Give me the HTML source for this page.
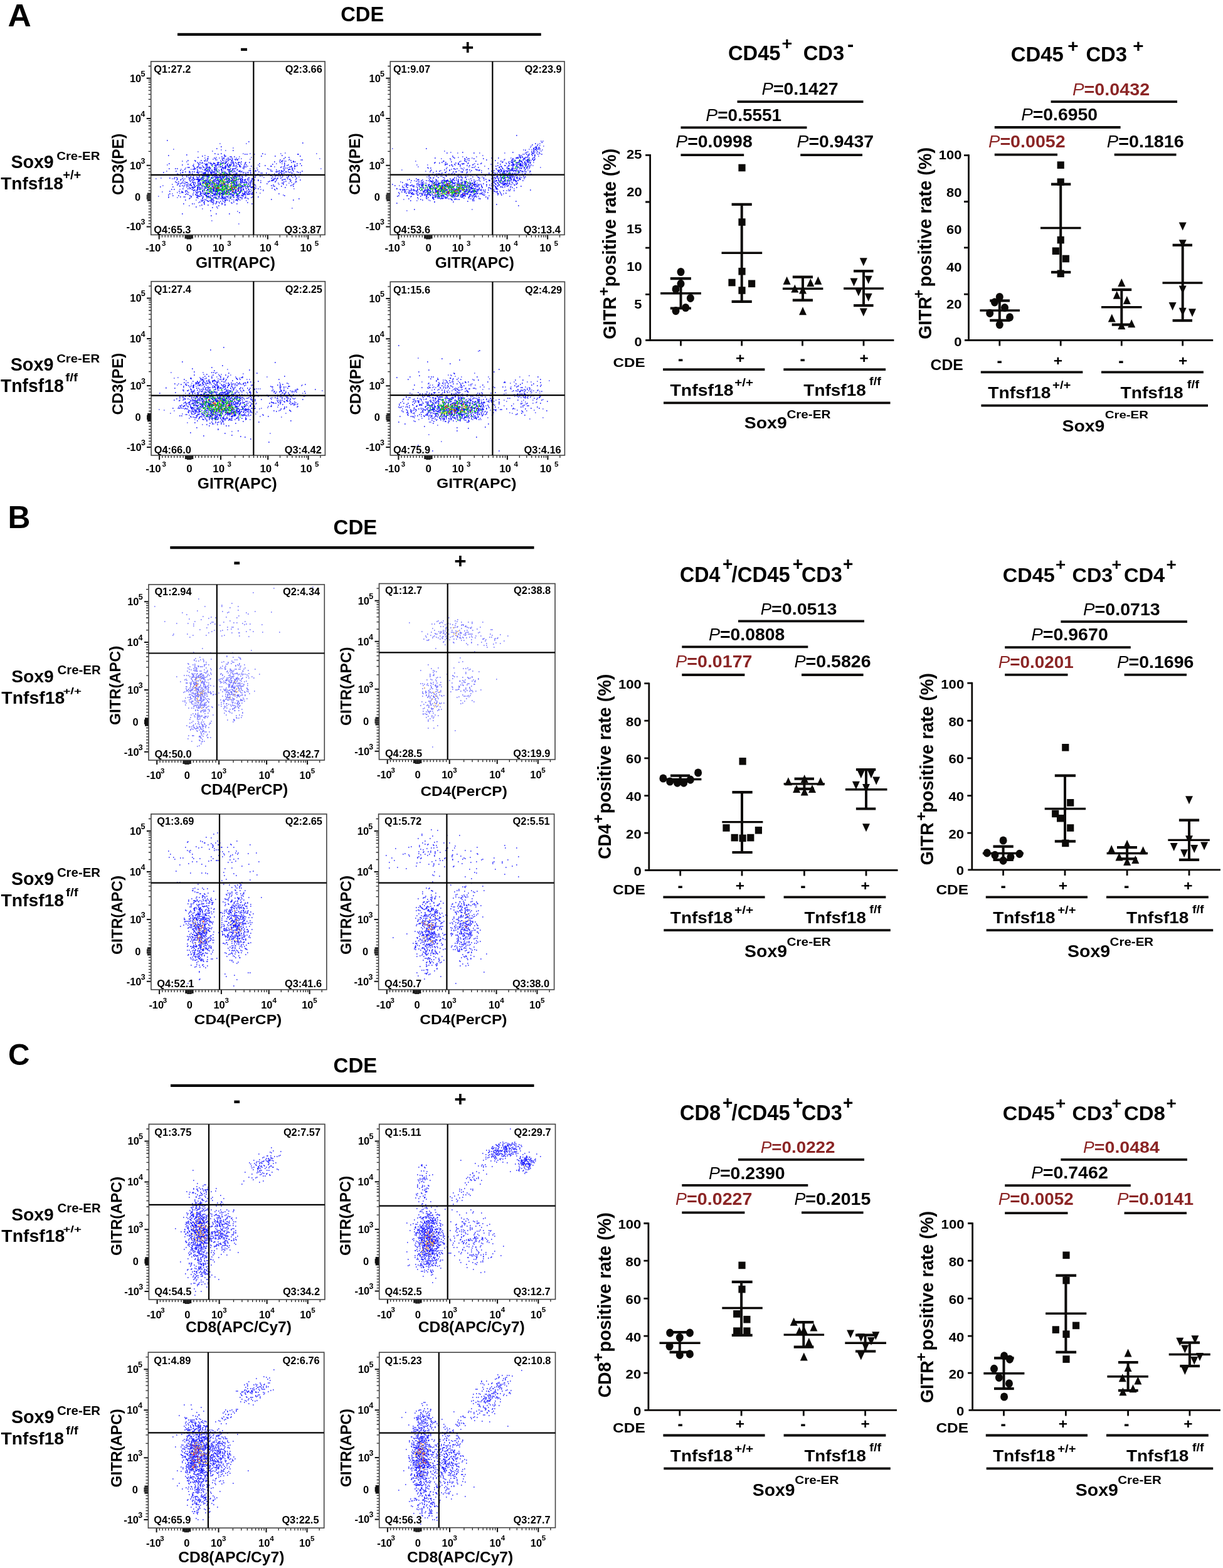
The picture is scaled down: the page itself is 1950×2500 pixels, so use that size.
<!DOCTYPE html>
<html><head><meta charset="utf-8"><title>Figure</title>
<style>html,body{margin:0;padding:0;background:#fff}svg{display:block}text{font-family:"Liberation Sans",Arial,Helvetica,sans-serif}</style>
</head><body>
<svg width="1950" height="2500" viewBox="0 0 1950 2500" shape-rendering="auto">
<rect width="1950" height="2500" fill="#fff"/>
<text x="12.4" y="42.2" font-size="50.43" textLength="37.3" lengthAdjust="spacingAndGlyphs" style="font-weight:bold">A</text>
<text x="543.2" y="33.5" font-size="33.57" textLength="69.0" lengthAdjust="spacingAndGlyphs" style="font-weight:bold">CDE</text>
<path d="M283.0 54.8L862.7 54.8" stroke="#000" stroke-width="4.2"/>
<text x="382.4" y="87.8" font-size="35.00" textLength="13.1" lengthAdjust="spacingAndGlyphs" style="font-weight:bold">-</text>
<text x="736.0" y="86.5" font-size="33.33" style="font-weight:bold">+</text>
<text x="12.6" y="842.2" font-size="49.71" style="font-weight:bold">B</text>
<text x="531.6" y="851.5" font-size="33.00" style="font-weight:bold">CDE</text>
<path d="M271.3 873.1L851.5 873.1" stroke="#000" stroke-width="4.2"/>
<text x="372.0" y="907.3" font-size="37.50" textLength="11.5" lengthAdjust="spacingAndGlyphs" style="font-weight:bold">-</text>
<text x="724.2" y="905.5" font-size="33.14" style="font-weight:bold">+</text>
<text x="12.9" y="1698.2" font-size="47.71" style="font-weight:bold">C</text>
<text x="531.6" y="1709.8" font-size="33.00" style="font-weight:bold">CDE</text>
<path d="M272.0 1730.8L851.5 1730.8" stroke="#000" stroke-width="4.2"/>
<text x="372.0" y="1765.6" font-size="37.50" textLength="11.5" lengthAdjust="spacingAndGlyphs" style="font-weight:bold">-</text>
<text x="724.2" y="1763.8" font-size="33.14" style="font-weight:bold">+</text>
<text x="17.4" y="267.8" font-size="29.71" textLength="68.4" lengthAdjust="spacingAndGlyphs" style="font-weight:bold">Sox9</text>
<text x="90.2" y="255.0" font-size="18.86" textLength="69.2" lengthAdjust="spacingAndGlyphs" style="font-weight:bold">Cre-ER</text>
<text x="1.2" y="301.7" font-size="28.00" style="font-weight:bold">Tnfsf18</text>
<text x="100.2" y="286.2" font-size="19.60" textLength="29.0" lengthAdjust="spacingAndGlyphs" style="font-weight:bold">+/+</text>
<text x="16.7" y="590.6" font-size="29.29" textLength="68.7" lengthAdjust="spacingAndGlyphs" style="font-weight:bold">Sox9</text>
<text x="90.2" y="577.9" font-size="18.43" textLength="68.9" lengthAdjust="spacingAndGlyphs" style="font-weight:bold">Cre-ER</text>
<text x="0.9" y="624.8" font-size="28.97" textLength="100.9" lengthAdjust="spacingAndGlyphs" style="font-weight:bold">Tnfsf18</text>
<text x="104.2" y="608.1" font-size="18.12" textLength="19.8" lengthAdjust="spacingAndGlyphs" style="font-weight:bold">f/f</text>
<text x="18.2" y="1087.7" font-size="28.29" style="font-weight:bold">Sox9</text>
<text x="91.6" y="1075.2" font-size="19.86" textLength="69.0" lengthAdjust="spacingAndGlyphs" style="font-weight:bold">Cre-ER</text>
<text x="2.3" y="1122.2" font-size="28.41" style="font-weight:bold">Tnfsf18</text>
<text x="100.4" y="1106.7" font-size="14.09" textLength="29.6" lengthAdjust="spacingAndGlyphs" style="font-weight:bold">+/+</text>
<text x="17.9" y="1410.8" font-size="29.00" textLength="68.2" lengthAdjust="spacingAndGlyphs" style="font-weight:bold">Sox9</text>
<text x="90.9" y="1397.9" font-size="20.00" textLength="69.1" lengthAdjust="spacingAndGlyphs" style="font-weight:bold">Cre-ER</text>
<text x="1.5" y="1445.1" font-size="28.28" style="font-weight:bold">Tnfsf18</text>
<text x="105.0" y="1429.3" font-size="18.66" textLength="19.7" lengthAdjust="spacingAndGlyphs" style="font-weight:bold">f/f</text>
<text x="18.2" y="1945.5" font-size="28.29" style="font-weight:bold">Sox9</text>
<text x="91.6" y="1933.0" font-size="19.86" textLength="69.0" lengthAdjust="spacingAndGlyphs" style="font-weight:bold">Cre-ER</text>
<text x="2.3" y="1980.0" font-size="28.41" style="font-weight:bold">Tnfsf18</text>
<text x="100.4" y="1964.7" font-size="13.96" textLength="29.6" lengthAdjust="spacingAndGlyphs" style="font-weight:bold">+/+</text>
<text x="17.9" y="2268.7" font-size="28.71" style="font-weight:bold">Sox9</text>
<text x="90.9" y="2255.7" font-size="19.57" textLength="69.1" lengthAdjust="spacingAndGlyphs" style="font-weight:bold">Cre-ER</text>
<text x="1.5" y="2302.9" font-size="28.28" style="font-weight:bold">Tnfsf18</text>
<text x="105.0" y="2287.1" font-size="18.66" textLength="19.7" lengthAdjust="spacingAndGlyphs" style="font-weight:bold">f/f</text>
<path d="M296.4 374.4v4M240.7 318.9h-4M306.2 374.4v4M240.7 309.1h-4M291.7 374.4v4M240.7 323.6h-4M311.3 374.4v4M240.7 304.1h-4M286.9 374.4v4M240.7 328.3h-4M316.3 374.4v4M240.7 299.1h-4M282.2 374.4v4M240.7 333.1h-4M321.4 374.4v4M240.7 294.0h-4M277.5 374.4v4M240.7 337.8h-4M326.4 374.4v4M240.7 289.0h-4M272.7 374.4v4M240.7 342.5h-4M331.5 374.4v4M240.7 284.0h-4M268.0 374.4v4M240.7 347.2h-4M336.5 374.4v4M240.7 278.9h-4M263.2 374.4v4M240.7 352.0h-4M341.6 374.4v4M240.7 273.9h-4M258.5 374.4v4M240.7 356.7h-4M346.6 374.4v4M240.7 268.9h-4M374.3 374.4v4M240.7 241.3h-4M387.5 374.4v4M240.7 228.1h-4M396.9 374.4v4M240.7 218.7h-4M404.2 374.4v4M240.7 211.5h-4M410.2 374.4v4M240.7 205.6h-4M415.2 374.4v4M240.7 200.5h-4M419.6 374.4v4M240.7 196.2h-4M423.4 374.4v4M240.7 192.4h-4M446.2 374.4v4M240.7 169.6h-4M457.5 374.4v4M240.7 158.3h-4M465.6 374.4v4M240.7 150.3h-4M471.8 374.4v4M240.7 144.1h-4M476.9 374.4v4M240.7 139.0h-4M481.2 374.4v4M240.7 134.7h-4M485.0 374.4v4M240.7 131.0h-4M488.2 374.4v4M240.7 127.7h-4M510.6 374.4v4M240.7 105.5h-4" stroke="#222" stroke-width="1.3" fill="none"/>
<path d="M253.7 374.4v7M240.7 361.4h-7M351.7 374.4v7M240.7 263.8h-7M426.8 374.4v7M240.7 188.9h-7M491.2 374.4v7M240.7 124.8h-7" stroke="#111" stroke-width="2" fill="none"/>
<path d="M295.2 374.4v6M240.7 320.1h-6M296.7 374.4v6M240.7 318.6h-6M298.2 374.4v7M240.7 317.1h-7M299.7 374.4v7M240.7 315.6h-7M301.2 374.4v7M240.7 314.1h-7M302.7 374.4v7M240.7 312.6h-7M304.2 374.4v7M240.7 311.1h-7M305.7 374.4v6M240.7 309.6h-6M307.2 374.4v6M240.7 308.1h-6" stroke="#111" stroke-width="1.4" fill="none"/>
<path d="M350 229h1.5m40.5 0h1.5m-22.5 7h1.5m-96.5 2h1.5m74.5 1h1.5m5.5 1h1.5m-22.5 1h1.5m-24.5 1h1.5m137.5 2h1.5m-68.5 1h1.5m9.5 0h1.5m47.5 0h1.5m55.5 0h1.5m-100.5 1h1.5m15.5 0h1.5m-97.5 2h1.5m30.5 1h1.5m6.5 1h1.5m-0.5 0h1.5m12.5 0h1.5m-38.5 1h1.5m54.5 0h1.5m-75.5 1h1.5m21.5 0h1.5m18.5 0h1.5m5.5 0h1.5m-24.5 1h1.5m15.5 0h1.5m8.5 0h1.5m2.5 0h1.5m123.5 0h1.5m-171.5 1h1.5m20.5 0h1.5m2.5 0h1.5m31.5 0h1.5m61.5 0h1.5m-132.5 1h1.5m11.5 0h1.5m0.5 0h1.5m11.5 0h1.5m18.5 0h1.5m80.5 0h1.5m17.5 0h1.5m-155.5 1h1.5m3.5 0h1.5m19.5 0h1.5m10.5 0h1.5m-0.5 0h1.5m2.5 0h1.5m-79.5 1h1.5m37.5 0h1.5m31.5 0h1.5m81.5 0h1.5m6.5 0h1.5m0.5 0h1.5m-159.5 1h1.5m59.5 0h1.5m107.5 0h1.5m-0.5 0h1.5m0.5 0h1.5m-157.5 1h1.5m6.5 0h1.5m8.5 0h1.5m1.5 0h1.5m11.5 0h1.5m5.5 0h1.5m-0.5 0h1.5m2.5 0h1.5m5.5 0h1.5m-53.5 1h1.5m3.5 0h1.5m11.5 0h1.5m5.5 0h1.5m4.5 0h1.5m0.5 0h1.5m4.5 0h1.5m3.5 0h1.5m2.5 0h1.5m18.5 0h1.5m5.5 0h1.5m-66.5 1h1.5m1.5 0h1.5m0.5 0h1.5m4.5 0h1.5m9.5 0h1.5m30.5 0h1.5m59.5 0h1.5m7.5 0h1.5m-142.5 1h1.5m8.5 0h1.5m7.5 0h1.5m18.5 0h1.5m2.5 0h1.5m9.5 0h1.5m15.5 0h1.5m3.5 0h1.5m-119.5 1h1.5m69.5 0h1.5m72.5 0h1.5m-90.5 1h1.5m5.5 0h1.5m11.5 0h1.5m23.5 0h1.5m3.5 0h1.5m79.5 0h1.5m-138.5 1h1.5m40.5 0h1.5m28.5 0h1.5m4.5 0h1.5m74.5 0h1.5m-0.5 0h1.5m-158.5 1h1.5m27.5 0h1.5m3.5 0h1.5m0.5 0h1.5m-0.5 0h1.5m-0.5 0h1.5m-0.5 0h1.5m3.5 0h1.5m31.5 0h1.5m-0.5 0h1.5m43.5 0h1.5m9.5 0h1.5m1.5 0h1.5m8.5 0h1.5m1.5 0h1.5m-167.5 1h1.5m13.5 0h1.5m5.5 0h1.5m9.5 0h1.5m0.5 0h1.5m23.5 0h1.5m3.5 0h1.5m0.5 0h1.5m36.5 0h1.5m55.5 0h1.5m-166.5 1h1.5m17.5 0h1.5m4.5 0h1.5m4.5 0h1.5m1.5 0h1.5m1.5 0h1.5m7.5 0h1.5m0.5 0h1.5m11.5 0h1.5m-0.5 0h1.5m16.5 0h1.5m-0.5 0h1.5m8.5 0h1.5m21.5 0h1.5m41.5 0h1.5m11.5 0h1.5m-0.5 0h1.5m-158.5 1h1.5m8.5 0h1.5m11.5 0h1.5m33.5 0h1.5m29.5 0h1.5m51.5 0h1.5m58.5 0h1.5m-224.5 1h1.5m14.5 0h1.5m16.5 0h1.5m19.5 0h1.5m11.5 0h1.5m4.5 0h1.5m7.5 0h1.5m5.5 0h1.5m48.5 0h1.5m32.5 0h1.5m-149.5 1h1.5m14.5 0h1.5m12.5 0h1.5m-0.5 0h1.5m1.5 0h1.5m2.5 0h1.5m8.5 0h1.5m13.5 0h1.5m-0.5 0h1.5m72.5 0h1.5m11.5 0h1.5m-175.5 1h1.5m44.5 0h1.5m4.5 0h1.5m4.5 0h1.5m2.5 0h1.5m11.5 0h1.5m5.5 0h1.5m21.5 0h1.5m1.5 0h1.5m44.5 0h1.5m-181.5 1h1.5m34.5 0h1.5m12.5 0h1.5m28.5 0h1.5m9.5 0h1.5m11.5 0h1.5m14.5 0h1.5m18.5 0h1.5m24.5 0h1.5m9.5 0h1.5m4.5 0h1.5m-122.5 1h1.5m3.5 0h1.5m2.5 0h1.5m8.5 0h1.5m0.5 0h1.5m15.5 0h1.5m72.5 0h1.5m8.5 0h1.5m3.5 0h1.5m-0.5 0h1.5m6.5 0h1.5m-128.5 1h1.5m3.5 0h1.5m21.5 0h1.5m3.5 0h1.5m0.5 0h1.5m17.5 0h1.5m1.5 0h1.5m53.5 0h1.5m-146.5 1h1.5m17.5 0h1.5m7.5 0h1.5m3.5 0h1.5m28.5 0h1.5m8.5 0h1.5m9.5 0h1.5m16.5 0h1.5m8.5 0h1.5m49.5 0h1.5m-185.5 1h1.5m43.5 0h1.5m7.5 0h1.5m6.5 0h1.5m6.5 0h1.5m4.5 0h1.5m6.5 0h1.5m6.5 0h1.5m23.5 0h1.5m36.5 0h1.5m-117.5 1h1.5m17.5 0h1.5m15.5 0h1.5m16.5 0h1.5m-0.5 0h1.5m3.5 0h1.5m10.5 0h1.5m16.5 0h1.5m-119.5 1h1.5m5.5 0h1.5m19.5 0h1.5m0.5 0h1.5m12.5 0h1.5m0.5 0h1.5m8.5 0h1.5m1.5 0h1.5m14.5 0h1.5m12.5 0h1.5m12.5 0h1.5m13.5 0h1.5m26.5 0h1.5m5.5 0h1.5m1.5 0h1.5m-123.5 1h1.5m-0.5 0h1.5m31.5 0h1.5m13.5 0h1.5m3.5 0h1.5m8.5 0h1.5m-0.5 0h1.5m46.5 0h1.5m-0.5 0h1.5m13.5 0h1.5m3.5 0h1.5m-154.5 1h1.5m18.5 0h1.5m0.5 0h1.5m6.5 0h1.5m10.5 0h1.5m-0.5 0h1.5m5.5 0h1.5m1.5 0h1.5m15.5 0h1.5m2.5 0h1.5m1.5 0h1.5m4.5 0h1.5m24.5 0h1.5m24.5 0h1.5m-147.5 1h1.5m5.5 0h1.5m18.5 0h1.5m15.5 0h1.5m7.5 0h1.5m-0.5 0h1.5m8.5 0h1.5m2.5 0h1.5m7.5 0h1.5m94.5 0h1.5m4.5 0h1.5m-177.5 1h1.5m5.5 0h1.5m7.5 0h1.5m14.5 0h1.5m3.5 0h1.5m1.5 0h1.5m1.5 0h1.5m9.5 0h1.5m13.5 0h1.5m5.5 0h1.5m4.5 0h1.5m2.5 0h1.5m8.5 0h1.5m8.5 0h1.5m12.5 0h1.5m27.5 0h1.5m15.5 0h1.5m-211.5 1h1.5m33.5 0h1.5m8.5 0h1.5m22.5 0h1.5m1.5 0h1.5m0.5 0h1.5m5.5 0h1.5m0.5 0h1.5m4.5 0h1.5m8.5 0h1.5m5.5 0h1.5m10.5 0h1.5m-0.5 0h1.5m3.5 0h1.5m50.5 0h1.5m-185.5 1h1.5m24.5 0h1.5m14.5 0h1.5m2.5 0h1.5m7.5 0h1.5m11.5 0h1.5m35.5 0h1.5m5.5 0h1.5m7.5 0h1.5m0.5 0h1.5m0.5 0h1.5m9.5 0h1.5m15.5 0h1.5m30.5 0h1.5m3.5 0h1.5m-157.5 1h1.5m4.5 0h1.5m22.5 0h1.5m4.5 0h1.5m1.5 0h1.5m-0.5 0h1.5m-0.5 0h1.5m18.5 0h1.5m3.5 0h1.5m19.5 0h1.5m5.5 0h1.5m2.5 0h1.5m0.5 0h1.5m2.5 0h1.5m2.5 0h1.5m-0.5 0h1.5m43.5 0h1.5m-156.5 1h1.5m35.5 0h1.5m9.5 0h1.5m0.5 0h1.5m-0.5 0h1.5m-0.5 0h1.5m5.5 0h1.5m0.5 0h1.5m0.5 0h1.5m0.5 0h1.5m4.5 0h1.5m0.5 0h1.5m9.5 0h1.5m4.5 0h1.5m6.5 0h1.5m9.5 0h1.5m42.5 0h1.5m0.5 0h1.5m-119.5 1h1.5m8.5 0h1.5m-0.5 0h1.5m7.5 0h1.5m0.5 0h1.5m8.5 0h1.5m0.5 0h1.5m9.5 0h1.5m-0.5 0h1.5m-0.5 0h1.5m5.5 0h1.5m0.5 0h1.5m-0.5 0h1.5m9.5 0h1.5m27.5 0h1.5m-125.5 1h1.5m22.5 0h1.5m5.5 0h1.5m6.5 0h1.5m11.5 0h1.5m16.5 0h1.5m8.5 0h1.5m4.5 0h1.5m10.5 0h1.5m0.5 0h1.5m46.5 0h1.5m-146.5 1h1.5m33.5 0h1.5m4.5 0h1.5m2.5 0h1.5m4.5 0h1.5m1.5 0h1.5m-0.5 0h1.5m5.5 0h1.5m1.5 0h1.5m2.5 0h1.5m0.5 0h1.5m5.5 0h1.5m5.5 0h1.5m2.5 0h1.5m87.5 0h1.5m-183.5 1h1.5m4.5 0h1.5m9.5 0h1.5m2.5 0h1.5m11.5 0h1.5m2.5 0h1.5m1.5 0h1.5m-0.5 0h1.5m3.5 0h1.5m16.5 0h1.5m-0.5 0h1.5m2.5 0h1.5m-0.5 0h1.5m14.5 0h1.5m9.5 0h1.5m2.5 0h1.5m70.5 0h1.5m4.5 0h1.5m-179.5 1h1.5m10.5 0h1.5m13.5 0h1.5m4.5 0h1.5m6.5 0h1.5m-0.5 0h1.5m8.5 0h1.5m1.5 0h1.5m3.5 0h1.5m2.5 0h1.5m0.5 0h1.5m2.5 0h1.5m6.5 0h1.5m12.5 0h1.5m3.5 0h1.5m52.5 0h1.5m15.5 0h1.5m-162.5 1h1.5m10.5 0h1.5m14.5 0h1.5m4.5 0h1.5m2.5 0h1.5m0.5 0h1.5m12.5 0h1.5m17.5 0h1.5m6.5 0h1.5m15.5 0h1.5m3.5 0h1.5m64.5 0h1.5m-195.5 1h1.5m25.5 0h1.5m0.5 0h1.5m10.5 0h1.5m13.5 0h1.5m2.5 0h1.5m2.5 0h1.5m5.5 0h1.5m4.5 0h1.5m0.5 0h1.5m1.5 0h1.5m3.5 0h1.5m14.5 0h1.5m9.5 0h1.5m15.5 0h1.5m37.5 0h1.5m-149.5 1h1.5m-0.5 0h1.5m20.5 0h1.5m-0.5 0h1.5m7.5 0h1.5m0.5 0h1.5m4.5 0h1.5m5.5 0h1.5m-0.5 0h1.5m1.5 0h1.5m0.5 0h1.5m0.5 0h1.5m3.5 0h1.5m0.5 0h1.5m1.5 0h1.5m0.5 0h1.5m6.5 0h1.5m0.5 0h1.5m0.5 0h1.5m2.5 0h1.5m6.5 0h1.5m1.5 0h1.5m63.5 0h1.5m7.5 0h1.5m-207.5 1h1.5m25.5 0h1.5m13.5 0h1.5m2.5 0h1.5m32.5 0h1.5m2.5 0h1.5m1.5 0h1.5m6.5 0h1.5m3.5 0h1.5m6.5 0h1.5m2.5 0h1.5m2.5 0h1.5m3.5 0h1.5m-0.5 0h1.5m3.5 0h1.5m6.5 0h1.5m-96.5 1h1.5m10.5 0h1.5m13.5 0h1.5m3.5 0h1.5m4.5 0h1.5m-0.5 0h1.5m2.5 0h1.5m1.5 0h1.5m3.5 0h1.5m6.5 0h1.5m-0.5 0h1.5m-0.5 0h1.5m0.5 0h1.5m4.5 0h1.5m2.5 0h1.5m1.5 0h1.5m0.5 0h1.5m6.5 0h1.5m0.5 0h1.5m0.5 0h1.5m2.5 0h1.5m-0.5 0h1.5m11.5 0h1.5m26.5 0h1.5m-144.5 1h1.5m16.5 0h1.5m3.5 0h1.5m4.5 0h1.5m14.5 0h1.5m6.5 0h1.5m0.5 0h1.5m2.5 0h1.5m6.5 0h1.5m15.5 0h1.5m9.5 0h1.5m-0.5 0h1.5m11.5 0h1.5m-97.5 1h1.5m10.5 0h1.5m2.5 0h1.5m8.5 0h1.5m2.5 0h1.5m4.5 0h1.5m-0.5 0h1.5m2.5 0h1.5m0.5 0h1.5m3.5 0h1.5m0.5 0h1.5m4.5 0h1.5m5.5 0h1.5m5.5 0h1.5m-68.5 1h1.5m9.5 0h1.5m2.5 0h1.5m7.5 0h1.5m6.5 0h1.5m1.5 0h1.5m13.5 0h1.5m-0.5 0h1.5m1.5 0h1.5m2.5 0h1.5m11.5 0h1.5m-0.5 0h1.5m1.5 0h1.5m6.5 0h1.5m47.5 0h1.5m-120.5 1h1.5m3.5 0h1.5m4.5 0h1.5m3.5 0h1.5m2.5 0h1.5m1.5 0h1.5m-0.5 0h1.5m-0.5 0h1.5m3.5 0h1.5m0.5 0h1.5m2.5 0h1.5m0.5 0h1.5m12.5 0h1.5m4.5 0h1.5m0.5 0h1.5m0.5 0h1.5m-0.5 0h1.5m9.5 0h1.5m8.5 0h1.5m61.5 0h1.5m-183.5 1h1.5m17.5 0h1.5m-0.5 0h1.5m11.5 0h1.5m9.5 0h1.5m6.5 0h1.5m6.5 0h1.5m-0.5 0h1.5m-0.5 0h1.5m14.5 0h1.5m1.5 0h1.5m3.5 0h1.5m0.5 0h1.5m1.5 0h1.5m5.5 0h1.5m2.5 0h1.5m9.5 0h1.5m14.5 0h1.5m-109.5 1h1.5m0.5 0h1.5m2.5 0h1.5m15.5 0h1.5m2.5 0h1.5m6.5 0h1.5m11.5 0h1.5m8.5 0h1.5m5.5 0h1.5m2.5 0h1.5m5.5 0h1.5m-0.5 0h1.5m33.5 0h1.5m17.5 0h1.5m-126.5 1h1.5m13.5 0h1.5m9.5 0h1.5m17.5 0h1.5m2.5 0h1.5m36.5 0h1.5m17.5 0h1.5m-131.5 1h1.5m20.5 0h1.5m18.5 0h1.5m0.5 0h1.5m4.5 0h1.5m2.5 0h1.5m11.5 0h1.5m3.5 0h1.5m14.5 0h1.5m0.5 0h1.5m1.5 0h1.5m13.5 0h1.5m-140.5 1h1.5m59.5 0h1.5m14.5 0h1.5m0.5 0h1.5m6.5 0h1.5m-0.5 0h1.5m6.5 0h1.5m1.5 0h1.5m23.5 0h1.5m15.5 0h1.5m-118.5 1h1.5m16.5 0h1.5m6.5 0h1.5m27.5 0h1.5m10.5 0h1.5m5.5 0h1.5m1.5 0h1.5m2.5 0h1.5m4.5 0h1.5m-0.5 0h1.5m0.5 0h1.5m1.5 0h1.5m5.5 0h1.5m5.5 0h1.5m17.5 0h1.5m-123.5 1h1.5m35.5 0h1.5m1.5 0h1.5m-0.5 0h1.5m2.5 0h1.5m-0.5 0h1.5m4.5 0h1.5m12.5 0h1.5m0.5 0h1.5m2.5 0h1.5m14.5 0h1.5m25.5 0h1.5m11.5 0h1.5m-141.5 1h1.5m31.5 0h1.5m10.5 0h1.5m8.5 0h1.5m11.5 0h1.5m2.5 0h1.5m0.5 0h1.5m0.5 0h1.5m1.5 0h1.5m4.5 0h1.5m-0.5 0h1.5m3.5 0h1.5m0.5 0h1.5m3.5 0h1.5m13.5 0h1.5m1.5 0h1.5m1.5 0h1.5m2.5 0h1.5m0.5 0h1.5m-0.5 0h1.5m0.5 0h1.5m-85.5 1h1.5m5.5 0h1.5m-0.5 0h1.5m3.5 0h1.5m8.5 0h1.5m6.5 0h1.5m3.5 0h1.5m-0.5 0h1.5m0.5 0h1.5m9.5 0h1.5m6.5 0h1.5m19.5 0h1.5m4.5 0h1.5m-97.5 1h1.5m32.5 0h1.5m-0.5 0h1.5m-0.5 0h1.5m1.5 0h1.5m6.5 0h1.5m12.5 0h1.5m0.5 0h1.5m5.5 0h1.5m0.5 0h1.5m7.5 0h1.5m61.5 0h1.5m-139.5 1h1.5m6.5 0h1.5m14.5 0h1.5m0.5 0h1.5m3.5 0h1.5m7.5 0h1.5m9.5 0h1.5m5.5 0h1.5m3.5 0h1.5m6.5 0h1.5m0.5 0h1.5m-135.5 1h1.5m74.5 0h1.5m3.5 0h1.5m3.5 0h1.5m7.5 0h1.5m0.5 0h1.5m8.5 0h1.5m0.5 0h1.5m-0.5 0h1.5m3.5 0h1.5m18.5 0h1.5m-96.5 1h1.5m10.5 0h1.5m8.5 0h1.5m13.5 0h1.5m17.5 0h1.5m4.5 0h1.5m1.5 0h1.5m4.5 0h1.5m1.5 0h1.5m1.5 0h1.5m-102.5 1h1.5m12.5 0h1.5m58.5 0h1.5m4.5 0h1.5m29.5 0h1.5m2.5 0h1.5m5.5 0h1.5m-76.5 1h1.5m12.5 0h1.5m6.5 0h1.5m1.5 0h1.5m2.5 0h1.5m5.5 0h1.5m3.5 0h1.5m5.5 0h1.5m1.5 0h1.5m25.5 0h1.5m-93.5 1h1.5m19.5 0h1.5m26.5 0h1.5m5.5 0h1.5m1.5 0h1.5m17.5 0h1.5m-42.5 1h1.5m29.5 0h1.5m9.5 0h1.5m-69.5 1h1.5m40.5 0h1.5m9.5 0h1.5m5.5 0h1.5m1.5 0h1.5m5.5 0h1.5m-47.5 1h1.5m0.5 0h1.5m52.5 0h1.5m-61.5 1h1.5m11.5 0h1.5m18.5 0h1.5m-22.5 1h1.5m2.5 0h1.5m-33.5 1h1.5m6.5 0h1.5m23.5 0h1.5m6.5 0h1.5m-0.5 0h1.5m8.5 0h1.5m-20.5 1h1.5m-41.5 1h1.5m32.5 0h1.5m9.5 0h1.5m-30.5 1h1.5m12.5 0h1.5m12.5 0h1.5m-53.5 2h1.5m15.5 0h1.5m26.5 4h1.5m117.5 0h1.5m-144.5 1h1.5m54.5 4h1.5m-42.5 15h1.5m41.5 5h1.5" stroke="#4848ff" stroke-width="1.5"/>
<path d="M266 224h1.5m128.5 2h1.5m84.5 2h1.5m-131.5 6h1.5m-8.5 3h1.5m24.5 3h1.5m-30.5 5h1.5m8.5 0h1.5m64.5 0h1.5m-72.5 1h1.5m41.5 0h1.5m1.5 0h1.5m79.5 0h1.5m-0.5 0h1.5m-179.5 1h1.5m58.5 0h1.5m-90.5 1h1.5m179.5 0h1.5m-128.5 1h1.5m33.5 0h1.5m0.5 0h1.5m55.5 0h1.5m20.5 0h1.5m38.5 0h1.5m-148.5 1h1.5m20.5 0h1.5m13.5 0h1.5m3.5 0h1.5m-59.5 1h1.5m137.5 0h1.5m4.5 0h1.5m-120.5 1h1.5m12.5 0h1.5m0.5 0h1.5m4.5 0h1.5m-34.5 1h1.5m-0.5 0h1.5m10.5 0h1.5m10.5 0h1.5m95.5 0h1.5m-92.5 1h1.5m1.5 0h1.5m1.5 0h1.5m5.5 0h1.5m1.5 0h1.5m-51.5 1h1.5m25.5 0h1.5m14.5 0h1.5m3.5 0h1.5m1.5 0h1.5m66.5 0h1.5m33.5 0h1.5m-183.5 1h1.5m9.5 0h1.5m8.5 0h1.5m33.5 0h1.5m12.5 0h1.5m79.5 0h1.5m11.5 0h1.5m-153.5 1h1.5m13.5 0h1.5m32.5 0h1.5m86.5 0h1.5m17.5 0h1.5m-116.5 1h1.5m15.5 0h1.5m0.5 0h1.5m11.5 0h1.5m51.5 0h1.5m10.5 0h1.5m16.5 0h1.5m-150.5 1h1.5m26.5 0h1.5m0.5 0h1.5m10.5 0h1.5m13.5 0h1.5m2.5 0h1.5m-0.5 0h1.5m-0.5 0h1.5m8.5 0h1.5m4.5 0h1.5m47.5 0h1.5m16.5 0h1.5m-143.5 1h1.5m16.5 0h1.5m9.5 0h1.5m1.5 0h1.5m3.5 0h1.5m8.5 0h1.5m0.5 0h1.5m-0.5 0h1.5m79.5 0h1.5m-185.5 1h1.5m45.5 0h1.5m17.5 0h1.5m-0.5 0h1.5m2.5 0h1.5m-0.5 0h1.5m-0.5 0h1.5m7.5 0h1.5m0.5 0h1.5m3.5 0h1.5m16.5 0h1.5m12.5 0h1.5m21.5 0h1.5m58.5 0h1.5m3.5 0h1.5m-180.5 1h1.5m27.5 0h1.5m8.5 0h1.5m6.5 0h1.5m14.5 0h1.5m2.5 0h1.5m0.5 0h1.5m2.5 0h1.5m5.5 0h1.5m53.5 0h1.5m17.5 0h1.5m-164.5 1h1.5m24.5 0h1.5m9.5 0h1.5m-0.5 0h1.5m-0.5 0h1.5m-0.5 0h1.5m11.5 0h1.5m0.5 0h1.5m-0.5 0h1.5m0.5 0h1.5m0.5 0h1.5m9.5 0h1.5m2.5 0h1.5m5.5 0h1.5m7.5 0h1.5m6.5 0h1.5m1.5 0h1.5m65.5 0h1.5m8.5 0h1.5m-163.5 1h1.5m28.5 0h1.5m3.5 0h1.5m10.5 0h1.5m3.5 0h1.5m1.5 0h1.5m1.5 0h1.5m-0.5 0h1.5m-0.5 0h1.5m7.5 0h1.5m4.5 0h1.5m38.5 0h1.5m33.5 0h1.5m14.5 0h1.5m5.5 0h1.5m-173.5 1h1.5m34.5 0h1.5m17.5 0h1.5m6.5 0h1.5m1.5 0h1.5m5.5 0h1.5m17.5 0h1.5m11.5 0h1.5m16.5 0h1.5m-0.5 0h1.5m19.5 0h1.5m9.5 0h1.5m3.5 0h1.5m-155.5 1h1.5m6.5 0h1.5m3.5 0h1.5m0.5 0h1.5m1.5 0h1.5m16.5 0h1.5m6.5 0h1.5m-0.5 0h1.5m2.5 0h1.5m11.5 0h1.5m3.5 0h1.5m-0.5 0h1.5m4.5 0h1.5m72.5 0h1.5m4.5 0h1.5m-170.5 1h1.5m-0.5 0h1.5m6.5 0h1.5m7.5 0h1.5m4.5 0h1.5m7.5 0h1.5m6.5 0h1.5m11.5 0h1.5m-0.5 0h1.5m1.5 0h1.5m-0.5 0h1.5m27.5 0h1.5m57.5 0h1.5m-131.5 1h1.5m10.5 0h1.5m3.5 0h1.5m-0.5 0h1.5m5.5 0h1.5m1.5 0h1.5m8.5 0h1.5m1.5 0h1.5m94.5 0h1.5m1.5 0h1.5m-189.5 1h1.5m8.5 0h1.5m1.5 0h1.5m25.5 0h1.5m0.5 0h1.5m15.5 0h1.5m23.5 0h1.5m4.5 0h1.5m9.5 0h1.5m0.5 0h1.5m0.5 0h1.5m12.5 0h1.5m14.5 0h1.5m20.5 0h1.5m37.5 0h1.5m2.5 0h1.5m-176.5 1h1.5m11.5 0h1.5m0.5 0h1.5m16.5 0h1.5m5.5 0h1.5m5.5 0h1.5m1.5 0h1.5m6.5 0h1.5m9.5 0h1.5m1.5 0h1.5m92.5 0h1.5m-0.5 0h1.5m-148.5 1h1.5m9.5 0h1.5m-0.5 0h1.5m-0.5 0h1.5m3.5 0h1.5m3.5 0h1.5m2.5 0h1.5m-0.5 0h1.5m9.5 0h1.5m9.5 0h1.5m-0.5 0h1.5m3.5 0h1.5m38.5 0h1.5m19.5 0h1.5m7.5 0h1.5m11.5 0h1.5m4.5 0h1.5m5.5 0h1.5m-180.5 1h1.5m39.5 0h1.5m0.5 0h1.5m1.5 0h1.5m34.5 0h1.5m11.5 0h1.5m14.5 0h1.5m7.5 0h1.5m39.5 0h1.5m-169.5 1h1.5m47.5 0h1.5m3.5 0h1.5m2.5 0h1.5m5.5 0h1.5m6.5 0h1.5m9.5 0h1.5m1.5 0h1.5m3.5 0h1.5m6.5 0h1.5m-0.5 0h1.5m24.5 0h1.5m24.5 0h1.5m9.5 0h1.5m3.5 0h1.5m0.5 0h1.5m14.5 0h1.5m12.5 0h1.5m-187.5 1h1.5m5.5 0h1.5m2.5 0h1.5m1.5 0h1.5m3.5 0h1.5m2.5 0h1.5m1.5 0h1.5m8.5 0h1.5m7.5 0h1.5m-0.5 0h1.5m-0.5 0h1.5m14.5 0h1.5m6.5 0h1.5m6.5 0h1.5m6.5 0h1.5m0.5 0h1.5m26.5 0h1.5m26.5 0h1.5m-0.5 0h1.5m13.5 0h1.5m1.5 0h1.5m12.5 0h1.5m-214.5 1h1.5m28.5 0h1.5m-0.5 0h1.5m8.5 0h1.5m10.5 0h1.5m0.5 0h1.5m8.5 0h1.5m0.5 0h1.5m6.5 0h1.5m0.5 0h1.5m0.5 0h1.5m12.5 0h1.5m-0.5 0h1.5m-0.5 0h1.5m1.5 0h1.5m27.5 0h1.5m6.5 0h1.5m2.5 0h1.5m45.5 0h1.5m13.5 0h1.5m12.5 0h1.5m1.5 0h1.5m-192.5 1h1.5m26.5 0h1.5m-0.5 0h1.5m6.5 0h1.5m-0.5 0h1.5m0.5 0h1.5m6.5 0h1.5m0.5 0h1.5m5.5 0h1.5m12.5 0h1.5m0.5 0h1.5m15.5 0h1.5m38.5 0h1.5m5.5 0h1.5m18.5 0h1.5m6.5 0h1.5m10.5 0h1.5m-159.5 1h1.5m16.5 0h1.5m0.5 0h1.5m13.5 0h1.5m0.5 0h1.5m6.5 0h1.5m8.5 0h1.5m2.5 0h1.5m24.5 0h1.5m51.5 0h1.5m2.5 0h1.5m-0.5 0h1.5m-167.5 1h1.5m16.5 0h1.5m21.5 0h1.5m4.5 0h1.5m0.5 0h1.5m3.5 0h1.5m23.5 0h1.5m-0.5 0h1.5m1.5 0h1.5m-0.5 0h1.5m3.5 0h1.5m1.5 0h1.5m-0.5 0h1.5m-0.5 0h1.5m4.5 0h1.5m10.5 0h1.5m13.5 0h1.5m16.5 0h1.5m39.5 0h1.5m7.5 0h1.5m-225.5 1h1.5m52.5 0h1.5m3.5 0h1.5m8.5 0h1.5m5.5 0h1.5m8.5 0h1.5m3.5 0h1.5m3.5 0h1.5m9.5 0h1.5m0.5 0h1.5m3.5 0h1.5m4.5 0h1.5m2.5 0h1.5m1.5 0h1.5m5.5 0h1.5m0.5 0h1.5m18.5 0h1.5m25.5 0h1.5m8.5 0h1.5m2.5 0h1.5m0.5 0h1.5m-154.5 1h1.5m15.5 0h1.5m3.5 0h1.5m0.5 0h1.5m5.5 0h1.5m0.5 0h1.5m4.5 0h1.5m4.5 0h1.5m2.5 0h1.5m9.5 0h1.5m-0.5 0h1.5m44.5 0h1.5m22.5 0h1.5m-0.5 0h1.5m-143.5 1h1.5m5.5 0h1.5m23.5 0h1.5m1.5 0h1.5m2.5 0h1.5m1.5 0h1.5m7.5 0h1.5m0.5 0h1.5m-0.5 0h1.5m4.5 0h1.5m2.5 0h1.5m2.5 0h1.5m4.5 0h1.5m4.5 0h1.5m1.5 0h1.5m-0.5 0h1.5m-0.5 0h1.5m2.5 0h1.5m0.5 0h1.5m20.5 0h1.5m9.5 0h1.5m22.5 0h1.5m6.5 0h1.5m2.5 0h1.5m7.5 0h1.5m3.5 0h1.5m4.5 0h1.5m-168.5 1h1.5m8.5 0h1.5m2.5 0h1.5m11.5 0h1.5m-0.5 0h1.5m13.5 0h1.5m-0.5 0h1.5m4.5 0h1.5m0.5 0h1.5m0.5 0h1.5m2.5 0h1.5m9.5 0h1.5m2.5 0h1.5m7.5 0h1.5m-0.5 0h1.5m18.5 0h1.5m26.5 0h1.5m23.5 0h1.5m-182.5 1h1.5m1.5 0h1.5m24.5 0h1.5m5.5 0h1.5m6.5 0h1.5m-0.5 0h1.5m12.5 0h1.5m5.5 0h1.5m0.5 0h1.5m0.5 0h1.5m-0.5 0h1.5m0.5 0h1.5m3.5 0h1.5m3.5 0h1.5m4.5 0h1.5m2.5 0h1.5m84.5 0h1.5m-188.5 1h1.5m30.5 0h1.5m4.5 0h1.5m10.5 0h1.5m0.5 0h1.5m12.5 0h1.5m-0.5 0h1.5m4.5 0h1.5m0.5 0h1.5m4.5 0h1.5m8.5 0h1.5m1.5 0h1.5m2.5 0h1.5m2.5 0h1.5m-0.5 0h1.5m21.5 0h1.5m40.5 0h1.5m2.5 0h1.5m3.5 0h1.5m23.5 0h1.5m-196.5 1h1.5m3.5 0h1.5m23.5 0h1.5m5.5 0h1.5m4.5 0h1.5m8.5 0h1.5m20.5 0h1.5m-0.5 0h1.5m10.5 0h1.5m2.5 0h1.5m11.5 0h1.5m1.5 0h1.5m7.5 0h1.5m5.5 0h1.5m-0.5 0h1.5m-0.5 0h1.5m31.5 0h1.5m3.5 0h1.5m15.5 0h1.5m-158.5 1h1.5m6.5 0h1.5m-0.5 0h1.5m1.5 0h1.5m-0.5 0h1.5m-0.5 0h1.5m-0.5 0h1.5m-0.5 0h1.5m-0.5 0h1.5m-0.5 0h1.5m2.5 0h1.5m10.5 0h1.5m5.5 0h1.5m2.5 0h1.5m2.5 0h1.5m1.5 0h1.5m3.5 0h1.5m0.5 0h1.5m2.5 0h1.5m-0.5 0h1.5m10.5 0h1.5m0.5 0h1.5m2.5 0h1.5m1.5 0h1.5m64.5 0h1.5m0.5 0h1.5m5.5 0h1.5m-0.5 0h1.5m7.5 0h1.5m-185.5 1h1.5m3.5 0h1.5m11.5 0h1.5m-0.5 0h1.5m7.5 0h1.5m10.5 0h1.5m0.5 0h1.5m9.5 0h1.5m9.5 0h1.5m7.5 0h1.5m8.5 0h1.5m2.5 0h1.5m7.5 0h1.5m1.5 0h1.5m1.5 0h1.5m-0.5 0h1.5m2.5 0h1.5m0.5 0h1.5m3.5 0h1.5m2.5 0h1.5m4.5 0h1.5m22.5 0h1.5m3.5 0h1.5m7.5 0h1.5m-0.5 0h1.5m26.5 0h1.5m-177.5 1h1.5m4.5 0h1.5m6.5 0h1.5m-0.5 0h1.5m-0.5 0h1.5m5.5 0h1.5m-0.5 0h1.5m17.5 0h1.5m0.5 0h1.5m-0.5 0h1.5m1.5 0h1.5m1.5 0h1.5m7.5 0h1.5m3.5 0h1.5m-0.5 0h1.5m1.5 0h1.5m2.5 0h1.5m5.5 0h1.5m-0.5 0h1.5m14.5 0h1.5m9.5 0h1.5m19.5 0h1.5m-0.5 0h1.5m-0.5 0h1.5m27.5 0h1.5m-161.5 1h1.5m11.5 0h1.5m-0.5 0h1.5m8.5 0h1.5m3.5 0h1.5m1.5 0h1.5m1.5 0h1.5m0.5 0h1.5m0.5 0h1.5m5.5 0h1.5m-0.5 0h1.5m1.5 0h1.5m-0.5 0h1.5m0.5 0h1.5m4.5 0h1.5m2.5 0h1.5m0.5 0h1.5m-0.5 0h1.5m1.5 0h1.5m11.5 0h1.5m12.5 0h1.5m28.5 0h1.5m24.5 0h1.5m5.5 0h1.5m7.5 0h1.5m-193.5 1h1.5m3.5 0h1.5m20.5 0h1.5m7.5 0h1.5m7.5 0h1.5m-0.5 0h1.5m4.5 0h1.5m-0.5 0h1.5m5.5 0h1.5m7.5 0h1.5m-0.5 0h1.5m8.5 0h1.5m0.5 0h1.5m2.5 0h1.5m6.5 0h1.5m0.5 0h1.5m5.5 0h1.5m2.5 0h1.5m4.5 0h1.5m2.5 0h1.5m3.5 0h1.5m24.5 0h1.5m9.5 0h1.5m12.5 0h1.5m-172.5 1h1.5m13.5 0h1.5m0.5 0h1.5m7.5 0h1.5m0.5 0h1.5m4.5 0h1.5m1.5 0h1.5m2.5 0h1.5m0.5 0h1.5m3.5 0h1.5m1.5 0h1.5m0.5 0h1.5m3.5 0h1.5m0.5 0h1.5m20.5 0h1.5m-0.5 0h1.5m5.5 0h1.5m0.5 0h1.5m1.5 0h1.5m5.5 0h1.5m-0.5 0h1.5m0.5 0h1.5m0.5 0h1.5m0.5 0h1.5m1.5 0h1.5m3.5 0h1.5m-0.5 0h1.5m14.5 0h1.5m-127.5 1h1.5m31.5 0h1.5m0.5 0h1.5m2.5 0h1.5m4.5 0h1.5m1.5 0h1.5m1.5 0h1.5m2.5 0h1.5m-0.5 0h1.5m-0.5 0h1.5m0.5 0h1.5m2.5 0h1.5m2.5 0h1.5m10.5 0h1.5m1.5 0h1.5m3.5 0h1.5m71.5 0h1.5m0.5 0h1.5m-169.5 1h1.5m-0.5 0h1.5m1.5 0h1.5m5.5 0h1.5m12.5 0h1.5m5.5 0h1.5m0.5 0h1.5m0.5 0h1.5m5.5 0h1.5m-0.5 0h1.5m0.5 0h1.5m3.5 0h1.5m4.5 0h1.5m-0.5 0h1.5m-0.5 0h1.5m5.5 0h1.5m6.5 0h1.5m-0.5 0h1.5m3.5 0h1.5m2.5 0h1.5m4.5 0h1.5m-0.5 0h1.5m1.5 0h1.5m13.5 0h1.5m1.5 0h1.5m2.5 0h1.5m24.5 0h1.5m-123.5 1h1.5m3.5 0h1.5m8.5 0h1.5m-0.5 0h1.5m6.5 0h1.5m1.5 0h1.5m-0.5 0h1.5m4.5 0h1.5m2.5 0h1.5m4.5 0h1.5m-0.5 0h1.5m1.5 0h1.5m1.5 0h1.5m1.5 0h1.5m13.5 0h1.5m6.5 0h1.5m0.5 0h1.5m-0.5 0h1.5m10.5 0h1.5m6.5 0h1.5m46.5 0h1.5m14.5 0h1.5m-186.5 1h1.5m14.5 0h1.5m3.5 0h1.5m4.5 0h1.5m4.5 0h1.5m11.5 0h1.5m-0.5 0h1.5m-0.5 0h1.5m3.5 0h1.5m4.5 0h1.5m8.5 0h1.5m0.5 0h1.5m4.5 0h1.5m1.5 0h1.5m5.5 0h1.5m3.5 0h1.5m-0.5 0h1.5m0.5 0h1.5m19.5 0h1.5m6.5 0h1.5m27.5 0h1.5m-146.5 1h1.5m1.5 0h1.5m9.5 0h1.5m3.5 0h1.5m2.5 0h1.5m2.5 0h1.5m2.5 0h1.5m6.5 0h1.5m-0.5 0h1.5m14.5 0h1.5m-0.5 0h1.5m4.5 0h1.5m-0.5 0h1.5m3.5 0h1.5m0.5 0h1.5m-0.5 0h1.5m5.5 0h1.5m1.5 0h1.5m3.5 0h1.5m-0.5 0h1.5m3.5 0h1.5m0.5 0h1.5m3.5 0h1.5m6.5 0h1.5m32.5 0h1.5m29.5 0h1.5m-178.5 1h1.5m35.5 0h1.5m4.5 0h1.5m2.5 0h1.5m3.5 0h1.5m0.5 0h1.5m1.5 0h1.5m3.5 0h1.5m1.5 0h1.5m-0.5 0h1.5m-0.5 0h1.5m3.5 0h1.5m2.5 0h1.5m3.5 0h1.5m6.5 0h1.5m9.5 0h1.5m9.5 0h1.5m4.5 0h1.5m32.5 0h1.5m9.5 0h1.5m17.5 0h1.5m-213.5 1h1.5m18.5 0h1.5m20.5 0h1.5m8.5 0h1.5m1.5 0h1.5m3.5 0h1.5m9.5 0h1.5m0.5 0h1.5m0.5 0h1.5m0.5 0h1.5m23.5 0h1.5m6.5 0h1.5m2.5 0h1.5m-0.5 0h1.5m1.5 0h1.5m0.5 0h1.5m3.5 0h1.5m9.5 0h1.5m2.5 0h1.5m2.5 0h1.5m1.5 0h1.5m10.5 0h1.5m-114.5 1h1.5m3.5 0h1.5m1.5 0h1.5m3.5 0h1.5m-0.5 0h1.5m1.5 0h1.5m6.5 0h1.5m2.5 0h1.5m0.5 0h1.5m5.5 0h1.5m-0.5 0h1.5m5.5 0h1.5m-0.5 0h1.5m-0.5 0h1.5m3.5 0h1.5m3.5 0h1.5m-0.5 0h1.5m14.5 0h1.5m2.5 0h1.5m-0.5 0h1.5m0.5 0h1.5m-0.5 0h1.5m-0.5 0h1.5m7.5 0h1.5m4.5 0h1.5m-0.5 0h1.5m2.5 0h1.5m47.5 0h1.5m-152.5 1h1.5m2.5 0h1.5m5.5 0h1.5m10.5 0h1.5m0.5 0h1.5m6.5 0h1.5m3.5 0h1.5m1.5 0h1.5m-0.5 0h1.5m1.5 0h1.5m9.5 0h1.5m0.5 0h1.5m4.5 0h1.5m0.5 0h1.5m-0.5 0h1.5m1.5 0h1.5m32.5 0h1.5m24.5 0h1.5m-143.5 1h1.5m6.5 0h1.5m1.5 0h1.5m11.5 0h1.5m1.5 0h1.5m15.5 0h1.5m2.5 0h1.5m5.5 0h1.5m5.5 0h1.5m4.5 0h1.5m-0.5 0h1.5m-0.5 0h1.5m3.5 0h1.5m-0.5 0h1.5m-0.5 0h1.5m0.5 0h1.5m7.5 0h1.5m6.5 0h1.5m3.5 0h1.5m9.5 0h1.5m6.5 0h1.5m28.5 0h1.5m-169.5 1h1.5m2.5 0h1.5m35.5 0h1.5m1.5 0h1.5m6.5 0h1.5m3.5 0h1.5m-0.5 0h1.5m-0.5 0h1.5m2.5 0h1.5m1.5 0h1.5m-0.5 0h1.5m0.5 0h1.5m0.5 0h1.5m-0.5 0h1.5m1.5 0h1.5m0.5 0h1.5m-0.5 0h1.5m3.5 0h1.5m3.5 0h1.5m0.5 0h1.5m1.5 0h1.5m2.5 0h1.5m-0.5 0h1.5m14.5 0h1.5m7.5 0h1.5m7.5 0h1.5m30.5 0h1.5m-128.5 1h1.5m2.5 0h1.5m7.5 0h1.5m6.5 0h1.5m3.5 0h1.5m2.5 0h1.5m2.5 0h1.5m5.5 0h1.5m3.5 0h1.5m5.5 0h1.5m0.5 0h1.5m2.5 0h1.5m0.5 0h1.5m2.5 0h1.5m2.5 0h1.5m-0.5 0h1.5m2.5 0h1.5m1.5 0h1.5m7.5 0h1.5m-102.5 1h1.5m0.5 0h1.5m9.5 0h1.5m12.5 0h1.5m1.5 0h1.5m8.5 0h1.5m2.5 0h1.5m0.5 0h1.5m2.5 0h1.5m-0.5 0h1.5m0.5 0h1.5m-0.5 0h1.5m-0.5 0h1.5m0.5 0h1.5m0.5 0h1.5m0.5 0h1.5m3.5 0h1.5m1.5 0h1.5m1.5 0h1.5m-0.5 0h1.5m1.5 0h1.5m2.5 0h1.5m2.5 0h1.5m2.5 0h1.5m-0.5 0h1.5m7.5 0h1.5m-124.5 1h1.5m13.5 0h1.5m31.5 0h1.5m2.5 0h1.5m16.5 0h1.5m1.5 0h1.5m-0.5 0h1.5m-0.5 0h1.5m6.5 0h1.5m-0.5 0h1.5m1.5 0h1.5m1.5 0h1.5m5.5 0h1.5m2.5 0h1.5m1.5 0h1.5m-0.5 0h1.5m2.5 0h1.5m8.5 0h1.5m6.5 0h1.5m-108.5 1h1.5m3.5 0h1.5m1.5 0h1.5m14.5 0h1.5m0.5 0h1.5m5.5 0h1.5m10.5 0h1.5m-0.5 0h1.5m4.5 0h1.5m0.5 0h1.5m0.5 0h1.5m13.5 0h1.5m-0.5 0h1.5m0.5 0h1.5m4.5 0h1.5m-0.5 0h1.5m10.5 0h1.5m6.5 0h1.5m-0.5 0h1.5m1.5 0h1.5m-107.5 1h1.5m0.5 0h1.5m19.5 0h1.5m5.5 0h1.5m5.5 0h1.5m1.5 0h1.5m15.5 0h1.5m1.5 0h1.5m4.5 0h1.5m1.5 0h1.5m12.5 0h1.5m0.5 0h1.5m0.5 0h1.5m4.5 0h1.5m6.5 0h1.5m4.5 0h1.5m4.5 0h1.5m-90.5 1h1.5m-0.5 0h1.5m4.5 0h1.5m5.5 0h1.5m2.5 0h1.5m0.5 0h1.5m-0.5 0h1.5m1.5 0h1.5m0.5 0h1.5m2.5 0h1.5m2.5 0h1.5m4.5 0h1.5m-0.5 0h1.5m1.5 0h1.5m0.5 0h1.5m0.5 0h1.5m2.5 0h1.5m9.5 0h1.5m3.5 0h1.5m3.5 0h1.5m5.5 0h1.5m-124.5 1h1.5m25.5 0h1.5m21.5 0h1.5m1.5 0h1.5m1.5 0h1.5m2.5 0h1.5m0.5 0h1.5m7.5 0h1.5m1.5 0h1.5m3.5 0h1.5m-0.5 0h1.5m0.5 0h1.5m-0.5 0h1.5m-0.5 0h1.5m0.5 0h1.5m3.5 0h1.5m-0.5 0h1.5m3.5 0h1.5m-0.5 0h1.5m8.5 0h1.5m0.5 0h1.5m5.5 0h1.5m0.5 0h1.5m-0.5 0h1.5m4.5 0h1.5m46.5 0h1.5m-150.5 1h1.5m2.5 0h1.5m10.5 0h1.5m6.5 0h1.5m4.5 0h1.5m13.5 0h1.5m1.5 0h1.5m0.5 0h1.5m3.5 0h1.5m2.5 0h1.5m0.5 0h1.5m1.5 0h1.5m5.5 0h1.5m2.5 0h1.5m6.5 0h1.5m7.5 0h1.5m0.5 0h1.5m3.5 0h1.5m-0.5 0h1.5m4.5 0h1.5m-134.5 1h1.5m42.5 0h1.5m0.5 0h1.5m11.5 0h1.5m-0.5 0h1.5m5.5 0h1.5m4.5 0h1.5m6.5 0h1.5m21.5 0h1.5m4.5 0h1.5m5.5 0h1.5m4.5 0h1.5m-117.5 1h1.5m7.5 0h1.5m16.5 0h1.5m11.5 0h1.5m3.5 0h1.5m6.5 0h1.5m-0.5 0h1.5m7.5 0h1.5m13.5 0h1.5m15.5 0h1.5m-0.5 0h1.5m3.5 0h1.5m1.5 0h1.5m0.5 0h1.5m3.5 0h1.5m65.5 0h1.5m-150.5 1h1.5m10.5 0h1.5m-0.5 0h1.5m-0.5 0h1.5m3.5 0h1.5m4.5 0h1.5m0.5 0h1.5m-0.5 0h1.5m19.5 0h1.5m23.5 0h1.5m-111.5 1h1.5m17.5 0h1.5m5.5 0h1.5m8.5 0h1.5m8.5 0h1.5m15.5 0h1.5m2.5 0h1.5m5.5 0h1.5m5.5 0h1.5m2.5 0h1.5m0.5 0h1.5m4.5 0h1.5m9.5 0h1.5m5.5 0h1.5m10.5 0h1.5m9.5 0h1.5m7.5 0h1.5m-99.5 1h1.5m8.5 0h1.5m7.5 0h1.5m0.5 0h1.5m4.5 0h1.5m2.5 0h1.5m8.5 0h1.5m2.5 0h1.5m12.5 0h1.5m3.5 0h1.5m3.5 0h1.5m1.5 0h1.5m13.5 0h1.5m-99.5 1h1.5m18.5 0h1.5m19.5 0h1.5m8.5 0h1.5m0.5 0h1.5m1.5 0h1.5m-0.5 0h1.5m5.5 0h1.5m-0.5 0h1.5m21.5 0h1.5m-54.5 1h1.5m6.5 0h1.5m0.5 0h1.5m4.5 0h1.5m1.5 0h1.5m21.5 0h1.5m4.5 0h1.5m8.5 0h1.5m79.5 0h1.5m-151.5 1h1.5m8.5 0h1.5m1.5 0h1.5m36.5 0h1.5m53.5 0h1.5m-138.5 1h1.5m23.5 0h1.5m1.5 0h1.5m3.5 0h1.5m6.5 0h1.5m20.5 0h1.5m-0.5 0h1.5m-0.5 0h1.5m0.5 0h1.5m12.5 0h1.5m-0.5 0h1.5m88.5 0h1.5m-146.5 1h1.5m6.5 0h1.5m2.5 0h1.5m4.5 0h1.5m16.5 0h1.5m18.5 0h1.5m-58.5 1h1.5m2.5 0h1.5m4.5 0h1.5m3.5 0h1.5m13.5 0h1.5m2.5 0h1.5m1.5 0h1.5m-41.5 1h1.5m16.5 0h1.5m1.5 0h1.5m4.5 0h1.5m25.5 0h1.5m-48.5 1h1.5m11.5 0h1.5m54.5 0h1.5m-55.5 1h1.5m2.5 0h1.5m7.5 0h1.5m14.5 0h1.5m-78.5 1h1.5m12.5 0h1.5m17.5 0h1.5m50.5 0h1.5m22.5 0h1.5m-44.5 1h1.5m-38.5 1h1.5m8.5 0h1.5m25.5 0h1.5m-11.5 1h1.5m-37.5 2h1.5m31.5 0h1.5m-8.5 1h1.5m-4.5 5h1.5m44.5 3h1.5m-92.5 2h1.5m52.5 0h1.5m19.5 0h1.5m-30.5 3h1.5" stroke="#0000ff" stroke-width="1.5"/>
<path d="M370 283h1.5m-36.5 5h1.5m0.5 0h1.5m11.5 0h1.5m4.5 0h1.5m-5.5 2h1.5m14.5 1h1.5m-29.5 1h1.5m12.5 0h1.5m-29.5 1h1.5m15.5 0h1.5m7.5 0h1.5m-4.5 1h1.5m12.5 0h1.5m3.5 0h1.5m11.5 0h1.5m-40.5 1h1.5m17.5 0h1.5m-22.5 1h1.5m26.5 0h1.5m-38.5 1h1.5m15.5 0h1.5m32.5 0h1.5m-28.5 1h1.5m6.5 0h1.5m-16.5 1h1.5m26.5 0h1.5m-39.5 1h1.5m8.5 0h1.5m9.5 0h1.5m8.5 0h1.5m-38.5 1h1.5m16.5 0h1.5m12.5 0h1.5m-23.5 1h1.5m18.5 0h1.5m5.5 0h1.5m-17.5 1h1.5m1.5 0h1.5m13.5 1h1.5m-39.5 3h1.5m25.5 0h1.5m-10.5 1h1.5m6.5 2h1.5" stroke="#f0e000" stroke-width="1.5"/>
<path d="M351 261h1.5m3.5 0h1.5m-6.5 2h1.5m-14.5 2h1.5m26.5 1h1.5m-37.5 4h1.5m13.5 1h1.5m21.5 2h1.5m-23.5 1h1.5m7.5 1h1.5m-7.5 1h1.5m6.5 0h1.5m6.5 0h1.5m-11.5 1h1.5m-28.5 1h1.5m7.5 1h1.5m7.5 0h1.5m-10.5 1h1.5m30.5 0h1.5m-0.5 0h1.5m-44.5 1h1.5m27.5 0h1.5m-24.5 1h1.5m-13.5 1h1.5m54.5 0h1.5m-46.5 1h1.5m4.5 0h1.5m19.5 0h1.5m7.5 0h1.5m3.5 0h1.5m-50.5 1h1.5m21.5 0h1.5m7.5 0h1.5m5.5 0h1.5m11.5 0h1.5m-31.5 1h1.5m14.5 0h1.5m12.5 0h1.5m1.5 0h1.5m-46.5 1h1.5m15.5 0h1.5m1.5 0h1.5m10.5 0h1.5m-46.5 1h1.5m1.5 0h1.5m-0.5 0h1.5m23.5 0h1.5m-0.5 0h1.5m1.5 0h1.5m16.5 0h1.5m0.5 0h1.5m-0.5 0h1.5m-43.5 1h1.5m15.5 0h1.5m-24.5 1h1.5m9.5 0h1.5m14.5 0h1.5m0.5 0h1.5m-0.5 0h1.5m0.5 0h1.5m1.5 0h1.5m5.5 0h1.5m-0.5 0h1.5m-32.5 1h1.5m9.5 0h1.5m13.5 0h1.5m5.5 0h1.5m-46.5 1h1.5m2.5 0h1.5m2.5 0h1.5m20.5 0h1.5m10.5 0h1.5m2.5 0h1.5m-52.5 1h1.5m3.5 0h1.5m1.5 0h1.5m1.5 0h1.5m6.5 0h1.5m12.5 0h1.5m25.5 0h1.5m-54.5 1h1.5m22.5 0h1.5m19.5 0h1.5m13.5 0h1.5m1.5 0h1.5m-70.5 1h1.5m4.5 0h1.5m12.5 0h1.5m0.5 0h1.5m2.5 0h1.5m11.5 0h1.5m5.5 0h1.5m8.5 0h1.5m8.5 0h1.5m-0.5 0h1.5m-76.5 1h1.5m11.5 0h1.5m11.5 0h1.5m14.5 0h1.5m0.5 0h1.5m-35.5 1h1.5m2.5 0h1.5m2.5 0h1.5m11.5 0h1.5m-0.5 0h1.5m-0.5 0h1.5m3.5 0h1.5m-0.5 0h1.5m-0.5 0h1.5m0.5 0h1.5m3.5 0h1.5m5.5 0h1.5m2.5 0h1.5m2.5 0h1.5m1.5 0h1.5m1.5 0h1.5m-0.5 0h1.5m9.5 0h1.5m-62.5 1h1.5m6.5 0h1.5m-0.5 0h1.5m2.5 0h1.5m-0.5 0h1.5m9.5 0h1.5m1.5 0h1.5m0.5 0h1.5m2.5 0h1.5m2.5 0h1.5m0.5 0h1.5m-45.5 1h1.5m15.5 0h1.5m5.5 0h1.5m-0.5 0h1.5m2.5 0h1.5m8.5 0h1.5m1.5 0h1.5m-38.5 1h1.5m-0.5 0h1.5m5.5 0h1.5m32.5 0h1.5m-45.5 1h1.5m-0.5 0h1.5m-0.5 0h1.5m10.5 0h1.5m5.5 0h1.5m-0.5 0h1.5m1.5 0h1.5m1.5 0h1.5m3.5 0h1.5m-0.5 0h1.5m-49.5 1h1.5m29.5 0h1.5m-0.5 0h1.5m0.5 0h1.5m0.5 0h1.5m0.5 0h1.5m-0.5 0h1.5m8.5 0h1.5m4.5 0h1.5m-50.5 1h1.5m9.5 0h1.5m8.5 0h1.5m1.5 0h1.5m-0.5 0h1.5m11.5 0h1.5m1.5 0h1.5m-0.5 0h1.5m-0.5 0h1.5m-40.5 1h1.5m12.5 0h1.5m2.5 0h1.5m-0.5 0h1.5m3.5 0h1.5m0.5 0h1.5m3.5 0h1.5m-28.5 1h1.5m-0.5 0h1.5m1.5 0h1.5m8.5 0h1.5m36.5 0h1.5m-32.5 1h1.5m4.5 0h1.5m3.5 0h1.5m14.5 0h1.5m-53.5 1h1.5m15.5 0h1.5m3.5 0h1.5m5.5 0h1.5m4.5 0h1.5m4.5 0h1.5m-43.5 1h1.5m7.5 0h1.5m20.5 0h1.5m-15.5 1h1.5m9.5 0h1.5m15.5 0h1.5m2.5 0h1.5m-33.5 1h1.5m13.5 0h1.5m1.5 0h1.5m0.5 0h1.5m11.5 0h1.5m-29.5 1h1.5m3.5 0h1.5m-26.5 3h1.5m35.5 1h1.5m-33.5 1h1.5m7.5 0h1.5" stroke="#00dd00" stroke-width="1.5"/>
<path d="M357 287h1.5m13.5 0h1.5m-46.5 5h1.5m27.5 0h1.5m-1.5 3h1.5m-24.5 1h1.5m32.5 1h1.5m-28.5 2h1.5m4.5 0h1.5m22.5 0h1.5m2.5 0h1.5m-30.5 1h1.5m1.5 0h1.5m24.5 0h1.5m-6.5 1h1.5m8.5 2h1.5m-10.5 2h1.5m-9.5 1h1.5" stroke="#ff1800" stroke-width="1.5"/>
<rect x="240.7" y="98.0" width="277.4" height="276.4" fill="none" stroke="#444" stroke-width="1.6"/>
<path d="M404.3 98.0V374.4M240.7 278.8H518.1" stroke="#000" stroke-width="2.2"/>
<text x="245.3" y="116.2" font-size="16.71" textLength="59.1" lengthAdjust="spacingAndGlyphs" style="font-weight:bold">Q1:27.2</text>
<text x="454.7" y="116.2" font-size="16.71" textLength="59.1" lengthAdjust="spacingAndGlyphs" style="font-weight:bold">Q2:3.66</text>
<text x="245.3" y="371.5" font-size="16.71" textLength="59.1" lengthAdjust="spacingAndGlyphs" style="font-weight:bold">Q4:65.3</text>
<text x="453.4" y="371.5" font-size="16.71" textLength="59.1" lengthAdjust="spacingAndGlyphs" style="font-weight:bold">Q3:3.87</text>
<text x="312.0" y="426.7" font-size="23.59" textLength="126.9" lengthAdjust="spacingAndGlyphs" style="font-weight:bold">GITR(APC)</text>
<text x="0" y="0" font-size="25.13" transform="translate(197.2,311.0) rotate(-90)" textLength="98.1" lengthAdjust="spacingAndGlyphs" style="font-weight:bold">CD3(PE)</text>
<text x="231.9" y="401.1" font-size="16.86" style="font-weight:bold">-10</text>
<text x="258.1" y="392.3" font-size="11.43" style="font-weight:bold">3</text>
<text x="338.9" y="401.1" font-size="16.86" style="font-weight:bold">10</text>
<text x="362.2" y="392.3" font-size="11.43" style="font-weight:bold">3</text>
<text x="414.1" y="401.1" font-size="16.86" style="font-weight:bold">10</text>
<text x="437.5" y="392.3" font-size="11.59" style="font-weight:bold">4</text>
<text x="478.5" y="401.1" font-size="16.86" style="font-weight:bold">10</text>
<text x="501.7" y="392.3" font-size="11.59" style="font-weight:bold">5</text>
<text x="296.8" y="401.1" font-size="16.86" style="font-weight:bold">0</text>
<text x="206.9" y="130.6" font-size="16.43" style="font-weight:bold">10</text>
<text x="224.4" y="121.6" font-size="12.61" style="font-weight:bold">5</text>
<text x="206.5" y="194.7" font-size="16.43" style="font-weight:bold">10</text>
<text x="224.2" y="185.7" font-size="12.61" style="font-weight:bold">4</text>
<text x="207.0" y="269.6" font-size="16.43" style="font-weight:bold">10</text>
<text x="224.5" y="260.6" font-size="12.43" style="font-weight:bold">3</text>
<text x="201.5" y="367.2" font-size="16.43" style="font-weight:bold">-10</text>
<text x="224.5" y="358.2" font-size="12.43" style="font-weight:bold">3</text>
<text x="215.1" y="319.9" font-size="16.43" style="font-weight:bold">0</text>
<path d="M678.1 374.4v4M622.3 318.9h-4M687.9 374.4v4M622.3 309.1h-4M673.3 374.4v4M622.3 323.6h-4M692.9 374.4v4M622.3 304.1h-4M668.6 374.4v4M622.3 328.3h-4M698.0 374.4v4M622.3 299.1h-4M663.8 374.4v4M622.3 333.1h-4M703.1 374.4v4M622.3 294.0h-4M659.1 374.4v4M622.3 337.8h-4M708.1 374.4v4M622.3 289.0h-4M654.3 374.4v4M622.3 342.5h-4M713.2 374.4v4M622.3 284.0h-4M649.6 374.4v4M622.3 347.2h-4M718.2 374.4v4M622.3 278.9h-4M644.8 374.4v4M622.3 352.0h-4M723.3 374.4v4M622.3 273.9h-4M640.1 374.4v4M622.3 356.7h-4M728.3 374.4v4M622.3 268.9h-4M756.0 374.4v4M622.3 241.3h-4M769.3 374.4v4M622.3 228.1h-4M778.7 374.4v4M622.3 218.7h-4M786.0 374.4v4M622.3 211.5h-4M791.9 374.4v4M622.3 205.6h-4M797.0 374.4v4M622.3 200.5h-4M801.3 374.4v4M622.3 196.2h-4M805.2 374.4v4M622.3 192.4h-4M828.0 374.4v4M622.3 169.6h-4M839.4 374.4v4M622.3 158.3h-4M847.4 374.4v4M622.3 150.3h-4M853.7 374.4v4M622.3 144.1h-4M858.8 374.4v4M622.3 139.0h-4M863.1 374.4v4M622.3 134.7h-4M866.8 374.4v4M622.3 131.0h-4M870.1 374.4v4M622.3 127.7h-4M892.5 374.4v4M622.3 105.5h-4" stroke="#222" stroke-width="1.3" fill="none"/>
<path d="M635.4 374.4v7M622.3 361.4h-7M733.4 374.4v7M622.3 263.8h-7M808.6 374.4v7M622.3 188.9h-7M873.1 374.4v7M622.3 124.8h-7" stroke="#111" stroke-width="2" fill="none"/>
<path d="M676.8 374.4v6M622.3 320.1h-6M678.3 374.4v6M622.3 318.6h-6M679.8 374.4v7M622.3 317.1h-7M681.3 374.4v7M622.3 315.6h-7M682.8 374.4v7M622.3 314.1h-7M684.3 374.4v7M622.3 312.6h-7M685.8 374.4v7M622.3 311.1h-7M687.3 374.4v6M622.3 309.6h-6M688.8 374.4v6M622.3 308.1h-6" stroke="#111" stroke-width="1.4" fill="none"/>
<path d="M862 225h1.5m1.5 0h1.5m-3.5 2h1.5m-0.5 0h1.5m-5.5 2h1.5m-4.5 1h1.5m1.5 2h1.5m-15.5 1h1.5m18.5 0h1.5m-22.5 2h1.5m11.5 0h1.5m-234.5 2h1.5m223.5 0h1.5m-8.5 1h1.5m8.5 0h1.5m-20.5 1h1.5m1.5 0h1.5m8.5 0h1.5m11.5 0h1.5m2.5 0h1.5m-28.5 1h1.5m-130.5 1h1.5m152.5 0h1.5m-22.5 1h1.5m9.5 0h1.5m-135.5 1h1.5m127.5 0h1.5m-119.5 1h1.5m33.5 0h1.5m38.5 0h1.5m45.5 0h1.5m2.5 0h1.5m-13.5 1h1.5m5.5 0h1.5m-18.5 1h1.5m0.5 0h1.5m-67.5 2h1.5m57.5 0h1.5m-0.5 0h1.5m0.5 0h1.5m25.5 1h1.5m-122.5 1h1.5m20.5 0h1.5m-30.5 1h1.5m97.5 0h1.5m6.5 0h1.5m1.5 0h1.5m-89.5 1h1.5m29.5 0h1.5m29.5 0h1.5m9.5 0h1.5m25.5 0h1.5m-150.5 1h1.5m40.5 0h1.5m70.5 0h1.5m-14.5 1h1.5m11.5 0h1.5m17.5 0h1.5m4.5 0h1.5m5.5 0h1.5m-132.5 1h1.5m24.5 0h1.5m57.5 0h1.5m10.5 0h1.5m3.5 0h1.5m11.5 0h1.5m5.5 0h1.5m0.5 0h1.5m-0.5 0h1.5m-0.5 0h1.5m-17.5 1h1.5m13.5 0h1.5m1.5 0h1.5m-185.5 1h1.5m70.5 0h1.5m81.5 0h1.5m0.5 0h1.5m9.5 0h1.5m8.5 0h1.5m0.5 0h1.5m0.5 1h1.5m-35.5 1h1.5m11.5 0h1.5m3.5 0h1.5m9.5 0h1.5m4.5 0h1.5m3.5 0h1.5m-84.5 1h1.5m37.5 0h1.5m14.5 0h1.5m-0.5 0h1.5m12.5 0h1.5m5.5 0h1.5m-136.5 1h1.5m1.5 0h1.5m16.5 0h1.5m13.5 0h1.5m9.5 0h1.5m49.5 0h1.5m3.5 0h1.5m-82.5 1h1.5m4.5 0h1.5m15.5 0h1.5m26.5 0h1.5m33.5 0h1.5m0.5 0h1.5m1.5 0h1.5m1.5 0h1.5m-0.5 0h1.5m11.5 0h1.5m-176.5 1h1.5m15.5 0h1.5m37.5 0h1.5m3.5 0h1.5m93.5 0h1.5m1.5 0h1.5m-0.5 0h1.5m2.5 0h1.5m2.5 0h1.5m2.5 0h1.5m4.5 0h1.5m-31.5 1h1.5m1.5 0h1.5m1.5 0h1.5m24.5 0h1.5m3.5 0h1.5m-93.5 1h1.5m13.5 0h1.5m49.5 0h1.5m15.5 0h1.5m0.5 0h1.5m-177.5 1h1.5m79.5 0h1.5m47.5 0h1.5m10.5 0h1.5m-128.5 1h1.5m29.5 0h1.5m40.5 0h1.5m0.5 0h1.5m38.5 0h1.5m30.5 0h1.5m5.5 0h1.5m2.5 0h1.5m20.5 0h1.5m-128.5 1h1.5m3.5 0h1.5m66.5 0h1.5m6.5 0h1.5m14.5 0h1.5m-109.5 1h1.5m65.5 0h1.5m-0.5 0h1.5m16.5 0h1.5m-0.5 0h1.5m-0.5 0h1.5m4.5 0h1.5m0.5 0h1.5m0.5 0h1.5m0.5 0h1.5m-0.5 0h1.5m5.5 0h1.5m-113.5 1h1.5m70.5 0h1.5m4.5 0h1.5m-158.5 1h1.5m45.5 0h1.5m53.5 0h1.5m50.5 0h1.5m7.5 0h1.5m4.5 0h1.5m5.5 0h1.5m23.5 0h1.5m-140.5 1h1.5m27.5 0h1.5m34.5 0h1.5m15.5 0h1.5m9.5 0h1.5m5.5 0h1.5m9.5 0h1.5m0.5 0h1.5m4.5 0h1.5m4.5 0h1.5m1.5 0h1.5m-153.5 1h1.5m31.5 0h1.5m70.5 0h1.5m10.5 0h1.5m2.5 0h1.5m2.5 0h1.5m2.5 0h1.5m23.5 0h1.5m-0.5 0h1.5m9.5 0h1.5m-111.5 1h1.5m13.5 0h1.5m47.5 0h1.5m31.5 0h1.5m3.5 0h1.5m-101.5 1h1.5m6.5 0h1.5m58.5 0h1.5m1.5 0h1.5m17.5 0h1.5m0.5 0h1.5m14.5 0h1.5m-124.5 1h1.5m20.5 0h1.5m43.5 0h1.5m-0.5 0h1.5m12.5 0h1.5m8.5 0h1.5m2.5 0h1.5m1.5 0h1.5m-125.5 1h1.5m17.5 0h1.5m2.5 0h1.5m68.5 0h1.5m11.5 0h1.5m2.5 0h1.5m8.5 0h1.5m-0.5 0h1.5m3.5 0h1.5m0.5 0h1.5m6.5 0h1.5m2.5 0h1.5m-143.5 1h1.5m6.5 0h1.5m27.5 0h1.5m46.5 0h1.5m16.5 0h1.5m2.5 0h1.5m5.5 0h1.5m-0.5 0h1.5m5.5 0h1.5m-77.5 1h1.5m61.5 0h1.5m6.5 0h1.5m9.5 0h1.5m9.5 0h1.5m-150.5 1h1.5m6.5 0h1.5m40.5 0h1.5m14.5 0h1.5m7.5 0h1.5m-0.5 0h1.5m21.5 0h1.5m12.5 0h1.5m-0.5 0h1.5m0.5 0h1.5m7.5 0h1.5m0.5 0h1.5m4.5 0h1.5m-123.5 1h1.5m-0.5 0h1.5m4.5 0h1.5m0.5 0h1.5m22.5 0h1.5m12.5 0h1.5m1.5 0h1.5m45.5 0h1.5m14.5 0h1.5m18.5 0h1.5m-149.5 1h1.5m51.5 0h1.5m26.5 0h1.5m5.5 0h1.5m39.5 0h1.5m7.5 0h1.5m-128.5 1h1.5m43.5 0h1.5m24.5 0h1.5m20.5 0h1.5m12.5 0h1.5m13.5 0h1.5m14.5 0h1.5m0.5 0h1.5m-149.5 1h1.5m110.5 0h1.5m13.5 0h1.5m2.5 0h1.5m3.5 0h1.5m2.5 0h1.5m-41.5 1h1.5m9.5 0h1.5m6.5 0h1.5m20.5 0h1.5m9.5 0h1.5m-170.5 1h1.5m16.5 0h1.5m8.5 0h1.5m26.5 0h1.5m6.5 0h1.5m15.5 0h1.5m14.5 0h1.5m45.5 0h1.5m7.5 0h1.5m-171.5 1h1.5m33.5 0h1.5m3.5 0h1.5m4.5 0h1.5m9.5 0h1.5m-0.5 0h1.5m9.5 0h1.5m43.5 0h1.5m14.5 0h1.5m17.5 0h1.5m8.5 0h1.5m0.5 0h1.5m14.5 0h1.5m-167.5 1h1.5m20.5 0h1.5m12.5 0h1.5m5.5 0h1.5m5.5 0h1.5m0.5 0h1.5m6.5 0h1.5m38.5 0h1.5m1.5 0h1.5m15.5 0h1.5m9.5 0h1.5m4.5 0h1.5m4.5 0h1.5m-0.5 0h1.5m7.5 0h1.5m4.5 0h1.5m1.5 0h1.5m-125.5 1h1.5m5.5 0h1.5m4.5 0h1.5m2.5 0h1.5m12.5 0h1.5m-0.5 0h1.5m7.5 0h1.5m-0.5 0h1.5m6.5 0h1.5m15.5 0h1.5m18.5 0h1.5m3.5 0h1.5m5.5 0h1.5m1.5 0h1.5m6.5 0h1.5m0.5 0h1.5m11.5 0h1.5m-186.5 1h1.5m28.5 0h1.5m1.5 0h1.5m11.5 0h1.5m21.5 0h1.5m2.5 0h1.5m17.5 0h1.5m9.5 0h1.5m42.5 0h1.5m8.5 0h1.5m15.5 0h1.5m1.5 0h1.5m-162.5 1h1.5m48.5 0h1.5m-0.5 0h1.5m0.5 0h1.5m8.5 0h1.5m2.5 0h1.5m2.5 0h1.5m7.5 0h1.5m5.5 0h1.5m6.5 0h1.5m5.5 0h1.5m28.5 0h1.5m0.5 0h1.5m-112.5 1h1.5m0.5 0h1.5m10.5 0h1.5m6.5 0h1.5m2.5 0h1.5m-0.5 0h1.5m23.5 0h1.5m10.5 0h1.5m3.5 0h1.5m2.5 0h1.5m8.5 0h1.5m26.5 0h1.5m3.5 0h1.5m-0.5 0h1.5m6.5 0h1.5m1.5 0h1.5m4.5 0h1.5m-0.5 0h1.5m10.5 0h1.5m-179.5 1h1.5m25.5 0h1.5m13.5 0h1.5m0.5 0h1.5m6.5 0h1.5m11.5 0h1.5m0.5 0h1.5m2.5 0h1.5m3.5 0h1.5m0.5 0h1.5m7.5 0h1.5m5.5 0h1.5m9.5 0h1.5m0.5 0h1.5m28.5 0h1.5m9.5 0h1.5m12.5 0h1.5m7.5 0h1.5m3.5 0h1.5m-156.5 1h1.5m-0.5 0h1.5m-0.5 0h1.5m0.5 0h1.5m9.5 0h1.5m4.5 0h1.5m1.5 0h1.5m1.5 0h1.5m13.5 0h1.5m-0.5 0h1.5m16.5 0h1.5m0.5 0h1.5m3.5 0h1.5m-0.5 0h1.5m-0.5 0h1.5m5.5 0h1.5m3.5 0h1.5m3.5 0h1.5m19.5 0h1.5m34.5 0h1.5m-168.5 1h1.5m3.5 0h1.5m5.5 0h1.5m6.5 0h1.5m2.5 0h1.5m2.5 0h1.5m0.5 0h1.5m3.5 0h1.5m11.5 0h1.5m2.5 0h1.5m6.5 0h1.5m1.5 0h1.5m2.5 0h1.5m3.5 0h1.5m0.5 0h1.5m10.5 0h1.5m1.5 0h1.5m3.5 0h1.5m-0.5 0h1.5m13.5 0h1.5m3.5 0h1.5m33.5 0h1.5m0.5 0h1.5m3.5 0h1.5m16.5 0h1.5m-184.5 1h1.5m15.5 0h1.5m11.5 0h1.5m14.5 0h1.5m7.5 0h1.5m-0.5 0h1.5m1.5 0h1.5m8.5 0h1.5m7.5 0h1.5m0.5 0h1.5m28.5 0h1.5m35.5 0h1.5m7.5 0h1.5m12.5 0h1.5m-148.5 1h1.5m24.5 0h1.5m10.5 0h1.5m7.5 0h1.5m2.5 0h1.5m0.5 0h1.5m2.5 0h1.5m3.5 0h1.5m-0.5 0h1.5m7.5 0h1.5m-0.5 0h1.5m-0.5 0h1.5m10.5 0h1.5m1.5 0h1.5m3.5 0h1.5m4.5 0h1.5m1.5 0h1.5m11.5 0h1.5m12.5 0h1.5m23.5 0h1.5m-152.5 1h1.5m9.5 0h1.5m9.5 0h1.5m10.5 0h1.5m13.5 0h1.5m5.5 0h1.5m-0.5 0h1.5m7.5 0h1.5m16.5 0h1.5m12.5 0h1.5m5.5 0h1.5m20.5 0h1.5m5.5 0h1.5m14.5 0h1.5m-173.5 1h1.5m31.5 0h1.5m2.5 0h1.5m4.5 0h1.5m-0.5 0h1.5m7.5 0h1.5m2.5 0h1.5m1.5 0h1.5m0.5 0h1.5m7.5 0h1.5m1.5 0h1.5m0.5 0h1.5m-0.5 0h1.5m1.5 0h1.5m7.5 0h1.5m3.5 0h1.5m2.5 0h1.5m5.5 0h1.5m10.5 0h1.5m8.5 0h1.5m31.5 0h1.5m10.5 0h1.5m-139.5 1h1.5m7.5 0h1.5m1.5 0h1.5m1.5 0h1.5m0.5 0h1.5m13.5 0h1.5m6.5 0h1.5m-0.5 0h1.5m1.5 0h1.5m0.5 0h1.5m13.5 0h1.5m5.5 0h1.5m2.5 0h1.5m14.5 0h1.5m13.5 0h1.5m-147.5 1h1.5m21.5 0h1.5m8.5 0h1.5m25.5 0h1.5m6.5 0h1.5m0.5 0h1.5m5.5 0h1.5m4.5 0h1.5m7.5 0h1.5m2.5 0h1.5m7.5 0h1.5m13.5 0h1.5m30.5 0h1.5m33.5 0h1.5m-184.5 1h1.5m7.5 0h1.5m18.5 0h1.5m5.5 0h1.5m4.5 0h1.5m1.5 0h1.5m0.5 0h1.5m5.5 0h1.5m12.5 0h1.5m-0.5 0h1.5m-0.5 0h1.5m3.5 0h1.5m7.5 0h1.5m3.5 0h1.5m-0.5 0h1.5m0.5 0h1.5m3.5 0h1.5m4.5 0h1.5m-0.5 0h1.5m5.5 0h1.5m1.5 0h1.5m7.5 0h1.5m6.5 0h1.5m18.5 0h1.5m2.5 0h1.5m0.5 0h1.5m15.5 0h1.5m-173.5 1h1.5m2.5 0h1.5m7.5 0h1.5m4.5 0h1.5m18.5 0h1.5m10.5 0h1.5m3.5 0h1.5m1.5 0h1.5m1.5 0h1.5m1.5 0h1.5m-0.5 0h1.5m1.5 0h1.5m1.5 0h1.5m5.5 0h1.5m2.5 0h1.5m1.5 0h1.5m4.5 0h1.5m9.5 0h1.5m0.5 0h1.5m0.5 0h1.5m1.5 0h1.5m-0.5 0h1.5m15.5 0h1.5m18.5 0h1.5m-143.5 1h1.5m27.5 0h1.5m2.5 0h1.5m1.5 0h1.5m2.5 0h1.5m8.5 0h1.5m6.5 0h1.5m0.5 0h1.5m3.5 0h1.5m-0.5 0h1.5m3.5 0h1.5m12.5 0h1.5m0.5 0h1.5m11.5 0h1.5m7.5 0h1.5m12.5 0h1.5m38.5 0h1.5m1.5 0h1.5m-159.5 1h1.5m26.5 0h1.5m3.5 0h1.5m9.5 0h1.5m3.5 0h1.5m-0.5 0h1.5m11.5 0h1.5m3.5 0h1.5m4.5 0h1.5m0.5 0h1.5m-0.5 0h1.5m0.5 0h1.5m-0.5 0h1.5m-0.5 0h1.5m7.5 0h1.5m2.5 0h1.5m2.5 0h1.5m2.5 0h1.5m2.5 0h1.5m24.5 0h1.5m6.5 0h1.5m2.5 0h1.5m-147.5 1h1.5m0.5 0h1.5m10.5 0h1.5m0.5 0h1.5m25.5 0h1.5m2.5 0h1.5m8.5 0h1.5m3.5 0h1.5m7.5 0h1.5m4.5 0h1.5m2.5 0h1.5m9.5 0h1.5m2.5 0h1.5m2.5 0h1.5m0.5 0h1.5m-108.5 1h1.5m36.5 0h1.5m0.5 0h1.5m8.5 0h1.5m12.5 0h1.5m3.5 0h1.5m13.5 0h1.5m-65.5 1h1.5m5.5 0h1.5m1.5 0h1.5m5.5 0h1.5m20.5 0h1.5m6.5 0h1.5m1.5 0h1.5m-0.5 0h1.5m2.5 0h1.5m0.5 0h1.5m1.5 0h1.5m0.5 0h1.5m1.5 0h1.5m7.5 0h1.5m13.5 0h1.5m10.5 0h1.5m3.5 0h1.5m19.5 0h1.5m-135.5 1h1.5m-0.5 0h1.5m7.5 0h1.5m7.5 0h1.5m2.5 0h1.5m1.5 0h1.5m11.5 0h1.5m14.5 0h1.5m9.5 0h1.5m2.5 0h1.5m1.5 0h1.5m4.5 0h1.5m4.5 0h1.5m22.5 0h1.5m-0.5 0h1.5m32.5 0h1.5m-139.5 1h1.5m11.5 0h1.5m1.5 0h1.5m29.5 0h1.5m9.5 0h1.5m6.5 0h1.5m4.5 0h1.5m10.5 0h1.5m-0.5 0h1.5m-69.5 1h1.5m12.5 0h1.5m0.5 0h1.5m5.5 0h1.5m-0.5 0h1.5m4.5 0h1.5m-0.5 0h1.5m3.5 0h1.5m0.5 0h1.5m0.5 0h1.5m6.5 0h1.5m0.5 0h1.5m2.5 0h1.5m-0.5 0h1.5m2.5 0h1.5m7.5 0h1.5m-0.5 0h1.5m3.5 0h1.5m36.5 0h1.5m-101.5 1h1.5m4.5 0h1.5m2.5 0h1.5m25.5 0h1.5m2.5 0h1.5m1.5 0h1.5m9.5 0h1.5m29.5 0h1.5m-100.5 1h1.5m14.5 0h1.5m25.5 0h1.5m2.5 0h1.5m5.5 0h1.5m13.5 0h1.5m11.5 0h1.5m48.5 0h1.5m-159.5 1h1.5m37.5 0h1.5m8.5 0h1.5m19.5 0h1.5m-0.5 0h1.5m6.5 0h1.5m2.5 0h1.5m13.5 0h1.5m-0.5 0h1.5m-60.5 1h1.5m26.5 0h1.5m12.5 0h1.5m8.5 0h1.5m-38.5 1h1.5m1.5 0h1.5m49.5 0h1.5m-98.5 1h1.5m12.5 0h1.5m8.5 0h1.5m13.5 0h1.5m17.5 0h1.5m21.5 0h1.5m6.5 0h1.5m6.5 0h1.5m-121.5 1h1.5m79.5 0h1.5m5.5 0h1.5m-49.5 1h1.5m-20.5 1h1.5m19.5 0h1.5m5.5 2h1.5m58.5 12h1.5m-105.5 2h1.5" stroke="#4848ff" stroke-width="1.5"/>
<path d="M823 216h1.5m28.5 13h1.5m-6.5 2h1.5m6.5 1h1.5m-3.5 2h1.5m-2.5 1h1.5m-0.5 0h1.5m-0.5 0h1.5m2.5 0h1.5m-9.5 1h1.5m-173.5 1h1.5m169.5 0h1.5m2.5 0h1.5m-0.5 0h1.5m1.5 0h1.5m0.5 0h1.5m-7.5 1h1.5m1.5 0h1.5m-8.5 1h1.5m0.5 0h1.5m1.5 1h1.5m-6.5 1h1.5m-4.5 1h1.5m1.5 0h1.5m4.5 0h1.5m-120.5 1h1.5m78.5 0h1.5m20.5 0h1.5m18.5 0h1.5m-148.5 1h1.5m41.5 0h1.5m80.5 0h1.5m10.5 0h1.5m-2.5 1h1.5m10.5 0h1.5m-22.5 1h1.5m6.5 0h1.5m8.5 0h1.5m4.5 0h1.5m-37.5 1h1.5m13.5 0h1.5m-0.5 0h1.5m7.5 0h1.5m-12.5 1h1.5m5.5 0h1.5m2.5 0h1.5m-132.5 1h1.5m129.5 0h1.5m-26.5 1h1.5m0.5 0h1.5m1.5 0h1.5m7.5 0h1.5m-120.5 1h1.5m19.5 0h1.5m79.5 0h1.5m3.5 0h1.5m1.5 0h1.5m4.5 0h1.5m11.5 0h1.5m-159.5 1h1.5m29.5 0h1.5m68.5 0h1.5m26.5 0h1.5m-0.5 0h1.5m-0.5 0h1.5m0.5 0h1.5m1.5 0h1.5m4.5 0h1.5m6.5 0h1.5m4.5 0h1.5m-133.5 1h1.5m21.5 0h1.5m5.5 0h1.5m6.5 0h1.5m13.5 0h1.5m45.5 0h1.5m15.5 0h1.5m0.5 0h1.5m-96.5 1h1.5m98.5 0h1.5m5.5 0h1.5m2.5 0h1.5m-78.5 1h1.5m40.5 0h1.5m9.5 0h1.5m4.5 0h1.5m4.5 0h1.5m9.5 0h1.5m-112.5 1h1.5m5.5 0h1.5m40.5 0h1.5m24.5 0h1.5m4.5 0h1.5m4.5 0h1.5m-0.5 0h1.5m8.5 0h1.5m0.5 0h1.5m1.5 0h1.5m5.5 0h1.5m-145.5 1h1.5m-0.5 0h1.5m32.5 0h1.5m15.5 0h1.5m38.5 0h1.5m20.5 0h1.5m7.5 0h1.5m0.5 0h1.5m7.5 0h1.5m-0.5 0h1.5m-123.5 1h1.5m11.5 0h1.5m9.5 0h1.5m56.5 0h1.5m8.5 0h1.5m1.5 0h1.5m1.5 0h1.5m8.5 0h1.5m2.5 0h1.5m3.5 0h1.5m-144.5 1h1.5m9.5 0h1.5m4.5 0h1.5m88.5 0h1.5m13.5 0h1.5m-0.5 0h1.5m7.5 0h1.5m-0.5 0h1.5m4.5 0h1.5m2.5 0h1.5m3.5 0h1.5m-0.5 0h1.5m-151.5 1h1.5m6.5 0h1.5m24.5 0h1.5m2.5 0h1.5m14.5 0h1.5m45.5 0h1.5m22.5 0h1.5m5.5 0h1.5m10.5 0h1.5m7.5 0h1.5m-110.5 1h1.5m0.5 0h1.5m-0.5 0h1.5m25.5 0h1.5m43.5 0h1.5m4.5 0h1.5m10.5 0h1.5m-0.5 0h1.5m1.5 0h1.5m3.5 0h1.5m-129.5 1h1.5m0.5 0h1.5m10.5 0h1.5m4.5 0h1.5m29.5 0h1.5m34.5 0h1.5m18.5 0h1.5m-0.5 0h1.5m8.5 0h1.5m0.5 0h1.5m4.5 0h1.5m4.5 0h1.5m-134.5 1h1.5m8.5 0h1.5m12.5 0h1.5m18.5 0h1.5m29.5 0h1.5m29.5 0h1.5m1.5 0h1.5m9.5 0h1.5m7.5 0h1.5m6.5 0h1.5m-131.5 1h1.5m26.5 0h1.5m2.5 0h1.5m43.5 0h1.5m9.5 0h1.5m-0.5 0h1.5m3.5 0h1.5m5.5 0h1.5m4.5 0h1.5m3.5 0h1.5m-0.5 0h1.5m-0.5 0h1.5m-0.5 0h1.5m0.5 0h1.5m3.5 0h1.5m-118.5 1h1.5m10.5 0h1.5m55.5 0h1.5m6.5 0h1.5m10.5 0h1.5m18.5 0h1.5m-47.5 1h1.5m13.5 0h1.5m16.5 0h1.5m4.5 0h1.5m0.5 0h1.5m6.5 0h1.5m5.5 0h1.5m2.5 0h1.5m-93.5 1h1.5m8.5 0h1.5m31.5 0h1.5m29.5 0h1.5m8.5 0h1.5m-155.5 1h1.5m2.5 0h1.5m112.5 0h1.5m7.5 0h1.5m6.5 0h1.5m11.5 0h1.5m7.5 0h1.5m-0.5 0h1.5m1.5 0h1.5m-133.5 1h1.5m10.5 0h1.5m3.5 0h1.5m6.5 0h1.5m40.5 0h1.5m21.5 0h1.5m7.5 0h1.5m-0.5 0h1.5m3.5 0h1.5m10.5 0h1.5m5.5 0h1.5m-111.5 1h1.5m17.5 0h1.5m12.5 0h1.5m37.5 0h1.5m16.5 0h1.5m20.5 0h1.5m-130.5 1h1.5m6.5 0h1.5m20.5 0h1.5m4.5 0h1.5m2.5 0h1.5m9.5 0h1.5m0.5 0h1.5m1.5 0h1.5m33.5 0h1.5m13.5 0h1.5m1.5 0h1.5m4.5 0h1.5m-138.5 1h1.5m28.5 0h1.5m33.5 0h1.5m10.5 0h1.5m22.5 0h1.5m4.5 0h1.5m1.5 0h1.5m1.5 0h1.5m5.5 0h1.5m2.5 0h1.5m0.5 0h1.5m2.5 0h1.5m1.5 0h1.5m-0.5 0h1.5m0.5 0h1.5m1.5 0h1.5m2.5 0h1.5m5.5 0h1.5m-142.5 1h1.5m3.5 0h1.5m92.5 0h1.5m2.5 0h1.5m4.5 0h1.5m2.5 0h1.5m8.5 0h1.5m25.5 0h1.5m-161.5 1h1.5m35.5 0h1.5m2.5 0h1.5m-0.5 0h1.5m7.5 0h1.5m-0.5 0h1.5m5.5 0h1.5m48.5 0h1.5m6.5 0h1.5m-0.5 0h1.5m4.5 0h1.5m1.5 0h1.5m8.5 0h1.5m2.5 0h1.5m-0.5 0h1.5m4.5 0h1.5m3.5 0h1.5m-149.5 1h1.5m17.5 0h1.5m-0.5 0h1.5m55.5 0h1.5m17.5 0h1.5m8.5 0h1.5m3.5 0h1.5m-98.5 1h1.5m73.5 0h1.5m11.5 0h1.5m17.5 0h1.5m13.5 0h1.5m-128.5 1h1.5m23.5 0h1.5m71.5 0h1.5m1.5 0h1.5m0.5 0h1.5m0.5 0h1.5m4.5 0h1.5m1.5 0h1.5m5.5 0h1.5m15.5 0h1.5m-149.5 1h1.5m9.5 0h1.5m1.5 0h1.5m14.5 0h1.5m64.5 0h1.5m18.5 0h1.5m1.5 0h1.5m5.5 0h1.5m0.5 0h1.5m27.5 0h1.5m-116.5 1h1.5m56.5 0h1.5m4.5 0h1.5m5.5 0h1.5m2.5 0h1.5m6.5 0h1.5m6.5 0h1.5m-0.5 0h1.5m6.5 0h1.5m-122.5 1h1.5m61.5 0h1.5m12.5 0h1.5m9.5 0h1.5m3.5 0h1.5m0.5 0h1.5m0.5 0h1.5m3.5 0h1.5m0.5 0h1.5m6.5 0h1.5m-140.5 1h1.5m26.5 0h1.5m17.5 0h1.5m60.5 0h1.5m15.5 0h1.5m4.5 0h1.5m0.5 0h1.5m15.5 0h1.5m-100.5 1h1.5m16.5 0h1.5m36.5 0h1.5m0.5 0h1.5m2.5 0h1.5m3.5 0h1.5m8.5 0h1.5m-0.5 0h1.5m5.5 0h1.5m2.5 0h1.5m11.5 0h1.5m-153.5 1h1.5m11.5 0h1.5m6.5 0h1.5m16.5 0h1.5m5.5 0h1.5m8.5 0h1.5m-0.5 0h1.5m18.5 0h1.5m21.5 0h1.5m1.5 0h1.5m10.5 0h1.5m2.5 0h1.5m-0.5 0h1.5m2.5 0h1.5m2.5 0h1.5m1.5 0h1.5m5.5 0h1.5m10.5 0h1.5m-150.5 1h1.5m2.5 0h1.5m16.5 0h1.5m17.5 0h1.5m7.5 0h1.5m26.5 0h1.5m4.5 0h1.5m-0.5 0h1.5m13.5 0h1.5m1.5 0h1.5m1.5 0h1.5m5.5 0h1.5m1.5 0h1.5m0.5 0h1.5m6.5 0h1.5m10.5 0h1.5m1.5 0h1.5m-165.5 1h1.5m52.5 0h1.5m4.5 0h1.5m25.5 0h1.5m37.5 0h1.5m7.5 0h1.5m3.5 0h1.5m7.5 0h1.5m0.5 0h1.5m3.5 0h1.5m7.5 0h1.5m-177.5 1h1.5m67.5 0h1.5m20.5 0h1.5m29.5 0h1.5m18.5 0h1.5m9.5 0h1.5m7.5 0h1.5m2.5 0h1.5m8.5 0h1.5m-0.5 0h1.5m-165.5 1h1.5m0.5 0h1.5m4.5 0h1.5m20.5 0h1.5m11.5 0h1.5m3.5 0h1.5m7.5 0h1.5m3.5 0h1.5m1.5 0h1.5m2.5 0h1.5m-0.5 0h1.5m-0.5 0h1.5m17.5 0h1.5m14.5 0h1.5m14.5 0h1.5m9.5 0h1.5m-0.5 0h1.5m4.5 0h1.5m8.5 0h1.5m3.5 0h1.5m-166.5 1h1.5m14.5 0h1.5m6.5 0h1.5m4.5 0h1.5m18.5 0h1.5m1.5 0h1.5m1.5 0h1.5m-0.5 0h1.5m-0.5 0h1.5m3.5 0h1.5m0.5 0h1.5m2.5 0h1.5m25.5 0h1.5m26.5 0h1.5m-0.5 0h1.5m8.5 0h1.5m-0.5 0h1.5m1.5 0h1.5m-0.5 0h1.5m7.5 0h1.5m2.5 0h1.5m2.5 0h1.5m4.5 0h1.5m1.5 0h1.5m2.5 0h1.5m6.5 0h1.5m-171.5 1h1.5m21.5 0h1.5m-0.5 0h1.5m-0.5 0h1.5m0.5 0h1.5m2.5 0h1.5m12.5 0h1.5m0.5 0h1.5m0.5 0h1.5m0.5 0h1.5m14.5 0h1.5m9.5 0h1.5m14.5 0h1.5m29.5 0h1.5m13.5 0h1.5m0.5 0h1.5m15.5 0h1.5m-157.5 1h1.5m6.5 0h1.5m11.5 0h1.5m-0.5 0h1.5m6.5 0h1.5m5.5 0h1.5m12.5 0h1.5m0.5 0h1.5m-0.5 0h1.5m-0.5 0h1.5m7.5 0h1.5m4.5 0h1.5m4.5 0h1.5m-0.5 0h1.5m10.5 0h1.5m18.5 0h1.5m9.5 0h1.5m13.5 0h1.5m-0.5 0h1.5m18.5 0h1.5m-182.5 1h1.5m30.5 0h1.5m14.5 0h1.5m1.5 0h1.5m-0.5 0h1.5m16.5 0h1.5m6.5 0h1.5m19.5 0h1.5m14.5 0h1.5m34.5 0h1.5m3.5 0h1.5m9.5 0h1.5m6.5 0h1.5m-146.5 1h1.5m19.5 0h1.5m1.5 0h1.5m1.5 0h1.5m-0.5 0h1.5m0.5 0h1.5m2.5 0h1.5m-0.5 0h1.5m6.5 0h1.5m5.5 0h1.5m-0.5 0h1.5m-0.5 0h1.5m-0.5 0h1.5m-0.5 0h1.5m1.5 0h1.5m1.5 0h1.5m2.5 0h1.5m-0.5 0h1.5m4.5 0h1.5m2.5 0h1.5m0.5 0h1.5m-0.5 0h1.5m1.5 0h1.5m-0.5 0h1.5m43.5 0h1.5m0.5 0h1.5m2.5 0h1.5m18.5 0h1.5m-177.5 1h1.5m14.5 0h1.5m0.5 0h1.5m6.5 0h1.5m24.5 0h1.5m10.5 0h1.5m0.5 0h1.5m0.5 0h1.5m13.5 0h1.5m8.5 0h1.5m6.5 0h1.5m5.5 0h1.5m12.5 0h1.5m17.5 0h1.5m9.5 0h1.5m0.5 0h1.5m1.5 0h1.5m-0.5 0h1.5m0.5 0h1.5m1.5 0h1.5m-187.5 1h1.5m46.5 0h1.5m-0.5 0h1.5m8.5 0h1.5m7.5 0h1.5m-0.5 0h1.5m0.5 0h1.5m0.5 0h1.5m6.5 0h1.5m6.5 0h1.5m4.5 0h1.5m11.5 0h1.5m0.5 0h1.5m18.5 0h1.5m0.5 0h1.5m-0.5 0h1.5m3.5 0h1.5m1.5 0h1.5m17.5 0h1.5m3.5 0h1.5m11.5 0h1.5m-0.5 0h1.5m1.5 0h1.5m5.5 0h1.5m7.5 0h1.5m-177.5 1h1.5m-0.5 0h1.5m0.5 0h1.5m4.5 0h1.5m13.5 0h1.5m10.5 0h1.5m8.5 0h1.5m0.5 0h1.5m0.5 0h1.5m0.5 0h1.5m3.5 0h1.5m2.5 0h1.5m-0.5 0h1.5m-0.5 0h1.5m-0.5 0h1.5m-0.5 0h1.5m11.5 0h1.5m1.5 0h1.5m1.5 0h1.5m1.5 0h1.5m3.5 0h1.5m0.5 0h1.5m2.5 0h1.5m1.5 0h1.5m0.5 0h1.5m2.5 0h1.5m0.5 0h1.5m3.5 0h1.5m0.5 0h1.5m10.5 0h1.5m3.5 0h1.5m13.5 0h1.5m5.5 0h1.5m0.5 0h1.5m14.5 0h1.5m-192.5 1h1.5m23.5 0h1.5m3.5 0h1.5m11.5 0h1.5m-0.5 0h1.5m3.5 0h1.5m-0.5 0h1.5m5.5 0h1.5m-0.5 0h1.5m-0.5 0h1.5m9.5 0h1.5m3.5 0h1.5m2.5 0h1.5m-0.5 0h1.5m0.5 0h1.5m-0.5 0h1.5m-0.5 0h1.5m5.5 0h1.5m2.5 0h1.5m6.5 0h1.5m1.5 0h1.5m-0.5 0h1.5m-0.5 0h1.5m-0.5 0h1.5m1.5 0h1.5m0.5 0h1.5m7.5 0h1.5m13.5 0h1.5m18.5 0h1.5m20.5 0h1.5m-0.5 0h1.5m-170.5 1h1.5m4.5 0h1.5m8.5 0h1.5m9.5 0h1.5m2.5 0h1.5m9.5 0h1.5m0.5 0h1.5m-0.5 0h1.5m1.5 0h1.5m7.5 0h1.5m2.5 0h1.5m-0.5 0h1.5m1.5 0h1.5m1.5 0h1.5m2.5 0h1.5m0.5 0h1.5m-0.5 0h1.5m-0.5 0h1.5m-0.5 0h1.5m2.5 0h1.5m4.5 0h1.5m17.5 0h1.5m-0.5 0h1.5m6.5 0h1.5m-0.5 0h1.5m1.5 0h1.5m5.5 0h1.5m24.5 0h1.5m13.5 0h1.5m20.5 0h1.5m-184.5 1h1.5m10.5 0h1.5m23.5 0h1.5m-0.5 0h1.5m9.5 0h1.5m3.5 0h1.5m1.5 0h1.5m4.5 0h1.5m3.5 0h1.5m-0.5 0h1.5m2.5 0h1.5m15.5 0h1.5m1.5 0h1.5m0.5 0h1.5m-0.5 0h1.5m-0.5 0h1.5m2.5 0h1.5m1.5 0h1.5m32.5 0h1.5m2.5 0h1.5m7.5 0h1.5m0.5 0h1.5m2.5 0h1.5m-162.5 1h1.5m4.5 0h1.5m14.5 0h1.5m2.5 0h1.5m-0.5 0h1.5m0.5 0h1.5m7.5 0h1.5m1.5 0h1.5m-0.5 0h1.5m-0.5 0h1.5m2.5 0h1.5m9.5 0h1.5m-0.5 0h1.5m-0.5 0h1.5m0.5 0h1.5m0.5 0h1.5m5.5 0h1.5m6.5 0h1.5m6.5 0h1.5m0.5 0h1.5m-0.5 0h1.5m2.5 0h1.5m10.5 0h1.5m0.5 0h1.5m15.5 0h1.5m9.5 0h1.5m9.5 0h1.5m24.5 0h1.5m5.5 0h1.5m-149.5 1h1.5m8.5 0h1.5m2.5 0h1.5m-0.5 0h1.5m2.5 0h1.5m-0.5 0h1.5m5.5 0h1.5m0.5 0h1.5m2.5 0h1.5m-0.5 0h1.5m7.5 0h1.5m18.5 0h1.5m10.5 0h1.5m-0.5 0h1.5m-0.5 0h1.5m0.5 0h1.5m8.5 0h1.5m15.5 0h1.5m8.5 0h1.5m-160.5 1h1.5m47.5 0h1.5m3.5 0h1.5m6.5 0h1.5m4.5 0h1.5m1.5 0h1.5m-0.5 0h1.5m4.5 0h1.5m3.5 0h1.5m2.5 0h1.5m2.5 0h1.5m2.5 0h1.5m1.5 0h1.5m-0.5 0h1.5m0.5 0h1.5m12.5 0h1.5m1.5 0h1.5m1.5 0h1.5m1.5 0h1.5m-0.5 0h1.5m23.5 0h1.5m0.5 0h1.5m4.5 0h1.5m0.5 0h1.5m-155.5 1h1.5m2.5 0h1.5m0.5 0h1.5m2.5 0h1.5m5.5 0h1.5m2.5 0h1.5m7.5 0h1.5m2.5 0h1.5m12.5 0h1.5m5.5 0h1.5m-0.5 0h1.5m3.5 0h1.5m1.5 0h1.5m-0.5 0h1.5m0.5 0h1.5m1.5 0h1.5m3.5 0h1.5m5.5 0h1.5m0.5 0h1.5m7.5 0h1.5m3.5 0h1.5m2.5 0h1.5m1.5 0h1.5m-0.5 0h1.5m15.5 0h1.5m0.5 0h1.5m48.5 0h1.5m-173.5 1h1.5m2.5 0h1.5m12.5 0h1.5m4.5 0h1.5m9.5 0h1.5m1.5 0h1.5m0.5 0h1.5m-0.5 0h1.5m-0.5 0h1.5m8.5 0h1.5m4.5 0h1.5m5.5 0h1.5m3.5 0h1.5m-0.5 0h1.5m2.5 0h1.5m-0.5 0h1.5m1.5 0h1.5m3.5 0h1.5m-0.5 0h1.5m-0.5 0h1.5m-0.5 0h1.5m6.5 0h1.5m0.5 0h1.5m3.5 0h1.5m3.5 0h1.5m6.5 0h1.5m2.5 0h1.5m0.5 0h1.5m1.5 0h1.5m3.5 0h1.5m1.5 0h1.5m3.5 0h1.5m65.5 0h1.5m-193.5 1h1.5m0.5 0h1.5m2.5 0h1.5m0.5 0h1.5m1.5 0h1.5m4.5 0h1.5m5.5 0h1.5m6.5 0h1.5m2.5 0h1.5m4.5 0h1.5m0.5 0h1.5m3.5 0h1.5m5.5 0h1.5m1.5 0h1.5m9.5 0h1.5m5.5 0h1.5m0.5 0h1.5m-0.5 0h1.5m-0.5 0h1.5m17.5 0h1.5m0.5 0h1.5m0.5 0h1.5m43.5 0h1.5m8.5 0h1.5m5.5 0h1.5m-174.5 1h1.5m15.5 0h1.5m10.5 0h1.5m3.5 0h1.5m-0.5 0h1.5m3.5 0h1.5m7.5 0h1.5m-0.5 0h1.5m-0.5 0h1.5m-0.5 0h1.5m-0.5 0h1.5m1.5 0h1.5m0.5 0h1.5m-0.5 0h1.5m-0.5 0h1.5m0.5 0h1.5m4.5 0h1.5m3.5 0h1.5m1.5 0h1.5m0.5 0h1.5m13.5 0h1.5m0.5 0h1.5m-0.5 0h1.5m3.5 0h1.5m-0.5 0h1.5m2.5 0h1.5m0.5 0h1.5m0.5 0h1.5m0.5 0h1.5m-0.5 0h1.5m0.5 0h1.5m8.5 0h1.5m14.5 0h1.5m-0.5 0h1.5m-149.5 1h1.5m2.5 0h1.5m28.5 0h1.5m-0.5 0h1.5m-0.5 0h1.5m2.5 0h1.5m-0.5 0h1.5m7.5 0h1.5m2.5 0h1.5m1.5 0h1.5m-0.5 0h1.5m1.5 0h1.5m4.5 0h1.5m4.5 0h1.5m-0.5 0h1.5m1.5 0h1.5m0.5 0h1.5m1.5 0h1.5m0.5 0h1.5m6.5 0h1.5m0.5 0h1.5m4.5 0h1.5m6.5 0h1.5m1.5 0h1.5m2.5 0h1.5m1.5 0h1.5m13.5 0h1.5m15.5 0h1.5m0.5 0h1.5m-158.5 1h1.5m17.5 0h1.5m1.5 0h1.5m19.5 0h1.5m3.5 0h1.5m0.5 0h1.5m-0.5 0h1.5m2.5 0h1.5m6.5 0h1.5m5.5 0h1.5m4.5 0h1.5m-0.5 0h1.5m-0.5 0h1.5m-0.5 0h1.5m3.5 0h1.5m0.5 0h1.5m-0.5 0h1.5m1.5 0h1.5m-0.5 0h1.5m0.5 0h1.5m0.5 0h1.5m14.5 0h1.5m2.5 0h1.5m0.5 0h1.5m5.5 0h1.5m7.5 0h1.5m7.5 0h1.5m18.5 0h1.5m-151.5 1h1.5m2.5 0h1.5m-0.5 0h1.5m2.5 0h1.5m5.5 0h1.5m4.5 0h1.5m10.5 0h1.5m-0.5 0h1.5m15.5 0h1.5m3.5 0h1.5m18.5 0h1.5m0.5 0h1.5m4.5 0h1.5m3.5 0h1.5m0.5 0h1.5m0.5 0h1.5m2.5 0h1.5m14.5 0h1.5m22.5 0h1.5m19.5 0h1.5m-171.5 1h1.5m17.5 0h1.5m-0.5 0h1.5m13.5 0h1.5m0.5 0h1.5m13.5 0h1.5m7.5 0h1.5m-0.5 0h1.5m2.5 0h1.5m8.5 0h1.5m1.5 0h1.5m8.5 0h1.5m-0.5 0h1.5m-0.5 0h1.5m12.5 0h1.5m0.5 0h1.5m-0.5 0h1.5m10.5 0h1.5m-0.5 0h1.5m-0.5 0h1.5m0.5 0h1.5m2.5 0h1.5m0.5 0h1.5m25.5 0h1.5m-0.5 0h1.5m2.5 0h1.5m-142.5 1h1.5m0.5 0h1.5m20.5 0h1.5m0.5 0h1.5m-0.5 0h1.5m-0.5 0h1.5m6.5 0h1.5m1.5 0h1.5m0.5 0h1.5m0.5 0h1.5m2.5 0h1.5m3.5 0h1.5m8.5 0h1.5m2.5 0h1.5m11.5 0h1.5m7.5 0h1.5m3.5 0h1.5m4.5 0h1.5m11.5 0h1.5m-105.5 1h1.5m-0.5 0h1.5m4.5 0h1.5m-0.5 0h1.5m1.5 0h1.5m-0.5 0h1.5m0.5 0h1.5m5.5 0h1.5m1.5 0h1.5m13.5 0h1.5m0.5 0h1.5m-0.5 0h1.5m6.5 0h1.5m3.5 0h1.5m1.5 0h1.5m1.5 0h1.5m6.5 0h1.5m1.5 0h1.5m-0.5 0h1.5m-0.5 0h1.5m0.5 0h1.5m11.5 0h1.5m-0.5 0h1.5m13.5 0h1.5m0.5 0h1.5m25.5 0h1.5m-165.5 1h1.5m11.5 0h1.5m-0.5 0h1.5m34.5 0h1.5m4.5 0h1.5m5.5 0h1.5m2.5 0h1.5m0.5 0h1.5m12.5 0h1.5m2.5 0h1.5m-0.5 0h1.5m0.5 0h1.5m2.5 0h1.5m8.5 0h1.5m11.5 0h1.5m4.5 0h1.5m-126.5 1h1.5m20.5 0h1.5m13.5 0h1.5m7.5 0h1.5m13.5 0h1.5m3.5 0h1.5m3.5 0h1.5m0.5 0h1.5m-0.5 0h1.5m4.5 0h1.5m4.5 0h1.5m0.5 0h1.5m4.5 0h1.5m0.5 0h1.5m6.5 0h1.5m-0.5 0h1.5m1.5 0h1.5m5.5 0h1.5m7.5 0h1.5m-79.5 1h1.5m8.5 0h1.5m3.5 0h1.5m1.5 0h1.5m-0.5 0h1.5m0.5 0h1.5m6.5 0h1.5m0.5 0h1.5m8.5 0h1.5m13.5 0h1.5m-0.5 0h1.5m9.5 0h1.5m6.5 0h1.5m-0.5 0h1.5m1.5 0h1.5m13.5 0h1.5m-110.5 1h1.5m15.5 0h1.5m5.5 0h1.5m0.5 0h1.5m17.5 0h1.5m0.5 0h1.5m33.5 0h1.5m28.5 0h1.5m-99.5 1h1.5m8.5 0h1.5m-0.5 0h1.5m5.5 0h1.5m0.5 0h1.5m-0.5 0h1.5m1.5 0h1.5m-0.5 0h1.5m-0.5 0h1.5m-0.5 0h1.5m2.5 0h1.5m27.5 0h1.5m-89.5 1h1.5m49.5 0h1.5m11.5 0h1.5m1.5 0h1.5m6.5 0h1.5m22.5 0h1.5m2.5 0h1.5m9.5 0h1.5m10.5 0h1.5m-108.5 1h1.5m19.5 0h1.5m26.5 0h1.5m4.5 0h1.5m1.5 0h1.5m1.5 0h1.5m20.5 0h1.5m-81.5 1h1.5m45.5 0h1.5m-67.5 1h1.5m97.5 0h1.5m0.5 0h1.5m-11.5 1h1.5m75.5 0h1.5m-131.5 1h1.5m28.5 0h1.5m-91.5 2h1.5m157.5 2h1.5m33.5 2h1.5m-167.5 6h1.5" stroke="#0000ff" stroke-width="1.5"/>
<path d="M809 278h1.5m-3.5 5h1.5m-64.5 9h1.5m-11.5 2h1.5m-25.5 1h1.5m41.5 0h1.5m-53.5 1h1.5m30.5 0h1.5m-14.5 1h1.5m13.5 0h1.5m-41.5 1h1.5m4.5 0h1.5m-0.5 0h1.5m10.5 0h1.5m-8.5 1h1.5m-16.5 1h1.5m6.5 0h1.5m20.5 0h1.5m-34.5 1h1.5m5.5 0h1.5m15.5 0h1.5m19.5 0h1.5m0.5 0h1.5m-39.5 1h1.5m29.5 0h1.5m-29.5 1h1.5m12.5 1h1.5m13.5 0h1.5m-28.5 1h1.5m7.5 0h1.5m17.5 0h1.5m-21.5 1h1.5m9.5 0h1.5m-4.5 1h1.5m1.5 0h1.5m-20.5 1h1.5m2.5 0h1.5m2.5 0h1.5m15.5 0h1.5m2.5 1h1.5m-29.5 1h1.5m13.5 1h1.5m5.5 1h1.5" stroke="#f0e000" stroke-width="1.5"/>
<path d="M828 255h1.5m13.5 0h1.5m-24.5 2h1.5m0.5 2h1.5m3.5 2h1.5m8.5 4h1.5m-17.5 1h1.5m1.5 1h1.5m-4.5 1h1.5m-10.5 2h1.5m11.5 4h1.5m-14.5 2h1.5m-12.5 1h1.5m8.5 0h1.5m-1.5 1h1.5m-9.5 1h1.5m-7.5 1h1.5m3.5 1h1.5m0.5 0h1.5m-4.5 1h1.5m4.5 1h1.5m1.5 0h1.5m-10.5 1h1.5m-0.5 1h1.5m1.5 3h1.5m3.5 0h1.5m-95.5 1h1.5m25.5 0h1.5m53.5 0h1.5m-90.5 1h1.5m6.5 0h1.5m77.5 0h1.5m-90.5 1h1.5m9.5 0h1.5m17.5 0h1.5m6.5 0h1.5m-55.5 1h1.5m8.5 0h1.5m5.5 0h1.5m39.5 0h1.5m-38.5 2h1.5m-0.5 0h1.5m13.5 0h1.5m-52.5 1h1.5m14.5 0h1.5m15.5 0h1.5m4.5 0h1.5m12.5 0h1.5m0.5 0h1.5m2.5 0h1.5m7.5 0h1.5m-72.5 1h1.5m15.5 0h1.5m7.5 0h1.5m-0.5 0h1.5m9.5 0h1.5m3.5 0h1.5m-0.5 0h1.5m17.5 0h1.5m0.5 0h1.5m-52.5 1h1.5m2.5 0h1.5m5.5 0h1.5m4.5 0h1.5m6.5 0h1.5m19.5 0h1.5m4.5 0h1.5m-61.5 1h1.5m19.5 0h1.5m5.5 0h1.5m-0.5 0h1.5m3.5 0h1.5m0.5 0h1.5m2.5 0h1.5m1.5 0h1.5m2.5 0h1.5m18.5 0h1.5m-64.5 1h1.5m6.5 0h1.5m20.5 0h1.5m-0.5 0h1.5m1.5 0h1.5m0.5 0h1.5m0.5 0h1.5m4.5 0h1.5m1.5 0h1.5m-0.5 0h1.5m1.5 0h1.5m4.5 0h1.5m-73.5 1h1.5m1.5 0h1.5m4.5 0h1.5m12.5 0h1.5m2.5 0h1.5m3.5 0h1.5m4.5 0h1.5m6.5 0h1.5m1.5 0h1.5m10.5 0h1.5m12.5 0h1.5m-60.5 1h1.5m-0.5 0h1.5m0.5 0h1.5m5.5 0h1.5m8.5 0h1.5m3.5 0h1.5m20.5 0h1.5m1.5 0h1.5m2.5 0h1.5m-68.5 1h1.5m25.5 0h1.5m3.5 0h1.5m2.5 0h1.5m18.5 0h1.5m-0.5 0h1.5m0.5 0h1.5m5.5 0h1.5m14.5 0h1.5m-84.5 1h1.5m16.5 0h1.5m7.5 0h1.5m3.5 0h1.5m2.5 0h1.5m7.5 0h1.5m0.5 0h1.5m-0.5 0h1.5m-0.5 0h1.5m5.5 0h1.5m1.5 0h1.5m5.5 0h1.5m-0.5 0h1.5m7.5 0h1.5m-44.5 1h1.5m1.5 0h1.5m13.5 0h1.5m31.5 0h1.5m-0.5 0h1.5m-75.5 1h1.5m19.5 0h1.5m4.5 0h1.5m5.5 0h1.5m4.5 0h1.5m7.5 0h1.5m6.5 0h1.5m16.5 0h1.5m-70.5 1h1.5m7.5 0h1.5m-0.5 0h1.5m5.5 0h1.5m4.5 0h1.5m7.5 0h1.5m2.5 0h1.5m6.5 0h1.5m10.5 0h1.5m-60.5 1h1.5m4.5 0h1.5m3.5 0h1.5m20.5 0h1.5m0.5 0h1.5m1.5 0h1.5m0.5 0h1.5m28.5 0h1.5m-75.5 1h1.5m14.5 0h1.5m7.5 0h1.5m0.5 0h1.5m10.5 0h1.5m-0.5 0h1.5m4.5 0h1.5m1.5 0h1.5m-0.5 0h1.5m-34.5 1h1.5m9.5 0h1.5m-12.5 1h1.5m9.5 0h1.5m10.5 0h1.5m-28.5 2h1.5m6.5 0h1.5m9.5 0h1.5m15.5 0h1.5m-33.5 1h1.5m0.5 0h1.5m18.5 1h1.5" stroke="#00dd00" stroke-width="1.5"/>
<path d="M716 292h1.5m-5.5 1h1.5m-22.5 2h1.5m19.5 0h1.5m15.5 0h1.5m-16.5 1h1.5m-10.5 3h1.5m-1.5 1h1.5m25.5 0h1.5m-25.5 2h1.5m9.5 0h1.5m9.5 0h1.5m6.5 1h1.5m-14.5 1h1.5m1.5 0h1.5m-32.5 1h1.5m26.5 0h1.5m-11.5 1h1.5m-23.5 2h1.5m19.5 0h1.5m-0.5 0h1.5m9.5 1h1.5m11.5 1h1.5" stroke="#ff1800" stroke-width="1.5"/>
<rect x="622.3" y="98.0" width="277.7" height="276.4" fill="none" stroke="#444" stroke-width="1.6"/>
<path d="M785.3 98.0V374.4M622.3 278.6H900.0" stroke="#000" stroke-width="2.2"/>
<text x="626.9" y="116.2" font-size="16.71" textLength="59.1" lengthAdjust="spacingAndGlyphs" style="font-weight:bold">Q1:9.07</text>
<text x="836.6" y="116.2" font-size="16.71" textLength="59.1" lengthAdjust="spacingAndGlyphs" style="font-weight:bold">Q2:23.9</text>
<text x="626.9" y="371.5" font-size="16.71" textLength="59.1" lengthAdjust="spacingAndGlyphs" style="font-weight:bold">Q4:53.6</text>
<text x="834.7" y="371.5" font-size="16.71" textLength="59.1" lengthAdjust="spacingAndGlyphs" style="font-weight:bold">Q3:13.4</text>
<text x="693.7" y="426.7" font-size="23.59" textLength="126.2" lengthAdjust="spacingAndGlyphs" style="font-weight:bold">GITR(APC)</text>
<text x="0" y="0" font-size="23.96" transform="translate(574.2,310.7) rotate(-90)" textLength="98.4" lengthAdjust="spacingAndGlyphs" style="font-weight:bold">CD3(PE)</text>
<text x="613.5" y="401.1" font-size="16.86" style="font-weight:bold">-10</text>
<text x="639.7" y="392.3" font-size="11.43" style="font-weight:bold">3</text>
<text x="720.7" y="401.1" font-size="16.86" style="font-weight:bold">10</text>
<text x="743.9" y="392.3" font-size="11.43" style="font-weight:bold">3</text>
<text x="795.9" y="401.1" font-size="16.86" style="font-weight:bold">10</text>
<text x="819.3" y="392.3" font-size="11.59" style="font-weight:bold">4</text>
<text x="860.3" y="401.1" font-size="16.86" style="font-weight:bold">10</text>
<text x="883.5" y="392.3" font-size="11.59" style="font-weight:bold">5</text>
<text x="678.5" y="401.1" font-size="16.86" style="font-weight:bold">0</text>
<text x="588.5" y="130.6" font-size="16.43" style="font-weight:bold">10</text>
<text x="606.0" y="121.6" font-size="12.61" style="font-weight:bold">5</text>
<text x="588.1" y="194.7" font-size="16.43" style="font-weight:bold">10</text>
<text x="605.8" y="185.7" font-size="12.61" style="font-weight:bold">4</text>
<text x="588.6" y="269.6" font-size="16.43" style="font-weight:bold">10</text>
<text x="606.1" y="260.6" font-size="12.43" style="font-weight:bold">3</text>
<text x="583.1" y="367.2" font-size="16.43" style="font-weight:bold">-10</text>
<text x="606.1" y="358.2" font-size="12.43" style="font-weight:bold">3</text>
<text x="596.7" y="319.9" font-size="16.43" style="font-weight:bold">0</text>
<path d="M296.8 726.0v4M241.1 670.3h-4M306.6 726.0v4M241.1 660.5h-4M292.1 726.0v4M241.1 675.0h-4M311.6 726.0v4M241.1 655.5h-4M287.3 726.0v4M241.1 679.8h-4M316.7 726.0v4M241.1 650.4h-4M282.6 726.0v4M241.1 684.5h-4M321.7 726.0v4M241.1 645.4h-4M277.8 726.0v4M241.1 689.3h-4M326.8 726.0v4M241.1 640.3h-4M273.1 726.0v4M241.1 694.0h-4M331.8 726.0v4M241.1 635.3h-4M268.4 726.0v4M241.1 698.7h-4M336.9 726.0v4M241.1 630.2h-4M263.6 726.0v4M241.1 703.5h-4M341.9 726.0v4M241.1 625.2h-4M258.9 726.0v4M241.1 708.2h-4M347.0 726.0v4M241.1 620.1h-4M374.6 726.0v4M241.1 592.5h-4M387.9 726.0v4M241.1 579.2h-4M397.3 726.0v4M241.1 569.8h-4M404.5 726.0v4M241.1 562.6h-4M410.5 726.0v4M241.1 556.6h-4M415.5 726.0v4M241.1 551.6h-4M419.9 726.0v4M241.1 547.2h-4M423.7 726.0v4M241.1 543.4h-4M446.5 726.0v4M241.1 520.6h-4M457.9 726.0v4M241.1 509.2h-4M465.9 726.0v4M241.1 501.2h-4M472.1 726.0v4M241.1 495.0h-4M477.2 726.0v4M241.1 489.9h-4M481.5 726.0v4M241.1 485.6h-4M485.3 726.0v4M241.1 481.8h-4M488.6 726.0v4M241.1 478.5h-4M510.9 726.0v4M241.1 456.2h-4" stroke="#222" stroke-width="1.3" fill="none"/>
<path d="M254.1 726.0v7M241.1 713.0h-7M352.0 726.0v7M241.1 615.1h-7M427.2 726.0v7M241.1 539.9h-7M491.5 726.0v7M241.1 475.6h-7" stroke="#111" stroke-width="2" fill="none"/>
<path d="M295.6 726.0v6M241.1 671.5h-6M297.1 726.0v6M241.1 670.0h-6M298.6 726.0v7M241.1 668.5h-7M300.1 726.0v7M241.1 667.0h-7M301.6 726.0v7M241.1 665.5h-7M303.1 726.0v7M241.1 664.0h-7M304.6 726.0v7M241.1 662.5h-7M306.1 726.0v6M241.1 661.0h-6M307.6 726.0v6M241.1 659.5h-6" stroke="#111" stroke-width="1.4" fill="none"/>
<path d="M362 589h1.5m-91.5 5h1.5m49.5 0h1.5m20.5 0h1.5m40.5 2h1.5m-64.5 1h1.5m22.5 0h1.5m2.5 0h1.5m13.5 1h1.5m-31.5 2h1.5m6.5 1h1.5m28.5 0h1.5m48.5 0h1.5m-143.5 1h1.5m33.5 0h1.5m-42.5 1h1.5m58.5 0h1.5m42.5 0h1.5m-56.5 1h1.5m19.5 0h1.5m3.5 1h1.5m39.5 0h1.5m2.5 0h1.5m-65.5 1h1.5m-38.5 1h1.5m31.5 0h1.5m9.5 0h1.5m-18.5 1h1.5m17.5 0h1.5m-0.5 0h1.5m1.5 1h1.5m0.5 0h1.5m8.5 0h1.5m-44.5 1h1.5m51.5 0h1.5m20.5 0h1.5m2.5 0h1.5m49.5 0h1.5m-150.5 1h1.5m7.5 0h1.5m16.5 0h1.5m10.5 0h1.5m3.5 0h1.5m-0.5 0h1.5m7.5 0h1.5m8.5 0h1.5m2.5 0h1.5m-81.5 1h1.5m29.5 0h1.5m16.5 0h1.5m33.5 0h1.5m10.5 0h1.5m64.5 0h1.5m11.5 0h1.5m-149.5 1h1.5m23.5 0h1.5m14.5 0h1.5m4.5 0h1.5m5.5 0h1.5m17.5 0h1.5m1.5 0h1.5m-106.5 1h1.5m12.5 0h1.5m6.5 0h1.5m2.5 0h1.5m13.5 0h1.5m38.5 0h1.5m26.5 0h1.5m7.5 0h1.5m79.5 0h1.5m-161.5 1h1.5m16.5 0h1.5m3.5 0h1.5m8.5 0h1.5m13.5 0h1.5m6.5 0h1.5m21.5 0h1.5m78.5 0h1.5m-177.5 1h1.5m6.5 0h1.5m11.5 0h1.5m4.5 0h1.5m5.5 0h1.5m6.5 0h1.5m113.5 0h1.5m-121.5 1h1.5m3.5 0h1.5m9.5 0h1.5m-0.5 0h1.5m2.5 0h1.5m6.5 0h1.5m2.5 0h1.5m69.5 0h1.5m8.5 0h1.5m-192.5 1h1.5m26.5 0h1.5m13.5 0h1.5m19.5 0h1.5m10.5 0h1.5m1.5 0h1.5m25.5 0h1.5m2.5 0h1.5m-111.5 1h1.5m47.5 0h1.5m17.5 0h1.5m20.5 0h1.5m11.5 0h1.5m4.5 0h1.5m77.5 0h1.5m-122.5 1h1.5m10.5 0h1.5m1.5 0h1.5m33.5 0h1.5m22.5 0h1.5m1.5 0h1.5m1.5 0h1.5m1.5 0h1.5m18.5 0h1.5m37.5 0h1.5m-131.5 1h1.5m14.5 0h1.5m44.5 0h1.5m-106.5 1h1.5m20.5 0h1.5m8.5 0h1.5m12.5 0h1.5m4.5 0h1.5m6.5 0h1.5m6.5 0h1.5m6.5 0h1.5m57.5 0h1.5m-118.5 1h1.5m14.5 0h1.5m18.5 0h1.5m4.5 0h1.5m3.5 0h1.5m11.5 0h1.5m82.5 0h1.5m49.5 0h1.5m-222.5 1h1.5m15.5 0h1.5m22.5 0h1.5m-0.5 0h1.5m0.5 0h1.5m4.5 0h1.5m19.5 0h1.5m33.5 0h1.5m8.5 0h1.5m45.5 0h1.5m7.5 0h1.5m-149.5 1h1.5m-0.5 0h1.5m2.5 0h1.5m2.5 0h1.5m1.5 0h1.5m7.5 0h1.5m3.5 0h1.5m9.5 0h1.5m3.5 0h1.5m-0.5 0h1.5m-0.5 0h1.5m7.5 0h1.5m7.5 0h1.5m18.5 0h1.5m40.5 0h1.5m26.5 0h1.5m-136.5 1h1.5m10.5 0h1.5m7.5 0h1.5m0.5 0h1.5m0.5 0h1.5m2.5 0h1.5m29.5 0h1.5m2.5 0h1.5m-0.5 0h1.5m59.5 0h1.5m4.5 0h1.5m-171.5 1h1.5m27.5 0h1.5m-0.5 0h1.5m12.5 0h1.5m33.5 0h1.5m63.5 0h1.5m8.5 0h1.5m3.5 0h1.5m3.5 0h1.5m21.5 0h1.5m-182.5 1h1.5m-0.5 0h1.5m12.5 0h1.5m32.5 0h1.5m8.5 0h1.5m0.5 0h1.5m0.5 0h1.5m5.5 0h1.5m1.5 0h1.5m18.5 0h1.5m7.5 0h1.5m47.5 0h1.5m-139.5 1h1.5m3.5 0h1.5m11.5 0h1.5m2.5 0h1.5m6.5 0h1.5m2.5 0h1.5m0.5 0h1.5m7.5 0h1.5m1.5 0h1.5m-0.5 0h1.5m3.5 0h1.5m2.5 0h1.5m86.5 0h1.5m-169.5 1h1.5m22.5 0h1.5m3.5 0h1.5m2.5 0h1.5m0.5 0h1.5m8.5 0h1.5m1.5 0h1.5m6.5 0h1.5m11.5 0h1.5m9.5 0h1.5m51.5 0h1.5m-117.5 1h1.5m27.5 0h1.5m0.5 0h1.5m21.5 0h1.5m12.5 0h1.5m24.5 0h1.5m11.5 0h1.5m44.5 0h1.5m2.5 0h1.5m-158.5 1h1.5m1.5 0h1.5m8.5 0h1.5m4.5 0h1.5m32.5 0h1.5m-0.5 0h1.5m-0.5 0h1.5m45.5 0h1.5m33.5 0h1.5m0.5 0h1.5m5.5 0h1.5m6.5 0h1.5m-159.5 1h1.5m23.5 0h1.5m6.5 0h1.5m-0.5 0h1.5m9.5 0h1.5m11.5 0h1.5m4.5 0h1.5m5.5 0h1.5m68.5 0h1.5m16.5 0h1.5m-154.5 1h1.5m1.5 0h1.5m10.5 0h1.5m3.5 0h1.5m5.5 0h1.5m12.5 0h1.5m79.5 0h1.5m-148.5 1h1.5m22.5 0h1.5m0.5 0h1.5m3.5 0h1.5m26.5 0h1.5m0.5 0h1.5m2.5 0h1.5m-0.5 0h1.5m6.5 0h1.5m11.5 0h1.5m17.5 0h1.5m65.5 0h1.5m5.5 0h1.5m2.5 0h1.5m-166.5 1h1.5m15.5 0h1.5m-0.5 0h1.5m4.5 0h1.5m11.5 0h1.5m3.5 0h1.5m4.5 0h1.5m0.5 0h1.5m5.5 0h1.5m2.5 0h1.5m3.5 0h1.5m9.5 0h1.5m19.5 0h1.5m53.5 0h1.5m-165.5 1h1.5m6.5 0h1.5m3.5 0h1.5m9.5 0h1.5m1.5 0h1.5m15.5 0h1.5m15.5 0h1.5m1.5 0h1.5m0.5 0h1.5m10.5 0h1.5m2.5 0h1.5m7.5 0h1.5m2.5 0h1.5m8.5 0h1.5m31.5 0h1.5m-147.5 1h1.5m3.5 0h1.5m15.5 0h1.5m12.5 0h1.5m16.5 0h1.5m2.5 0h1.5m1.5 0h1.5m-0.5 0h1.5m0.5 0h1.5m1.5 0h1.5m1.5 0h1.5m0.5 0h1.5m7.5 0h1.5m13.5 0h1.5m2.5 0h1.5m12.5 0h1.5m39.5 0h1.5m0.5 0h1.5m-140.5 1h1.5m4.5 0h1.5m-0.5 0h1.5m-0.5 0h1.5m5.5 0h1.5m-0.5 0h1.5m6.5 0h1.5m4.5 0h1.5m7.5 0h1.5m2.5 0h1.5m7.5 0h1.5m8.5 0h1.5m1.5 0h1.5m2.5 0h1.5m2.5 0h1.5m0.5 0h1.5m21.5 0h1.5m53.5 0h1.5m2.5 0h1.5m-156.5 1h1.5m1.5 0h1.5m12.5 0h1.5m1.5 0h1.5m8.5 0h1.5m-0.5 0h1.5m7.5 0h1.5m5.5 0h1.5m13.5 0h1.5m10.5 0h1.5m-0.5 0h1.5m8.5 0h1.5m1.5 0h1.5m49.5 0h1.5m0.5 0h1.5m-147.5 1h1.5m19.5 0h1.5m0.5 0h1.5m3.5 0h1.5m8.5 0h1.5m-0.5 0h1.5m4.5 0h1.5m5.5 0h1.5m-0.5 0h1.5m0.5 0h1.5m7.5 0h1.5m4.5 0h1.5m0.5 0h1.5m22.5 0h1.5m-84.5 1h1.5m2.5 0h1.5m6.5 0h1.5m10.5 0h1.5m15.5 0h1.5m-0.5 0h1.5m1.5 0h1.5m7.5 0h1.5m5.5 0h1.5m0.5 0h1.5m20.5 0h1.5m31.5 0h1.5m13.5 0h1.5m14.5 0h1.5m6.5 0h1.5m-180.5 1h1.5m4.5 0h1.5m6.5 0h1.5m3.5 0h1.5m-0.5 0h1.5m13.5 0h1.5m-0.5 0h1.5m2.5 0h1.5m-0.5 0h1.5m-0.5 0h1.5m13.5 0h1.5m-0.5 0h1.5m1.5 0h1.5m11.5 0h1.5m0.5 0h1.5m5.5 0h1.5m3.5 0h1.5m4.5 0h1.5m-0.5 0h1.5m4.5 0h1.5m0.5 0h1.5m11.5 0h1.5m-105.5 1h1.5m5.5 0h1.5m5.5 0h1.5m0.5 0h1.5m3.5 0h1.5m4.5 0h1.5m0.5 0h1.5m2.5 0h1.5m23.5 0h1.5m4.5 0h1.5m3.5 0h1.5m3.5 0h1.5m-0.5 0h1.5m19.5 0h1.5m5.5 0h1.5m56.5 0h1.5m0.5 0h1.5m5.5 0h1.5m-168.5 1h1.5m12.5 0h1.5m0.5 0h1.5m-0.5 0h1.5m9.5 0h1.5m0.5 0h1.5m0.5 0h1.5m2.5 0h1.5m20.5 0h1.5m7.5 0h1.5m1.5 0h1.5m91.5 0h1.5m1.5 0h1.5m-164.5 1h1.5m3.5 0h1.5m-0.5 0h1.5m3.5 0h1.5m1.5 0h1.5m0.5 0h1.5m12.5 0h1.5m17.5 0h1.5m29.5 0h1.5m2.5 0h1.5m36.5 0h1.5m-147.5 1h1.5m9.5 0h1.5m11.5 0h1.5m0.5 0h1.5m0.5 0h1.5m-0.5 0h1.5m10.5 0h1.5m3.5 0h1.5m3.5 0h1.5m-0.5 0h1.5m7.5 0h1.5m2.5 0h1.5m-0.5 0h1.5m0.5 0h1.5m0.5 0h1.5m6.5 0h1.5m8.5 0h1.5m14.5 0h1.5m0.5 0h1.5m-102.5 1h1.5m10.5 0h1.5m13.5 0h1.5m7.5 0h1.5m3.5 0h1.5m10.5 0h1.5m3.5 0h1.5m4.5 0h1.5m1.5 0h1.5m5.5 0h1.5m0.5 0h1.5m7.5 0h1.5m2.5 0h1.5m45.5 0h1.5m2.5 0h1.5m-148.5 1h1.5m1.5 0h1.5m-0.5 0h1.5m9.5 0h1.5m26.5 0h1.5m5.5 0h1.5m1.5 0h1.5m8.5 0h1.5m0.5 0h1.5m1.5 0h1.5m1.5 0h1.5m9.5 0h1.5m7.5 0h1.5m-0.5 0h1.5m7.5 0h1.5m2.5 0h1.5m5.5 0h1.5m44.5 0h1.5m29.5 0h1.5m-168.5 1h1.5m2.5 0h1.5m1.5 0h1.5m2.5 0h1.5m6.5 0h1.5m3.5 0h1.5m1.5 0h1.5m25.5 0h1.5m5.5 0h1.5m57.5 0h1.5m-144.5 1h1.5m0.5 0h1.5m36.5 0h1.5m-0.5 0h1.5m6.5 0h1.5m1.5 0h1.5m-0.5 0h1.5m6.5 0h1.5m-0.5 0h1.5m2.5 0h1.5m12.5 0h1.5m2.5 0h1.5m-0.5 0h1.5m2.5 0h1.5m13.5 0h1.5m11.5 0h1.5m14.5 0h1.5m-119.5 1h1.5m16.5 0h1.5m18.5 0h1.5m14.5 0h1.5m4.5 0h1.5m8.5 0h1.5m0.5 0h1.5m14.5 0h1.5m3.5 0h1.5m-0.5 0h1.5m19.5 0h1.5m32.5 0h1.5m-0.5 0h1.5m-196.5 1h1.5m53.5 0h1.5m6.5 0h1.5m8.5 0h1.5m10.5 0h1.5m0.5 0h1.5m2.5 0h1.5m2.5 0h1.5m2.5 0h1.5m-0.5 0h1.5m13.5 0h1.5m1.5 0h1.5m9.5 0h1.5m-0.5 0h1.5m0.5 0h1.5m2.5 0h1.5m7.5 0h1.5m-138.5 1h1.5m43.5 0h1.5m5.5 0h1.5m6.5 0h1.5m5.5 0h1.5m-0.5 0h1.5m2.5 0h1.5m-0.5 0h1.5m8.5 0h1.5m12.5 0h1.5m0.5 0h1.5m4.5 0h1.5m0.5 0h1.5m6.5 0h1.5m-100.5 1h1.5m26.5 0h1.5m2.5 0h1.5m-0.5 0h1.5m9.5 0h1.5m7.5 0h1.5m15.5 0h1.5m7.5 0h1.5m-0.5 0h1.5m5.5 0h1.5m5.5 0h1.5m1.5 0h1.5m1.5 0h1.5m19.5 0h1.5m44.5 0h1.5m-139.5 1h1.5m10.5 0h1.5m4.5 0h1.5m12.5 0h1.5m8.5 0h1.5m3.5 0h1.5m3.5 0h1.5m20.5 0h1.5m2.5 0h1.5m77.5 0h1.5m-165.5 1h1.5m11.5 0h1.5m3.5 0h1.5m9.5 0h1.5m2.5 0h1.5m5.5 0h1.5m7.5 0h1.5m-0.5 0h1.5m9.5 0h1.5m21.5 0h1.5m3.5 0h1.5m19.5 0h1.5m-100.5 1h1.5m9.5 0h1.5m2.5 0h1.5m19.5 0h1.5m-0.5 0h1.5m2.5 0h1.5m0.5 0h1.5m3.5 0h1.5m0.5 0h1.5m0.5 0h1.5m13.5 0h1.5m22.5 0h1.5m-131.5 1h1.5m48.5 0h1.5m16.5 0h1.5m13.5 0h1.5m10.5 0h1.5m1.5 0h1.5m2.5 0h1.5m0.5 0h1.5m1.5 0h1.5m16.5 0h1.5m57.5 0h1.5m-166.5 1h1.5m23.5 0h1.5m3.5 0h1.5m0.5 0h1.5m0.5 0h1.5m11.5 0h1.5m-0.5 0h1.5m24.5 0h1.5m-0.5 0h1.5m0.5 0h1.5m-0.5 0h1.5m3.5 0h1.5m6.5 0h1.5m24.5 0h1.5m-113.5 1h1.5m10.5 0h1.5m14.5 0h1.5m3.5 0h1.5m1.5 0h1.5m0.5 0h1.5m3.5 0h1.5m0.5 0h1.5m9.5 0h1.5m6.5 0h1.5m5.5 0h1.5m3.5 0h1.5m11.5 0h1.5m1.5 0h1.5m29.5 0h1.5m-118.5 1h1.5m27.5 0h1.5m3.5 0h1.5m2.5 0h1.5m9.5 0h1.5m-0.5 0h1.5m-0.5 0h1.5m3.5 0h1.5m3.5 0h1.5m16.5 0h1.5m7.5 0h1.5m-78.5 1h1.5m7.5 0h1.5m8.5 0h1.5m1.5 0h1.5m6.5 0h1.5m21.5 0h1.5m2.5 0h1.5m-0.5 0h1.5m1.5 0h1.5m10.5 0h1.5m0.5 0h1.5m-64.5 1h1.5m6.5 0h1.5m1.5 0h1.5m-0.5 0h1.5m6.5 0h1.5m10.5 0h1.5m10.5 0h1.5m44.5 0h1.5m-108.5 1h1.5m-0.5 0h1.5m3.5 0h1.5m16.5 0h1.5m4.5 0h1.5m4.5 0h1.5m0.5 0h1.5m9.5 0h1.5m11.5 0h1.5m20.5 0h1.5m55.5 0h1.5m-116.5 1h1.5m3.5 0h1.5m14.5 0h1.5m22.5 0h1.5m-78.5 1h1.5m14.5 0h1.5m16.5 0h1.5m5.5 0h1.5m-27.5 1h1.5m4.5 0h1.5m13.5 0h1.5m-0.5 0h1.5m6.5 0h1.5m6.5 0h1.5m-0.5 0h1.5m11.5 0h1.5m21.5 0h1.5m-82.5 1h1.5m17.5 0h1.5m12.5 0h1.5m1.5 0h1.5m4.5 0h1.5m44.5 0h1.5m-61.5 1h1.5m13.5 0h1.5m-25.5 1h1.5m23.5 0h1.5m-12.5 1h1.5m6.5 0h1.5m1.5 0h1.5m-57.5 2h1.5m38.5 1h1.5m0.5 1h1.5m-19.5 1h1.5m23.5 7h1.5m20.5 4h1.5m59.5 3h1.5" stroke="#4848ff" stroke-width="1.5"/>
<path d="M356 554h1.5m-22.5 4h1.5m-46.5 19h1.5m146.5 1h1.5m-85.5 5h1.5m-18.5 3h1.5m-32.5 2h1.5m89.5 2h1.5m-57.5 1h1.5m-33.5 2h1.5m26.5 1h1.5m1.5 0h1.5m1.5 1h1.5m19.5 0h1.5m43.5 0h1.5m-81.5 2h1.5m-21.5 1h1.5m28.5 0h1.5m18.5 0h1.5m-11.5 1h1.5m-24.5 1h1.5m4.5 0h1.5m17.5 0h1.5m10.5 0h1.5m88.5 0h1.5m-68.5 1h1.5m-64.5 1h1.5m12.5 0h1.5m12.5 0h1.5m9.5 0h1.5m20.5 0h1.5m0.5 0h1.5m-84.5 1h1.5m-0.5 0h1.5m22.5 0h1.5m26.5 0h1.5m18.5 0h1.5m-73.5 1h1.5m13.5 0h1.5m-0.5 0h1.5m55.5 0h1.5m-85.5 1h1.5m27.5 0h1.5m-0.5 0h1.5m25.5 0h1.5m3.5 0h1.5m-0.5 0h1.5m2.5 0h1.5m16.5 0h1.5m2.5 0h1.5m60.5 0h1.5m-125.5 1h1.5m0.5 0h1.5m8.5 0h1.5m7.5 0h1.5m-18.5 1h1.5m12.5 0h1.5m0.5 0h1.5m0.5 0h1.5m3.5 0h1.5m10.5 0h1.5m9.5 0h1.5m-64.5 1h1.5m5.5 0h1.5m2.5 0h1.5m9.5 0h1.5m1.5 0h1.5m5.5 0h1.5m12.5 0h1.5m56.5 0h1.5m-98.5 1h1.5m8.5 0h1.5m7.5 0h1.5m-0.5 0h1.5m2.5 0h1.5m5.5 0h1.5m9.5 0h1.5m36.5 0h1.5m3.5 0h1.5m-107.5 1h1.5m4.5 0h1.5m11.5 0h1.5m2.5 0h1.5m-0.5 0h1.5m3.5 0h1.5m2.5 0h1.5m6.5 0h1.5m10.5 0h1.5m29.5 0h1.5m2.5 0h1.5m11.5 0h1.5m8.5 0h1.5m-94.5 1h1.5m0.5 0h1.5m14.5 0h1.5m-0.5 0h1.5m-0.5 0h1.5m12.5 0h1.5m16.5 0h1.5m23.5 0h1.5m1.5 0h1.5m64.5 0h1.5m-180.5 1h1.5m33.5 0h1.5m1.5 0h1.5m4.5 0h1.5m3.5 0h1.5m42.5 0h1.5m1.5 0h1.5m3.5 0h1.5m1.5 0h1.5m3.5 0h1.5m-100.5 1h1.5m5.5 0h1.5m22.5 0h1.5m3.5 0h1.5m16.5 0h1.5m1.5 0h1.5m9.5 0h1.5m7.5 0h1.5m2.5 0h1.5m79.5 0h1.5m34.5 0h1.5m-190.5 1h1.5m9.5 0h1.5m7.5 0h1.5m-0.5 0h1.5m8.5 0h1.5m13.5 0h1.5m1.5 0h1.5m5.5 0h1.5m9.5 0h1.5m8.5 0h1.5m1.5 0h1.5m23.5 0h1.5m38.5 0h1.5m2.5 0h1.5m-147.5 1h1.5m5.5 0h1.5m-0.5 0h1.5m5.5 0h1.5m1.5 0h1.5m36.5 0h1.5m1.5 0h1.5m2.5 0h1.5m-0.5 0h1.5m23.5 0h1.5m55.5 0h1.5m-155.5 1h1.5m14.5 0h1.5m31.5 0h1.5m4.5 0h1.5m-0.5 0h1.5m5.5 0h1.5m1.5 0h1.5m8.5 0h1.5m61.5 0h1.5m26.5 0h1.5m-0.5 0h1.5m-159.5 1h1.5m3.5 0h1.5m16.5 0h1.5m14.5 0h1.5m-0.5 0h1.5m89.5 0h1.5m-0.5 0h1.5m11.5 0h1.5m3.5 0h1.5m-145.5 1h1.5m20.5 0h1.5m0.5 0h1.5m0.5 0h1.5m2.5 0h1.5m6.5 0h1.5m-0.5 0h1.5m-0.5 0h1.5m1.5 0h1.5m3.5 0h1.5m4.5 0h1.5m19.5 0h1.5m18.5 0h1.5m41.5 0h1.5m-169.5 1h1.5m33.5 0h1.5m1.5 0h1.5m5.5 0h1.5m2.5 0h1.5m17.5 0h1.5m-0.5 0h1.5m1.5 0h1.5m0.5 0h1.5m5.5 0h1.5m6.5 0h1.5m2.5 0h1.5m13.5 0h1.5m6.5 0h1.5m2.5 0h1.5m58.5 0h1.5m-156.5 1h1.5m77.5 0h1.5m62.5 0h1.5m-143.5 1h1.5m12.5 0h1.5m1.5 0h1.5m1.5 0h1.5m1.5 0h1.5m5.5 0h1.5m6.5 0h1.5m13.5 0h1.5m13.5 0h1.5m23.5 0h1.5m6.5 0h1.5m67.5 0h1.5m26.5 0h1.5m-212.5 1h1.5m-0.5 0h1.5m10.5 0h1.5m3.5 0h1.5m3.5 0h1.5m12.5 0h1.5m0.5 0h1.5m2.5 0h1.5m12.5 0h1.5m11.5 0h1.5m0.5 0h1.5m6.5 0h1.5m14.5 0h1.5m7.5 0h1.5m49.5 0h1.5m3.5 0h1.5m16.5 0h1.5m0.5 0h1.5m-175.5 1h1.5m-0.5 0h1.5m65.5 0h1.5m15.5 0h1.5m3.5 0h1.5m43.5 0h1.5m13.5 0h1.5m2.5 0h1.5m-148.5 1h1.5m0.5 0h1.5m-0.5 0h1.5m10.5 0h1.5m0.5 0h1.5m7.5 0h1.5m28.5 0h1.5m3.5 0h1.5m-0.5 0h1.5m68.5 0h1.5m7.5 0h1.5m0.5 0h1.5m16.5 0h1.5m2.5 0h1.5m13.5 0h1.5m-182.5 1h1.5m21.5 0h1.5m2.5 0h1.5m4.5 0h1.5m0.5 0h1.5m0.5 0h1.5m-0.5 0h1.5m1.5 0h1.5m11.5 0h1.5m3.5 0h1.5m1.5 0h1.5m1.5 0h1.5m5.5 0h1.5m7.5 0h1.5m10.5 0h1.5m37.5 0h1.5m7.5 0h1.5m25.5 0h1.5m-194.5 1h1.5m25.5 0h1.5m-0.5 0h1.5m5.5 0h1.5m12.5 0h1.5m3.5 0h1.5m2.5 0h1.5m4.5 0h1.5m6.5 0h1.5m0.5 0h1.5m0.5 0h1.5m0.5 0h1.5m4.5 0h1.5m0.5 0h1.5m7.5 0h1.5m4.5 0h1.5m17.5 0h1.5m8.5 0h1.5m39.5 0h1.5m3.5 0h1.5m-202.5 1h1.5m45.5 0h1.5m7.5 0h1.5m3.5 0h1.5m9.5 0h1.5m6.5 0h1.5m-0.5 0h1.5m-0.5 0h1.5m12.5 0h1.5m10.5 0h1.5m-0.5 0h1.5m9.5 0h1.5m62.5 0h1.5m46.5 0h1.5m-181.5 1h1.5m17.5 0h1.5m10.5 0h1.5m5.5 0h1.5m3.5 0h1.5m2.5 0h1.5m1.5 0h1.5m1.5 0h1.5m-0.5 0h1.5m-0.5 0h1.5m36.5 0h1.5m52.5 0h1.5m-140.5 1h1.5m4.5 0h1.5m-0.5 0h1.5m1.5 0h1.5m3.5 0h1.5m-0.5 0h1.5m0.5 0h1.5m12.5 0h1.5m0.5 0h1.5m0.5 0h1.5m0.5 0h1.5m0.5 0h1.5m2.5 0h1.5m9.5 0h1.5m0.5 0h1.5m8.5 0h1.5m2.5 0h1.5m60.5 0h1.5m12.5 0h1.5m4.5 0h1.5m-169.5 1h1.5m7.5 0h1.5m1.5 0h1.5m3.5 0h1.5m1.5 0h1.5m3.5 0h1.5m1.5 0h1.5m-0.5 0h1.5m2.5 0h1.5m11.5 0h1.5m3.5 0h1.5m1.5 0h1.5m14.5 0h1.5m6.5 0h1.5m10.5 0h1.5m7.5 0h1.5m42.5 0h1.5m9.5 0h1.5m22.5 0h1.5m-184.5 1h1.5m7.5 0h1.5m-0.5 0h1.5m6.5 0h1.5m-0.5 0h1.5m6.5 0h1.5m7.5 0h1.5m4.5 0h1.5m9.5 0h1.5m-0.5 0h1.5m11.5 0h1.5m3.5 0h1.5m2.5 0h1.5m-0.5 0h1.5m4.5 0h1.5m7.5 0h1.5m50.5 0h1.5m11.5 0h1.5m33.5 0h1.5m-196.5 1h1.5m2.5 0h1.5m4.5 0h1.5m-0.5 0h1.5m9.5 0h1.5m10.5 0h1.5m-0.5 0h1.5m9.5 0h1.5m7.5 0h1.5m2.5 0h1.5m3.5 0h1.5m1.5 0h1.5m2.5 0h1.5m0.5 0h1.5m-0.5 0h1.5m4.5 0h1.5m4.5 0h1.5m-0.5 0h1.5m18.5 0h1.5m-0.5 0h1.5m4.5 0h1.5m20.5 0h1.5m13.5 0h1.5m13.5 0h1.5m25.5 0h1.5m-199.5 1h1.5m25.5 0h1.5m-0.5 0h1.5m3.5 0h1.5m3.5 0h1.5m-0.5 0h1.5m0.5 0h1.5m2.5 0h1.5m-0.5 0h1.5m1.5 0h1.5m13.5 0h1.5m3.5 0h1.5m-0.5 0h1.5m3.5 0h1.5m2.5 0h1.5m8.5 0h1.5m1.5 0h1.5m2.5 0h1.5m-92.5 1h1.5m12.5 0h1.5m1.5 0h1.5m8.5 0h1.5m8.5 0h1.5m-0.5 0h1.5m-0.5 0h1.5m8.5 0h1.5m5.5 0h1.5m0.5 0h1.5m10.5 0h1.5m1.5 0h1.5m2.5 0h1.5m3.5 0h1.5m4.5 0h1.5m0.5 0h1.5m2.5 0h1.5m-0.5 0h1.5m8.5 0h1.5m2.5 0h1.5m36.5 0h1.5m9.5 0h1.5m5.5 0h1.5m0.5 0h1.5m-166.5 1h1.5m25.5 0h1.5m0.5 0h1.5m5.5 0h1.5m-0.5 0h1.5m4.5 0h1.5m3.5 0h1.5m0.5 0h1.5m3.5 0h1.5m-0.5 0h1.5m0.5 0h1.5m1.5 0h1.5m1.5 0h1.5m1.5 0h1.5m-0.5 0h1.5m1.5 0h1.5m1.5 0h1.5m-0.5 0h1.5m3.5 0h1.5m-0.5 0h1.5m0.5 0h1.5m-0.5 0h1.5m3.5 0h1.5m-0.5 0h1.5m3.5 0h1.5m4.5 0h1.5m35.5 0h1.5m8.5 0h1.5m-0.5 0h1.5m5.5 0h1.5m-169.5 1h1.5m12.5 0h1.5m2.5 0h1.5m14.5 0h1.5m3.5 0h1.5m-0.5 0h1.5m-0.5 0h1.5m2.5 0h1.5m9.5 0h1.5m0.5 0h1.5m9.5 0h1.5m22.5 0h1.5m23.5 0h1.5m52.5 0h1.5m7.5 0h1.5m4.5 0h1.5m-177.5 1h1.5m23.5 0h1.5m3.5 0h1.5m4.5 0h1.5m3.5 0h1.5m3.5 0h1.5m3.5 0h1.5m-0.5 0h1.5m4.5 0h1.5m2.5 0h1.5m0.5 0h1.5m-0.5 0h1.5m6.5 0h1.5m4.5 0h1.5m4.5 0h1.5m22.5 0h1.5m3.5 0h1.5m8.5 0h1.5m44.5 0h1.5m18.5 0h1.5m-206.5 1h1.5m27.5 0h1.5m2.5 0h1.5m2.5 0h1.5m-0.5 0h1.5m7.5 0h1.5m5.5 0h1.5m-0.5 0h1.5m8.5 0h1.5m2.5 0h1.5m8.5 0h1.5m0.5 0h1.5m3.5 0h1.5m2.5 0h1.5m1.5 0h1.5m10.5 0h1.5m62.5 0h1.5m1.5 0h1.5m6.5 0h1.5m-173.5 1h1.5m16.5 0h1.5m3.5 0h1.5m2.5 0h1.5m3.5 0h1.5m9.5 0h1.5m3.5 0h1.5m5.5 0h1.5m2.5 0h1.5m0.5 0h1.5m6.5 0h1.5m-0.5 0h1.5m0.5 0h1.5m1.5 0h1.5m17.5 0h1.5m1.5 0h1.5m22.5 0h1.5m48.5 0h1.5m-143.5 1h1.5m6.5 0h1.5m0.5 0h1.5m-0.5 0h1.5m2.5 0h1.5m3.5 0h1.5m3.5 0h1.5m-0.5 0h1.5m2.5 0h1.5m-0.5 0h1.5m0.5 0h1.5m10.5 0h1.5m3.5 0h1.5m3.5 0h1.5m3.5 0h1.5m4.5 0h1.5m10.5 0h1.5m8.5 0h1.5m38.5 0h1.5m8.5 0h1.5m4.5 0h1.5m2.5 0h1.5m-168.5 1h1.5m5.5 0h1.5m7.5 0h1.5m-0.5 0h1.5m-0.5 0h1.5m8.5 0h1.5m2.5 0h1.5m-0.5 0h1.5m14.5 0h1.5m7.5 0h1.5m8.5 0h1.5m21.5 0h1.5m44.5 0h1.5m19.5 0h1.5m14.5 0h1.5m-176.5 1h1.5m4.5 0h1.5m-0.5 0h1.5m6.5 0h1.5m4.5 0h1.5m7.5 0h1.5m0.5 0h1.5m1.5 0h1.5m-0.5 0h1.5m0.5 0h1.5m1.5 0h1.5m17.5 0h1.5m-0.5 0h1.5m2.5 0h1.5m7.5 0h1.5m1.5 0h1.5m2.5 0h1.5m1.5 0h1.5m-0.5 0h1.5m2.5 0h1.5m3.5 0h1.5m-0.5 0h1.5m43.5 0h1.5m-0.5 0h1.5m6.5 0h1.5m1.5 0h1.5m-151.5 1h1.5m8.5 0h1.5m-0.5 0h1.5m-0.5 0h1.5m4.5 0h1.5m7.5 0h1.5m7.5 0h1.5m1.5 0h1.5m3.5 0h1.5m7.5 0h1.5m4.5 0h1.5m-0.5 0h1.5m-0.5 0h1.5m2.5 0h1.5m-0.5 0h1.5m0.5 0h1.5m-0.5 0h1.5m4.5 0h1.5m4.5 0h1.5m4.5 0h1.5m44.5 0h1.5m5.5 0h1.5m1.5 0h1.5m20.5 0h1.5m3.5 0h1.5m-166.5 1h1.5m15.5 0h1.5m3.5 0h1.5m7.5 0h1.5m-0.5 0h1.5m0.5 0h1.5m4.5 0h1.5m0.5 0h1.5m11.5 0h1.5m2.5 0h1.5m3.5 0h1.5m2.5 0h1.5m4.5 0h1.5m5.5 0h1.5m17.5 0h1.5m43.5 0h1.5m21.5 0h1.5m-174.5 1h1.5m3.5 0h1.5m6.5 0h1.5m8.5 0h1.5m0.5 0h1.5m5.5 0h1.5m2.5 0h1.5m0.5 0h1.5m1.5 0h1.5m-0.5 0h1.5m0.5 0h1.5m1.5 0h1.5m-0.5 0h1.5m-0.5 0h1.5m-0.5 0h1.5m1.5 0h1.5m1.5 0h1.5m-0.5 0h1.5m0.5 0h1.5m-0.5 0h1.5m7.5 0h1.5m1.5 0h1.5m2.5 0h1.5m-0.5 0h1.5m7.5 0h1.5m5.5 0h1.5m1.5 0h1.5m56.5 0h1.5m11.5 0h1.5m-175.5 1h1.5m12.5 0h1.5m7.5 0h1.5m7.5 0h1.5m-0.5 0h1.5m6.5 0h1.5m1.5 0h1.5m4.5 0h1.5m-0.5 0h1.5m12.5 0h1.5m0.5 0h1.5m2.5 0h1.5m3.5 0h1.5m-0.5 0h1.5m-0.5 0h1.5m1.5 0h1.5m9.5 0h1.5m16.5 0h1.5m42.5 0h1.5m23.5 0h1.5m-182.5 1h1.5m4.5 0h1.5m-0.5 0h1.5m12.5 0h1.5m3.5 0h1.5m7.5 0h1.5m3.5 0h1.5m3.5 0h1.5m-0.5 0h1.5m-0.5 0h1.5m0.5 0h1.5m-0.5 0h1.5m0.5 0h1.5m2.5 0h1.5m3.5 0h1.5m2.5 0h1.5m9.5 0h1.5m-0.5 0h1.5m-0.5 0h1.5m1.5 0h1.5m5.5 0h1.5m21.5 0h1.5m4.5 0h1.5m-113.5 1h1.5m5.5 0h1.5m13.5 0h1.5m3.5 0h1.5m-0.5 0h1.5m1.5 0h1.5m3.5 0h1.5m0.5 0h1.5m0.5 0h1.5m0.5 0h1.5m13.5 0h1.5m2.5 0h1.5m4.5 0h1.5m0.5 0h1.5m3.5 0h1.5m9.5 0h1.5m-0.5 0h1.5m5.5 0h1.5m1.5 0h1.5m0.5 0h1.5m7.5 0h1.5m4.5 0h1.5m25.5 0h1.5m40.5 0h1.5m-172.5 1h1.5m-0.5 0h1.5m16.5 0h1.5m-0.5 0h1.5m7.5 0h1.5m3.5 0h1.5m3.5 0h1.5m-0.5 0h1.5m2.5 0h1.5m2.5 0h1.5m6.5 0h1.5m8.5 0h1.5m3.5 0h1.5m0.5 0h1.5m7.5 0h1.5m2.5 0h1.5m62.5 0h1.5m1.5 0h1.5m-152.5 1h1.5m-0.5 0h1.5m-0.5 0h1.5m6.5 0h1.5m3.5 0h1.5m25.5 0h1.5m0.5 0h1.5m2.5 0h1.5m10.5 0h1.5m3.5 0h1.5m5.5 0h1.5m7.5 0h1.5m-112.5 1h1.5m8.5 0h1.5m1.5 0h1.5m1.5 0h1.5m2.5 0h1.5m7.5 0h1.5m2.5 0h1.5m5.5 0h1.5m8.5 0h1.5m2.5 0h1.5m3.5 0h1.5m15.5 0h1.5m-0.5 0h1.5m4.5 0h1.5m2.5 0h1.5m7.5 0h1.5m5.5 0h1.5m-0.5 0h1.5m6.5 0h1.5m12.5 0h1.5m2.5 0h1.5m-0.5 0h1.5m45.5 0h1.5m-160.5 1h1.5m1.5 0h1.5m6.5 0h1.5m-0.5 0h1.5m5.5 0h1.5m-0.5 0h1.5m-0.5 0h1.5m1.5 0h1.5m10.5 0h1.5m-0.5 0h1.5m5.5 0h1.5m5.5 0h1.5m0.5 0h1.5m1.5 0h1.5m2.5 0h1.5m2.5 0h1.5m-0.5 0h1.5m15.5 0h1.5m2.5 0h1.5m5.5 0h1.5m1.5 0h1.5m3.5 0h1.5m55.5 0h1.5m-143.5 1h1.5m6.5 0h1.5m16.5 0h1.5m-0.5 0h1.5m0.5 0h1.5m-0.5 0h1.5m0.5 0h1.5m1.5 0h1.5m-0.5 0h1.5m0.5 0h1.5m8.5 0h1.5m1.5 0h1.5m0.5 0h1.5m4.5 0h1.5m2.5 0h1.5m3.5 0h1.5m5.5 0h1.5m4.5 0h1.5m0.5 0h1.5m-0.5 0h1.5m0.5 0h1.5m6.5 0h1.5m-105.5 1h1.5m9.5 0h1.5m3.5 0h1.5m8.5 0h1.5m4.5 0h1.5m1.5 0h1.5m0.5 0h1.5m2.5 0h1.5m1.5 0h1.5m-0.5 0h1.5m1.5 0h1.5m-0.5 0h1.5m-0.5 0h1.5m3.5 0h1.5m2.5 0h1.5m0.5 0h1.5m0.5 0h1.5m0.5 0h1.5m2.5 0h1.5m-0.5 0h1.5m5.5 0h1.5m2.5 0h1.5m5.5 0h1.5m1.5 0h1.5m-0.5 0h1.5m52.5 0h1.5m13.5 0h1.5m-160.5 1h1.5m8.5 0h1.5m3.5 0h1.5m7.5 0h1.5m1.5 0h1.5m4.5 0h1.5m1.5 0h1.5m-0.5 0h1.5m14.5 0h1.5m2.5 0h1.5m-0.5 0h1.5m6.5 0h1.5m6.5 0h1.5m3.5 0h1.5m7.5 0h1.5m3.5 0h1.5m2.5 0h1.5m35.5 0h1.5m24.5 0h1.5m-163.5 1h1.5m5.5 0h1.5m2.5 0h1.5m-0.5 0h1.5m4.5 0h1.5m15.5 0h1.5m0.5 0h1.5m1.5 0h1.5m1.5 0h1.5m0.5 0h1.5m4.5 0h1.5m2.5 0h1.5m11.5 0h1.5m1.5 0h1.5m0.5 0h1.5m3.5 0h1.5m-0.5 0h1.5m0.5 0h1.5m1.5 0h1.5m7.5 0h1.5m45.5 0h1.5m-137.5 1h1.5m2.5 0h1.5m4.5 0h1.5m0.5 0h1.5m14.5 0h1.5m2.5 0h1.5m6.5 0h1.5m6.5 0h1.5m1.5 0h1.5m5.5 0h1.5m5.5 0h1.5m0.5 0h1.5m0.5 0h1.5m1.5 0h1.5m1.5 0h1.5m-0.5 0h1.5m5.5 0h1.5m-0.5 0h1.5m5.5 0h1.5m1.5 0h1.5m0.5 0h1.5m-101.5 1h1.5m27.5 0h1.5m5.5 0h1.5m-0.5 0h1.5m2.5 0h1.5m0.5 0h1.5m14.5 0h1.5m1.5 0h1.5m-0.5 0h1.5m1.5 0h1.5m0.5 0h1.5m1.5 0h1.5m-0.5 0h1.5m8.5 0h1.5m7.5 0h1.5m-87.5 1h1.5m4.5 0h1.5m13.5 0h1.5m7.5 0h1.5m-0.5 0h1.5m5.5 0h1.5m15.5 0h1.5m-0.5 0h1.5m0.5 0h1.5m-0.5 0h1.5m-0.5 0h1.5m5.5 0h1.5m7.5 0h1.5m-0.5 0h1.5m-78.5 1h1.5m2.5 0h1.5m6.5 0h1.5m11.5 0h1.5m0.5 0h1.5m5.5 0h1.5m4.5 0h1.5m3.5 0h1.5m2.5 0h1.5m6.5 0h1.5m1.5 0h1.5m-0.5 0h1.5m12.5 0h1.5m-0.5 0h1.5m6.5 0h1.5m-93.5 1h1.5m15.5 0h1.5m0.5 0h1.5m4.5 0h1.5m13.5 0h1.5m2.5 0h1.5m3.5 0h1.5m0.5 0h1.5m9.5 0h1.5m1.5 0h1.5m0.5 0h1.5m7.5 0h1.5m-0.5 0h1.5m-0.5 0h1.5m18.5 0h1.5m-72.5 1h1.5m4.5 0h1.5m3.5 0h1.5m-0.5 0h1.5m0.5 0h1.5m3.5 0h1.5m4.5 0h1.5m1.5 0h1.5m19.5 0h1.5m0.5 0h1.5m8.5 0h1.5m0.5 0h1.5m0.5 0h1.5m0.5 0h1.5m6.5 0h1.5m18.5 0h1.5m-134.5 1h1.5m1.5 0h1.5m22.5 0h1.5m-0.5 0h1.5m9.5 0h1.5m11.5 0h1.5m4.5 0h1.5m0.5 0h1.5m1.5 0h1.5m-0.5 0h1.5m-0.5 0h1.5m18.5 0h1.5m0.5 0h1.5m-0.5 0h1.5m17.5 0h1.5m1.5 0h1.5m-94.5 1h1.5m14.5 0h1.5m7.5 0h1.5m-0.5 0h1.5m-0.5 0h1.5m2.5 0h1.5m0.5 0h1.5m30.5 0h1.5m0.5 0h1.5m7.5 0h1.5m46.5 0h1.5m-124.5 1h1.5m12.5 0h1.5m1.5 0h1.5m11.5 0h1.5m6.5 0h1.5m1.5 0h1.5m-0.5 0h1.5m13.5 0h1.5m40.5 0h1.5m-94.5 1h1.5m0.5 0h1.5m3.5 0h1.5m7.5 0h1.5m16.5 0h1.5m2.5 0h1.5m1.5 0h1.5m2.5 0h1.5m22.5 0h1.5m-47.5 1h1.5m4.5 0h1.5m0.5 0h1.5m-0.5 0h1.5m-0.5 0h1.5m6.5 0h1.5m3.5 0h1.5m2.5 0h1.5m0.5 0h1.5m5.5 0h1.5m5.5 0h1.5m-0.5 0h1.5m6.5 0h1.5m4.5 0h1.5m-65.5 1h1.5m8.5 0h1.5m5.5 0h1.5m1.5 0h1.5m7.5 0h1.5m-0.5 0h1.5m0.5 0h1.5m4.5 0h1.5m-0.5 0h1.5m12.5 0h1.5m10.5 0h1.5m-70.5 1h1.5m-0.5 0h1.5m7.5 0h1.5m7.5 0h1.5m0.5 0h1.5m19.5 0h1.5m7.5 0h1.5m15.5 0h1.5m-34.5 1h1.5m4.5 0h1.5m1.5 0h1.5m0.5 0h1.5m9.5 0h1.5m-67.5 1h1.5m13.5 0h1.5m24.5 0h1.5m106.5 0h1.5m-77.5 1h1.5m-51.5 1h1.5m9.5 0h1.5m5.5 0h1.5m55.5 0h1.5m-103.5 1h1.5m31.5 0h1.5m1.5 0h1.5m4.5 0h1.5m-19.5 1h1.5m39.5 0h1.5m-38.5 1h1.5m12.5 0h1.5m2.5 0h1.5m-28.5 1h1.5m15.5 0h1.5m-14.5 2h1.5m25.5 0h1.5m2.5 0h1.5m-52.5 3h1.5m32.5 3h1.5m30.5 2h1.5m-77.5 3h1.5m53.5 1h1.5m9.5 3h1.5m-46.5 1h1.5m57.5 1h1.5m5.5 1h1.5m7.5 3h1.5m27.5 5h1.5" stroke="#0000ff" stroke-width="1.5"/>
<path d="M357 631h1.5m-6.5 4h1.5m-22.5 3h1.5m14.5 0h1.5m24.5 0h1.5m-50.5 3h1.5m-0.5 0h1.5m15.5 0h1.5m5.5 0h1.5m-10.5 2h1.5m0.5 0h1.5m3.5 0h1.5m13.5 0h1.5m-19.5 1h1.5m6.5 0h1.5m-13.5 1h1.5m5.5 0h1.5m-6.5 1h1.5m17.5 0h1.5m-31.5 1h1.5m10.5 0h1.5m16.5 0h1.5m-30.5 2h1.5m14.5 0h1.5m18.5 0h1.5m-35.5 1h1.5m4.5 1h1.5m14.5 0h1.5m-14.5 1h1.5m25.5 0h1.5m-34.5 1h1.5m2.5 1h1.5m3.5 0h1.5m17.5 0h1.5m-26.5 5h1.5m10.5 0h1.5m-23.5 1h1.5m5.5 3h1.5" stroke="#f0e000" stroke-width="1.5"/>
<path d="M332 637h1.5m17.5 2h1.5m-3.5 1h1.5m4.5 1h1.5m9.5 0h1.5m-28.5 1h1.5m-0.5 1h1.5m0.5 0h1.5m-7.5 2h1.5m26.5 0h1.5m0.5 0h1.5m-25.5 1h1.5m-0.5 1h1.5m4.5 0h1.5m0.5 0h1.5m10.5 0h1.5m-16.5 3h1.5m10.5 0h1.5m7.5 0h1.5m-13.5 1h1.5m-11.5 1h1.5m21.5 0h1.5m-19.5 1h1.5m0.5 0h1.5m-6.5 2h1.5m-9.5 1h1.5m31.5 1h1.5m-13.5 1h1.5m5.5 2h1.5" stroke="#ff1800" stroke-width="1.5"/>
<path d="M353 621h1.5m-14.5 1h1.5m10.5 0h1.5m-17.5 2h1.5m-4.5 1h1.5m4.5 0h1.5m25.5 0h1.5m2.5 0h1.5m-36.5 1h1.5m-10.5 1h1.5m21.5 1h1.5m18.5 0h1.5m-33.5 1h1.5m-32.5 1h1.5m53.5 0h1.5m-30.5 1h1.5m-0.5 0h1.5m0.5 0h1.5m16.5 0h1.5m10.5 0h1.5m11.5 0h1.5m-53.5 1h1.5m11.5 0h1.5m21.5 0h1.5m-29.5 1h1.5m3.5 0h1.5m-7.5 1h1.5m4.5 0h1.5m1.5 0h1.5m2.5 0h1.5m7.5 0h1.5m1.5 0h1.5m-30.5 1h1.5m6.5 0h1.5m2.5 0h1.5m9.5 0h1.5m16.5 0h1.5m6.5 0h1.5m-68.5 1h1.5m8.5 0h1.5m3.5 0h1.5m0.5 0h1.5m4.5 0h1.5m5.5 0h1.5m16.5 0h1.5m12.5 0h1.5m-22.5 1h1.5m5.5 0h1.5m16.5 0h1.5m2.5 0h1.5m-23.5 1h1.5m19.5 0h1.5m-41.5 1h1.5m10.5 0h1.5m0.5 0h1.5m11.5 0h1.5m-40.5 1h1.5m2.5 0h1.5m20.5 0h1.5m5.5 0h1.5m0.5 0h1.5m1.5 0h1.5m0.5 0h1.5m0.5 0h1.5m-58.5 1h1.5m12.5 0h1.5m1.5 0h1.5m5.5 0h1.5m8.5 0h1.5m1.5 0h1.5m4.5 0h1.5m0.5 0h1.5m-43.5 1h1.5m9.5 0h1.5m3.5 0h1.5m12.5 0h1.5m-0.5 0h1.5m11.5 0h1.5m0.5 0h1.5m-42.5 1h1.5m4.5 0h1.5m17.5 0h1.5m-0.5 0h1.5m12.5 0h1.5m-0.5 0h1.5m1.5 0h1.5m-41.5 1h1.5m7.5 0h1.5m10.5 0h1.5m2.5 0h1.5m0.5 0h1.5m6.5 0h1.5m-39.5 1h1.5m2.5 0h1.5m10.5 0h1.5m-0.5 0h1.5m6.5 0h1.5m2.5 0h1.5m3.5 0h1.5m0.5 0h1.5m29.5 0h1.5m-82.5 1h1.5m25.5 0h1.5m4.5 0h1.5m1.5 0h1.5m0.5 0h1.5m4.5 0h1.5m2.5 0h1.5m10.5 0h1.5m-42.5 1h1.5m2.5 0h1.5m3.5 0h1.5m7.5 0h1.5m5.5 0h1.5m0.5 0h1.5m-25.5 1h1.5m4.5 0h1.5m0.5 0h1.5m7.5 0h1.5m0.5 0h1.5m5.5 0h1.5m11.5 0h1.5m-52.5 1h1.5m14.5 0h1.5m1.5 0h1.5m4.5 0h1.5m4.5 0h1.5m0.5 0h1.5m6.5 0h1.5m3.5 0h1.5m-0.5 0h1.5m-0.5 0h1.5m1.5 0h1.5m0.5 0h1.5m-48.5 1h1.5m0.5 0h1.5m3.5 0h1.5m4.5 0h1.5m1.5 0h1.5m1.5 0h1.5m2.5 0h1.5m3.5 0h1.5m5.5 0h1.5m2.5 0h1.5m-0.5 0h1.5m8.5 0h1.5m-60.5 1h1.5m6.5 0h1.5m-0.5 0h1.5m7.5 0h1.5m17.5 0h1.5m3.5 0h1.5m2.5 0h1.5m3.5 0h1.5m2.5 0h1.5m5.5 0h1.5m-51.5 1h1.5m11.5 0h1.5m-0.5 0h1.5m-0.5 0h1.5m-0.5 0h1.5m1.5 0h1.5m0.5 0h1.5m3.5 0h1.5m1.5 0h1.5m7.5 0h1.5m19.5 0h1.5m-61.5 1h1.5m5.5 0h1.5m1.5 0h1.5m7.5 0h1.5m2.5 0h1.5m2.5 0h1.5m2.5 0h1.5m-0.5 0h1.5m4.5 0h1.5m2.5 0h1.5m2.5 0h1.5m-40.5 1h1.5m1.5 0h1.5m3.5 0h1.5m10.5 0h1.5m2.5 0h1.5m0.5 0h1.5m6.5 0h1.5m-27.5 1h1.5m1.5 0h1.5m-0.5 0h1.5m6.5 0h1.5m6.5 0h1.5m1.5 0h1.5m0.5 0h1.5m-0.5 0h1.5m-49.5 1h1.5m6.5 0h1.5m16.5 0h1.5m2.5 0h1.5m23.5 0h1.5m-49.5 1h1.5m9.5 0h1.5m1.5 0h1.5m7.5 0h1.5m1.5 0h1.5m6.5 0h1.5m-38.5 1h1.5m5.5 0h1.5m27.5 0h1.5m3.5 0h1.5m0.5 0h1.5m2.5 0h1.5m-0.5 0h1.5m2.5 0h1.5m-24.5 1h1.5m-27.5 1h1.5m11.5 0h1.5m2.5 0h1.5m6.5 0h1.5m22.5 0h1.5m-42.5 2h1.5m16.5 0h1.5m28.5 0h1.5m-55.5 1h1.5m-0.5 0h1.5m-0.5 0h1.5m20.5 1h1.5m28.5 1h1.5m-46.5 1h1.5m4.5 2h1.5m-1.5 1h1.5" stroke="#00dd00" stroke-width="1.5"/>
<rect x="241.1" y="448.7" width="277.3" height="277.3" fill="none" stroke="#444" stroke-width="1.6"/>
<path d="M404.3 448.7V726.0M241.1 630.6H518.4" stroke="#000" stroke-width="2.2"/>
<text x="245.7" y="466.9" font-size="16.71" textLength="59.1" lengthAdjust="spacingAndGlyphs" style="font-weight:bold">Q1:27.4</text>
<text x="454.8" y="466.9" font-size="16.71" textLength="59.1" lengthAdjust="spacingAndGlyphs" style="font-weight:bold">Q2:2.25</text>
<text x="245.7" y="723.1" font-size="16.71" textLength="59.1" lengthAdjust="spacingAndGlyphs" style="font-weight:bold">Q4:66.0</text>
<text x="453.7" y="723.1" font-size="16.71" textLength="59.1" lengthAdjust="spacingAndGlyphs" style="font-weight:bold">Q3:4.42</text>
<text x="314.8" y="778.8" font-size="23.17" textLength="126.8" lengthAdjust="spacingAndGlyphs" style="font-weight:bold">GITR(APC)</text>
<text x="0" y="0" font-size="24.06" transform="translate(196.4,661.5) rotate(-90)" textLength="98.6" lengthAdjust="spacingAndGlyphs" style="font-weight:bold">CD3(PE)</text>
<text x="232.2" y="752.7" font-size="16.86" style="font-weight:bold">-10</text>
<text x="258.4" y="743.9" font-size="11.43" style="font-weight:bold">3</text>
<text x="339.3" y="752.7" font-size="16.86" style="font-weight:bold">10</text>
<text x="362.5" y="743.9" font-size="11.43" style="font-weight:bold">3</text>
<text x="414.4" y="752.7" font-size="16.86" style="font-weight:bold">10</text>
<text x="437.8" y="743.9" font-size="11.59" style="font-weight:bold">4</text>
<text x="478.8" y="752.7" font-size="16.86" style="font-weight:bold">10</text>
<text x="502.0" y="743.9" font-size="11.59" style="font-weight:bold">5</text>
<text x="297.2" y="752.7" font-size="16.86" style="font-weight:bold">0</text>
<text x="207.3" y="481.3" font-size="16.43" style="font-weight:bold">10</text>
<text x="224.8" y="472.3" font-size="12.61" style="font-weight:bold">5</text>
<text x="206.9" y="545.7" font-size="16.43" style="font-weight:bold">10</text>
<text x="224.6" y="536.7" font-size="12.61" style="font-weight:bold">4</text>
<text x="207.4" y="620.8" font-size="16.43" style="font-weight:bold">10</text>
<text x="224.9" y="611.8" font-size="12.43" style="font-weight:bold">3</text>
<text x="201.9" y="718.7" font-size="16.43" style="font-weight:bold">-10</text>
<text x="224.9" y="709.7" font-size="12.43" style="font-weight:bold">3</text>
<text x="215.5" y="671.3" font-size="16.43" style="font-weight:bold">0</text>
<path d="M678.2 725.9v4M622.3 670.3h-4M688.0 725.9v4M622.3 660.6h-4M673.4 725.9v4M622.3 675.1h-4M693.0 725.9v4M622.3 655.5h-4M668.7 725.9v4M622.3 679.8h-4M698.1 725.9v4M622.3 650.5h-4M663.9 725.9v4M622.3 684.5h-4M703.2 725.9v4M622.3 645.5h-4M659.1 725.9v4M622.3 689.3h-4M708.2 725.9v4M622.3 640.4h-4M654.4 725.9v4M622.3 694.0h-4M713.3 725.9v4M622.3 635.4h-4M649.6 725.9v4M622.3 698.7h-4M718.4 725.9v4M622.3 630.4h-4M644.9 725.9v4M622.3 703.4h-4M723.4 725.9v4M622.3 625.3h-4M640.1 725.9v4M622.3 708.2h-4M728.5 725.9v4M622.3 620.3h-4M756.2 725.9v4M622.3 592.7h-4M769.5 725.9v4M622.3 579.5h-4M778.9 725.9v4M622.3 570.1h-4M786.2 725.9v4M622.3 562.9h-4M792.2 725.9v4M622.3 556.9h-4M797.2 725.9v4M622.3 551.9h-4M801.6 725.9v4M622.3 547.6h-4M805.5 725.9v4M622.3 543.7h-4M828.3 725.9v4M622.3 521.0h-4M839.7 725.9v4M622.3 509.7h-4M847.7 725.9v4M622.3 501.7h-4M854.0 725.9v4M622.3 495.4h-4M859.1 725.9v4M622.3 490.4h-4M863.4 725.9v4M622.3 486.1h-4M867.2 725.9v4M622.3 482.3h-4M870.5 725.9v4M622.3 479.1h-4M892.8 725.9v4M622.3 456.8h-4" stroke="#222" stroke-width="1.3" fill="none"/>
<path d="M635.4 725.9v7M622.3 712.9h-7M733.5 725.9v7M622.3 615.3h-7M808.9 725.9v7M622.3 540.3h-7M873.4 725.9v7M622.3 476.1h-7" stroke="#111" stroke-width="2" fill="none"/>
<path d="M676.9 725.9v6M622.3 671.6h-6M678.4 725.9v6M622.3 670.1h-6M679.9 725.9v7M622.3 668.6h-7M681.4 725.9v7M622.3 667.1h-7M682.9 725.9v7M622.3 665.6h-7M684.4 725.9v7M622.3 664.1h-7M685.9 725.9v7M622.3 662.6h-7M687.4 725.9v6M622.3 661.1h-6M688.9 725.9v6M622.3 659.6h-6" stroke="#111" stroke-width="1.4" fill="none"/>
<path d="M762 560h1.5m-97.5 11h1.5m88.5 24h1.5m-43.5 3h1.5m2.5 0h1.5m-0.5 1h1.5m122.5 0h1.5m-119.5 1h1.5m8.5 1h1.5m41.5 0h1.5m48.5 0h1.5m-132.5 2h1.5m19.5 0h1.5m10.5 0h1.5m48.5 1h1.5m-60.5 1h1.5m30.5 0h1.5m-48.5 1h1.5m1.5 0h1.5m10.5 1h1.5m152.5 0h1.5m-181.5 1h1.5m33.5 0h1.5m124.5 0h1.5m-185.5 1h1.5m32.5 0h1.5m14.5 0h1.5m17.5 0h1.5m76.5 0h1.5m19.5 0h1.5m4.5 0h1.5m-42.5 1h1.5m6.5 1h1.5m-132.5 1h1.5m22.5 0h1.5m44.5 0h1.5m-54.5 1h1.5m-15.5 1h1.5m2.5 0h1.5m56.5 0h1.5m8.5 0h1.5m-8.5 1h1.5m74.5 0h1.5m-144.5 1h1.5m12.5 0h1.5m20.5 0h1.5m-29.5 1h1.5m17.5 0h1.5m53.5 0h1.5m4.5 0h1.5m13.5 0h1.5m17.5 0h1.5m7.5 0h1.5m21.5 0h1.5m-157.5 1h1.5m6.5 0h1.5m3.5 0h1.5m34.5 0h1.5m111.5 0h1.5m-142.5 1h1.5m2.5 0h1.5m105.5 0h1.5m25.5 0h1.5m-100.5 1h1.5m15.5 0h1.5m19.5 0h1.5m-58.5 1h1.5m45.5 0h1.5m-82.5 1h1.5m7.5 0h1.5m9.5 0h1.5m4.5 0h1.5m18.5 0h1.5m7.5 0h1.5m61.5 0h1.5m17.5 0h1.5m5.5 0h1.5m13.5 0h1.5m-128.5 1h1.5m108.5 0h1.5m10.5 0h1.5m6.5 0h1.5m4.5 0h1.5m-129.5 1h1.5m86.5 0h1.5m6.5 0h1.5m1.5 0h1.5m31.5 0h1.5m-145.5 1h1.5m10.5 0h1.5m117.5 0h1.5m-157.5 1h1.5m12.5 0h1.5m1.5 0h1.5m23.5 0h1.5m32.5 0h1.5m66.5 0h1.5m3.5 0h1.5m12.5 0h1.5m-91.5 1h1.5m40.5 0h1.5m38.5 0h1.5m12.5 0h1.5m-205.5 1h1.5m19.5 0h1.5m9.5 0h1.5m30.5 0h1.5m1.5 0h1.5m2.5 0h1.5m8.5 0h1.5m29.5 0h1.5m33.5 0h1.5m23.5 0h1.5m-0.5 0h1.5m0.5 0h1.5m-0.5 0h1.5m-165.5 1h1.5m20.5 0h1.5m33.5 0h1.5m2.5 0h1.5m13.5 0h1.5m73.5 0h1.5m-159.5 1h1.5m33.5 0h1.5m4.5 0h1.5m17.5 0h1.5m6.5 0h1.5m-64.5 1h1.5m29.5 0h1.5m31.5 0h1.5m4.5 0h1.5m14.5 0h1.5m8.5 0h1.5m68.5 0h1.5m3.5 0h1.5m8.5 0h1.5m1.5 0h1.5m8.5 0h1.5m-185.5 1h1.5m3.5 0h1.5m13.5 0h1.5m13.5 0h1.5m-0.5 0h1.5m11.5 0h1.5m26.5 0h1.5m13.5 0h1.5m50.5 0h1.5m2.5 0h1.5m2.5 0h1.5m7.5 0h1.5m22.5 0h1.5m-215.5 1h1.5m55.5 0h1.5m44.5 0h1.5m21.5 0h1.5m59.5 0h1.5m-184.5 1h1.5m32.5 0h1.5m2.5 0h1.5m19.5 0h1.5m9.5 0h1.5m15.5 0h1.5m-0.5 0h1.5m14.5 0h1.5m73.5 0h1.5m5.5 0h1.5m-144.5 1h1.5m15.5 0h1.5m8.5 0h1.5m8.5 0h1.5m2.5 0h1.5m3.5 0h1.5m44.5 0h1.5m49.5 0h1.5m2.5 0h1.5m-199.5 1h1.5m15.5 0h1.5m39.5 0h1.5m11.5 0h1.5m1.5 0h1.5m27.5 0h1.5m12.5 0h1.5m13.5 0h1.5m5.5 0h1.5m-108.5 1h1.5m1.5 0h1.5m13.5 0h1.5m3.5 0h1.5m20.5 0h1.5m3.5 0h1.5m16.5 0h1.5m16.5 0h1.5m-0.5 0h1.5m0.5 0h1.5m99.5 0h1.5m-206.5 1h1.5m28.5 0h1.5m57.5 0h1.5m-0.5 0h1.5m-0.5 0h1.5m14.5 0h1.5m21.5 0h1.5m11.5 0h1.5m29.5 0h1.5m13.5 0h1.5m-179.5 1h1.5m11.5 0h1.5m7.5 0h1.5m2.5 0h1.5m11.5 0h1.5m15.5 0h1.5m3.5 0h1.5m1.5 0h1.5m0.5 0h1.5m22.5 0h1.5m1.5 0h1.5m-124.5 1h1.5m43.5 0h1.5m3.5 0h1.5m2.5 0h1.5m1.5 0h1.5m-0.5 0h1.5m36.5 0h1.5m1.5 0h1.5m34.5 0h1.5m9.5 0h1.5m18.5 0h1.5m22.5 0h1.5m-175.5 1h1.5m14.5 0h1.5m11.5 0h1.5m-0.5 0h1.5m22.5 0h1.5m27.5 0h1.5m0.5 0h1.5m0.5 0h1.5m7.5 0h1.5m-0.5 0h1.5m0.5 0h1.5m4.5 0h1.5m-0.5 0h1.5m72.5 0h1.5m16.5 0h1.5m-148.5 1h1.5m-0.5 0h1.5m1.5 0h1.5m1.5 0h1.5m7.5 0h1.5m4.5 0h1.5m4.5 0h1.5m10.5 0h1.5m10.5 0h1.5m0.5 0h1.5m4.5 0h1.5m0.5 0h1.5m23.5 0h1.5m57.5 0h1.5m-162.5 1h1.5m0.5 0h1.5m9.5 0h1.5m-0.5 0h1.5m17.5 0h1.5m3.5 0h1.5m-0.5 0h1.5m0.5 0h1.5m3.5 0h1.5m7.5 0h1.5m12.5 0h1.5m66.5 0h1.5m0.5 0h1.5m15.5 0h1.5m-214.5 1h1.5m34.5 0h1.5m7.5 0h1.5m16.5 0h1.5m9.5 0h1.5m6.5 0h1.5m1.5 0h1.5m8.5 0h1.5m6.5 0h1.5m8.5 0h1.5m14.5 0h1.5m1.5 0h1.5m0.5 0h1.5m46.5 0h1.5m-139.5 1h1.5m1.5 0h1.5m7.5 0h1.5m8.5 0h1.5m4.5 0h1.5m14.5 0h1.5m11.5 0h1.5m18.5 0h1.5m-100.5 1h1.5m12.5 0h1.5m14.5 0h1.5m17.5 0h1.5m10.5 0h1.5m2.5 0h1.5m0.5 0h1.5m8.5 0h1.5m0.5 0h1.5m3.5 0h1.5m0.5 0h1.5m3.5 0h1.5m8.5 0h1.5m9.5 0h1.5m-91.5 1h1.5m15.5 0h1.5m3.5 0h1.5m7.5 0h1.5m24.5 0h1.5m4.5 0h1.5m14.5 0h1.5m-0.5 0h1.5m0.5 0h1.5m0.5 0h1.5m4.5 0h1.5m2.5 0h1.5m27.5 0h1.5m-162.5 1h1.5m4.5 0h1.5m14.5 0h1.5m21.5 0h1.5m10.5 0h1.5m3.5 0h1.5m18.5 0h1.5m3.5 0h1.5m1.5 0h1.5m4.5 0h1.5m3.5 0h1.5m2.5 0h1.5m2.5 0h1.5m5.5 0h1.5m5.5 0h1.5m-120.5 1h1.5m29.5 0h1.5m9.5 0h1.5m10.5 0h1.5m2.5 0h1.5m-0.5 0h1.5m2.5 0h1.5m6.5 0h1.5m17.5 0h1.5m10.5 0h1.5m1.5 0h1.5m18.5 0h1.5m60.5 0h1.5m-174.5 1h1.5m23.5 0h1.5m19.5 0h1.5m24.5 0h1.5m9.5 0h1.5m1.5 0h1.5m0.5 0h1.5m0.5 0h1.5m5.5 0h1.5m3.5 0h1.5m30.5 0h1.5m-136.5 1h1.5m9.5 0h1.5m0.5 0h1.5m7.5 0h1.5m20.5 0h1.5m4.5 0h1.5m4.5 0h1.5m0.5 0h1.5m-0.5 0h1.5m0.5 0h1.5m7.5 0h1.5m1.5 0h1.5m19.5 0h1.5m0.5 0h1.5m5.5 0h1.5m4.5 0h1.5m-128.5 1h1.5m17.5 0h1.5m33.5 0h1.5m18.5 0h1.5m19.5 0h1.5m4.5 0h1.5m6.5 0h1.5m18.5 0h1.5m48.5 0h1.5m43.5 0h1.5m-219.5 1h1.5m5.5 0h1.5m15.5 0h1.5m3.5 0h1.5m12.5 0h1.5m-0.5 0h1.5m12.5 0h1.5m1.5 0h1.5m1.5 0h1.5m1.5 0h1.5m10.5 0h1.5m0.5 0h1.5m3.5 0h1.5m3.5 0h1.5m0.5 0h1.5m3.5 0h1.5m-0.5 0h1.5m0.5 0h1.5m0.5 0h1.5m-0.5 0h1.5m15.5 0h1.5m-121.5 1h1.5m28.5 0h1.5m7.5 0h1.5m0.5 0h1.5m0.5 0h1.5m7.5 0h1.5m21.5 0h1.5m4.5 0h1.5m3.5 0h1.5m8.5 0h1.5m4.5 0h1.5m0.5 0h1.5m5.5 0h1.5m1.5 0h1.5m4.5 0h1.5m-0.5 0h1.5m10.5 0h1.5m41.5 0h1.5m25.5 0h1.5m-203.5 1h1.5m39.5 0h1.5m2.5 0h1.5m-0.5 0h1.5m5.5 0h1.5m1.5 0h1.5m1.5 0h1.5m1.5 0h1.5m7.5 0h1.5m2.5 0h1.5m3.5 0h1.5m-0.5 0h1.5m-0.5 0h1.5m1.5 0h1.5m1.5 0h1.5m22.5 0h1.5m27.5 0h1.5m39.5 0h1.5m6.5 0h1.5m-198.5 1h1.5m18.5 0h1.5m27.5 0h1.5m-0.5 0h1.5m5.5 0h1.5m0.5 0h1.5m3.5 0h1.5m-0.5 0h1.5m-0.5 0h1.5m3.5 0h1.5m-0.5 0h1.5m1.5 0h1.5m7.5 0h1.5m0.5 0h1.5m-0.5 0h1.5m9.5 0h1.5m3.5 0h1.5m2.5 0h1.5m-108.5 1h1.5m42.5 0h1.5m12.5 0h1.5m8.5 0h1.5m-0.5 0h1.5m4.5 0h1.5m-0.5 0h1.5m0.5 0h1.5m-0.5 0h1.5m1.5 0h1.5m1.5 0h1.5m29.5 0h1.5m8.5 0h1.5m1.5 0h1.5m60.5 0h1.5m-179.5 1h1.5m3.5 0h1.5m8.5 0h1.5m16.5 0h1.5m15.5 0h1.5m4.5 0h1.5m2.5 0h1.5m11.5 0h1.5m15.5 0h1.5m9.5 0h1.5m0.5 0h1.5m1.5 0h1.5m3.5 0h1.5m7.5 0h1.5m35.5 0h1.5m39.5 0h1.5m-174.5 1h1.5m10.5 0h1.5m2.5 0h1.5m-0.5 0h1.5m4.5 0h1.5m0.5 0h1.5m-0.5 0h1.5m3.5 0h1.5m0.5 0h1.5m5.5 0h1.5m3.5 0h1.5m0.5 0h1.5m1.5 0h1.5m1.5 0h1.5m9.5 0h1.5m5.5 0h1.5m14.5 0h1.5m47.5 0h1.5m-157.5 1h1.5m19.5 0h1.5m10.5 0h1.5m0.5 0h1.5m0.5 0h1.5m-0.5 0h1.5m8.5 0h1.5m1.5 0h1.5m21.5 0h1.5m-0.5 0h1.5m-0.5 0h1.5m1.5 0h1.5m0.5 0h1.5m7.5 0h1.5m8.5 0h1.5m-0.5 0h1.5m4.5 0h1.5m-75.5 1h1.5m8.5 0h1.5m19.5 0h1.5m10.5 0h1.5m0.5 0h1.5m-0.5 0h1.5m-0.5 0h1.5m3.5 0h1.5m3.5 0h1.5m8.5 0h1.5m5.5 0h1.5m16.5 0h1.5m-106.5 1h1.5m6.5 0h1.5m25.5 0h1.5m1.5 0h1.5m4.5 0h1.5m1.5 0h1.5m6.5 0h1.5m24.5 0h1.5m-101.5 1h1.5m20.5 0h1.5m43.5 0h1.5m1.5 0h1.5m7.5 0h1.5m13.5 0h1.5m0.5 0h1.5m-104.5 1h1.5m0.5 0h1.5m-0.5 0h1.5m0.5 0h1.5m10.5 0h1.5m24.5 0h1.5m3.5 0h1.5m-0.5 0h1.5m4.5 0h1.5m-0.5 0h1.5m-0.5 0h1.5m8.5 0h1.5m22.5 0h1.5m-0.5 0h1.5m2.5 0h1.5m1.5 0h1.5m1.5 0h1.5m4.5 0h1.5m-105.5 1h1.5m23.5 0h1.5m12.5 0h1.5m8.5 0h1.5m1.5 0h1.5m28.5 0h1.5m12.5 0h1.5m6.5 0h1.5m-103.5 1h1.5m56.5 0h1.5m8.5 0h1.5m21.5 0h1.5m3.5 0h1.5m19.5 0h1.5m86.5 0h1.5m-194.5 1h1.5m27.5 0h1.5m4.5 0h1.5m-0.5 0h1.5m1.5 0h1.5m16.5 0h1.5m6.5 0h1.5m8.5 0h1.5m6.5 0h1.5m8.5 0h1.5m-59.5 1h1.5m2.5 0h1.5m131.5 0h1.5m-178.5 1h1.5m27.5 0h1.5m19.5 0h1.5m20.5 0h1.5m12.5 0h1.5m11.5 0h1.5m-65.5 1h1.5m29.5 0h1.5m5.5 0h1.5m-82.5 1h1.5m45.5 0h1.5m19.5 1h1.5m-44.5 1h1.5m0.5 0h1.5m9.5 5h1.5m-15.5 15h1.5m18.5 11h1.5" stroke="#4848ff" stroke-width="1.5"/>
<path d="M635 551h1.5m127.5 8h1.5m-61.5 13h1.5m26.5 2h1.5m-52.5 3h1.5m34.5 3h1.5m76.5 9h1.5m-113.5 1h1.5m-17.5 3h1.5m118.5 0h1.5m-65.5 2h1.5m-0.5 1h1.5m-57.5 3h1.5m-16.5 2h1.5m28.5 0h1.5m2.5 0h1.5m1.5 0h1.5m68.5 0h1.5m95.5 0h1.5m-226.5 1h1.5m83.5 1h1.5m-32.5 1h1.5m34.5 0h1.5m-73.5 1h1.5m45.5 0h1.5m-0.5 0h1.5m28.5 0h1.5m4.5 0h1.5m125.5 0h1.5m-107.5 1h1.5m5.5 0h1.5m57.5 0h1.5m10.5 0h1.5m-139.5 1h1.5m14.5 0h1.5m3.5 0h1.5m-5.5 2h1.5m6.5 0h1.5m19.5 0h1.5m3.5 0h1.5m29.5 0h1.5m25.5 0h1.5m-106.5 1h1.5m11.5 0h1.5m3.5 0h1.5m13.5 0h1.5m8.5 0h1.5m59.5 0h1.5m56.5 0h1.5m-179.5 1h1.5m20.5 0h1.5m2.5 0h1.5m26.5 0h1.5m93.5 0h1.5m-133.5 1h1.5m12.5 0h1.5m6.5 0h1.5m4.5 0h1.5m4.5 0h1.5m86.5 0h1.5m26.5 0h1.5m-153.5 1h1.5m50.5 0h1.5m77.5 0h1.5m-170.5 1h1.5m47.5 0h1.5m23.5 0h1.5m33.5 0h1.5m76.5 0h1.5m13.5 0h1.5m-165.5 1h1.5m-0.5 0h1.5m3.5 0h1.5m7.5 0h1.5m3.5 0h1.5m15.5 0h1.5m2.5 0h1.5m79.5 0h1.5m34.5 0h1.5m-143.5 1h1.5m109.5 0h1.5m34.5 0h1.5m-155.5 1h1.5m12.5 0h1.5m10.5 0h1.5m1.5 0h1.5m63.5 0h1.5m20.5 0h1.5m-152.5 1h1.5m10.5 0h1.5m-0.5 0h1.5m14.5 0h1.5m10.5 0h1.5m20.5 0h1.5m51.5 0h1.5m40.5 0h1.5m0.5 0h1.5m-151.5 1h1.5m26.5 0h1.5m4.5 0h1.5m8.5 0h1.5m14.5 0h1.5m10.5 0h1.5m0.5 0h1.5m86.5 0h1.5m-121.5 1h1.5m2.5 0h1.5m17.5 0h1.5m-0.5 0h1.5m64.5 0h1.5m-157.5 1h1.5m32.5 0h1.5m5.5 0h1.5m28.5 0h1.5m5.5 0h1.5m87.5 0h1.5m8.5 0h1.5m3.5 0h1.5m2.5 0h1.5m-141.5 1h1.5m19.5 0h1.5m-0.5 0h1.5m3.5 0h1.5m97.5 0h1.5m5.5 0h1.5m18.5 0h1.5m-127.5 1h1.5m11.5 0h1.5m58.5 0h1.5m12.5 0h1.5m2.5 0h1.5m9.5 0h1.5m-126.5 1h1.5m2.5 0h1.5m27.5 0h1.5m1.5 0h1.5m83.5 0h1.5m5.5 0h1.5m7.5 0h1.5m16.5 0h1.5m-184.5 1h1.5m63.5 0h1.5m-0.5 0h1.5m80.5 0h1.5m-163.5 1h1.5m23.5 0h1.5m0.5 0h1.5m4.5 0h1.5m7.5 0h1.5m3.5 0h1.5m14.5 0h1.5m0.5 0h1.5m56.5 0h1.5m-137.5 1h1.5m29.5 0h1.5m6.5 0h1.5m32.5 0h1.5m3.5 0h1.5m28.5 0h1.5m5.5 0h1.5m12.5 0h1.5m-114.5 1h1.5m2.5 0h1.5m4.5 0h1.5m6.5 0h1.5m15.5 0h1.5m13.5 0h1.5m43.5 0h1.5m59.5 0h1.5m8.5 0h1.5m-0.5 0h1.5m-154.5 1h1.5m17.5 0h1.5m19.5 0h1.5m10.5 0h1.5m7.5 0h1.5m13.5 0h1.5m63.5 0h1.5m11.5 0h1.5m-173.5 1h1.5m17.5 0h1.5m2.5 0h1.5m9.5 0h1.5m34.5 0h1.5m-0.5 0h1.5m4.5 0h1.5m5.5 0h1.5m17.5 0h1.5m49.5 0h1.5m17.5 0h1.5m13.5 0h1.5m-144.5 1h1.5m0.5 0h1.5m7.5 0h1.5m14.5 0h1.5m11.5 0h1.5m7.5 0h1.5m5.5 0h1.5m13.5 0h1.5m51.5 0h1.5m-162.5 1h1.5m7.5 0h1.5m0.5 0h1.5m11.5 0h1.5m26.5 0h1.5m17.5 0h1.5m95.5 0h1.5m-195.5 1h1.5m51.5 0h1.5m-0.5 0h1.5m-0.5 0h1.5m0.5 0h1.5m19.5 0h1.5m3.5 0h1.5m1.5 0h1.5m91.5 0h1.5m9.5 0h1.5m6.5 0h1.5m13.5 0h1.5m-208.5 1h1.5m19.5 0h1.5m14.5 0h1.5m6.5 0h1.5m12.5 0h1.5m5.5 0h1.5m0.5 0h1.5m-0.5 0h1.5m11.5 0h1.5m-0.5 0h1.5m25.5 0h1.5m70.5 0h1.5m3.5 0h1.5m17.5 0h1.5m-195.5 1h1.5m23.5 0h1.5m1.5 0h1.5m-0.5 0h1.5m13.5 0h1.5m2.5 0h1.5m7.5 0h1.5m6.5 0h1.5m0.5 0h1.5m2.5 0h1.5m17.5 0h1.5m1.5 0h1.5m21.5 0h1.5m26.5 0h1.5m1.5 0h1.5m37.5 0h1.5m3.5 0h1.5m-188.5 1h1.5m8.5 0h1.5m13.5 0h1.5m3.5 0h1.5m14.5 0h1.5m0.5 0h1.5m0.5 0h1.5m13.5 0h1.5m3.5 0h1.5m8.5 0h1.5m2.5 0h1.5m-112.5 1h1.5m6.5 0h1.5m6.5 0h1.5m11.5 0h1.5m26.5 0h1.5m0.5 0h1.5m3.5 0h1.5m8.5 0h1.5m1.5 0h1.5m9.5 0h1.5m3.5 0h1.5m11.5 0h1.5m13.5 0h1.5m5.5 0h1.5m3.5 0h1.5m18.5 0h1.5m58.5 0h1.5m-170.5 1h1.5m2.5 0h1.5m11.5 0h1.5m0.5 0h1.5m-0.5 0h1.5m23.5 0h1.5m9.5 0h1.5m17.5 0h1.5m16.5 0h1.5m2.5 0h1.5m40.5 0h1.5m36.5 0h1.5m-202.5 1h1.5m1.5 0h1.5m0.5 0h1.5m29.5 0h1.5m14.5 0h1.5m-0.5 0h1.5m0.5 0h1.5m5.5 0h1.5m0.5 0h1.5m7.5 0h1.5m9.5 0h1.5m1.5 0h1.5m-0.5 0h1.5m10.5 0h1.5m18.5 0h1.5m-0.5 0h1.5m-125.5 1h1.5m6.5 0h1.5m17.5 0h1.5m18.5 0h1.5m9.5 0h1.5m0.5 0h1.5m6.5 0h1.5m0.5 0h1.5m2.5 0h1.5m9.5 0h1.5m7.5 0h1.5m2.5 0h1.5m4.5 0h1.5m13.5 0h1.5m92.5 0h1.5m-211.5 1h1.5m2.5 0h1.5m10.5 0h1.5m0.5 0h1.5m0.5 0h1.5m12.5 0h1.5m1.5 0h1.5m4.5 0h1.5m-0.5 0h1.5m0.5 0h1.5m1.5 0h1.5m4.5 0h1.5m17.5 0h1.5m-0.5 0h1.5m6.5 0h1.5m11.5 0h1.5m7.5 0h1.5m2.5 0h1.5m6.5 0h1.5m2.5 0h1.5m10.5 0h1.5m-158.5 1h1.5m27.5 0h1.5m20.5 0h1.5m2.5 0h1.5m-0.5 0h1.5m9.5 0h1.5m7.5 0h1.5m7.5 0h1.5m1.5 0h1.5m0.5 0h1.5m1.5 0h1.5m7.5 0h1.5m0.5 0h1.5m2.5 0h1.5m1.5 0h1.5m5.5 0h1.5m12.5 0h1.5m0.5 0h1.5m-130.5 1h1.5m5.5 0h1.5m8.5 0h1.5m12.5 0h1.5m4.5 0h1.5m0.5 0h1.5m6.5 0h1.5m6.5 0h1.5m6.5 0h1.5m6.5 0h1.5m4.5 0h1.5m-0.5 0h1.5m-0.5 0h1.5m-0.5 0h1.5m0.5 0h1.5m-0.5 0h1.5m1.5 0h1.5m3.5 0h1.5m-0.5 0h1.5m-0.5 0h1.5m6.5 0h1.5m2.5 0h1.5m2.5 0h1.5m10.5 0h1.5m1.5 0h1.5m71.5 0h1.5m19.5 0h1.5m-172.5 1h1.5m17.5 0h1.5m12.5 0h1.5m-0.5 0h1.5m-0.5 0h1.5m2.5 0h1.5m1.5 0h1.5m0.5 0h1.5m6.5 0h1.5m9.5 0h1.5m3.5 0h1.5m-0.5 0h1.5m34.5 0h1.5m33.5 0h1.5m6.5 0h1.5m-191.5 1h1.5m7.5 0h1.5m9.5 0h1.5m0.5 0h1.5m17.5 0h1.5m8.5 0h1.5m13.5 0h1.5m2.5 0h1.5m16.5 0h1.5m3.5 0h1.5m-0.5 0h1.5m-0.5 0h1.5m10.5 0h1.5m0.5 0h1.5m9.5 0h1.5m16.5 0h1.5m-151.5 1h1.5m30.5 0h1.5m-0.5 0h1.5m0.5 0h1.5m9.5 0h1.5m-0.5 0h1.5m2.5 0h1.5m17.5 0h1.5m-0.5 0h1.5m4.5 0h1.5m2.5 0h1.5m2.5 0h1.5m1.5 0h1.5m0.5 0h1.5m1.5 0h1.5m14.5 0h1.5m1.5 0h1.5m5.5 0h1.5m20.5 0h1.5m9.5 0h1.5m45.5 0h1.5m-184.5 1h1.5m10.5 0h1.5m18.5 0h1.5m-0.5 0h1.5m-0.5 0h1.5m1.5 0h1.5m1.5 0h1.5m3.5 0h1.5m4.5 0h1.5m6.5 0h1.5m1.5 0h1.5m4.5 0h1.5m5.5 0h1.5m19.5 0h1.5m9.5 0h1.5m3.5 0h1.5m1.5 0h1.5m1.5 0h1.5m43.5 0h1.5m16.5 0h1.5m5.5 0h1.5m0.5 0h1.5m-180.5 1h1.5m13.5 0h1.5m13.5 0h1.5m3.5 0h1.5m5.5 0h1.5m-0.5 0h1.5m-0.5 0h1.5m5.5 0h1.5m3.5 0h1.5m0.5 0h1.5m6.5 0h1.5m1.5 0h1.5m10.5 0h1.5m-0.5 0h1.5m13.5 0h1.5m-0.5 0h1.5m-0.5 0h1.5m2.5 0h1.5m10.5 0h1.5m-144.5 1h1.5m2.5 0h1.5m8.5 0h1.5m27.5 0h1.5m12.5 0h1.5m0.5 0h1.5m2.5 0h1.5m4.5 0h1.5m4.5 0h1.5m0.5 0h1.5m3.5 0h1.5m0.5 0h1.5m0.5 0h1.5m1.5 0h1.5m2.5 0h1.5m0.5 0h1.5m-0.5 0h1.5m0.5 0h1.5m7.5 0h1.5m0.5 0h1.5m5.5 0h1.5m-0.5 0h1.5m12.5 0h1.5m1.5 0h1.5m18.5 0h1.5m39.5 0h1.5m24.5 0h1.5m-220.5 1h1.5m13.5 0h1.5m28.5 0h1.5m5.5 0h1.5m-0.5 0h1.5m0.5 0h1.5m5.5 0h1.5m6.5 0h1.5m-0.5 0h1.5m1.5 0h1.5m7.5 0h1.5m1.5 0h1.5m1.5 0h1.5m1.5 0h1.5m4.5 0h1.5m0.5 0h1.5m2.5 0h1.5m0.5 0h1.5m1.5 0h1.5m2.5 0h1.5m4.5 0h1.5m21.5 0h1.5m-95.5 1h1.5m10.5 0h1.5m0.5 0h1.5m-0.5 0h1.5m8.5 0h1.5m2.5 0h1.5m4.5 0h1.5m1.5 0h1.5m1.5 0h1.5m-0.5 0h1.5m-0.5 0h1.5m-0.5 0h1.5m-0.5 0h1.5m-0.5 0h1.5m2.5 0h1.5m2.5 0h1.5m4.5 0h1.5m3.5 0h1.5m0.5 0h1.5m1.5 0h1.5m-0.5 0h1.5m2.5 0h1.5m-0.5 0h1.5m12.5 0h1.5m41.5 0h1.5m26.5 0h1.5m11.5 0h1.5m-193.5 1h1.5m5.5 0h1.5m3.5 0h1.5m8.5 0h1.5m-0.5 0h1.5m-0.5 0h1.5m-0.5 0h1.5m8.5 0h1.5m1.5 0h1.5m-0.5 0h1.5m5.5 0h1.5m2.5 0h1.5m4.5 0h1.5m-0.5 0h1.5m1.5 0h1.5m0.5 0h1.5m0.5 0h1.5m2.5 0h1.5m-0.5 0h1.5m-0.5 0h1.5m-0.5 0h1.5m0.5 0h1.5m3.5 0h1.5m9.5 0h1.5m1.5 0h1.5m1.5 0h1.5m0.5 0h1.5m-0.5 0h1.5m1.5 0h1.5m-0.5 0h1.5m4.5 0h1.5m30.5 0h1.5m8.5 0h1.5m18.5 0h1.5m-176.5 1h1.5m17.5 0h1.5m3.5 0h1.5m0.5 0h1.5m-0.5 0h1.5m1.5 0h1.5m3.5 0h1.5m2.5 0h1.5m-0.5 0h1.5m2.5 0h1.5m-0.5 0h1.5m2.5 0h1.5m14.5 0h1.5m-0.5 0h1.5m0.5 0h1.5m4.5 0h1.5m1.5 0h1.5m-0.5 0h1.5m-0.5 0h1.5m0.5 0h1.5m-0.5 0h1.5m6.5 0h1.5m8.5 0h1.5m2.5 0h1.5m2.5 0h1.5m15.5 0h1.5m1.5 0h1.5m5.5 0h1.5m0.5 0h1.5m-146.5 1h1.5m3.5 0h1.5m2.5 0h1.5m9.5 0h1.5m1.5 0h1.5m5.5 0h1.5m-0.5 0h1.5m12.5 0h1.5m-0.5 0h1.5m9.5 0h1.5m3.5 0h1.5m2.5 0h1.5m-0.5 0h1.5m0.5 0h1.5m-0.5 0h1.5m0.5 0h1.5m-0.5 0h1.5m0.5 0h1.5m0.5 0h1.5m2.5 0h1.5m2.5 0h1.5m-0.5 0h1.5m8.5 0h1.5m7.5 0h1.5m1.5 0h1.5m-0.5 0h1.5m1.5 0h1.5m21.5 0h1.5m-150.5 1h1.5m14.5 0h1.5m15.5 0h1.5m7.5 0h1.5m0.5 0h1.5m8.5 0h1.5m6.5 0h1.5m2.5 0h1.5m0.5 0h1.5m-0.5 0h1.5m2.5 0h1.5m-0.5 0h1.5m0.5 0h1.5m1.5 0h1.5m4.5 0h1.5m11.5 0h1.5m4.5 0h1.5m1.5 0h1.5m0.5 0h1.5m4.5 0h1.5m-0.5 0h1.5m6.5 0h1.5m105.5 0h1.5m-218.5 1h1.5m35.5 0h1.5m3.5 0h1.5m-0.5 0h1.5m-0.5 0h1.5m15.5 0h1.5m0.5 0h1.5m-0.5 0h1.5m4.5 0h1.5m0.5 0h1.5m1.5 0h1.5m3.5 0h1.5m10.5 0h1.5m2.5 0h1.5m9.5 0h1.5m5.5 0h1.5m3.5 0h1.5m57.5 0h1.5m-184.5 1h1.5m4.5 0h1.5m15.5 0h1.5m0.5 0h1.5m6.5 0h1.5m0.5 0h1.5m12.5 0h1.5m7.5 0h1.5m10.5 0h1.5m8.5 0h1.5m6.5 0h1.5m10.5 0h1.5m5.5 0h1.5m4.5 0h1.5m12.5 0h1.5m-129.5 1h1.5m32.5 0h1.5m17.5 0h1.5m11.5 0h1.5m0.5 0h1.5m1.5 0h1.5m3.5 0h1.5m2.5 0h1.5m5.5 0h1.5m3.5 0h1.5m5.5 0h1.5m4.5 0h1.5m5.5 0h1.5m24.5 0h1.5m-137.5 1h1.5m6.5 0h1.5m26.5 0h1.5m2.5 0h1.5m2.5 0h1.5m12.5 0h1.5m2.5 0h1.5m2.5 0h1.5m0.5 0h1.5m7.5 0h1.5m3.5 0h1.5m-0.5 0h1.5m7.5 0h1.5m-0.5 0h1.5m12.5 0h1.5m72.5 0h1.5m-151.5 1h1.5m12.5 0h1.5m7.5 0h1.5m2.5 0h1.5m5.5 0h1.5m1.5 0h1.5m0.5 0h1.5m-0.5 0h1.5m1.5 0h1.5m5.5 0h1.5m-0.5 0h1.5m29.5 0h1.5m5.5 0h1.5m3.5 0h1.5m47.5 0h1.5m-176.5 1h1.5m17.5 0h1.5m1.5 0h1.5m6.5 0h1.5m23.5 0h1.5m1.5 0h1.5m7.5 0h1.5m0.5 0h1.5m-0.5 0h1.5m-0.5 0h1.5m8.5 0h1.5m0.5 0h1.5m-0.5 0h1.5m-0.5 0h1.5m-0.5 0h1.5m0.5 0h1.5m15.5 0h1.5m8.5 0h1.5m7.5 0h1.5m47.5 0h1.5m-173.5 1h1.5m26.5 0h1.5m1.5 0h1.5m2.5 0h1.5m7.5 0h1.5m2.5 0h1.5m2.5 0h1.5m-0.5 0h1.5m3.5 0h1.5m2.5 0h1.5m-0.5 0h1.5m8.5 0h1.5m3.5 0h1.5m2.5 0h1.5m1.5 0h1.5m7.5 0h1.5m1.5 0h1.5m2.5 0h1.5m16.5 0h1.5m13.5 0h1.5m50.5 0h1.5m-172.5 1h1.5m8.5 0h1.5m10.5 0h1.5m6.5 0h1.5m9.5 0h1.5m0.5 0h1.5m1.5 0h1.5m6.5 0h1.5m2.5 0h1.5m11.5 0h1.5m-0.5 0h1.5m12.5 0h1.5m15.5 0h1.5m-132.5 1h1.5m37.5 0h1.5m10.5 0h1.5m4.5 0h1.5m21.5 0h1.5m9.5 0h1.5m3.5 0h1.5m8.5 0h1.5m1.5 0h1.5m-61.5 1h1.5m4.5 0h1.5m6.5 0h1.5m9.5 0h1.5m8.5 0h1.5m5.5 0h1.5m3.5 0h1.5m1.5 0h1.5m3.5 0h1.5m-0.5 0h1.5m14.5 0h1.5m1.5 0h1.5m-58.5 1h1.5m16.5 0h1.5m0.5 0h1.5m-0.5 0h1.5m13.5 0h1.5m-0.5 0h1.5m1.5 0h1.5m1.5 0h1.5m9.5 0h1.5m-71.5 1h1.5m0.5 0h1.5m8.5 0h1.5m5.5 0h1.5m6.5 0h1.5m1.5 0h1.5m-0.5 0h1.5m3.5 0h1.5m9.5 0h1.5m2.5 0h1.5m16.5 0h1.5m0.5 0h1.5m-77.5 1h1.5m8.5 0h1.5m7.5 0h1.5m1.5 0h1.5m8.5 0h1.5m9.5 0h1.5m5.5 0h1.5m16.5 0h1.5m6.5 0h1.5m-53.5 1h1.5m-0.5 0h1.5m9.5 0h1.5m8.5 0h1.5m2.5 0h1.5m28.5 0h1.5m-76.5 1h1.5m5.5 0h1.5m34.5 0h1.5m9.5 0h1.5m2.5 0h1.5m-32.5 1h1.5m5.5 0h1.5m9.5 0h1.5m12.5 0h1.5m-87.5 1h1.5m28.5 0h1.5m16.5 0h1.5m-0.5 0h1.5m3.5 0h1.5m30.5 0h1.5m-113.5 1h1.5m107.5 0h1.5m0.5 0h1.5m-33.5 1h1.5m-25.5 1h1.5m-46.5 1h1.5m131.5 0h1.5m-103.5 4h1.5m95.5 1h1.5m-46.5 1h1.5m16.5 1h1.5m-19.5 4h1.5m29.5 10h1.5m-94.5 13h1.5m21.5 9h1.5m104.5 0h1.5" stroke="#0000ff" stroke-width="1.5"/>
<path d="M737 636h1.5m0.5 0h1.5m-36.5 1h1.5m-0.5 0h1.5m3.5 0h1.5m6.5 0h1.5m12.5 1h1.5m-0.5 0h1.5m-29.5 1h1.5m9.5 0h1.5m10.5 1h1.5m-0.5 0h1.5m13.5 0h1.5m-40.5 1h1.5m21.5 0h1.5m2.5 0h1.5m5.5 0h1.5m20.5 0h1.5m-55.5 1h1.5m0.5 0h1.5m16.5 1h1.5m-0.5 0h1.5m9.5 0h1.5m8.5 0h1.5m-44.5 1h1.5m6.5 0h1.5m8.5 0h1.5m3.5 0h1.5m26.5 0h1.5m-70.5 1h1.5m16.5 0h1.5m27.5 0h1.5m19.5 0h1.5m5.5 0h1.5m-83.5 1h1.5m15.5 0h1.5m3.5 0h1.5m2.5 0h1.5m5.5 0h1.5m4.5 0h1.5m20.5 0h1.5m-0.5 0h1.5m-44.5 1h1.5m-0.5 0h1.5m0.5 0h1.5m-0.5 0h1.5m0.5 0h1.5m2.5 0h1.5m9.5 0h1.5m6.5 0h1.5m4.5 0h1.5m-0.5 0h1.5m3.5 0h1.5m2.5 0h1.5m6.5 0h1.5m9.5 0h1.5m-59.5 1h1.5m5.5 0h1.5m0.5 0h1.5m2.5 0h1.5m4.5 0h1.5m0.5 0h1.5m33.5 0h1.5m0.5 0h1.5m-80.5 1h1.5m16.5 0h1.5m1.5 0h1.5m1.5 0h1.5m6.5 0h1.5m1.5 0h1.5m0.5 0h1.5m4.5 0h1.5m1.5 0h1.5m9.5 0h1.5m-0.5 0h1.5m7.5 0h1.5m-56.5 1h1.5m7.5 0h1.5m4.5 0h1.5m16.5 0h1.5m22.5 0h1.5m2.5 0h1.5m-74.5 1h1.5m3.5 0h1.5m14.5 0h1.5m1.5 0h1.5m0.5 0h1.5m17.5 0h1.5m7.5 0h1.5m2.5 0h1.5m-41.5 1h1.5m-0.5 0h1.5m-0.5 0h1.5m0.5 0h1.5m10.5 0h1.5m0.5 0h1.5m8.5 0h1.5m13.5 0h1.5m12.5 0h1.5m-59.5 1h1.5m-0.5 0h1.5m3.5 0h1.5m8.5 0h1.5m0.5 0h1.5m2.5 0h1.5m16.5 0h1.5m0.5 0h1.5m-59.5 1h1.5m15.5 0h1.5m1.5 0h1.5m9.5 0h1.5m4.5 0h1.5m1.5 0h1.5m-0.5 0h1.5m14.5 0h1.5m7.5 0h1.5m5.5 0h1.5m5.5 0h1.5m-84.5 1h1.5m31.5 0h1.5m15.5 0h1.5m12.5 0h1.5m-40.5 1h1.5m0.5 0h1.5m4.5 0h1.5m6.5 0h1.5m9.5 0h1.5m-0.5 0h1.5m1.5 0h1.5m-0.5 0h1.5m10.5 0h1.5m2.5 0h1.5m-0.5 0h1.5m-0.5 0h1.5m-55.5 1h1.5m-0.5 0h1.5m4.5 0h1.5m0.5 0h1.5m18.5 0h1.5m4.5 0h1.5m-0.5 0h1.5m-34.5 1h1.5m8.5 0h1.5m10.5 0h1.5m3.5 0h1.5m14.5 0h1.5m-55.5 1h1.5m6.5 0h1.5m5.5 0h1.5m17.5 0h1.5m-0.5 0h1.5m9.5 0h1.5m2.5 0h1.5m-39.5 1h1.5m8.5 0h1.5m12.5 0h1.5m-21.5 1h1.5m10.5 0h1.5m7.5 0h1.5m-21.5 1h1.5m7.5 0h1.5m19.5 0h1.5m-0.5 1h1.5m-44.5 1h1.5m2.5 0h1.5m45.5 0h1.5m-21.5 1h1.5m0.5 0h1.5m-2.5 2h1.5m-5.5 3h1.5" stroke="#00dd00" stroke-width="1.5"/>
<path d="M706 640h1.5m27.5 0h1.5m-30.5 1h1.5m21.5 1h1.5m-30.5 2h1.5m21.5 0h1.5m7.5 0h1.5m-13.5 1h1.5m-9.5 1h1.5m4.5 1h1.5m17.5 0h1.5m23.5 1h1.5m-21.5 1h1.5m0.5 0h1.5m2.5 0h1.5m-39.5 1h1.5m2.5 0h1.5m21.5 0h1.5m2.5 0h1.5m-25.5 1h1.5m-0.5 0h1.5m15.5 0h1.5m3.5 0h1.5m8.5 1h1.5m-30.5 1h1.5m13.5 0h1.5m-2.5 2h1.5m0.5 0h1.5m-22.5 1h1.5m-7.5 1h1.5m3.5 0h1.5m24.5 0h1.5m-40.5 1h1.5m4.5 0h1.5m0.5 0h1.5m-5.5 1h1.5m1.5 1h1.5m-8.5 1h1.5" stroke="#f0e000" stroke-width="1.5"/>
<path d="M738 644h1.5m-1.5 1h1.5m-14.5 1h1.5m0.5 0h1.5m-17.5 1h1.5m-3.5 1h1.5m29.5 0h1.5m-31.5 1h1.5m1.5 0h1.5m16.5 1h1.5m-28.5 1h1.5m54.5 0h1.5m-45.5 1h1.5m-8.5 1h1.5m8.5 0h1.5m2.5 0h1.5m0.5 1h1.5m-0.5 0h1.5m8.5 0h1.5m-14.5 2h1.5m24.5 0h1.5m-17.5 1h1.5m-15.5 1h1.5m4.5 0h1.5m-11.5 1h1.5" stroke="#ff1800" stroke-width="1.5"/>
<rect x="622.3" y="449.3" width="278.1" height="276.6" fill="none" stroke="#444" stroke-width="1.6"/>
<path d="M785.4 449.3V725.9M622.3 630.1H900.4" stroke="#000" stroke-width="2.2"/>
<text x="626.9" y="467.5" font-size="16.71" textLength="59.1" lengthAdjust="spacingAndGlyphs" style="font-weight:bold">Q1:15.6</text>
<text x="837.0" y="467.5" font-size="16.71" textLength="59.1" lengthAdjust="spacingAndGlyphs" style="font-weight:bold">Q2:4.29</text>
<text x="626.9" y="723.0" font-size="16.71" textLength="59.1" lengthAdjust="spacingAndGlyphs" style="font-weight:bold">Q4:75.9</text>
<text x="835.6" y="723.0" font-size="16.71" textLength="59.1" lengthAdjust="spacingAndGlyphs" style="font-weight:bold">Q3:4.16</text>
<text x="696.1" y="778.0" font-size="22.76" textLength="127.3" lengthAdjust="spacingAndGlyphs" style="font-weight:bold">GITR(APC)</text>
<text x="0" y="0" font-size="24.39" transform="translate(574.7,661.6) rotate(-90)" style="font-weight:bold">CD3(PE)</text>
<text x="613.5" y="752.6" font-size="16.86" style="font-weight:bold">-10</text>
<text x="639.7" y="743.8" font-size="11.43" style="font-weight:bold">3</text>
<text x="720.8" y="752.6" font-size="16.86" style="font-weight:bold">10</text>
<text x="744.1" y="743.8" font-size="11.43" style="font-weight:bold">3</text>
<text x="796.2" y="752.6" font-size="16.86" style="font-weight:bold">10</text>
<text x="819.5" y="743.8" font-size="11.59" style="font-weight:bold">4</text>
<text x="860.7" y="752.6" font-size="16.86" style="font-weight:bold">10</text>
<text x="883.9" y="743.8" font-size="11.59" style="font-weight:bold">5</text>
<text x="678.5" y="752.6" font-size="16.86" style="font-weight:bold">0</text>
<text x="588.5" y="481.9" font-size="16.43" style="font-weight:bold">10</text>
<text x="606.0" y="472.9" font-size="12.61" style="font-weight:bold">5</text>
<text x="588.1" y="546.1" font-size="16.43" style="font-weight:bold">10</text>
<text x="605.8" y="537.1" font-size="12.61" style="font-weight:bold">4</text>
<text x="588.6" y="621.0" font-size="16.43" style="font-weight:bold">10</text>
<text x="606.1" y="612.0" font-size="12.43" style="font-weight:bold">3</text>
<text x="583.1" y="718.6" font-size="16.43" style="font-weight:bold">-10</text>
<text x="606.1" y="709.6" font-size="12.43" style="font-weight:bold">3</text>
<text x="596.7" y="671.4" font-size="16.43" style="font-weight:bold">0</text>
<path d="M293.3 1212.0v4M237.0 1155.7h-4M303.2 1212.0v4M237.0 1145.9h-4M288.5 1212.0v4M237.0 1160.5h-4M308.3 1212.0v4M237.0 1140.8h-4M283.7 1212.0v4M237.0 1165.3h-4M313.4 1212.0v4M237.0 1135.7h-4M278.9 1212.0v4M237.0 1170.1h-4M318.5 1212.0v4M237.0 1130.6h-4M274.1 1212.0v4M237.0 1174.9h-4M323.6 1212.0v4M237.0 1125.5h-4M269.3 1212.0v4M237.0 1179.7h-4M328.7 1212.0v4M237.0 1120.4h-4M264.6 1212.0v4M237.0 1184.5h-4M333.8 1212.0v4M237.0 1115.3h-4M259.8 1212.0v4M237.0 1189.3h-4M338.9 1212.0v4M237.0 1110.2h-4M255.0 1212.0v4M237.0 1194.1h-4M344.0 1212.0v4M237.0 1105.1h-4M372.0 1212.0v4M237.0 1077.2h-4M385.4 1212.0v4M237.0 1063.8h-4M394.9 1212.0v4M237.0 1054.3h-4M402.2 1212.0v4M237.0 1047.0h-4M408.2 1212.0v4M237.0 1041.0h-4M413.3 1212.0v4M237.0 1035.9h-4M417.7 1212.0v4M237.0 1031.5h-4M421.6 1212.0v4M237.0 1027.6h-4M444.7 1212.0v4M237.0 1004.6h-4M456.1 1212.0v4M237.0 993.1h-4M464.2 1212.0v4M237.0 985.0h-4M470.5 1212.0v4M237.0 978.7h-4M475.7 1212.0v4M237.0 973.6h-4M480.0 1212.0v4M237.0 969.2h-4M483.8 1212.0v4M237.0 965.5h-4M487.1 1212.0v4M237.0 962.1h-4M509.7 1212.0v4M237.0 939.6h-4" stroke="#222" stroke-width="1.3" fill="none"/>
<path d="M250.2 1212.0v7M237.0 1198.8h-7M349.1 1212.0v7M237.0 1100.0h-7M425.1 1212.0v7M237.0 1024.1h-7M490.1 1212.0v7M237.0 959.2h-7" stroke="#111" stroke-width="2" fill="none"/>
<path d="M292.1 1212.0v6M237.0 1157.0h-6M293.6 1212.0v6M237.0 1155.5h-6M295.1 1212.0v7M237.0 1154.0h-7M296.6 1212.0v7M237.0 1152.5h-7M298.1 1212.0v7M237.0 1151.0h-7M299.6 1212.0v7M237.0 1149.5h-7M301.1 1212.0v7M237.0 1148.0h-7M302.6 1212.0v6M237.0 1146.5h-6M304.1 1212.0v6M237.0 1145.0h-6" stroke="#111" stroke-width="1.4" fill="none"/>
<path d="M498 936h1.5m-63.5 2h1.5m-34.5 7h1.5m-88.5 10h1.5m51.5 7h1.5m-17.5 3h1.5m-108.5 2h1.5m78.5 0h1.5m25.5 0h1.5m24.5 0h1.5m-14.5 2h1.5m11.5 4h1.5m-66.5 1h1.5m38.5 1h1.5m50.5 0h1.5m-43.5 1h1.5m66.5 0h1.5m-143.5 1h1.5m70.5 0h1.5m28.5 0h1.5m1.5 2h1.5m-99.5 1h1.5m81.5 2h1.5m-58.5 1h1.5m11.5 1h1.5m22.5 0h1.5m-18.5 1h1.5m32.5 0h1.5m-46.5 1h1.5m-32.5 1h1.5m17.5 1h1.5m44.5 2h1.5m-105.5 1h1.5m46.5 0h1.5m78.5 0h1.5m-54.5 1h1.5m0.5 0h1.5m15.5 0h1.5m14.5 1h1.5m3.5 0h1.5m-97.5 1h1.5m16.5 0h1.5m34.5 0h1.5m49.5 0h1.5m-79.5 1h1.5m32.5 0h1.5m48.5 0h1.5m4.5 0h1.5m-68.5 1h1.5m56.5 0h1.5m26.5 0h1.5m-68.5 1h1.5m-43.5 1h1.5m52.5 2h1.5m5.5 0h1.5m0.5 0h1.5m-43.5 1h1.5m37.5 2h1.5m9.5 0h1.5m-62.5 1h1.5m42.5 0h1.5m34.5 0h1.5m-58.5 1h1.5m11.5 0h1.5m-4.5 1h1.5m-15.5 1h1.5m53.5 0h1.5m9.5 0h1.5m13.5 1h1.5m25.5 0h1.5m-114.5 1h1.5m35.5 0h1.5m9.5 0h1.5m-0.5 0h1.5m-106.5 2h1.5m20.5 0h1.5m-24.5 2h1.5m30.5 0h1.5m19.5 0h1.5m27.5 0h1.5m-5.5 1h1.5m26.5 0h1.5m13.5 1h1.5m-95.5 1h1.5m41.5 16h1.5m-24.5 2h1.5m76.5 3h1.5m-93.5 3h1.5m25.5 1h1.5m33.5 0h1.5m-10.5 5h1.5m-1.5 1h1.5m-44.5 1h1.5m51.5 0h1.5m7.5 0h1.5m0.5 1h1.5m-72.5 1h1.5m69.5 0h1.5m-60.5 1h1.5m11.5 0h1.5m45.5 0h1.5m-75.5 1h1.5m8.5 0h1.5m53.5 0h1.5m1.5 0h1.5m-69.5 1h1.5m13.5 0h1.5m-13.5 1h1.5m2.5 0h1.5m51.5 0h1.5m-46.5 1h1.5m30.5 0h1.5m-29.5 1h1.5m23.5 0h1.5m8.5 0h1.5m5.5 0h1.5m0.5 0h1.5m-10.5 1h1.5m-65.5 1h1.5m67.5 0h1.5m11.5 0h1.5m-82.5 1h1.5m8.5 0h1.5m16.5 0h1.5m30.5 0h1.5m0.5 0h1.5m17.5 0h1.5m-75.5 1h1.5m16.5 0h1.5m-0.5 0h1.5m4.5 0h1.5m44.5 0h1.5m9.5 0h1.5m-80.5 1h1.5m63.5 0h1.5m3.5 0h1.5m-66.5 1h1.5m-0.5 0h1.5m7.5 0h1.5m27.5 0h1.5m3.5 0h1.5m14.5 0h1.5m6.5 0h1.5m-82.5 1h1.5m6.5 0h1.5m4.5 0h1.5m1.5 0h1.5m-0.5 0h1.5m0.5 0h1.5m27.5 1h1.5m5.5 0h1.5m22.5 0h1.5m-84.5 1h1.5m9.5 0h1.5m0.5 0h1.5m-0.5 0h1.5m13.5 0h1.5m28.5 0h1.5m30.5 0h1.5m-83.5 1h1.5m25.5 0h1.5m13.5 0h1.5m1.5 0h1.5m-53.5 1h1.5m10.5 0h1.5m43.5 0h1.5m-0.5 0h1.5m5.5 0h1.5m-0.5 0h1.5m5.5 0h1.5m0.5 0h1.5m2.5 0h1.5m0.5 0h1.5m4.5 0h1.5m16.5 0h1.5m-103.5 1h1.5m4.5 0h1.5m0.5 0h1.5m11.5 0h1.5m9.5 0h1.5m-29.5 1h1.5m20.5 0h1.5m35.5 0h1.5m0.5 0h1.5m1.5 0h1.5m21.5 0h1.5m-98.5 1h1.5m10.5 0h1.5m0.5 0h1.5m-0.5 0h1.5m-0.5 0h1.5m2.5 0h1.5m0.5 0h1.5m40.5 0h1.5m2.5 0h1.5m1.5 0h1.5m15.5 0h1.5m-0.5 0h1.5m-59.5 1h1.5m-0.5 0h1.5m29.5 0h1.5m8.5 0h1.5m-71.5 1h1.5m22.5 0h1.5m42.5 0h1.5m-43.5 1h1.5m-0.5 0h1.5m5.5 0h1.5m26.5 0h1.5m2.5 0h1.5m8.5 0h1.5m6.5 0h1.5m-81.5 1h1.5m0.5 0h1.5m1.5 0h1.5m2.5 0h1.5m4.5 0h1.5m-0.5 0h1.5m29.5 0h1.5m16.5 0h1.5m2.5 0h1.5m0.5 0h1.5m0.5 0h1.5m16.5 0h1.5m-84.5 1h1.5m3.5 0h1.5m-0.5 0h1.5m10.5 0h1.5m3.5 0h1.5m13.5 0h1.5m18.5 0h1.5m-0.5 0h1.5m7.5 0h1.5m1.5 0h1.5m1.5 0h1.5m1.5 0h1.5m21.5 0h1.5m-108.5 1h1.5m-0.5 0h1.5m-0.5 0h1.5m10.5 0h1.5m1.5 0h1.5m29.5 0h1.5m10.5 0h1.5m11.5 0h1.5m5.5 0h1.5m5.5 0h1.5m-101.5 1h1.5m2.5 0h1.5m1.5 0h1.5m6.5 0h1.5m2.5 0h1.5m2.5 0h1.5m0.5 0h1.5m2.5 0h1.5m0.5 0h1.5m4.5 0h1.5m1.5 0h1.5m19.5 0h1.5m8.5 0h1.5m0.5 0h1.5m-59.5 1h1.5m5.5 0h1.5m-0.5 0h1.5m53.5 0h1.5m-0.5 0h1.5m9.5 0h1.5m10.5 0h1.5m-115.5 1h1.5m19.5 0h1.5m2.5 0h1.5m0.5 0h1.5m3.5 0h1.5m4.5 0h1.5m-0.5 0h1.5m-0.5 0h1.5m1.5 0h1.5m3.5 0h1.5m26.5 0h1.5m8.5 0h1.5m0.5 0h1.5m-0.5 0h1.5m29.5 0h1.5m-97.5 1h1.5m0.5 0h1.5m1.5 0h1.5m0.5 0h1.5m1.5 0h1.5m-0.5 0h1.5m-0.5 0h1.5m0.5 0h1.5m1.5 0h1.5m1.5 0h1.5m0.5 0h1.5m36.5 0h1.5m11.5 0h1.5m12.5 0h1.5m-80.5 1h1.5m8.5 0h1.5m30.5 0h1.5m4.5 0h1.5m0.5 0h1.5m3.5 0h1.5m1.5 0h1.5m3.5 0h1.5m8.5 0h1.5m8.5 0h1.5m6.5 0h1.5m-101.5 1h1.5m5.5 0h1.5m-0.5 0h1.5m6.5 0h1.5m-0.5 0h1.5m-0.5 0h1.5m0.5 0h1.5m-0.5 0h1.5m8.5 0h1.5m15.5 0h1.5m13.5 0h1.5m-0.5 0h1.5m6.5 0h1.5m-0.5 0h1.5m-0.5 0h1.5m0.5 0h1.5m3.5 0h1.5m-90.5 1h1.5m7.5 0h1.5m4.5 0h1.5m11.5 0h1.5m8.5 0h1.5m14.5 0h1.5m2.5 0h1.5m5.5 0h1.5m11.5 0h1.5m1.5 0h1.5m1.5 0h1.5m2.5 0h1.5m-91.5 1h1.5m14.5 0h1.5m6.5 0h1.5m6.5 0h1.5m3.5 0h1.5m12.5 0h1.5m1.5 0h1.5m10.5 0h1.5m1.5 0h1.5m1.5 0h1.5m5.5 0h1.5m0.5 0h1.5m-79.5 1h1.5m7.5 0h1.5m4.5 0h1.5m1.5 0h1.5m2.5 0h1.5m38.5 0h1.5m-0.5 0h1.5m-0.5 0h1.5m5.5 0h1.5m-0.5 0h1.5m4.5 0h1.5m1.5 0h1.5m2.5 0h1.5m-77.5 1h1.5m7.5 0h1.5m5.5 0h1.5m2.5 0h1.5m22.5 0h1.5m4.5 0h1.5m6.5 0h1.5m-0.5 0h1.5m6.5 0h1.5m9.5 0h1.5m6.5 0h1.5m-106.5 1h1.5m19.5 0h1.5m2.5 0h1.5m7.5 0h1.5m0.5 0h1.5m1.5 0h1.5m23.5 0h1.5m15.5 0h1.5m3.5 0h1.5m2.5 0h1.5m10.5 0h1.5m-86.5 1h1.5m4.5 0h1.5m9.5 0h1.5m1.5 0h1.5m3.5 0h1.5m22.5 0h1.5m3.5 0h1.5m-0.5 0h1.5m4.5 0h1.5m0.5 0h1.5m0.5 0h1.5m1.5 0h1.5m-77.5 1h1.5m-0.5 0h1.5m-0.5 0h1.5m2.5 0h1.5m4.5 0h1.5m1.5 0h1.5m-0.5 0h1.5m6.5 0h1.5m0.5 0h1.5m1.5 0h1.5m5.5 0h1.5m17.5 0h1.5m3.5 0h1.5m9.5 0h1.5m3.5 0h1.5m-0.5 0h1.5m0.5 0h1.5m3.5 0h1.5m0.5 0h1.5m-79.5 1h1.5m2.5 0h1.5m-0.5 0h1.5m1.5 0h1.5m-0.5 0h1.5m0.5 0h1.5m7.5 0h1.5m34.5 0h1.5m9.5 0h1.5m2.5 0h1.5m1.5 0h1.5m0.5 0h1.5m3.5 0h1.5m7.5 0h1.5m-92.5 1h1.5m-0.5 0h1.5m4.5 0h1.5m1.5 0h1.5m0.5 0h1.5m7.5 0h1.5m-0.5 0h1.5m36.5 0h1.5m0.5 0h1.5m15.5 0h1.5m4.5 0h1.5m-80.5 1h1.5m-0.5 0h1.5m-0.5 0h1.5m6.5 0h1.5m5.5 0h1.5m4.5 0h1.5m31.5 0h1.5m-0.5 0h1.5m3.5 0h1.5m15.5 0h1.5m-86.5 1h1.5m8.5 0h1.5m4.5 0h1.5m3.5 0h1.5m9.5 0h1.5m27.5 0h1.5m3.5 0h1.5m-0.5 0h1.5m5.5 0h1.5m1.5 0h1.5m0.5 0h1.5m10.5 0h1.5m-87.5 1h1.5m2.5 0h1.5m-0.5 0h1.5m12.5 0h1.5m1.5 0h1.5m-0.5 0h1.5m7.5 0h1.5m22.5 0h1.5m-0.5 0h1.5m3.5 0h1.5m2.5 0h1.5m1.5 0h1.5m0.5 0h1.5m1.5 0h1.5m0.5 0h1.5m0.5 0h1.5m-0.5 0h1.5m-92.5 1h1.5m-0.5 0h1.5m4.5 0h1.5m3.5 0h1.5m7.5 0h1.5m-0.5 0h1.5m4.5 0h1.5m0.5 0h1.5m0.5 0h1.5m20.5 0h1.5m1.5 0h1.5m10.5 0h1.5m1.5 0h1.5m-0.5 0h1.5m0.5 0h1.5m11.5 0h1.5m-79.5 1h1.5m3.5 0h1.5m-0.5 0h1.5m1.5 0h1.5m0.5 0h1.5m1.5 0h1.5m5.5 0h1.5m3.5 0h1.5m30.5 0h1.5m2.5 0h1.5m0.5 0h1.5m0.5 0h1.5m-0.5 0h1.5m-0.5 0h1.5m3.5 0h1.5m-78.5 1h1.5m5.5 0h1.5m0.5 0h1.5m9.5 0h1.5m2.5 0h1.5m0.5 0h1.5m1.5 0h1.5m27.5 0h1.5m11.5 0h1.5m5.5 0h1.5m1.5 0h1.5m8.5 0h1.5m-98.5 1h1.5m9.5 0h1.5m3.5 0h1.5m-0.5 0h1.5m0.5 0h1.5m4.5 0h1.5m49.5 0h1.5m-0.5 0h1.5m5.5 0h1.5m2.5 0h1.5m7.5 0h1.5m-94.5 1h1.5m2.5 0h1.5m0.5 0h1.5m4.5 0h1.5m0.5 0h1.5m-0.5 0h1.5m-0.5 0h1.5m1.5 0h1.5m3.5 0h1.5m2.5 0h1.5m1.5 0h1.5m23.5 0h1.5m1.5 0h1.5m8.5 0h1.5m5.5 0h1.5m3.5 0h1.5m11.5 0h1.5m-98.5 1h1.5m1.5 0h1.5m4.5 0h1.5m4.5 0h1.5m1.5 0h1.5m5.5 0h1.5m7.5 0h1.5m18.5 0h1.5m5.5 0h1.5m1.5 0h1.5m3.5 0h1.5m2.5 0h1.5m12.5 0h1.5m9.5 0h1.5m-98.5 1h1.5m2.5 0h1.5m-0.5 0h1.5m-0.5 0h1.5m-0.5 0h1.5m2.5 0h1.5m1.5 0h1.5m1.5 0h1.5m-0.5 0h1.5m5.5 0h1.5m1.5 0h1.5m29.5 0h1.5m0.5 0h1.5m2.5 0h1.5m0.5 0h1.5m4.5 0h1.5m1.5 0h1.5m4.5 0h1.5m4.5 0h1.5m-90.5 1h1.5m13.5 0h1.5m4.5 0h1.5m0.5 0h1.5m-0.5 0h1.5m8.5 0h1.5m39.5 0h1.5m-0.5 0h1.5m7.5 0h1.5m9.5 0h1.5m10.5 0h1.5m-112.5 1h1.5m4.5 0h1.5m1.5 0h1.5m9.5 0h1.5m-0.5 0h1.5m1.5 0h1.5m2.5 0h1.5m0.5 0h1.5m5.5 0h1.5m2.5 0h1.5m2.5 0h1.5m13.5 0h1.5m4.5 0h1.5m0.5 0h1.5m3.5 0h1.5m-0.5 0h1.5m-0.5 0h1.5m2.5 0h1.5m-0.5 0h1.5m0.5 0h1.5m11.5 0h1.5m4.5 0h1.5m-104.5 1h1.5m13.5 0h1.5m5.5 0h1.5m2.5 0h1.5m2.5 0h1.5m2.5 0h1.5m3.5 0h1.5m-0.5 0h1.5m0.5 0h1.5m24.5 0h1.5m1.5 0h1.5m3.5 0h1.5m6.5 0h1.5m5.5 0h1.5m5.5 0h1.5m-86.5 1h1.5m5.5 0h1.5m1.5 0h1.5m3.5 0h1.5m6.5 0h1.5m6.5 0h1.5m10.5 0h1.5m14.5 0h1.5m-0.5 0h1.5m2.5 0h1.5m14.5 0h1.5m-79.5 1h1.5m-0.5 0h1.5m0.5 0h1.5m-0.5 0h1.5m1.5 0h1.5m7.5 0h1.5m0.5 0h1.5m-0.5 0h1.5m7.5 0h1.5m-0.5 0h1.5m59.5 0h1.5m-96.5 1h1.5m10.5 0h1.5m-0.5 0h1.5m2.5 0h1.5m0.5 0h1.5m-0.5 0h1.5m2.5 0h1.5m1.5 0h1.5m9.5 0h1.5m1.5 0h1.5m14.5 0h1.5m1.5 0h1.5m1.5 0h1.5m1.5 0h1.5m-0.5 0h1.5m0.5 0h1.5m-0.5 0h1.5m0.5 0h1.5m-74.5 1h1.5m1.5 0h1.5m4.5 0h1.5m-0.5 0h1.5m1.5 0h1.5m0.5 0h1.5m-0.5 0h1.5m1.5 0h1.5m0.5 0h1.5m15.5 0h1.5m22.5 0h1.5m1.5 0h1.5m6.5 0h1.5m2.5 0h1.5m-0.5 0h1.5m-0.5 0h1.5m3.5 0h1.5m-0.5 0h1.5m2.5 0h1.5m-85.5 1h1.5m5.5 0h1.5m4.5 0h1.5m5.5 0h1.5m34.5 0h1.5m7.5 0h1.5m4.5 0h1.5m0.5 0h1.5m2.5 0h1.5m5.5 0h1.5m-84.5 1h1.5m2.5 0h1.5m0.5 0h1.5m-0.5 0h1.5m0.5 0h1.5m4.5 0h1.5m0.5 0h1.5m3.5 0h1.5m-0.5 0h1.5m22.5 0h1.5m3.5 0h1.5m13.5 0h1.5m2.5 0h1.5m0.5 0h1.5m-78.5 1h1.5m3.5 0h1.5m-0.5 0h1.5m0.5 0h1.5m2.5 0h1.5m-0.5 0h1.5m1.5 0h1.5m-0.5 0h1.5m40.5 0h1.5m2.5 0h1.5m13.5 0h1.5m-83.5 1h1.5m1.5 0h1.5m7.5 0h1.5m6.5 0h1.5m3.5 0h1.5m-0.5 0h1.5m33.5 0h1.5m1.5 0h1.5m0.5 0h1.5m-0.5 0h1.5m9.5 0h1.5m-83.5 1h1.5m6.5 0h1.5m6.5 0h1.5m6.5 0h1.5m0.5 0h1.5m4.5 0h1.5m32.5 0h1.5m1.5 0h1.5m4.5 0h1.5m15.5 0h1.5m-83.5 1h1.5m3.5 0h1.5m1.5 0h1.5m4.5 0h1.5m-0.5 0h1.5m9.5 0h1.5m39.5 0h1.5m19.5 0h1.5m-91.5 1h1.5m15.5 0h1.5m2.5 0h1.5m-0.5 0h1.5m1.5 0h1.5m3.5 0h1.5m24.5 0h1.5m-0.5 0h1.5m4.5 0h1.5m3.5 0h1.5m0.5 0h1.5m8.5 0h1.5m3.5 0h1.5m-88.5 1h1.5m7.5 0h1.5m-0.5 0h1.5m1.5 0h1.5m2.5 0h1.5m2.5 0h1.5m0.5 0h1.5m25.5 0h1.5m3.5 0h1.5m4.5 0h1.5m-0.5 0h1.5m-0.5 0h1.5m2.5 0h1.5m-0.5 0h1.5m12.5 0h1.5m0.5 0h1.5m-92.5 1h1.5m19.5 0h1.5m0.5 0h1.5m0.5 0h1.5m-0.5 0h1.5m2.5 0h1.5m4.5 0h1.5m23.5 0h1.5m0.5 0h1.5m12.5 0h1.5m4.5 0h1.5m4.5 0h1.5m-0.5 0h1.5m0.5 0h1.5m-96.5 1h1.5m12.5 0h1.5m-0.5 0h1.5m-0.5 0h1.5m3.5 0h1.5m8.5 0h1.5m6.5 0h1.5m25.5 0h1.5m20.5 0h1.5m-0.5 0h1.5m7.5 0h1.5m-96.5 1h1.5m6.5 0h1.5m10.5 0h1.5m4.5 0h1.5m-0.5 0h1.5m9.5 0h1.5m22.5 0h1.5m11.5 0h1.5m-66.5 1h1.5m-0.5 0h1.5m9.5 0h1.5m10.5 0h1.5m2.5 0h1.5m18.5 0h1.5m17.5 0h1.5m5.5 0h1.5m-0.5 0h1.5m-84.5 1h1.5m12.5 0h1.5m0.5 0h1.5m1.5 0h1.5m2.5 0h1.5m-0.5 0h1.5m3.5 0h1.5m0.5 0h1.5m41.5 0h1.5m2.5 0h1.5m5.5 0h1.5m2.5 0h1.5m-81.5 1h1.5m49.5 0h1.5m2.5 0h1.5m-0.5 0h1.5m14.5 0h1.5m-0.5 0h1.5m1.5 0h1.5m-75.5 1h1.5m9.5 0h1.5m-0.5 0h1.5m1.5 0h1.5m1.5 0h1.5m-0.5 0h1.5m24.5 0h1.5m10.5 0h1.5m13.5 0h1.5m-85.5 1h1.5m13.5 0h1.5m1.5 0h1.5m0.5 0h1.5m3.5 0h1.5m2.5 0h1.5m0.5 0h1.5m0.5 0h1.5m18.5 0h1.5m17.5 0h1.5m1.5 0h1.5m7.5 0h1.5m-69.5 1h1.5m5.5 0h1.5m1.5 0h1.5m0.5 0h1.5m1.5 0h1.5m33.5 0h1.5m8.5 0h1.5m0.5 0h1.5m7.5 0h1.5m-75.5 1h1.5m-0.5 0h1.5m2.5 0h1.5m1.5 0h1.5m1.5 0h1.5m4.5 0h1.5m5.5 0h1.5m18.5 0h1.5m3.5 0h1.5m9.5 0h1.5m5.5 0h1.5m1.5 0h1.5m1.5 0h1.5m-66.5 1h1.5m12.5 0h1.5m5.5 0h1.5m20.5 0h1.5m-47.5 1h1.5m2.5 0h1.5m0.5 0h1.5m2.5 0h1.5m-0.5 0h1.5m2.5 0h1.5m8.5 0h1.5m17.5 0h1.5m14.5 0h1.5m0.5 0h1.5m2.5 0h1.5m-80.5 1h1.5m3.5 0h1.5m1.5 0h1.5m5.5 0h1.5m-0.5 0h1.5m-0.5 0h1.5m2.5 0h1.5m5.5 0h1.5m31.5 0h1.5m10.5 0h1.5m5.5 0h1.5m-25.5 1h1.5m12.5 0h1.5m0.5 0h1.5m-42.5 1h1.5m33.5 0h1.5m2.5 0h1.5m13.5 0h1.5m-75.5 1h1.5m1.5 0h1.5m7.5 0h1.5m0.5 0h1.5m0.5 0h1.5m4.5 0h1.5m-23.5 1h1.5m2.5 0h1.5m3.5 0h1.5m0.5 0h1.5m34.5 0h1.5m13.5 0h1.5m-0.5 0h1.5m4.5 0h1.5m-56.5 1h1.5m0.5 0h1.5m4.5 0h1.5m25.5 0h1.5m2.5 0h1.5m-0.5 0h1.5m-47.5 1h1.5m-0.5 0h1.5m2.5 0h1.5m40.5 1h1.5m18.5 0h1.5m-72.5 1h1.5m14.5 0h1.5m24.5 0h1.5m10.5 0h1.5m15.5 0h1.5m-80.5 1h1.5m2.5 0h1.5m13.5 0h1.5m-16.5 1h1.5m1.5 0h1.5m-11.5 1h1.5m10.5 0h1.5m21.5 0h1.5m19.5 0h1.5m19.5 0h1.5m-73.5 1h1.5m3.5 0h1.5m0.5 0h1.5m0.5 0h1.5m1.5 0h1.5m53.5 0h1.5m7.5 0h1.5m-72.5 1h1.5m5.5 0h1.5m3.5 0h1.5m0.5 0h1.5m1.5 0h1.5m-22.5 1h1.5m4.5 0h1.5m-0.5 0h1.5m0.5 0h1.5m6.5 0h1.5m-25.5 1h1.5m9.5 0h1.5m8.5 0h1.5m-0.5 0h1.5m3.5 0h1.5m44.5 0h1.5m6.5 0h1.5m-71.5 1h1.5m10.5 0h1.5m49.5 0h1.5m1.5 0h1.5m-63.5 1h1.5m-17.5 1h1.5m10.5 0h1.5m0.5 0h1.5m54.5 0h1.5m-51.5 1h1.5m38.5 0h1.5m8.5 0h1.5m-0.5 0h1.5m-1.5 1h1.5m-67.5 1h1.5m6.5 0h1.5m19.5 0h1.5m-16.5 1h1.5m1.5 0h1.5m45.5 0h1.5m-67.5 1h1.5m9.5 0h1.5m-15.5 1h1.5m16.5 0h1.5m12.5 0h1.5m-0.5 0h1.5m-25.5 1h1.5m2.5 0h1.5m8.5 0h1.5m-9.5 1h1.5m2.5 0h1.5m3.5 0h1.5m5.5 0h1.5m-26.5 1h1.5m12.5 0h1.5m-0.5 0h1.5m-27.5 1h1.5m8.5 0h1.5m13.5 0h1.5m4.5 0h1.5m-16.5 1h1.5m2.5 0h1.5m5.5 0h1.5m1.5 0h1.5m-27.5 1h1.5m-0.5 0h1.5m1.5 0h1.5m1.5 0h1.5m7.5 0h1.5m0.5 0h1.5m1.5 0h1.5m-0.5 0h1.5m-15.5 1h1.5m3.5 0h1.5m3.5 0h1.5m6.5 0h1.5m3.5 0h1.5m-24.5 1h1.5m2.5 0h1.5m0.5 0h1.5m-11.5 1h1.5m4.5 0h1.5m-0.5 0h1.5m5.5 0h1.5m-0.5 0h1.5m1.5 0h1.5m-21.5 1h1.5m2.5 0h1.5m12.5 0h1.5m-19.5 1h1.5m12.5 0h1.5m-5.5 1h1.5m8.5 0h1.5m-0.5 0h1.5m-11.5 1h1.5m6.5 0h1.5m0.5 0h1.5m-6.5 1h1.5m1.5 0h1.5m2.5 0h1.5m0.5 0h1.5m3.5 0h1.5m-14.5 2h1.5m-1.5 1h1.5m2.5 0h1.5m4.5 1h1.5m-10.5 1h1.5m-22.5 1h1.5m4.5 0h1.5m-0.5 0h1.5m-0.5 0h1.5m19.5 0h1.5m-13.5 1h1.5m-0.5 0h1.5m-0.5 0h1.5m2.5 0h1.5m-7.5 1h1.5m0.5 1h1.5m9.5 0h1.5m-0.5 0h1.5m2.5 0h1.5m-16.5 1h1.5m-22.5 1h1.5m21.5 1h1.5m-6.5 1h1.5m-0.5 1h1.5m-14.5 1h1.5m15.5 0h1.5m1.5 0h1.5m-5.5 1h1.5m-2.5 3h1.5m-4.5 3h1.5m-4.5 1h1.5m-18.5 8h1.5" stroke="#6464ff" stroke-width="1.5"/>
<path d="M318 1081h1.5m-7.5 2h1.5m5.5 3h1.5m53.5 1h1.5m-62.5 1h1.5m-0.5 3h1.5m-3.5 2h1.5m-1.5 1h1.5m-4.5 2h1.5m66.5 2h1.5m-67.5 2h1.5m10.5 2h1.5m50.5 0h1.5m1.5 1h1.5m-59.5 1h1.5m-6.5 2h1.5m2.5 0h1.5m1.5 0h1.5m49.5 2h1.5m-56.5 1h1.5m-5.5 4h1.5m50.5 0h1.5m-53.5 2h1.5m-0.5 3h1.5m4.5 11h1.5" stroke="#ffb030" stroke-width="1.5"/>
<path d="M313 1093h1.5" stroke="#ff3030" stroke-width="1.5"/>
<rect x="237.0" y="932.0" width="280.3" height="280.0" fill="none" stroke="#444" stroke-width="1.6"/>
<path d="M345.8 932.0V1212.0M237.0 1041.5H517.3" stroke="#000" stroke-width="2.2"/>
<text x="246.4" y="948.9" font-size="16.71" textLength="59.1" lengthAdjust="spacingAndGlyphs" style="font-weight:bold">Q1:2.94</text>
<text x="451.0" y="948.9" font-size="16.71" textLength="59.1" lengthAdjust="spacingAndGlyphs" style="font-weight:bold">Q2:4.34</text>
<text x="246.4" y="1207.6" font-size="16.71" textLength="59.1" lengthAdjust="spacingAndGlyphs" style="font-weight:bold">Q4:50.0</text>
<text x="450.6" y="1207.6" font-size="16.71" textLength="59.1" lengthAdjust="spacingAndGlyphs" style="font-weight:bold">Q3:42.7</text>
<text x="319.9" y="1266.7" font-size="23.31" textLength="139.3" lengthAdjust="spacingAndGlyphs" style="font-weight:bold">CD4(PerCP)</text>
<text x="0" y="0" font-size="23.74" transform="translate(191.5,1156.0) rotate(-90)" textLength="126.3" lengthAdjust="spacingAndGlyphs" style="font-weight:bold">GITR(APC)</text>
<text x="233.5" y="1242.0" font-size="16.43" style="font-weight:bold">-10</text>
<text x="255.9" y="1232.7" font-size="11.43" style="font-weight:bold">3</text>
<text x="336.6" y="1242.0" font-size="16.43" style="font-weight:bold">10</text>
<text x="354.7" y="1232.7" font-size="11.43" style="font-weight:bold">3</text>
<text x="412.6" y="1242.0" font-size="16.43" style="font-weight:bold">10</text>
<text x="430.8" y="1232.7" font-size="11.59" style="font-weight:bold">4</text>
<text x="477.6" y="1242.0" font-size="16.43" style="font-weight:bold">10</text>
<text x="495.7" y="1232.7" font-size="11.59" style="font-weight:bold">5</text>
<text x="293.8" y="1242.0" font-size="16.43" style="font-weight:bold">0</text>
<text x="203.2" y="964.9" font-size="16.43" style="font-weight:bold">10</text>
<text x="220.7" y="955.9" font-size="12.61" style="font-weight:bold">5</text>
<text x="202.8" y="1029.9" font-size="16.43" style="font-weight:bold">10</text>
<text x="220.5" y="1020.9" font-size="12.61" style="font-weight:bold">4</text>
<text x="203.3" y="1105.8" font-size="16.43" style="font-weight:bold">10</text>
<text x="220.8" y="1096.8" font-size="12.43" style="font-weight:bold">3</text>
<text x="197.8" y="1204.6" font-size="16.43" style="font-weight:bold">-10</text>
<text x="220.8" y="1195.6" font-size="12.43" style="font-weight:bold">3</text>
<text x="211.4" y="1156.7" font-size="16.43" style="font-weight:bold">0</text>
<path d="M660.9 1211.0v4M604.5 1154.6h-4M670.8 1211.0v4M604.5 1144.7h-4M656.1 1211.0v4M604.5 1159.4h-4M675.9 1211.0v4M604.5 1139.6h-4M651.3 1211.0v4M604.5 1164.2h-4M681.0 1211.0v4M604.5 1134.5h-4M646.5 1211.0v4M604.5 1169.0h-4M686.1 1211.0v4M604.5 1129.4h-4M641.7 1211.0v4M604.5 1173.8h-4M691.2 1211.0v4M604.5 1124.3h-4M636.9 1211.0v4M604.5 1178.6h-4M696.3 1211.0v4M604.5 1119.2h-4M632.1 1211.0v4M604.5 1183.4h-4M701.4 1211.0v4M604.5 1114.1h-4M627.3 1211.0v4M604.5 1188.2h-4M706.5 1211.0v4M604.5 1109.0h-4M622.5 1211.0v4M604.5 1193.0h-4M711.6 1211.0v4M604.5 1103.9h-4M739.6 1211.0v4M604.5 1075.9h-4M753.0 1211.0v4M604.5 1062.5h-4M762.5 1211.0v4M604.5 1053.0h-4M769.8 1211.0v4M604.5 1045.7h-4M775.9 1211.0v4M604.5 1039.6h-4M780.9 1211.0v4M604.5 1034.6h-4M785.3 1211.0v4M604.5 1030.2h-4M789.2 1211.0v4M604.5 1026.3h-4M812.3 1211.0v4M604.5 1003.2h-4M823.8 1211.0v4M604.5 991.7h-4M831.9 1211.0v4M604.5 983.6h-4M838.2 1211.0v4M604.5 977.3h-4M843.4 1211.0v4M604.5 972.1h-4M847.7 1211.0v4M604.5 967.8h-4M851.5 1211.0v4M604.5 964.0h-4M854.8 1211.0v4M604.5 960.7h-4M877.4 1211.0v4M604.5 938.1h-4" stroke="#222" stroke-width="1.3" fill="none"/>
<path d="M617.7 1211.0v7M604.5 1197.8h-7M716.7 1211.0v7M604.5 1098.8h-7M792.7 1211.0v7M604.5 1022.8h-7M857.8 1211.0v7M604.5 957.7h-7" stroke="#111" stroke-width="2" fill="none"/>
<path d="M659.6 1211.0v6M604.5 1155.9h-6M661.1 1211.0v6M604.5 1154.4h-6M662.6 1211.0v7M604.5 1152.9h-7M664.1 1211.0v7M604.5 1151.4h-7M665.6 1211.0v7M604.5 1149.9h-7M667.1 1211.0v7M604.5 1148.4h-7M668.6 1211.0v7M604.5 1146.9h-7M670.1 1211.0v6M604.5 1145.4h-6M671.6 1211.0v6M604.5 1143.9h-6" stroke="#111" stroke-width="1.4" fill="none"/>
<path d="M715 985h1.5m12.5 3h1.5m-32.5 2h1.5m6.5 0h1.5m17.5 0h1.5m-30.5 1h1.5m30.5 0h1.5m-26.5 1h1.5m30.5 0h1.5m9.5 0h1.5m4.5 0h1.5m15.5 0h1.5m-118.5 1h1.5m47.5 0h1.5m2.5 0h1.5m-6.5 1h1.5m12.5 0h1.5m10.5 0h1.5m24.5 0h1.5m-65.5 1h1.5m2.5 0h1.5m18.5 0h1.5m3.5 0h1.5m-9.5 1h1.5m10.5 0h1.5m13.5 0h1.5m0.5 0h1.5m-14.5 1h1.5m8.5 0h1.5m1.5 0h1.5m2.5 1h1.5m-41.5 1h1.5m2.5 0h1.5m21.5 0h1.5m10.5 0h1.5m-0.5 0h1.5m-31.5 1h1.5m-0.5 0h1.5m10.5 0h1.5m1.5 0h1.5m14.5 0h1.5m5.5 0h1.5m12.5 0h1.5m-56.5 1h1.5m0.5 0h1.5m4.5 0h1.5m3.5 0h1.5m21.5 0h1.5m1.5 0h1.5m-61.5 1h1.5m44.5 0h1.5m13.5 0h1.5m-41.5 1h1.5m48.5 0h1.5m-47.5 1h1.5m66.5 0h1.5m0.5 0h1.5m-93.5 1h1.5m12.5 0h1.5m12.5 0h1.5m10.5 0h1.5m10.5 0h1.5m7.5 0h1.5m-45.5 1h1.5m15.5 0h1.5m12.5 0h1.5m-69.5 1h1.5m25.5 0h1.5m1.5 0h1.5m2.5 0h1.5m20.5 0h1.5m-42.5 1h1.5m14.5 0h1.5m14.5 0h1.5m0.5 0h1.5m10.5 0h1.5m9.5 0h1.5m0.5 0h1.5m16.5 0h1.5m-64.5 1h1.5m4.5 0h1.5m2.5 0h1.5m10.5 0h1.5m1.5 0h1.5m5.5 0h1.5m0.5 0h1.5m5.5 0h1.5m18.5 0h1.5m-70.5 1h1.5m6.5 0h1.5m3.5 0h1.5m18.5 0h1.5m6.5 0h1.5m5.5 0h1.5m-61.5 1h1.5m11.5 0h1.5m0.5 0h1.5m11.5 0h1.5m4.5 0h1.5m13.5 0h1.5m-0.5 0h1.5m13.5 0h1.5m0.5 0h1.5m0.5 0h1.5m0.5 0h1.5m27.5 0h1.5m-73.5 1h1.5m28.5 0h1.5m1.5 0h1.5m53.5 0h1.5m-112.5 1h1.5m38.5 0h1.5m5.5 0h1.5m6.5 0h1.5m41.5 0h1.5m-107.5 1h1.5m12.5 0h1.5m7.5 0h1.5m9.5 0h1.5m8.5 0h1.5m5.5 0h1.5m20.5 0h1.5m5.5 0h1.5m6.5 0h1.5m41.5 0h1.5m-120.5 1h1.5m13.5 0h1.5m-0.5 0h1.5m2.5 0h1.5m8.5 0h1.5m6.5 0h1.5m-50.5 1h1.5m14.5 0h1.5m20.5 0h1.5m10.5 0h1.5m2.5 0h1.5m2.5 0h1.5m9.5 0h1.5m2.5 0h1.5m26.5 0h1.5m1.5 0h1.5m-95.5 1h1.5m7.5 0h1.5m4.5 0h1.5m6.5 0h1.5m18.5 0h1.5m4.5 0h1.5m3.5 0h1.5m12.5 0h1.5m34.5 0h1.5m-89.5 1h1.5m4.5 0h1.5m0.5 0h1.5m19.5 0h1.5m35.5 0h1.5m16.5 0h1.5m1.5 0h1.5m-118.5 1h1.5m24.5 0h1.5m20.5 0h1.5m2.5 0h1.5m40.5 0h1.5m-0.5 0h1.5m16.5 0h1.5m-106.5 1h1.5m24.5 0h1.5m5.5 0h1.5m33.5 0h1.5m21.5 0h1.5m-95.5 1h1.5m0.5 0h1.5m51.5 0h1.5m2.5 0h1.5m47.5 0h1.5m-16.5 1h1.5m28.5 0h1.5m-97.5 1h1.5m-2.5 1h1.5m14.5 0h1.5m27.5 0h1.5m14.5 0h1.5m-45.5 1h1.5m26.5 0h1.5m37.5 0h1.5m-48.5 1h1.5m30.5 0h1.5m20.5 0h1.5m-12.5 1h1.5m-78.5 1h1.5m34.5 0h1.5m14.5 0h1.5m8.5 1h1.5m2.5 0h1.5m-0.5 3h1.5m9.5 0h1.5m-94.5 2h1.5m60.5 5h1.5m-24.5 10h1.5m2.5 6h1.5m-7.5 1h1.5m-50.5 4h1.5m14.5 5h1.5m23.5 0h1.5m20.5 0h1.5m-59.5 1h1.5m49.5 0h1.5m2.5 0h1.5m5.5 1h1.5m-3.5 1h1.5m-78.5 1h1.5m18.5 0h1.5m0.5 1h1.5m59.5 0h1.5m-59.5 1h1.5m66.5 0h1.5m-74.5 1h1.5m50.5 0h1.5m-19.5 1h1.5m16.5 1h1.5m-58.5 1h1.5m4.5 0h1.5m19.5 0h1.5m-28.5 2h1.5m3.5 0h1.5m-0.5 0h1.5m28.5 0h1.5m-0.5 1h1.5m-38.5 1h1.5m37.5 0h1.5m2.5 0h1.5m22.5 0h1.5m-56.5 1h1.5m2.5 0h1.5m34.5 0h1.5m6.5 0h1.5m5.5 0h1.5m-58.5 1h1.5m49.5 0h1.5m1.5 0h1.5m-29.5 1h1.5m24.5 0h1.5m13.5 0h1.5m-77.5 1h1.5m74.5 0h1.5m27.5 0h1.5m-112.5 1h1.5m6.5 0h1.5m4.5 0h1.5m45.5 0h1.5m11.5 0h1.5m-39.5 1h1.5m19.5 0h1.5m18.5 0h1.5m-63.5 1h1.5m35.5 0h1.5m-0.5 0h1.5m4.5 0h1.5m11.5 0h1.5m2.5 1h1.5m-0.5 0h1.5m-68.5 1h1.5m10.5 0h1.5m35.5 0h1.5m0.5 0h1.5m-56.5 1h1.5m8.5 0h1.5m22.5 0h1.5m14.5 0h1.5m-67.5 1h1.5m1.5 0h1.5m6.5 0h1.5m4.5 0h1.5m56.5 0h1.5m0.5 0h1.5m-72.5 1h1.5m12.5 0h1.5m63.5 0h1.5m-0.5 0h1.5m-77.5 1h1.5m12.5 0h1.5m4.5 0h1.5m0.5 0h1.5m30.5 0h1.5m1.5 0h1.5m5.5 0h1.5m-71.5 1h1.5m6.5 0h1.5m2.5 0h1.5m5.5 0h1.5m43.5 0h1.5m-45.5 1h1.5m-0.5 0h1.5m0.5 0h1.5m32.5 0h1.5m18.5 0h1.5m-65.5 1h1.5m8.5 0h1.5m4.5 0h1.5m15.5 0h1.5m10.5 0h1.5m-46.5 1h1.5m6.5 0h1.5m-0.5 0h1.5m23.5 0h1.5m8.5 0h1.5m15.5 0h1.5m-73.5 1h1.5m9.5 0h1.5m53.5 0h1.5m4.5 0h1.5m-76.5 1h1.5m14.5 0h1.5m-5.5 1h1.5m8.5 0h1.5m24.5 0h1.5m7.5 0h1.5m-0.5 0h1.5m9.5 0h1.5m5.5 0h1.5m-53.5 1h1.5m27.5 0h1.5m0.5 0h1.5m9.5 0h1.5m25.5 0h1.5m-84.5 1h1.5m17.5 0h1.5m35.5 0h1.5m3.5 0h1.5m4.5 0h1.5m0.5 0h1.5m-75.5 1h1.5m3.5 0h1.5m11.5 0h1.5m36.5 0h1.5m12.5 0h1.5m8.5 0h1.5m-86.5 1h1.5m3.5 0h1.5m5.5 0h1.5m7.5 0h1.5m6.5 0h1.5m14.5 0h1.5m21.5 0h1.5m10.5 0h1.5m-75.5 1h1.5m4.5 0h1.5m2.5 0h1.5m7.5 0h1.5m0.5 0h1.5m-28.5 1h1.5m3.5 0h1.5m3.5 0h1.5m2.5 0h1.5m-14.5 1h1.5m15.5 0h1.5m2.5 0h1.5m53.5 0h1.5m-59.5 1h1.5m-14.5 1h1.5m2.5 0h1.5m9.5 0h1.5m4.5 0h1.5m35.5 0h1.5m-59.5 1h1.5m6.5 0h1.5m14.5 0h1.5m2.5 0h1.5m37.5 0h1.5m1.5 0h1.5m-77.5 1h1.5m8.5 0h1.5m5.5 0h1.5m-0.5 0h1.5m2.5 0h1.5m-0.5 0h1.5m6.5 0h1.5m33.5 0h1.5m0.5 0h1.5m1.5 0h1.5m-63.5 1h1.5m1.5 0h1.5m4.5 0h1.5m38.5 0h1.5m14.5 0h1.5m-67.5 1h1.5m8.5 0h1.5m-0.5 0h1.5m3.5 0h1.5m29.5 0h1.5m-44.5 1h1.5m1.5 1h1.5m4.5 0h1.5m2.5 0h1.5m43.5 0h1.5m-51.5 1h1.5m-7.5 1h1.5m5.5 1h1.5m38.5 0h1.5m16.5 0h1.5m-70.5 1h1.5m-0.5 0h1.5m0.5 0h1.5m8.5 0h1.5m42.5 0h1.5m-69.5 1h1.5m81.5 0h1.5m-78.5 1h1.5m5.5 0h1.5m5.5 0h1.5m2.5 0h1.5m-12.5 1h1.5m8.5 0h1.5m3.5 0h1.5m1.5 0h1.5m2.5 0h1.5m28.5 0h1.5m-52.5 1h1.5m1.5 0h1.5m4.5 0h1.5m4.5 0h1.5m31.5 0h1.5m-60.5 1h1.5m4.5 1h1.5m3.5 0h1.5m-0.5 0h1.5m-18.5 1h1.5m8.5 0h1.5m1.5 0h1.5m6.5 0h1.5m1.5 0h1.5m1.5 1h1.5m-15.5 1h1.5m10.5 0h1.5m4.5 0h1.5m-19.5 1h1.5m-8.5 1h1.5m9.5 0h1.5m-14.5 1h1.5m11.5 0h1.5m0.5 0h1.5m-0.5 0h1.5m-3.5 1h1.5m9.5 0h1.5m2.5 0h1.5m-23.5 1h1.5m16.5 0h1.5m-3.5 1h1.5m-24.5 1h1.5m6.5 0h1.5m1.5 0h1.5m-0.5 0h1.5m1.5 0h1.5m-11.5 1h1.5m1.5 0h1.5m0.5 0h1.5m-1.5 2h1.5m4.5 0h1.5m-17.5 1h1.5m1.5 0h1.5m-4.5 1h1.5m3.5 0h1.5m-0.5 0h1.5m11.5 1h1.5m-6.5 1h1.5m8.5 0h1.5m-17.5 1h1.5m4.5 1h1.5m1.5 0h1.5m-13.5 1h1.5m9.5 1h1.5m-6.5 1h1.5m-4.5 2h1.5m6.5 1h1.5m-9.5 1h1.5m13.5 7h1.5m-16.5 4h1.5m7.5 0h1.5m32.5 4h1.5m-37.5 26h1.5" stroke="#6464ff" stroke-width="1.5"/>
<path d="M722 1001h1.5m-10.5 5h1.5m15.5 0h1.5m-4.5 3h1.5m-5.5 2h1.5m2.5 2h1.5m-52.5 84h1.5m22.5 6h1.5m-10.5 1h1.5m1.5 6h1.5m-6.5 5h1.5m2.5 7h1.5m3.5 2h1.5m-7.5 3h1.5" stroke="#ffb030" stroke-width="1.5"/>
<rect x="604.5" y="930.5" width="280.5" height="280.5" fill="none" stroke="#444" stroke-width="1.6"/>
<path d="M713.7 930.5V1211.0M604.5 1040.4H885.0" stroke="#000" stroke-width="2.2"/>
<text x="613.9" y="947.4" font-size="16.71" textLength="59.1" lengthAdjust="spacingAndGlyphs" style="font-weight:bold">Q1:12.7</text>
<text x="819.1" y="947.4" font-size="16.71" textLength="59.1" lengthAdjust="spacingAndGlyphs" style="font-weight:bold">Q2:38.8</text>
<text x="613.9" y="1206.6" font-size="16.71" textLength="59.1" lengthAdjust="spacingAndGlyphs" style="font-weight:bold">Q4:28.5</text>
<text x="818.2" y="1206.6" font-size="16.71" textLength="59.1" lengthAdjust="spacingAndGlyphs" style="font-weight:bold">Q3:19.9</text>
<text x="670.4" y="1268.5" font-size="22.76" textLength="138.4" lengthAdjust="spacingAndGlyphs" style="font-weight:bold">CD4(PerCP)</text>
<text x="0" y="0" font-size="23.85" transform="translate(559.6,1156.9) rotate(-90)" textLength="125.4" lengthAdjust="spacingAndGlyphs" style="font-weight:bold">GITR(APC)</text>
<text x="601.0" y="1241.0" font-size="16.43" style="font-weight:bold">-10</text>
<text x="623.4" y="1231.7" font-size="11.43" style="font-weight:bold">3</text>
<text x="704.2" y="1241.0" font-size="16.43" style="font-weight:bold">10</text>
<text x="722.3" y="1231.7" font-size="11.43" style="font-weight:bold">3</text>
<text x="780.2" y="1241.0" font-size="16.43" style="font-weight:bold">10</text>
<text x="798.4" y="1231.7" font-size="11.59" style="font-weight:bold">4</text>
<text x="845.3" y="1241.0" font-size="16.43" style="font-weight:bold">10</text>
<text x="863.3" y="1231.7" font-size="11.59" style="font-weight:bold">5</text>
<text x="661.4" y="1241.0" font-size="16.43" style="font-weight:bold">0</text>
<text x="570.7" y="963.5" font-size="16.43" style="font-weight:bold">10</text>
<text x="588.2" y="954.5" font-size="12.61" style="font-weight:bold">5</text>
<text x="570.3" y="1028.5" font-size="16.43" style="font-weight:bold">10</text>
<text x="588.0" y="1019.5" font-size="12.61" style="font-weight:bold">4</text>
<text x="570.8" y="1104.5" font-size="16.43" style="font-weight:bold">10</text>
<text x="588.3" y="1095.5" font-size="12.43" style="font-weight:bold">3</text>
<text x="565.3" y="1203.6" font-size="16.43" style="font-weight:bold">-10</text>
<text x="588.3" y="1194.6" font-size="12.43" style="font-weight:bold">3</text>
<text x="578.9" y="1155.6" font-size="16.43" style="font-weight:bold">0</text>
<path d="M297.1 1577.9v4M240.9 1521.6h-4M307.0 1577.9v4M240.9 1511.8h-4M292.3 1577.9v4M240.9 1526.4h-4M312.1 1577.9v4M240.9 1506.7h-4M287.6 1577.9v4M240.9 1531.2h-4M317.2 1577.9v4M240.9 1501.6h-4M282.8 1577.9v4M240.9 1536.0h-4M322.3 1577.9v4M240.9 1496.5h-4M278.0 1577.9v4M240.9 1540.8h-4M327.4 1577.9v4M240.9 1491.4h-4M273.2 1577.9v4M240.9 1545.6h-4M332.5 1577.9v4M240.9 1486.3h-4M268.4 1577.9v4M240.9 1550.4h-4M337.6 1577.9v4M240.9 1481.2h-4M263.6 1577.9v4M240.9 1555.2h-4M342.7 1577.9v4M240.9 1476.1h-4M258.8 1577.9v4M240.9 1560.0h-4M347.8 1577.9v4M240.9 1471.0h-4M375.7 1577.9v4M240.9 1443.1h-4M389.1 1577.9v4M240.9 1429.7h-4M398.5 1577.9v4M240.9 1420.2h-4M405.9 1577.9v4M240.9 1412.9h-4M411.9 1577.9v4M240.9 1406.9h-4M417.0 1577.9v4M240.9 1401.8h-4M421.4 1577.9v4M240.9 1397.4h-4M425.2 1577.9v4M240.9 1393.5h-4M448.3 1577.9v4M240.9 1370.5h-4M459.7 1577.9v4M240.9 1359.0h-4M467.8 1577.9v4M240.9 1350.9h-4M474.1 1577.9v4M240.9 1344.6h-4M479.2 1577.9v4M240.9 1339.5h-4M483.6 1577.9v4M240.9 1335.1h-4M487.4 1577.9v4M240.9 1331.4h-4M490.7 1577.9v4M240.9 1328.0h-4M513.2 1577.9v4M240.9 1305.5h-4" stroke="#222" stroke-width="1.3" fill="none"/>
<path d="M254.1 1577.9v7M240.9 1564.7h-7M352.9 1577.9v7M240.9 1465.9h-7M428.7 1577.9v7M240.9 1390.0h-7M493.6 1577.9v7M240.9 1325.1h-7" stroke="#111" stroke-width="2" fill="none"/>
<path d="M295.9 1577.9v6M240.9 1522.9h-6M297.4 1577.9v6M240.9 1521.4h-6M298.9 1577.9v7M240.9 1519.9h-7M300.4 1577.9v7M240.9 1518.4h-7M301.9 1577.9v7M240.9 1516.9h-7M303.4 1577.9v7M240.9 1515.4h-7M304.9 1577.9v7M240.9 1513.9h-7M306.4 1577.9v6M240.9 1512.4h-6M307.9 1577.9v6M240.9 1510.9h-6" stroke="#111" stroke-width="1.4" fill="none"/>
<path d="M346 1328h1.5m-7.5 2h1.5m-13.5 5h1.5m6.5 1h1.5m-18.5 5h1.5m25.5 0h1.5m29.5 0h1.5m-79.5 1h1.5m21.5 0h1.5m-25.5 1h1.5m25.5 1h1.5m-0.5 0h1.5m15.5 0h1.5m5.5 0h1.5m-15.5 1h1.5m29.5 1h1.5m-37.5 1h1.5m5.5 0h1.5m7.5 0h1.5m-0.5 0h1.5m18.5 0h1.5m28.5 0h1.5m-60.5 1h1.5m-28.5 2h1.5m25.5 0h1.5m-45.5 1h1.5m24.5 0h1.5m15.5 0h1.5m12.5 0h1.5m-0.5 0h1.5m7.5 0h1.5m8.5 0h1.5m-57.5 1h1.5m23.5 1h1.5m-9.5 1h1.5m9.5 1h1.5m1.5 0h1.5m-50.5 1h1.5m3.5 0h1.5m36.5 0h1.5m-74.5 1h1.5m31.5 0h1.5m73.5 0h1.5m-27.5 1h1.5m2.5 0h1.5m8.5 0h1.5m-63.5 1h1.5m71.5 1h1.5m2.5 0h1.5m27.5 0h1.5m-53.5 1h1.5m37.5 0h1.5m-125.5 1h1.5m33.5 0h1.5m41.5 0h1.5m27.5 0h1.5m-22.5 1h1.5m11.5 0h1.5m-23.5 1h1.5m17.5 0h1.5m-32.5 2h1.5m16.5 0h1.5m10.5 0h1.5m-98.5 1h1.5m5.5 0h1.5m28.5 0h1.5m-20.5 1h1.5m2.5 0h1.5m15.5 1h1.5m8.5 0h1.5m19.5 0h1.5m38.5 0h1.5m-102.5 1h1.5m92.5 0h1.5m-7.5 1h1.5m-31.5 1h1.5m6.5 0h1.5m-0.5 0h1.5m0.5 0h1.5m-16.5 1h1.5m41.5 0h1.5m-70.5 1h1.5m5.5 0h1.5m97.5 0h1.5m-50.5 1h1.5m4.5 0h1.5m-70.5 2h1.5m19.5 1h1.5m73.5 0h1.5m-111.5 1h1.5m39.5 2h1.5m56.5 0h1.5m-17.5 3h1.5m-12.5 1h1.5m-79.5 4h1.5m121.5 0h1.5m-6.5 1h1.5m-43.5 1h1.5m-54.5 1h1.5m16.5 0h1.5m4.5 0h1.5m1.5 1h1.5m40.5 0h1.5m35.5 2h1.5m-53.5 1h1.5m17.5 0h1.5m-17.5 6h1.5m36.5 1h1.5m-46.5 1h1.5m-72.5 3h1.5m2.5 0h1.5m97.5 0h1.5m-4.5 2h1.5m-68.5 1h1.5m39.5 0h1.5m7.5 1h1.5m11.5 0h1.5m3.5 0h1.5m-0.5 0h1.5m-11.5 1h1.5m6.5 1h1.5m-8.5 1h1.5m4.5 0h1.5m-13.5 1h1.5m-60.5 1h1.5m10.5 0h1.5m53.5 0h1.5m2.5 0h1.5m1.5 0h1.5m-78.5 1h1.5m21.5 0h1.5m-16.5 1h1.5m7.5 0h1.5m48.5 1h1.5m-69.5 1h1.5m-0.5 0h1.5m53.5 0h1.5m11.5 0h1.5m5.5 0h1.5m6.5 0h1.5m-51.5 1h1.5m-31.5 1h1.5m57.5 0h1.5m-57.5 1h1.5m0.5 0h1.5m60.5 0h1.5m9.5 0h1.5m-58.5 1h1.5m30.5 0h1.5m1.5 0h1.5m1.5 0h1.5m4.5 0h1.5m-58.5 1h1.5m-0.5 0h1.5m4.5 0h1.5m39.5 0h1.5m15.5 0h1.5m2.5 0h1.5m-0.5 0h1.5m-63.5 1h1.5m32.5 0h1.5m15.5 0h1.5m-17.5 1h1.5m2.5 0h1.5m2.5 0h1.5m15.5 0h1.5m-65.5 1h1.5m-0.5 0h1.5m59.5 0h1.5m-61.5 1h1.5m3.5 0h1.5m37.5 0h1.5m17.5 0h1.5m-75.5 1h1.5m7.5 0h1.5m2.5 0h1.5m37.5 0h1.5m-49.5 1h1.5m3.5 0h1.5m54.5 0h1.5m4.5 0h1.5m10.5 0h1.5m18.5 0h1.5m-105.5 1h1.5m12.5 0h1.5m8.5 0h1.5m26.5 0h1.5m8.5 0h1.5m3.5 0h1.5m-0.5 0h1.5m-0.5 0h1.5m-77.5 1h1.5m23.5 0h1.5m26.5 0h1.5m19.5 0h1.5m4.5 0h1.5m-63.5 1h1.5m10.5 0h1.5m6.5 0h1.5m14.5 0h1.5m0.5 0h1.5m0.5 0h1.5m15.5 0h1.5m-81.5 1h1.5m11.5 0h1.5m-0.5 0h1.5m12.5 0h1.5m1.5 0h1.5m3.5 0h1.5m31.5 0h1.5m12.5 0h1.5m3.5 0h1.5m-81.5 1h1.5m-0.5 0h1.5m-0.5 0h1.5m6.5 0h1.5m4.5 0h1.5m1.5 0h1.5m8.5 0h1.5m24.5 0h1.5m4.5 0h1.5m7.5 0h1.5m-79.5 1h1.5m8.5 0h1.5m-0.5 0h1.5m-0.5 0h1.5m1.5 0h1.5m4.5 0h1.5m5.5 0h1.5m3.5 0h1.5m33.5 0h1.5m-0.5 0h1.5m4.5 0h1.5m-60.5 1h1.5m16.5 0h1.5m19.5 0h1.5m10.5 0h1.5m-0.5 0h1.5m3.5 0h1.5m3.5 0h1.5m4.5 0h1.5m-77.5 1h1.5m-0.5 0h1.5m26.5 0h1.5m0.5 0h1.5m17.5 0h1.5m23.5 0h1.5m9.5 0h1.5m-74.5 1h1.5m6.5 0h1.5m1.5 0h1.5m-0.5 0h1.5m3.5 0h1.5m32.5 0h1.5m-0.5 0h1.5m15.5 0h1.5m-0.5 0h1.5m1.5 0h1.5m-96.5 1h1.5m3.5 0h1.5m1.5 0h1.5m14.5 0h1.5m-0.5 0h1.5m37.5 0h1.5m12.5 0h1.5m0.5 0h1.5m-76.5 1h1.5m7.5 0h1.5m1.5 0h1.5m0.5 0h1.5m1.5 0h1.5m14.5 0h1.5m-0.5 0h1.5m19.5 0h1.5m3.5 0h1.5m23.5 0h1.5m8.5 0h1.5m-84.5 1h1.5m52.5 0h1.5m0.5 0h1.5m1.5 0h1.5m4.5 0h1.5m0.5 0h1.5m1.5 0h1.5m1.5 0h1.5m-86.5 1h1.5m8.5 0h1.5m13.5 0h1.5m1.5 0h1.5m24.5 0h1.5m16.5 0h1.5m1.5 0h1.5m5.5 0h1.5m-71.5 1h1.5m4.5 0h1.5m-0.5 0h1.5m0.5 0h1.5m-0.5 0h1.5m-0.5 0h1.5m0.5 0h1.5m38.5 0h1.5m1.5 0h1.5m-0.5 0h1.5m4.5 0h1.5m10.5 0h1.5m-0.5 0h1.5m-0.5 0h1.5m4.5 0h1.5m-98.5 1h1.5m0.5 0h1.5m18.5 0h1.5m43.5 0h1.5m3.5 0h1.5m5.5 0h1.5m1.5 0h1.5m-75.5 1h1.5m0.5 0h1.5m2.5 0h1.5m1.5 0h1.5m9.5 0h1.5m35.5 0h1.5m0.5 0h1.5m-0.5 0h1.5m7.5 0h1.5m0.5 0h1.5m0.5 0h1.5m2.5 0h1.5m-79.5 1h1.5m6.5 0h1.5m-0.5 0h1.5m-0.5 0h1.5m11.5 0h1.5m2.5 0h1.5m30.5 0h1.5m2.5 0h1.5m2.5 0h1.5m-0.5 0h1.5m5.5 0h1.5m1.5 0h1.5m-0.5 0h1.5m3.5 0h1.5m-86.5 1h1.5m0.5 0h1.5m1.5 0h1.5m3.5 0h1.5m-0.5 0h1.5m11.5 0h1.5m7.5 0h1.5m30.5 0h1.5m6.5 0h1.5m6.5 0h1.5m-81.5 1h1.5m5.5 0h1.5m-0.5 0h1.5m-0.5 0h1.5m1.5 0h1.5m5.5 0h1.5m10.5 0h1.5m19.5 0h1.5m6.5 0h1.5m-75.5 1h1.5m12.5 0h1.5m6.5 0h1.5m-0.5 0h1.5m0.5 0h1.5m5.5 0h1.5m2.5 0h1.5m25.5 0h1.5m5.5 0h1.5m-0.5 0h1.5m-0.5 0h1.5m-0.5 0h1.5m7.5 0h1.5m8.5 0h1.5m-92.5 1h1.5m5.5 0h1.5m4.5 0h1.5m-0.5 0h1.5m10.5 0h1.5m7.5 0h1.5m0.5 0h1.5m25.5 0h1.5m12.5 0h1.5m8.5 0h1.5m1.5 0h1.5m-0.5 0h1.5m5.5 0h1.5m-78.5 1h1.5m-0.5 0h1.5m1.5 0h1.5m2.5 0h1.5m3.5 0h1.5m24.5 0h1.5m5.5 0h1.5m-0.5 0h1.5m0.5 0h1.5m1.5 0h1.5m8.5 0h1.5m9.5 0h1.5m1.5 0h1.5m-93.5 1h1.5m0.5 0h1.5m9.5 0h1.5m1.5 0h1.5m-0.5 0h1.5m1.5 0h1.5m12.5 0h1.5m2.5 0h1.5m18.5 0h1.5m4.5 0h1.5m6.5 0h1.5m4.5 0h1.5m1.5 0h1.5m3.5 0h1.5m9.5 0h1.5m-99.5 1h1.5m6.5 0h1.5m11.5 0h1.5m9.5 0h1.5m16.5 0h1.5m-0.5 0h1.5m12.5 0h1.5m-0.5 0h1.5m-0.5 0h1.5m6.5 0h1.5m-0.5 0h1.5m4.5 0h1.5m0.5 0h1.5m3.5 0h1.5m2.5 0h1.5m-88.5 1h1.5m6.5 0h1.5m0.5 0h1.5m9.5 0h1.5m0.5 0h1.5m0.5 0h1.5m-0.5 0h1.5m19.5 0h1.5m1.5 0h1.5m3.5 0h1.5m0.5 0h1.5m2.5 0h1.5m4.5 0h1.5m6.5 0h1.5m4.5 0h1.5m2.5 0h1.5m0.5 0h1.5m-95.5 1h1.5m12.5 0h1.5m0.5 0h1.5m1.5 0h1.5m2.5 0h1.5m1.5 0h1.5m9.5 0h1.5m26.5 0h1.5m6.5 0h1.5m28.5 0h1.5m-99.5 1h1.5m5.5 0h1.5m-0.5 0h1.5m0.5 0h1.5m-0.5 0h1.5m-0.5 0h1.5m-0.5 0h1.5m6.5 0h1.5m-0.5 0h1.5m35.5 0h1.5m18.5 0h1.5m11.5 0h1.5m-86.5 1h1.5m1.5 0h1.5m0.5 0h1.5m4.5 0h1.5m2.5 0h1.5m-0.5 0h1.5m37.5 0h1.5m0.5 0h1.5m2.5 0h1.5m-0.5 0h1.5m0.5 0h1.5m6.5 0h1.5m1.5 0h1.5m9.5 0h1.5m-97.5 1h1.5m2.5 0h1.5m-0.5 0h1.5m2.5 0h1.5m13.5 0h1.5m1.5 0h1.5m1.5 0h1.5m23.5 0h1.5m11.5 0h1.5m0.5 0h1.5m1.5 0h1.5m-0.5 0h1.5m0.5 0h1.5m0.5 0h1.5m-80.5 1h1.5m11.5 0h1.5m1.5 0h1.5m-0.5 0h1.5m0.5 0h1.5m32.5 0h1.5m9.5 0h1.5m5.5 0h1.5m-0.5 0h1.5m7.5 0h1.5m0.5 0h1.5m0.5 0h1.5m1.5 0h1.5m-83.5 1h1.5m7.5 0h1.5m4.5 0h1.5m-0.5 0h1.5m-0.5 0h1.5m-0.5 0h1.5m7.5 0h1.5m5.5 0h1.5m19.5 0h1.5m-0.5 0h1.5m3.5 0h1.5m5.5 0h1.5m0.5 0h1.5m4.5 0h1.5m3.5 0h1.5m1.5 0h1.5m-89.5 1h1.5m4.5 0h1.5m0.5 0h1.5m1.5 0h1.5m6.5 0h1.5m0.5 0h1.5m-0.5 0h1.5m-0.5 0h1.5m7.5 0h1.5m26.5 0h1.5m13.5 0h1.5m3.5 0h1.5m1.5 0h1.5m-0.5 0h1.5m7.5 0h1.5m3.5 0h1.5m-109.5 1h1.5m11.5 0h1.5m1.5 0h1.5m-0.5 0h1.5m0.5 0h1.5m-0.5 0h1.5m2.5 0h1.5m5.5 0h1.5m2.5 0h1.5m-0.5 0h1.5m0.5 0h1.5m20.5 0h1.5m12.5 0h1.5m-0.5 0h1.5m5.5 0h1.5m-0.5 0h1.5m1.5 0h1.5m7.5 0h1.5m-88.5 1h1.5m0.5 0h1.5m3.5 0h1.5m3.5 0h1.5m1.5 0h1.5m1.5 0h1.5m-0.5 0h1.5m-0.5 0h1.5m-0.5 0h1.5m-0.5 0h1.5m-0.5 0h1.5m0.5 0h1.5m3.5 0h1.5m0.5 0h1.5m26.5 0h1.5m3.5 0h1.5m1.5 0h1.5m9.5 0h1.5m0.5 0h1.5m2.5 0h1.5m2.5 0h1.5m-98.5 1h1.5m-0.5 0h1.5m5.5 0h1.5m4.5 0h1.5m3.5 0h1.5m-0.5 0h1.5m-0.5 0h1.5m7.5 0h1.5m-0.5 0h1.5m1.5 0h1.5m-0.5 0h1.5m35.5 0h1.5m7.5 0h1.5m0.5 0h1.5m6.5 0h1.5m1.5 0h1.5m-80.5 1h1.5m3.5 0h1.5m4.5 0h1.5m0.5 0h1.5m3.5 0h1.5m1.5 0h1.5m2.5 0h1.5m18.5 0h1.5m15.5 0h1.5m3.5 0h1.5m0.5 0h1.5m-0.5 0h1.5m1.5 0h1.5m6.5 0h1.5m-87.5 1h1.5m1.5 0h1.5m6.5 0h1.5m1.5 0h1.5m-0.5 0h1.5m-0.5 0h1.5m4.5 0h1.5m3.5 0h1.5m-0.5 0h1.5m35.5 0h1.5m-0.5 0h1.5m-0.5 0h1.5m-0.5 0h1.5m0.5 0h1.5m4.5 0h1.5m7.5 0h1.5m-0.5 0h1.5m7.5 0h1.5m-105.5 1h1.5m0.5 0h1.5m0.5 0h1.5m0.5 0h1.5m0.5 0h1.5m15.5 0h1.5m7.5 0h1.5m3.5 0h1.5m-0.5 0h1.5m-0.5 0h1.5m21.5 0h1.5m0.5 0h1.5m-0.5 0h1.5m5.5 0h1.5m2.5 0h1.5m2.5 0h1.5m9.5 0h1.5m4.5 0h1.5m-100.5 1h1.5m10.5 0h1.5m0.5 0h1.5m1.5 0h1.5m9.5 0h1.5m2.5 0h1.5m0.5 0h1.5m6.5 0h1.5m1.5 0h1.5m26.5 0h1.5m2.5 0h1.5m-0.5 0h1.5m-0.5 0h1.5m-0.5 0h1.5m0.5 0h1.5m8.5 0h1.5m-73.5 1h1.5m2.5 0h1.5m14.5 0h1.5m1.5 0h1.5m14.5 0h1.5m9.5 0h1.5m5.5 0h1.5m3.5 0h1.5m2.5 0h1.5m0.5 0h1.5m0.5 0h1.5m12.5 0h1.5m1.5 0h1.5m-102.5 1h1.5m6.5 0h1.5m0.5 0h1.5m7.5 0h1.5m1.5 0h1.5m6.5 0h1.5m32.5 0h1.5m4.5 0h1.5m4.5 0h1.5m0.5 0h1.5m6.5 0h1.5m-0.5 0h1.5m0.5 0h1.5m0.5 0h1.5m2.5 0h1.5m-100.5 1h1.5m9.5 0h1.5m2.5 0h1.5m2.5 0h1.5m7.5 0h1.5m0.5 0h1.5m0.5 0h1.5m8.5 0h1.5m29.5 0h1.5m3.5 0h1.5m-0.5 0h1.5m4.5 0h1.5m4.5 0h1.5m0.5 0h1.5m0.5 0h1.5m-90.5 1h1.5m0.5 0h1.5m5.5 0h1.5m-0.5 0h1.5m1.5 0h1.5m-0.5 0h1.5m0.5 0h1.5m-0.5 0h1.5m5.5 0h1.5m-0.5 0h1.5m3.5 0h1.5m19.5 0h1.5m1.5 0h1.5m4.5 0h1.5m3.5 0h1.5m5.5 0h1.5m0.5 0h1.5m1.5 0h1.5m4.5 0h1.5m12.5 0h1.5m-108.5 1h1.5m5.5 0h1.5m4.5 0h1.5m2.5 0h1.5m3.5 0h1.5m1.5 0h1.5m3.5 0h1.5m1.5 0h1.5m5.5 0h1.5m32.5 0h1.5m0.5 0h1.5m1.5 0h1.5m-0.5 0h1.5m-0.5 0h1.5m0.5 0h1.5m3.5 0h1.5m-0.5 0h1.5m4.5 0h1.5m-85.5 1h1.5m4.5 0h1.5m0.5 0h1.5m0.5 0h1.5m4.5 0h1.5m0.5 0h1.5m-0.5 0h1.5m1.5 0h1.5m-0.5 0h1.5m6.5 0h1.5m21.5 0h1.5m4.5 0h1.5m6.5 0h1.5m-0.5 0h1.5m-0.5 0h1.5m-0.5 0h1.5m-0.5 0h1.5m-0.5 0h1.5m0.5 0h1.5m0.5 0h1.5m-0.5 0h1.5m-95.5 1h1.5m16.5 0h1.5m1.5 0h1.5m-0.5 0h1.5m-0.5 0h1.5m3.5 0h1.5m0.5 0h1.5m0.5 0h1.5m-0.5 0h1.5m4.5 0h1.5m25.5 0h1.5m1.5 0h1.5m14.5 0h1.5m0.5 0h1.5m-0.5 0h1.5m0.5 0h1.5m-0.5 0h1.5m-0.5 0h1.5m3.5 0h1.5m11.5 0h1.5m-96.5 1h1.5m8.5 0h1.5m0.5 0h1.5m-0.5 0h1.5m-0.5 0h1.5m8.5 0h1.5m40.5 0h1.5m2.5 0h1.5m1.5 0h1.5m1.5 0h1.5m2.5 0h1.5m3.5 0h1.5m3.5 0h1.5m-93.5 1h1.5m1.5 0h1.5m0.5 0h1.5m4.5 0h1.5m3.5 0h1.5m3.5 0h1.5m1.5 0h1.5m0.5 0h1.5m3.5 0h1.5m4.5 0h1.5m13.5 0h1.5m7.5 0h1.5m6.5 0h1.5m-0.5 0h1.5m0.5 0h1.5m2.5 0h1.5m0.5 0h1.5m0.5 0h1.5m5.5 0h1.5m-89.5 1h1.5m8.5 0h1.5m0.5 0h1.5m-0.5 0h1.5m1.5 0h1.5m-0.5 0h1.5m-0.5 0h1.5m5.5 0h1.5m1.5 0h1.5m-0.5 0h1.5m3.5 0h1.5m-0.5 0h1.5m21.5 0h1.5m5.5 0h1.5m2.5 0h1.5m-0.5 0h1.5m7.5 0h1.5m-0.5 0h1.5m3.5 0h1.5m-78.5 1h1.5m4.5 0h1.5m2.5 0h1.5m-0.5 0h1.5m0.5 0h1.5m3.5 0h1.5m2.5 0h1.5m5.5 0h1.5m18.5 0h1.5m0.5 0h1.5m0.5 0h1.5m14.5 0h1.5m-0.5 0h1.5m2.5 0h1.5m2.5 0h1.5m2.5 0h1.5m-84.5 1h1.5m0.5 0h1.5m1.5 0h1.5m12.5 0h1.5m0.5 0h1.5m3.5 0h1.5m26.5 0h1.5m4.5 0h1.5m1.5 0h1.5m7.5 0h1.5m0.5 0h1.5m-0.5 0h1.5m10.5 0h1.5m-0.5 0h1.5m5.5 0h1.5m-89.5 1h1.5m1.5 0h1.5m-0.5 0h1.5m5.5 0h1.5m0.5 0h1.5m1.5 0h1.5m0.5 0h1.5m-0.5 0h1.5m22.5 0h1.5m0.5 0h1.5m1.5 0h1.5m0.5 0h1.5m0.5 0h1.5m2.5 0h1.5m1.5 0h1.5m0.5 0h1.5m-0.5 0h1.5m-0.5 0h1.5m-0.5 0h1.5m2.5 0h1.5m-0.5 0h1.5m0.5 0h1.5m2.5 0h1.5m-81.5 1h1.5m-0.5 0h1.5m6.5 0h1.5m-0.5 0h1.5m-0.5 0h1.5m1.5 0h1.5m-0.5 0h1.5m1.5 0h1.5m1.5 0h1.5m1.5 0h1.5m23.5 0h1.5m0.5 0h1.5m0.5 0h1.5m8.5 0h1.5m4.5 0h1.5m16.5 0h1.5m-96.5 1h1.5m7.5 0h1.5m-0.5 0h1.5m9.5 0h1.5m1.5 0h1.5m7.5 0h1.5m-0.5 0h1.5m17.5 0h1.5m28.5 0h1.5m4.5 0h1.5m4.5 0h1.5m-81.5 1h1.5m0.5 0h1.5m4.5 0h1.5m-0.5 0h1.5m0.5 0h1.5m0.5 0h1.5m-0.5 0h1.5m9.5 0h1.5m12.5 0h1.5m9.5 0h1.5m0.5 0h1.5m0.5 0h1.5m0.5 0h1.5m6.5 0h1.5m-0.5 0h1.5m-0.5 0h1.5m7.5 0h1.5m1.5 0h1.5m0.5 0h1.5m-88.5 1h1.5m1.5 0h1.5m2.5 0h1.5m-0.5 0h1.5m-0.5 0h1.5m-0.5 0h1.5m-0.5 0h1.5m1.5 0h1.5m-0.5 0h1.5m0.5 0h1.5m-0.5 0h1.5m1.5 0h1.5m17.5 0h1.5m18.5 0h1.5m1.5 0h1.5m3.5 0h1.5m1.5 0h1.5m-0.5 0h1.5m6.5 0h1.5m-85.5 1h1.5m6.5 0h1.5m-0.5 0h1.5m1.5 0h1.5m-0.5 0h1.5m1.5 0h1.5m2.5 0h1.5m-0.5 0h1.5m1.5 0h1.5m-0.5 0h1.5m33.5 0h1.5m4.5 0h1.5m-0.5 0h1.5m4.5 0h1.5m5.5 0h1.5m13.5 0h1.5m-86.5 1h1.5m2.5 0h1.5m0.5 0h1.5m-0.5 0h1.5m-0.5 0h1.5m2.5 0h1.5m26.5 0h1.5m14.5 0h1.5m4.5 0h1.5m1.5 0h1.5m0.5 0h1.5m1.5 0h1.5m2.5 0h1.5m-87.5 1h1.5m2.5 0h1.5m-0.5 0h1.5m4.5 0h1.5m0.5 0h1.5m-0.5 0h1.5m0.5 0h1.5m-0.5 0h1.5m-0.5 0h1.5m6.5 0h1.5m9.5 0h1.5m14.5 0h1.5m0.5 0h1.5m3.5 0h1.5m-0.5 0h1.5m11.5 0h1.5m10.5 0h1.5m-80.5 1h1.5m-0.5 0h1.5m1.5 0h1.5m-0.5 0h1.5m-0.5 0h1.5m4.5 0h1.5m0.5 0h1.5m2.5 0h1.5m25.5 0h1.5m6.5 0h1.5m4.5 0h1.5m-0.5 0h1.5m3.5 0h1.5m5.5 0h1.5m-0.5 0h1.5m9.5 0h1.5m-84.5 1h1.5m-0.5 0h1.5m-0.5 0h1.5m-0.5 0h1.5m-0.5 0h1.5m3.5 0h1.5m0.5 0h1.5m1.5 0h1.5m0.5 0h1.5m7.5 0h1.5m-0.5 0h1.5m20.5 0h1.5m3.5 0h1.5m-0.5 0h1.5m10.5 0h1.5m-0.5 0h1.5m0.5 0h1.5m0.5 0h1.5m-0.5 0h1.5m1.5 0h1.5m1.5 0h1.5m0.5 0h1.5m5.5 0h1.5m-100.5 1h1.5m2.5 0h1.5m1.5 0h1.5m12.5 0h1.5m-0.5 0h1.5m2.5 0h1.5m-0.5 0h1.5m1.5 0h1.5m29.5 0h1.5m0.5 0h1.5m4.5 0h1.5m1.5 0h1.5m-0.5 0h1.5m0.5 0h1.5m0.5 0h1.5m1.5 0h1.5m-0.5 0h1.5m-80.5 1h1.5m4.5 0h1.5m-0.5 0h1.5m5.5 0h1.5m2.5 0h1.5m1.5 0h1.5m-0.5 0h1.5m10.5 0h1.5m23.5 0h1.5m2.5 0h1.5m1.5 0h1.5m0.5 0h1.5m8.5 0h1.5m8.5 0h1.5m-0.5 0h1.5m5.5 0h1.5m-94.5 1h1.5m2.5 0h1.5m1.5 0h1.5m-0.5 0h1.5m0.5 0h1.5m4.5 0h1.5m-0.5 0h1.5m4.5 0h1.5m4.5 0h1.5m5.5 0h1.5m21.5 0h1.5m8.5 0h1.5m0.5 0h1.5m9.5 0h1.5m-0.5 0h1.5m10.5 0h1.5m-84.5 1h1.5m0.5 0h1.5m-0.5 0h1.5m0.5 0h1.5m-0.5 0h1.5m-0.5 0h1.5m-0.5 0h1.5m5.5 0h1.5m0.5 0h1.5m1.5 0h1.5m28.5 0h1.5m3.5 0h1.5m-0.5 0h1.5m-0.5 0h1.5m3.5 0h1.5m-0.5 0h1.5m0.5 0h1.5m0.5 0h1.5m-83.5 1h1.5m3.5 0h1.5m3.5 0h1.5m2.5 0h1.5m4.5 0h1.5m6.5 0h1.5m6.5 0h1.5m27.5 0h1.5m1.5 0h1.5m8.5 0h1.5m1.5 0h1.5m2.5 0h1.5m4.5 0h1.5m-93.5 1h1.5m7.5 0h1.5m-0.5 0h1.5m6.5 0h1.5m1.5 0h1.5m4.5 0h1.5m2.5 0h1.5m33.5 0h1.5m2.5 0h1.5m0.5 0h1.5m14.5 0h1.5m-0.5 0h1.5m1.5 0h1.5m-93.5 1h1.5m4.5 0h1.5m2.5 0h1.5m0.5 0h1.5m0.5 0h1.5m2.5 0h1.5m-0.5 0h1.5m1.5 0h1.5m3.5 0h1.5m-0.5 0h1.5m-0.5 0h1.5m5.5 0h1.5m1.5 0h1.5m0.5 0h1.5m7.5 0h1.5m9.5 0h1.5m1.5 0h1.5m13.5 0h1.5m-0.5 0h1.5m10.5 0h1.5m-85.5 1h1.5m8.5 0h1.5m6.5 0h1.5m7.5 0h1.5m37.5 0h1.5m8.5 0h1.5m-81.5 1h1.5m14.5 0h1.5m2.5 0h1.5m0.5 0h1.5m0.5 0h1.5m0.5 0h1.5m1.5 0h1.5m35.5 0h1.5m3.5 0h1.5m1.5 0h1.5m0.5 0h1.5m-74.5 1h1.5m8.5 0h1.5m0.5 0h1.5m0.5 0h1.5m-0.5 0h1.5m1.5 0h1.5m2.5 0h1.5m-0.5 0h1.5m1.5 0h1.5m39.5 0h1.5m0.5 0h1.5m1.5 0h1.5m-0.5 0h1.5m-0.5 0h1.5m0.5 0h1.5m0.5 0h1.5m2.5 0h1.5m-0.5 0h1.5m-80.5 1h1.5m-0.5 0h1.5m7.5 0h1.5m-0.5 0h1.5m3.5 0h1.5m11.5 0h1.5m19.5 0h1.5m-0.5 0h1.5m24.5 0h1.5m10.5 0h1.5m-93.5 1h1.5m11.5 0h1.5m5.5 0h1.5m-0.5 0h1.5m-0.5 0h1.5m24.5 0h1.5m-0.5 0h1.5m11.5 0h1.5m9.5 0h1.5m13.5 0h1.5m-0.5 0h1.5m-99.5 1h1.5m18.5 0h1.5m2.5 0h1.5m0.5 0h1.5m0.5 0h1.5m30.5 0h1.5m13.5 0h1.5m2.5 0h1.5m-67.5 1h1.5m4.5 0h1.5m1.5 0h1.5m8.5 0h1.5m30.5 0h1.5m16.5 0h1.5m2.5 0h1.5m1.5 0h1.5m-80.5 1h1.5m6.5 0h1.5m-0.5 0h1.5m0.5 0h1.5m6.5 0h1.5m63.5 0h1.5m-94.5 1h1.5m7.5 0h1.5m2.5 0h1.5m-0.5 0h1.5m2.5 0h1.5m1.5 0h1.5m3.5 0h1.5m1.5 0h1.5m2.5 0h1.5m0.5 0h1.5m33.5 0h1.5m0.5 0h1.5m1.5 0h1.5m-0.5 0h1.5m7.5 0h1.5m-87.5 1h1.5m3.5 0h1.5m-0.5 0h1.5m2.5 0h1.5m0.5 0h1.5m-0.5 0h1.5m0.5 0h1.5m3.5 0h1.5m-0.5 0h1.5m3.5 0h1.5m10.5 0h1.5m44.5 0h1.5m5.5 0h1.5m-84.5 1h1.5m-0.5 0h1.5m3.5 0h1.5m6.5 0h1.5m11.5 0h1.5m31.5 0h1.5m17.5 0h1.5m-78.5 1h1.5m8.5 0h1.5m-0.5 0h1.5m-0.5 0h1.5m4.5 0h1.5m0.5 0h1.5m5.5 0h1.5m-0.5 0h1.5m32.5 0h1.5m-0.5 0h1.5m1.5 0h1.5m-70.5 1h1.5m2.5 0h1.5m5.5 0h1.5m10.5 0h1.5m2.5 0h1.5m2.5 0h1.5m25.5 0h1.5m4.5 0h1.5m3.5 0h1.5m5.5 0h1.5m7.5 0h1.5m-76.5 1h1.5m2.5 0h1.5m2.5 0h1.5m-0.5 0h1.5m1.5 0h1.5m0.5 0h1.5m-0.5 0h1.5m59.5 0h1.5m-0.5 0h1.5m-82.5 1h1.5m7.5 0h1.5m0.5 0h1.5m-0.5 0h1.5m5.5 0h1.5m61.5 0h1.5m-96.5 1h1.5m1.5 0h1.5m5.5 0h1.5m1.5 0h1.5m9.5 0h1.5m-0.5 0h1.5m-0.5 0h1.5m5.5 0h1.5m6.5 0h1.5m24.5 0h1.5m3.5 0h1.5m1.5 0h1.5m1.5 0h1.5m5.5 0h1.5m-78.5 1h1.5m2.5 0h1.5m2.5 0h1.5m-0.5 0h1.5m0.5 0h1.5m-0.5 0h1.5m3.5 0h1.5m8.5 0h1.5m34.5 0h1.5m1.5 0h1.5m4.5 0h1.5m5.5 0h1.5m-83.5 2h1.5m4.5 0h1.5m6.5 0h1.5m1.5 0h1.5m16.5 0h1.5m35.5 0h1.5m2.5 0h1.5m-73.5 1h1.5m1.5 0h1.5m6.5 0h1.5m-0.5 0h1.5m6.5 0h1.5m29.5 0h1.5m9.5 0h1.5m9.5 0h1.5m2.5 0h1.5m8.5 0h1.5m-86.5 1h1.5m5.5 0h1.5m4.5 0h1.5m0.5 0h1.5m2.5 0h1.5m0.5 0h1.5m28.5 0h1.5m6.5 0h1.5m-65.5 1h1.5m3.5 0h1.5m3.5 0h1.5m0.5 0h1.5m4.5 0h1.5m12.5 0h1.5m28.5 0h1.5m2.5 0h1.5m2.5 0h1.5m-75.5 1h1.5m2.5 0h1.5m2.5 0h1.5m0.5 0h1.5m1.5 0h1.5m3.5 0h1.5m0.5 0h1.5m-0.5 0h1.5m41.5 0h1.5m25.5 0h1.5m-93.5 1h1.5m24.5 0h1.5m-18.5 1h1.5m5.5 0h1.5m0.5 0h1.5m2.5 0h1.5m2.5 0h1.5m44.5 0h1.5m7.5 0h1.5m-71.5 1h1.5m-0.5 0h1.5m-0.5 0h1.5m3.5 0h1.5m42.5 0h1.5m10.5 0h1.5m-68.5 1h1.5m6.5 0h1.5m0.5 0h1.5m12.5 0h1.5m-28.5 1h1.5m6.5 0h1.5m6.5 0h1.5m54.5 0h1.5m4.5 0h1.5m-0.5 0h1.5m-67.5 1h1.5m-0.5 0h1.5m26.5 0h1.5m-42.5 1h1.5m1.5 0h1.5m8.5 0h1.5m-0.5 0h1.5m1.5 0h1.5m13.5 0h1.5m0.5 0h1.5m-26.5 1h1.5m5.5 0h1.5m1.5 0h1.5m5.5 0h1.5m-24.5 1h1.5m1.5 0h1.5m-0.5 0h1.5m6.5 0h1.5m0.5 0h1.5m43.5 0h1.5m1.5 0h1.5m-50.5 1h1.5m1.5 0h1.5m44.5 0h1.5m-55.5 1h1.5m7.5 0h1.5m3.5 0h1.5m-0.5 0h1.5m39.5 1h1.5m6.5 0h1.5m-67.5 1h1.5m62.5 1h1.5m-65.5 2h1.5m8.5 0h1.5m-20.5 1h1.5m11.5 0h1.5m3.5 0h1.5m6.5 1h1.5m-19.5 1h1.5m10.5 0h1.5m-15.5 1h1.5m6.5 0h1.5m7.5 1h1.5m-11.5 6h1.5m-1.5 1h1.5m76.5 1h1.5m1.5 0h1.5m-41.5 2h1.5m13.5 2h1.5m-14.5 2h1.5m-43.5 4h1.5m-2.5 1h1.5m58.5 0h1.5m-79.5 6h1.5m71.5 4h1.5" stroke="#1a1aff" stroke-width="1.5"/>
<path d="M373 1452h1.5m-1.5 11h1.5m-64.5 4h1.5m66.5 0h1.5m-3.5 1h1.5m-55.5 1h1.5m43.5 1h1.5m-57.5 1h1.5m-5.5 1h1.5m65.5 1h1.5m-3.5 1h1.5m-61.5 1h1.5m-2.5 1h1.5m5.5 0h1.5m2.5 0h1.5m-0.5 1h1.5m42.5 1h1.5m11.5 1h1.5m-62.5 1h1.5m47.5 2h1.5m9.5 0h1.5m1.5 0h1.5m-65.5 1h1.5m6.5 0h1.5m-1.5 1h1.5m55.5 0h1.5m-67.5 1h1.5m6.5 1h1.5m50.5 1h1.5m-63.5 1h1.5m-1.5 3h1.5m2.5 2h1.5m-3.5 1h1.5m1.5 2h1.5m-6.5 2h1.5m11.5 0h1.5m-14.5 1h1.5m49.5 0h1.5m6.5 0h1.5m-56.5 1h1.5m8.5 0h1.5m46.5 0h1.5m-55.5 3h1.5m-13.5 1h1.5m5.5 0h1.5m3.5 8h1.5" stroke="#ffb020" stroke-width="1.5"/>
<path d="M324 1469h1.5m-1.5 1h1.5m56.5 3h1.5m-61.5 6h1.5m-7.5 2h1.5m56.5 5h1.5m-60.5 9h1.5m3.5 7h1.5" stroke="#ff2020" stroke-width="1.5"/>
<rect x="240.9" y="1297.9" width="279.9" height="280.0" fill="none" stroke="#444" stroke-width="1.6"/>
<path d="M350.0 1297.9V1577.9M240.9 1407.6H520.8" stroke="#000" stroke-width="2.2"/>
<text x="250.3" y="1314.8" font-size="16.71" textLength="59.1" lengthAdjust="spacingAndGlyphs" style="font-weight:bold">Q1:3.69</text>
<text x="454.8" y="1314.8" font-size="16.71" textLength="59.1" lengthAdjust="spacingAndGlyphs" style="font-weight:bold">Q2:2.65</text>
<text x="250.3" y="1573.5" font-size="16.71" textLength="59.1" lengthAdjust="spacingAndGlyphs" style="font-weight:bold">Q4:52.1</text>
<text x="454.0" y="1573.5" font-size="16.71" textLength="59.1" lengthAdjust="spacingAndGlyphs" style="font-weight:bold">Q3:41.6</text>
<text x="309.6" y="1632.8" font-size="22.76" textLength="139.7" lengthAdjust="spacingAndGlyphs" style="font-weight:bold">CD4(PerCP)</text>
<text x="0" y="0" font-size="23.53" transform="translate(195.1,1522.0) rotate(-90)" textLength="126.1" lengthAdjust="spacingAndGlyphs" style="font-weight:bold">GITR(APC)</text>
<text x="237.4" y="1607.9" font-size="16.43" style="font-weight:bold">-10</text>
<text x="259.8" y="1598.6" font-size="11.43" style="font-weight:bold">3</text>
<text x="340.4" y="1607.9" font-size="16.43" style="font-weight:bold">10</text>
<text x="358.5" y="1598.6" font-size="11.43" style="font-weight:bold">3</text>
<text x="416.2" y="1607.9" font-size="16.43" style="font-weight:bold">10</text>
<text x="434.4" y="1598.6" font-size="11.59" style="font-weight:bold">4</text>
<text x="481.2" y="1607.9" font-size="16.43" style="font-weight:bold">10</text>
<text x="499.2" y="1598.6" font-size="11.59" style="font-weight:bold">5</text>
<text x="297.7" y="1607.9" font-size="16.43" style="font-weight:bold">0</text>
<text x="207.1" y="1330.8" font-size="16.43" style="font-weight:bold">10</text>
<text x="224.6" y="1321.8" font-size="12.61" style="font-weight:bold">5</text>
<text x="206.7" y="1395.8" font-size="16.43" style="font-weight:bold">10</text>
<text x="224.4" y="1386.8" font-size="12.61" style="font-weight:bold">4</text>
<text x="207.2" y="1471.7" font-size="16.43" style="font-weight:bold">10</text>
<text x="224.7" y="1462.7" font-size="12.43" style="font-weight:bold">3</text>
<text x="201.7" y="1570.5" font-size="16.43" style="font-weight:bold">-10</text>
<text x="224.7" y="1561.5" font-size="12.43" style="font-weight:bold">3</text>
<text x="215.3" y="1522.6" font-size="16.43" style="font-weight:bold">0</text>
<path d="M659.9 1577.9v4M603.6 1521.6h-4M669.7 1577.9v4M603.6 1511.8h-4M655.1 1577.9v4M603.6 1526.4h-4M674.8 1577.9v4M603.6 1506.7h-4M650.3 1577.9v4M603.6 1531.2h-4M679.9 1577.9v4M603.6 1501.6h-4M645.5 1577.9v4M603.6 1536.0h-4M685.0 1577.9v4M603.6 1496.5h-4M640.7 1577.9v4M603.6 1540.8h-4M690.1 1577.9v4M603.6 1491.4h-4M635.9 1577.9v4M603.6 1545.6h-4M695.2 1577.9v4M603.6 1486.3h-4M631.1 1577.9v4M603.6 1550.4h-4M700.3 1577.9v4M603.6 1481.2h-4M626.3 1577.9v4M603.6 1555.2h-4M705.4 1577.9v4M603.6 1476.1h-4M621.5 1577.9v4M603.6 1560.0h-4M710.5 1577.9v4M603.6 1471.0h-4M738.4 1577.9v4M603.6 1443.1h-4M751.8 1577.9v4M603.6 1429.7h-4M761.3 1577.9v4M603.6 1420.2h-4M768.6 1577.9v4M603.6 1412.9h-4M774.6 1577.9v4M603.6 1406.9h-4M779.7 1577.9v4M603.6 1401.8h-4M784.1 1577.9v4M603.6 1397.4h-4M788.0 1577.9v4M603.6 1393.5h-4M811.0 1577.9v4M603.6 1370.5h-4M822.5 1577.9v4M603.6 1359.0h-4M830.6 1577.9v4M603.6 1350.9h-4M836.9 1577.9v4M603.6 1344.6h-4M842.0 1577.9v4M603.6 1339.5h-4M846.4 1577.9v4M603.6 1335.1h-4M850.1 1577.9v4M603.6 1331.4h-4M853.5 1577.9v4M603.6 1328.0h-4M876.0 1577.9v4M603.6 1305.5h-4" stroke="#222" stroke-width="1.3" fill="none"/>
<path d="M616.8 1577.9v7M603.6 1564.7h-7M715.6 1577.9v7M603.6 1465.9h-7M791.5 1577.9v7M603.6 1390.0h-7M856.4 1577.9v7M603.6 1325.1h-7" stroke="#111" stroke-width="2" fill="none"/>
<path d="M658.6 1577.9v6M603.6 1522.9h-6M660.1 1577.9v6M603.6 1521.4h-6M661.6 1577.9v7M603.6 1519.9h-7M663.1 1577.9v7M603.6 1518.4h-7M664.6 1577.9v7M603.6 1516.9h-7M666.1 1577.9v7M603.6 1515.4h-7M667.6 1577.9v7M603.6 1513.9h-7M669.1 1577.9v6M603.6 1512.4h-6M670.6 1577.9v6M603.6 1510.9h-6" stroke="#111" stroke-width="1.4" fill="none"/>
<path d="M687 1323h1.5m8.5 1h1.5m-26.5 6h1.5m-1.5 2h1.5m38.5 0h1.5m18.5 0h1.5m-44.5 1h1.5m-24.5 4h1.5m17.5 0h1.5m-9.5 4h1.5m17.5 1h1.5m-5.5 1h1.5m-20.5 1h1.5m32.5 0h1.5m7.5 0h1.5m-40.5 2h1.5m3.5 0h1.5m-2.5 1h1.5m7.5 0h1.5m-23.5 1h1.5m21.5 0h1.5m2.5 0h1.5m107.5 0h1.5m-80.5 1h1.5m-71.5 1h1.5m11.5 0h1.5m-18.5 1h1.5m43.5 0h1.5m62.5 0h1.5m-74.5 1h1.5m2.5 0h1.5m20.5 0h1.5m9.5 0h1.5m79.5 0h1.5m16.5 0h1.5m-194.5 1h1.5m48.5 0h1.5m29.5 0h1.5m-42.5 1h1.5m2.5 1h1.5m21.5 1h1.5m11.5 0h1.5m9.5 0h1.5m18.5 0h1.5m-56.5 1h1.5m62.5 0h1.5m-84.5 1h1.5m6.5 0h1.5m5.5 0h1.5m9.5 0h1.5m-20.5 1h1.5m10.5 0h1.5m5.5 0h1.5m6.5 0h1.5m-57.5 2h1.5m20.5 0h1.5m24.5 0h1.5m65.5 0h1.5m-119.5 1h1.5m33.5 0h1.5m5.5 0h1.5m42.5 0h1.5m31.5 0h1.5m-111.5 1h1.5m17.5 0h1.5m49.5 0h1.5m-107.5 1h1.5m64.5 0h1.5m9.5 0h1.5m26.5 0h1.5m-69.5 1h1.5m38.5 0h1.5m40.5 0h1.5m-68.5 1h1.5m51.5 0h1.5m104.5 0h1.5m-162.5 1h1.5m82.5 0h1.5m-126.5 1h1.5m39.5 0h1.5m4.5 0h1.5m36.5 0h1.5m0.5 0h1.5m26.5 0h1.5m46.5 0h1.5m-118.5 1h1.5m28.5 0h1.5m6.5 0h1.5m31.5 0h1.5m-21.5 1h1.5m14.5 0h1.5m30.5 0h1.5m-59.5 1h1.5m8.5 0h1.5m44.5 0h1.5m40.5 0h1.5m-182.5 1h1.5m64.5 0h1.5m5.5 0h1.5m2.5 0h1.5m-18.5 2h1.5m40.5 0h1.5m27.5 0h1.5m26.5 0h1.5m11.5 0h1.5m-181.5 1h1.5m47.5 0h1.5m79.5 0h1.5m33.5 0h1.5m-122.5 1h1.5m134.5 0h1.5m-110.5 1h1.5m43.5 0h1.5m47.5 0h1.5m-103.5 1h1.5m14.5 0h1.5m-9.5 1h1.5m130.5 0h1.5m-161.5 2h1.5m25.5 0h1.5m31.5 0h1.5m91.5 0h1.5m-109.5 1h1.5m12.5 0h1.5m-90.5 1h1.5m171.5 0h1.5m-187.5 1h1.5m25.5 1h1.5m110.5 0h1.5m-12.5 1h1.5m39.5 0h1.5m-98.5 4h1.5m62.5 1h1.5m1.5 1h1.5m43.5 2h1.5m-116.5 1h1.5m0.5 1h1.5m7.5 1h1.5m39.5 1h1.5m83.5 0h1.5m-76.5 3h1.5m-63.5 5h1.5m60.5 2h1.5m-34.5 3h1.5m22.5 2h1.5m25.5 0h1.5m-33.5 1h1.5m1.5 0h1.5m-0.5 1h1.5m-63.5 1h1.5m3.5 0h1.5m-2.5 1h1.5m46.5 1h1.5m-45.5 2h1.5m-0.5 0h1.5m38.5 0h1.5m1.5 0h1.5m18.5 0h1.5m18.5 0h1.5m-83.5 1h1.5m49.5 0h1.5m18.5 0h1.5m-88.5 1h1.5m49.5 0h1.5m28.5 0h1.5m0.5 1h1.5m-63.5 1h1.5m50.5 0h1.5m-74.5 1h1.5m53.5 1h1.5m-42.5 1h1.5m37.5 0h1.5m11.5 0h1.5m3.5 0h1.5m-9.5 1h1.5m16.5 0h1.5m-77.5 1h1.5m14.5 0h1.5m44.5 0h1.5m-53.5 1h1.5m10.5 0h1.5m24.5 0h1.5m9.5 0h1.5m3.5 0h1.5m1.5 0h1.5m-71.5 1h1.5m0.5 0h1.5m7.5 0h1.5m0.5 0h1.5m3.5 0h1.5m36.5 0h1.5m2.5 0h1.5m5.5 0h1.5m-69.5 1h1.5m46.5 0h1.5m10.5 0h1.5m-0.5 0h1.5m-70.5 1h1.5m20.5 0h1.5m2.5 0h1.5m-0.5 0h1.5m57.5 0h1.5m-72.5 1h1.5m3.5 0h1.5m48.5 0h1.5m-50.5 1h1.5m52.5 0h1.5m-55.5 1h1.5m-5.5 1h1.5m3.5 0h1.5m12.5 0h1.5m34.5 0h1.5m12.5 0h1.5m-78.5 1h1.5m-0.5 0h1.5m2.5 0h1.5m-0.5 0h1.5m49.5 0h1.5m-0.5 0h1.5m15.5 0h1.5m7.5 0h1.5m-86.5 1h1.5m4.5 0h1.5m9.5 0h1.5m33.5 0h1.5m11.5 0h1.5m-49.5 1h1.5m13.5 0h1.5m31.5 0h1.5m19.5 0h1.5m-83.5 1h1.5m5.5 0h1.5m13.5 0h1.5m19.5 0h1.5m8.5 0h1.5m2.5 0h1.5m2.5 0h1.5m14.5 0h1.5m-0.5 0h1.5m3.5 0h1.5m-89.5 1h1.5m24.5 0h1.5m19.5 0h1.5m24.5 0h1.5m5.5 0h1.5m-57.5 1h1.5m31.5 0h1.5m7.5 0h1.5m-0.5 0h1.5m1.5 0h1.5m2.5 0h1.5m7.5 0h1.5m0.5 0h1.5m-90.5 1h1.5m5.5 0h1.5m14.5 0h1.5m2.5 0h1.5m0.5 0h1.5m34.5 0h1.5m7.5 0h1.5m-0.5 0h1.5m4.5 0h1.5m14.5 0h1.5m-98.5 1h1.5m10.5 0h1.5m3.5 0h1.5m31.5 0h1.5m8.5 0h1.5m1.5 0h1.5m0.5 0h1.5m-65.5 1h1.5m8.5 0h1.5m-0.5 0h1.5m0.5 0h1.5m37.5 0h1.5m0.5 0h1.5m7.5 0h1.5m1.5 0h1.5m20.5 0h1.5m-96.5 1h1.5m2.5 0h1.5m2.5 0h1.5m6.5 0h1.5m55.5 0h1.5m4.5 0h1.5m0.5 0h1.5m-73.5 1h1.5m-0.5 0h1.5m5.5 0h1.5m5.5 0h1.5m-0.5 0h1.5m0.5 0h1.5m10.5 0h1.5m26.5 0h1.5m8.5 0h1.5m-68.5 1h1.5m3.5 0h1.5m-0.5 0h1.5m8.5 0h1.5m27.5 0h1.5m15.5 0h1.5m4.5 0h1.5m-67.5 1h1.5m-0.5 0h1.5m4.5 0h1.5m3.5 0h1.5m-0.5 0h1.5m0.5 0h1.5m3.5 0h1.5m48.5 0h1.5m-80.5 1h1.5m-0.5 0h1.5m13.5 0h1.5m-0.5 0h1.5m2.5 0h1.5m2.5 0h1.5m1.5 0h1.5m27.5 0h1.5m9.5 0h1.5m0.5 0h1.5m3.5 0h1.5m0.5 0h1.5m-0.5 0h1.5m0.5 0h1.5m0.5 0h1.5m-86.5 1h1.5m4.5 0h1.5m10.5 0h1.5m0.5 0h1.5m3.5 0h1.5m7.5 0h1.5m33.5 0h1.5m-0.5 0h1.5m16.5 0h1.5m9.5 0h1.5m-80.5 1h1.5m0.5 0h1.5m-0.5 0h1.5m6.5 0h1.5m-0.5 0h1.5m-0.5 0h1.5m30.5 0h1.5m11.5 0h1.5m2.5 0h1.5m12.5 0h1.5m-75.5 1h1.5m5.5 0h1.5m-0.5 0h1.5m30.5 0h1.5m3.5 0h1.5m2.5 0h1.5m5.5 0h1.5m6.5 0h1.5m-79.5 1h1.5m4.5 0h1.5m15.5 0h1.5m-0.5 0h1.5m0.5 0h1.5m27.5 0h1.5m7.5 0h1.5m-0.5 0h1.5m3.5 0h1.5m-65.5 1h1.5m14.5 0h1.5m1.5 0h1.5m2.5 0h1.5m2.5 0h1.5m21.5 0h1.5m11.5 0h1.5m-74.5 1h1.5m17.5 0h1.5m4.5 0h1.5m47.5 0h1.5m3.5 0h1.5m-0.5 0h1.5m12.5 0h1.5m-84.5 1h1.5m4.5 0h1.5m3.5 0h1.5m0.5 0h1.5m8.5 0h1.5m24.5 0h1.5m14.5 0h1.5m-0.5 0h1.5m9.5 0h1.5m-80.5 1h1.5m-0.5 0h1.5m-0.5 0h1.5m0.5 0h1.5m1.5 0h1.5m3.5 0h1.5m3.5 0h1.5m15.5 0h1.5m23.5 0h1.5m5.5 0h1.5m15.5 0h1.5m-96.5 1h1.5m5.5 0h1.5m3.5 0h1.5m9.5 0h1.5m4.5 0h1.5m2.5 0h1.5m13.5 0h1.5m20.5 0h1.5m2.5 0h1.5m8.5 0h1.5m2.5 0h1.5m-79.5 1h1.5m0.5 0h1.5m0.5 0h1.5m0.5 0h1.5m0.5 0h1.5m6.5 0h1.5m-0.5 0h1.5m13.5 0h1.5m26.5 0h1.5m-0.5 0h1.5m7.5 0h1.5m10.5 0h1.5m-72.5 1h1.5m13.5 0h1.5m21.5 0h1.5m6.5 0h1.5m1.5 0h1.5m1.5 0h1.5m6.5 0h1.5m-0.5 0h1.5m6.5 0h1.5m13.5 0h1.5m-101.5 1h1.5m-0.5 0h1.5m13.5 0h1.5m6.5 0h1.5m6.5 0h1.5m-0.5 0h1.5m27.5 0h1.5m1.5 0h1.5m6.5 0h1.5m-0.5 0h1.5m-0.5 0h1.5m-83.5 1h1.5m7.5 0h1.5m2.5 0h1.5m1.5 0h1.5m0.5 0h1.5m4.5 0h1.5m6.5 0h1.5m4.5 0h1.5m21.5 0h1.5m16.5 0h1.5m4.5 0h1.5m0.5 0h1.5m0.5 0h1.5m-0.5 0h1.5m-75.5 1h1.5m15.5 0h1.5m-0.5 0h1.5m1.5 0h1.5m29.5 0h1.5m-65.5 1h1.5m1.5 0h1.5m21.5 0h1.5m0.5 0h1.5m1.5 0h1.5m22.5 0h1.5m4.5 0h1.5m0.5 0h1.5m-57.5 1h1.5m3.5 0h1.5m4.5 0h1.5m2.5 0h1.5m0.5 0h1.5m55.5 0h1.5m0.5 0h1.5m-84.5 1h1.5m7.5 0h1.5m7.5 0h1.5m0.5 0h1.5m5.5 0h1.5m4.5 0h1.5m-0.5 0h1.5m28.5 0h1.5m-0.5 0h1.5m2.5 0h1.5m-0.5 0h1.5m7.5 0h1.5m-81.5 1h1.5m6.5 0h1.5m1.5 0h1.5m0.5 0h1.5m1.5 0h1.5m-0.5 0h1.5m17.5 0h1.5m4.5 0h1.5m14.5 0h1.5m8.5 0h1.5m7.5 0h1.5m-0.5 0h1.5m0.5 0h1.5m2.5 0h1.5m0.5 0h1.5m0.5 0h1.5m-82.5 1h1.5m-0.5 0h1.5m8.5 0h1.5m0.5 0h1.5m56.5 0h1.5m8.5 0h1.5m2.5 0h1.5m-83.5 1h1.5m6.5 0h1.5m-0.5 0h1.5m2.5 0h1.5m0.5 0h1.5m3.5 0h1.5m6.5 0h1.5m0.5 0h1.5m13.5 0h1.5m4.5 0h1.5m2.5 0h1.5m6.5 0h1.5m-0.5 0h1.5m0.5 0h1.5m6.5 0h1.5m2.5 0h1.5m-86.5 1h1.5m0.5 0h1.5m1.5 0h1.5m7.5 0h1.5m9.5 0h1.5m8.5 0h1.5m12.5 0h1.5m10.5 0h1.5m2.5 0h1.5m1.5 0h1.5m3.5 0h1.5m6.5 0h1.5m-83.5 1h1.5m0.5 0h1.5m3.5 0h1.5m0.5 0h1.5m-0.5 0h1.5m15.5 0h1.5m6.5 0h1.5m17.5 0h1.5m11.5 0h1.5m2.5 0h1.5m1.5 0h1.5m0.5 0h1.5m2.5 0h1.5m2.5 0h1.5m6.5 0h1.5m-96.5 1h1.5m8.5 0h1.5m3.5 0h1.5m0.5 0h1.5m4.5 0h1.5m0.5 0h1.5m41.5 0h1.5m0.5 0h1.5m7.5 0h1.5m-0.5 0h1.5m0.5 0h1.5m2.5 0h1.5m-78.5 1h1.5m2.5 0h1.5m1.5 0h1.5m1.5 0h1.5m-0.5 0h1.5m-0.5 0h1.5m6.5 0h1.5m-0.5 0h1.5m30.5 0h1.5m9.5 0h1.5m6.5 0h1.5m-0.5 0h1.5m0.5 0h1.5m10.5 0h1.5m-98.5 1h1.5m8.5 0h1.5m7.5 0h1.5m0.5 0h1.5m3.5 0h1.5m43.5 0h1.5m1.5 0h1.5m1.5 0h1.5m0.5 0h1.5m5.5 0h1.5m5.5 0h1.5m3.5 0h1.5m-87.5 1h1.5m5.5 0h1.5m0.5 0h1.5m-0.5 0h1.5m0.5 0h1.5m2.5 0h1.5m1.5 0h1.5m0.5 0h1.5m0.5 0h1.5m1.5 0h1.5m0.5 0h1.5m0.5 0h1.5m17.5 0h1.5m6.5 0h1.5m0.5 0h1.5m6.5 0h1.5m0.5 0h1.5m-58.5 1h1.5m-0.5 0h1.5m2.5 0h1.5m-0.5 0h1.5m-0.5 0h1.5m29.5 0h1.5m1.5 0h1.5m1.5 0h1.5m10.5 0h1.5m-73.5 1h1.5m3.5 0h1.5m5.5 0h1.5m-0.5 0h1.5m2.5 0h1.5m0.5 0h1.5m-0.5 0h1.5m-0.5 0h1.5m6.5 0h1.5m-0.5 0h1.5m15.5 0h1.5m12.5 0h1.5m-0.5 0h1.5m1.5 0h1.5m0.5 0h1.5m2.5 0h1.5m2.5 0h1.5m-68.5 1h1.5m-0.5 0h1.5m-0.5 0h1.5m5.5 0h1.5m2.5 0h1.5m26.5 0h1.5m3.5 0h1.5m16.5 0h1.5m9.5 0h1.5m4.5 0h1.5m0.5 0h1.5m-90.5 1h1.5m10.5 0h1.5m3.5 0h1.5m0.5 0h1.5m6.5 0h1.5m1.5 0h1.5m24.5 0h1.5m-0.5 0h1.5m4.5 0h1.5m2.5 0h1.5m3.5 0h1.5m-0.5 0h1.5m-68.5 1h1.5m-0.5 0h1.5m4.5 0h1.5m0.5 0h1.5m-0.5 0h1.5m-0.5 0h1.5m11.5 0h1.5m30.5 0h1.5m0.5 0h1.5m0.5 0h1.5m-0.5 0h1.5m5.5 0h1.5m-0.5 0h1.5m-62.5 1h1.5m8.5 0h1.5m20.5 0h1.5m2.5 0h1.5m1.5 0h1.5m6.5 0h1.5m4.5 0h1.5m0.5 0h1.5m11.5 0h1.5m0.5 0h1.5m6.5 0h1.5m-88.5 1h1.5m-0.5 0h1.5m0.5 0h1.5m0.5 0h1.5m38.5 0h1.5m14.5 0h1.5m1.5 0h1.5m0.5 0h1.5m-0.5 0h1.5m1.5 0h1.5m2.5 0h1.5m-92.5 1h1.5m5.5 0h1.5m1.5 0h1.5m3.5 0h1.5m2.5 0h1.5m1.5 0h1.5m-0.5 0h1.5m6.5 0h1.5m40.5 0h1.5m14.5 0h1.5m-86.5 1h1.5m6.5 0h1.5m3.5 0h1.5m2.5 0h1.5m-0.5 0h1.5m2.5 0h1.5m2.5 0h1.5m36.5 0h1.5m3.5 0h1.5m-0.5 0h1.5m23.5 0h1.5m-0.5 0h1.5m-95.5 1h1.5m3.5 0h1.5m4.5 0h1.5m4.5 0h1.5m-0.5 0h1.5m1.5 0h1.5m-0.5 0h1.5m0.5 0h1.5m-0.5 0h1.5m41.5 0h1.5m3.5 0h1.5m6.5 0h1.5m-0.5 0h1.5m0.5 0h1.5m-85.5 1h1.5m1.5 0h1.5m1.5 0h1.5m13.5 0h1.5m-0.5 0h1.5m2.5 0h1.5m10.5 0h1.5m12.5 0h1.5m11.5 0h1.5m1.5 0h1.5m5.5 0h1.5m0.5 0h1.5m2.5 0h1.5m0.5 0h1.5m10.5 0h1.5m-115.5 1h1.5m32.5 0h1.5m0.5 0h1.5m0.5 0h1.5m-0.5 0h1.5m0.5 0h1.5m-0.5 0h1.5m-0.5 0h1.5m-0.5 0h1.5m5.5 0h1.5m17.5 0h1.5m1.5 0h1.5m9.5 0h1.5m0.5 0h1.5m-0.5 0h1.5m-0.5 0h1.5m0.5 0h1.5m-0.5 0h1.5m3.5 0h1.5m0.5 0h1.5m2.5 0h1.5m-82.5 1h1.5m2.5 0h1.5m0.5 0h1.5m1.5 0h1.5m0.5 0h1.5m-0.5 0h1.5m3.5 0h1.5m-0.5 0h1.5m5.5 0h1.5m3.5 0h1.5m7.5 0h1.5m0.5 0h1.5m8.5 0h1.5m24.5 0h1.5m0.5 0h1.5m-0.5 0h1.5m-77.5 1h1.5m-0.5 0h1.5m-0.5 0h1.5m2.5 0h1.5m-0.5 0h1.5m0.5 0h1.5m-0.5 0h1.5m5.5 0h1.5m1.5 0h1.5m1.5 0h1.5m1.5 0h1.5m6.5 0h1.5m17.5 0h1.5m0.5 0h1.5m-0.5 0h1.5m8.5 0h1.5m-0.5 0h1.5m4.5 0h1.5m1.5 0h1.5m0.5 0h1.5m-0.5 0h1.5m-81.5 1h1.5m1.5 0h1.5m3.5 0h1.5m-0.5 0h1.5m1.5 0h1.5m2.5 0h1.5m29.5 0h1.5m16.5 0h1.5m1.5 0h1.5m-73.5 1h1.5m9.5 0h1.5m5.5 0h1.5m1.5 0h1.5m2.5 0h1.5m4.5 0h1.5m29.5 0h1.5m6.5 0h1.5m7.5 0h1.5m1.5 0h1.5m8.5 0h1.5m-84.5 1h1.5m1.5 0h1.5m4.5 0h1.5m-0.5 0h1.5m6.5 0h1.5m0.5 0h1.5m2.5 0h1.5m27.5 0h1.5m10.5 0h1.5m0.5 0h1.5m-119.5 1h1.5m36.5 0h1.5m-0.5 0h1.5m18.5 0h1.5m1.5 0h1.5m-0.5 0h1.5m0.5 0h1.5m-0.5 0h1.5m39.5 0h1.5m6.5 0h1.5m6.5 0h1.5m-85.5 1h1.5m7.5 0h1.5m0.5 0h1.5m2.5 0h1.5m0.5 0h1.5m0.5 0h1.5m-0.5 0h1.5m4.5 0h1.5m12.5 0h1.5m23.5 0h1.5m16.5 0h1.5m7.5 0h1.5m1.5 0h1.5m-92.5 1h1.5m13.5 0h1.5m-0.5 0h1.5m19.5 0h1.5m20.5 0h1.5m4.5 0h1.5m2.5 0h1.5m-0.5 0h1.5m0.5 0h1.5m1.5 0h1.5m1.5 0h1.5m6.5 0h1.5m-87.5 1h1.5m9.5 0h1.5m0.5 0h1.5m0.5 0h1.5m0.5 0h1.5m6.5 0h1.5m-0.5 0h1.5m4.5 0h1.5m-0.5 0h1.5m5.5 0h1.5m19.5 0h1.5m6.5 0h1.5m-68.5 1h1.5m0.5 0h1.5m1.5 0h1.5m0.5 0h1.5m2.5 0h1.5m2.5 0h1.5m8.5 0h1.5m32.5 0h1.5m-64.5 1h1.5m8.5 0h1.5m10.5 0h1.5m-0.5 0h1.5m0.5 0h1.5m0.5 0h1.5m4.5 0h1.5m-0.5 0h1.5m26.5 0h1.5m9.5 0h1.5m17.5 0h1.5m-98.5 1h1.5m14.5 0h1.5m1.5 0h1.5m5.5 0h1.5m3.5 0h1.5m33.5 0h1.5m1.5 0h1.5m14.5 0h1.5m16.5 0h1.5m-94.5 1h1.5m0.5 0h1.5m0.5 0h1.5m9.5 0h1.5m1.5 0h1.5m1.5 0h1.5m39.5 0h1.5m3.5 0h1.5m3.5 0h1.5m1.5 0h1.5m12.5 0h1.5m-72.5 1h1.5m2.5 0h1.5m33.5 0h1.5m4.5 0h1.5m10.5 0h1.5m2.5 0h1.5m-94.5 1h1.5m2.5 0h1.5m0.5 0h1.5m4.5 0h1.5m14.5 0h1.5m9.5 0h1.5m4.5 0h1.5m20.5 0h1.5m1.5 0h1.5m10.5 0h1.5m0.5 0h1.5m12.5 0h1.5m1.5 0h1.5m-97.5 1h1.5m11.5 0h1.5m2.5 0h1.5m1.5 0h1.5m-0.5 0h1.5m5.5 0h1.5m-0.5 0h1.5m2.5 0h1.5m34.5 0h1.5m4.5 0h1.5m0.5 0h1.5m-67.5 1h1.5m3.5 0h1.5m1.5 0h1.5m-0.5 0h1.5m-0.5 0h1.5m1.5 0h1.5m0.5 0h1.5m14.5 0h1.5m28.5 0h1.5m0.5 0h1.5m2.5 0h1.5m6.5 0h1.5m-85.5 1h1.5m12.5 0h1.5m0.5 0h1.5m2.5 0h1.5m17.5 0h1.5m32.5 0h1.5m4.5 0h1.5m1.5 0h1.5m-86.5 1h1.5m4.5 0h1.5m7.5 0h1.5m5.5 0h1.5m0.5 0h1.5m0.5 0h1.5m30.5 0h1.5m4.5 0h1.5m-65.5 1h1.5m14.5 0h1.5m12.5 0h1.5m2.5 0h1.5m26.5 0h1.5m6.5 0h1.5m2.5 0h1.5m4.5 0h1.5m-82.5 1h1.5m17.5 0h1.5m1.5 0h1.5m4.5 0h1.5m2.5 0h1.5m24.5 0h1.5m7.5 0h1.5m4.5 0h1.5m19.5 0h1.5m-95.5 1h1.5m-0.5 0h1.5m9.5 0h1.5m-0.5 0h1.5m10.5 0h1.5m5.5 0h1.5m2.5 0h1.5m41.5 0h1.5m-69.5 1h1.5m0.5 0h1.5m0.5 0h1.5m2.5 0h1.5m19.5 0h1.5m25.5 0h1.5m9.5 0h1.5m1.5 0h1.5m4.5 0h1.5m-89.5 1h1.5m5.5 0h1.5m40.5 0h1.5m21.5 0h1.5m1.5 0h1.5m13.5 0h1.5m-89.5 1h1.5m12.5 0h1.5m-0.5 0h1.5m2.5 0h1.5m6.5 0h1.5m15.5 0h1.5m14.5 0h1.5m1.5 0h1.5m2.5 0h1.5m4.5 0h1.5m-0.5 0h1.5m18.5 0h1.5m-87.5 1h1.5m12.5 0h1.5m2.5 0h1.5m3.5 0h1.5m37.5 0h1.5m9.5 0h1.5m7.5 0h1.5m5.5 0h1.5m-82.5 1h1.5m0.5 0h1.5m2.5 0h1.5m2.5 0h1.5m39.5 0h1.5m0.5 0h1.5m8.5 0h1.5m-64.5 1h1.5m8.5 0h1.5m3.5 0h1.5m35.5 0h1.5m0.5 0h1.5m-59.5 1h1.5m-0.5 0h1.5m2.5 0h1.5m13.5 0h1.5m-0.5 0h1.5m3.5 0h1.5m45.5 0h1.5m2.5 0h1.5m-75.5 1h1.5m9.5 0h1.5m55.5 0h1.5m-0.5 0h1.5m3.5 0h1.5m-75.5 1h1.5m3.5 0h1.5m2.5 0h1.5m2.5 0h1.5m-0.5 0h1.5m2.5 0h1.5m-0.5 0h1.5m-33.5 1h1.5m7.5 0h1.5m3.5 0h1.5m-0.5 0h1.5m9.5 0h1.5m1.5 0h1.5m2.5 0h1.5m76.5 0h1.5m-97.5 1h1.5m0.5 0h1.5m54.5 0h1.5m-66.5 1h1.5m5.5 0h1.5m5.5 0h1.5m62.5 0h1.5m-82.5 1h1.5m71.5 0h1.5m-79.5 1h1.5m9.5 0h1.5m14.5 0h1.5m11.5 0h1.5m33.5 0h1.5m1.5 0h1.5m-0.5 0h1.5m10.5 0h1.5m-16.5 1h1.5m-59.5 1h1.5m-0.5 0h1.5m9.5 0h1.5m39.5 0h1.5m-59.5 1h1.5m0.5 0h1.5m4.5 0h1.5m12.5 0h1.5m43.5 0h1.5m4.5 0h1.5m-70.5 1h1.5m-0.5 0h1.5m0.5 0h1.5m64.5 0h1.5m14.5 0h1.5m-80.5 1h1.5m2.5 0h1.5m6.5 0h1.5m44.5 0h1.5m-72.5 1h1.5m24.5 0h1.5m5.5 0h1.5m-24.5 1h1.5m46.5 0h1.5m-49.5 1h1.5m2.5 0h1.5m9.5 0h1.5m32.5 0h1.5m-54.5 1h1.5m3.5 0h1.5m16.5 0h1.5m-25.5 1h1.5m5.5 0h1.5m2.5 0h1.5m9.5 0h1.5m-17.5 1h1.5m9.5 0h1.5m47.5 0h1.5m-50.5 1h1.5m39.5 0h1.5m-59.5 1h1.5m13.5 0h1.5m-12.5 1h1.5m3.5 0h1.5m6.5 0h1.5m48.5 0h1.5m-67.5 1h1.5m13.5 0h1.5m36.5 0h1.5m7.5 0h1.5m-74.5 1h1.5m8.5 0h1.5m15.5 3h1.5m-1.5 1h1.5m-18.5 1h1.5m0.5 0h1.5m-10.5 1h1.5m1.5 0h1.5m4.5 0h1.5m9.5 1h1.5m-12.5 2h1.5m88.5 0h1.5m-108.5 1h1.5m11.5 1h1.5m0.5 0h1.5m-0.5 0h1.5m-2.5 1h1.5m4.5 0h1.5m-3.5 1h1.5m-18.5 2h1.5m34.5 1h1.5m-27.5 4h1.5m48.5 7h1.5" stroke="#1a1aff" stroke-width="1.5"/>
<path d="M741 1457h1.5m2.5 3h1.5m-52.5 1h1.5m-11.5 5h1.5m60.5 1h1.5m-8.5 2h1.5m-63.5 1h1.5m-6.5 1h1.5m13.5 2h1.5m-9.5 1h1.5m2.5 0h1.5m3.5 2h1.5m-8.5 1h1.5m4.5 1h1.5m52.5 0h1.5m-55.5 3h1.5m-5.5 1h1.5m1.5 0h1.5m2.5 0h1.5m-8.5 10h1.5m-10.5 2h1.5m2.5 0h1.5m-3.5 5h1.5m7.5 0h1.5m1.5 1h1.5m-3.5 1h1.5m1.5 2h1.5" stroke="#ffb020" stroke-width="1.5"/>
<path d="M676 1473h1.5m12.5 2h1.5m-7.5 1h1.5m57.5 1h1.5m-62.5 5h1.5" stroke="#ff2020" stroke-width="1.5"/>
<rect x="603.6" y="1297.9" width="280.0" height="280.0" fill="none" stroke="#444" stroke-width="1.6"/>
<path d="M712.4 1297.9V1577.9M603.6 1407.6H883.6" stroke="#000" stroke-width="2.2"/>
<text x="613.0" y="1314.8" font-size="16.71" textLength="59.1" lengthAdjust="spacingAndGlyphs" style="font-weight:bold">Q1:5.72</text>
<text x="817.6" y="1314.8" font-size="16.71" textLength="59.1" lengthAdjust="spacingAndGlyphs" style="font-weight:bold">Q2:5.51</text>
<text x="613.0" y="1573.5" font-size="16.71" textLength="59.1" lengthAdjust="spacingAndGlyphs" style="font-weight:bold">Q4:50.7</text>
<text x="816.9" y="1573.5" font-size="16.71" textLength="59.1" lengthAdjust="spacingAndGlyphs" style="font-weight:bold">Q3:38.0</text>
<text x="669.2" y="1632.8" font-size="22.76" textLength="139.3" lengthAdjust="spacingAndGlyphs" style="font-weight:bold">CD4(PerCP)</text>
<text x="0" y="0" font-size="23.53" transform="translate(559.6,1522.0) rotate(-90)" textLength="126.1" lengthAdjust="spacingAndGlyphs" style="font-weight:bold">GITR(APC)</text>
<text x="600.1" y="1607.9" font-size="16.43" style="font-weight:bold">-10</text>
<text x="622.5" y="1598.6" font-size="11.43" style="font-weight:bold">3</text>
<text x="703.1" y="1607.9" font-size="16.43" style="font-weight:bold">10</text>
<text x="721.2" y="1598.6" font-size="11.43" style="font-weight:bold">3</text>
<text x="779.0" y="1607.9" font-size="16.43" style="font-weight:bold">10</text>
<text x="797.2" y="1598.6" font-size="11.59" style="font-weight:bold">4</text>
<text x="844.0" y="1607.9" font-size="16.43" style="font-weight:bold">10</text>
<text x="862.0" y="1598.6" font-size="11.59" style="font-weight:bold">5</text>
<text x="660.4" y="1607.9" font-size="16.43" style="font-weight:bold">0</text>
<text x="569.8" y="1330.8" font-size="16.43" style="font-weight:bold">10</text>
<text x="587.3" y="1321.8" font-size="12.61" style="font-weight:bold">5</text>
<text x="569.4" y="1395.8" font-size="16.43" style="font-weight:bold">10</text>
<text x="587.1" y="1386.8" font-size="12.61" style="font-weight:bold">4</text>
<text x="569.9" y="1471.7" font-size="16.43" style="font-weight:bold">10</text>
<text x="587.4" y="1462.7" font-size="12.43" style="font-weight:bold">3</text>
<text x="564.4" y="1570.5" font-size="16.43" style="font-weight:bold">-10</text>
<text x="587.4" y="1561.5" font-size="12.43" style="font-weight:bold">3</text>
<text x="578.0" y="1522.6" font-size="16.43" style="font-weight:bold">0</text>
<path d="M293.8 2072.0v4M237.4 2015.8h-4M303.7 2072.0v4M237.4 2006.0h-4M289.0 2072.0v4M237.4 2020.6h-4M308.8 2072.0v4M237.4 2000.9h-4M284.2 2072.0v4M237.4 2025.4h-4M313.9 2072.0v4M237.4 1995.8h-4M279.4 2072.0v4M237.4 2030.2h-4M319.0 2072.0v4M237.4 1990.7h-4M274.6 2072.0v4M237.4 2035.0h-4M324.1 2072.0v4M237.4 1985.6h-4M269.8 2072.0v4M237.4 2039.7h-4M329.2 2072.0v4M237.4 1980.5h-4M265.0 2072.0v4M237.4 2044.5h-4M334.3 2072.0v4M237.4 1975.4h-4M260.2 2072.0v4M237.4 2049.3h-4M339.4 2072.0v4M237.4 1970.3h-4M255.4 2072.0v4M237.4 2054.1h-4M344.5 2072.0v4M237.4 1965.2h-4M372.5 2072.0v4M237.4 1937.4h-4M385.9 2072.0v4M237.4 1924.0h-4M395.4 2072.0v4M237.4 1914.5h-4M402.7 2072.0v4M237.4 1907.2h-4M408.8 2072.0v4M237.4 1901.2h-4M413.8 2072.0v4M237.4 1896.1h-4M418.2 2072.0v4M237.4 1891.7h-4M422.1 2072.0v4M237.4 1887.9h-4M445.2 2072.0v4M237.4 1864.9h-4M456.7 2072.0v4M237.4 1853.4h-4M464.8 2072.0v4M237.4 1845.3h-4M471.1 2072.0v4M237.4 1839.0h-4M476.3 2072.0v4M237.4 1833.9h-4M480.6 2072.0v4M237.4 1829.6h-4M484.4 2072.0v4M237.4 1825.8h-4M487.7 2072.0v4M237.4 1822.5h-4M510.3 2072.0v4M237.4 1800.0h-4" stroke="#222" stroke-width="1.3" fill="none"/>
<path d="M250.6 2072.0v7M237.4 2058.9h-7M349.6 2072.0v7M237.4 1960.2h-7M425.6 2072.0v7M237.4 1884.4h-7M490.7 2072.0v7M237.4 1819.5h-7" stroke="#111" stroke-width="2" fill="none"/>
<path d="M292.5 2072.0v6M237.4 2017.0h-6M294.0 2072.0v6M237.4 2015.5h-6M295.5 2072.0v7M237.4 2014.0h-7M297.0 2072.0v7M237.4 2012.5h-7M298.5 2072.0v7M237.4 2011.0h-7M300.0 2072.0v7M237.4 2009.5h-7M301.5 2072.0v7M237.4 2008.0h-7M303.0 2072.0v6M237.4 2006.5h-6M304.5 2072.0v6M237.4 2005.0h-6" stroke="#111" stroke-width="1.4" fill="none"/>
<path d="M467 1810h1.5m-36.5 20h1.5m1.5 5h1.5m10.5 1h1.5m-18.5 1h1.5m0.5 1h1.5m-21.5 2h1.5m32.5 2h1.5m-22.5 1h1.5m-0.5 0h1.5m3.5 0h1.5m11.5 0h1.5m-8.5 1h1.5m2.5 0h1.5m-22.5 1h1.5m-3.5 1h1.5m11.5 0h1.5m-0.5 0h1.5m-9.5 1h1.5m1.5 0h1.5m3.5 0h1.5m0.5 0h1.5m-7.5 1h1.5m-16.5 1h1.5m8.5 0h1.5m5.5 0h1.5m-27.5 1h1.5m21.5 0h1.5m0.5 0h1.5m-0.5 0h1.5m1.5 0h1.5m-14.5 1h1.5m2.5 0h1.5m1.5 0h1.5m0.5 0h1.5m4.5 0h1.5m-27.5 1h1.5m1.5 0h1.5m3.5 0h1.5m0.5 0h1.5m5.5 0h1.5m-0.5 1h1.5m-31.5 1h1.5m9.5 0h1.5m4.5 0h1.5m0.5 0h1.5m10.5 0h1.5m9.5 0h1.5m-35.5 1h1.5m6.5 0h1.5m2.5 0h1.5m16.5 0h1.5m-37.5 1h1.5m27.5 0h1.5m-22.5 1h1.5m18.5 0h1.5m-20.5 1h1.5m3.5 0h1.5m5.5 0h1.5m-21.5 1h1.5m14.5 0h1.5m3.5 0h1.5m8.5 0h1.5m-0.5 0h1.5m-22.5 1h1.5m-0.5 0h1.5m1.5 0h1.5m12.5 0h1.5m-26.5 1h1.5m11.5 0h1.5m5.5 0h1.5m8.5 0h1.5m-0.5 0h1.5m-35.5 1h1.5m8.5 0h1.5m-0.5 0h1.5m14.5 0h1.5m-19.5 1h1.5m2.5 0h1.5m6.5 0h1.5m-13.5 1h1.5m-0.5 0h1.5m28.5 0h1.5m-39.5 1h1.5m38.5 0h1.5m-137.5 1h1.5m105.5 0h1.5m0.5 0h1.5m7.5 0h1.5m1.5 0h1.5m-19.5 1h1.5m1.5 0h1.5m-24.5 2h1.5m19.5 0h1.5m1.5 0h1.5m17.5 0h1.5m-25.5 1h1.5m7.5 0h1.5m0.5 1h1.5m3.5 0h1.5m-25.5 1h1.5m13.5 0h1.5m6.5 0h1.5m-11.5 1h1.5m13.5 0h1.5m-0.5 1h1.5m-12.5 1h1.5m1.5 0h1.5m-27.5 2h1.5m11.5 0h1.5m-9.5 1h1.5m4.5 0h1.5m-5.5 3h1.5m-96.5 1h1.5m78.5 1h1.5m29.5 0h1.5m-7.5 2h1.5m-100.5 2h1.5m69.5 1h1.5m-61.5 1h1.5m0.5 0h1.5m-5.5 2h1.5m-11.5 1h1.5m16.5 1h1.5m-15.5 1h1.5m-10.5 1h1.5m12.5 0h1.5m20.5 0h1.5m-37.5 1h1.5m3.5 0h1.5m-0.5 0h1.5m3.5 0h1.5m9.5 0h1.5m-8.5 1h1.5m1.5 0h1.5m0.5 0h1.5m0.5 0h1.5m-17.5 1h1.5m11.5 0h1.5m-13.5 1h1.5m7.5 0h1.5m6.5 0h1.5m9.5 0h1.5m-47.5 1h1.5m29.5 0h1.5m6.5 0h1.5m-35.5 1h1.5m3.5 0h1.5m10.5 0h1.5m7.5 0h1.5m-23.5 1h1.5m0.5 0h1.5m1.5 1h1.5m7.5 0h1.5m-0.5 0h1.5m2.5 0h1.5m-25.5 1h1.5m25.5 0h1.5m-15.5 1h1.5m6.5 0h1.5m-5.5 1h1.5m0.5 0h1.5m29.5 0h1.5m-35.5 1h1.5m7.5 0h1.5m-15.5 1h1.5m18.5 0h1.5m-32.5 1h1.5m9.5 0h1.5m13.5 0h1.5m9.5 0h1.5m-21.5 1h1.5m-3.5 1h1.5m12.5 0h1.5m4.5 0h1.5m18.5 0h1.5m-36.5 1h1.5m-0.5 0h1.5m-13.5 1h1.5m10.5 0h1.5m-1.5 1h1.5m0.5 0h1.5m12.5 0h1.5m-29.5 1h1.5m3.5 0h1.5m12.5 0h1.5m-11.5 1h1.5m6.5 0h1.5m23.5 0h1.5m-42.5 1h1.5m40.5 0h1.5m-43.5 1h1.5m0.5 0h1.5m3.5 0h1.5m-0.5 0h1.5m-0.5 0h1.5m-0.5 0h1.5m23.5 0h1.5m-41.5 1h1.5m8.5 0h1.5m1.5 0h1.5m30.5 0h1.5m-41.5 1h1.5m5.5 0h1.5m-0.5 0h1.5m34.5 0h1.5m-51.5 1h1.5m3.5 0h1.5m0.5 0h1.5m4.5 0h1.5m-9.5 1h1.5m0.5 0h1.5m7.5 0h1.5m-0.5 0h1.5m3.5 0h1.5m-21.5 1h1.5m4.5 0h1.5m3.5 0h1.5m5.5 0h1.5m17.5 0h1.5m6.5 0h1.5m-41.5 1h1.5m3.5 0h1.5m4.5 0h1.5m-20.5 1h1.5m1.5 0h1.5m8.5 0h1.5m-13.5 1h1.5m4.5 0h1.5m0.5 0h1.5m4.5 0h1.5m5.5 0h1.5m-15.5 1h1.5m3.5 0h1.5m3.5 0h1.5m6.5 0h1.5m-25.5 1h1.5m7.5 0h1.5m-0.5 0h1.5m-0.5 0h1.5m5.5 0h1.5m-18.5 1h1.5m1.5 0h1.5m2.5 0h1.5m8.5 0h1.5m2.5 0h1.5m0.5 0h1.5m4.5 0h1.5m13.5 0h1.5m8.5 0h1.5m9.5 0h1.5m-71.5 1h1.5m9.5 0h1.5m7.5 0h1.5m3.5 0h1.5m15.5 0h1.5m26.5 0h1.5m-67.5 1h1.5m12.5 0h1.5m0.5 0h1.5m1.5 0h1.5m21.5 0h1.5m14.5 0h1.5m-61.5 1h1.5m12.5 0h1.5m22.5 0h1.5m8.5 0h1.5m4.5 0h1.5m11.5 0h1.5m-67.5 1h1.5m-0.5 0h1.5m5.5 0h1.5m-0.5 0h1.5m3.5 0h1.5m12.5 0h1.5m20.5 0h1.5m-59.5 1h1.5m5.5 0h1.5m7.5 0h1.5m1.5 0h1.5m-0.5 0h1.5m31.5 0h1.5m1.5 0h1.5m-55.5 1h1.5m2.5 0h1.5m2.5 0h1.5m5.5 0h1.5m1.5 0h1.5m0.5 0h1.5m11.5 0h1.5m1.5 0h1.5m26.5 0h1.5m-57.5 1h1.5m4.5 0h1.5m1.5 0h1.5m-0.5 0h1.5m5.5 0h1.5m0.5 0h1.5m9.5 0h1.5m5.5 0h1.5m-47.5 1h1.5m5.5 0h1.5m-0.5 0h1.5m-0.5 0h1.5m-0.5 0h1.5m3.5 0h1.5m-0.5 0h1.5m2.5 0h1.5m-0.5 0h1.5m1.5 0h1.5m-0.5 0h1.5m6.5 0h1.5m10.5 0h1.5m-0.5 0h1.5m7.5 0h1.5m5.5 0h1.5m-57.5 1h1.5m-0.5 0h1.5m0.5 0h1.5m4.5 0h1.5m4.5 0h1.5m7.5 0h1.5m11.5 0h1.5m3.5 0h1.5m0.5 0h1.5m8.5 0h1.5m-51.5 1h1.5m3.5 0h1.5m2.5 0h1.5m1.5 0h1.5m-0.5 0h1.5m5.5 0h1.5m0.5 0h1.5m5.5 0h1.5m10.5 0h1.5m12.5 0h1.5m-61.5 1h1.5m2.5 0h1.5m-0.5 0h1.5m1.5 0h1.5m0.5 0h1.5m0.5 0h1.5m0.5 0h1.5m3.5 0h1.5m1.5 0h1.5m26.5 0h1.5m-0.5 0h1.5m9.5 0h1.5m-0.5 0h1.5m-75.5 1h1.5m3.5 0h1.5m3.5 0h1.5m8.5 0h1.5m-0.5 0h1.5m4.5 0h1.5m2.5 0h1.5m-0.5 0h1.5m2.5 0h1.5m17.5 0h1.5m-0.5 0h1.5m0.5 0h1.5m10.5 0h1.5m-58.5 1h1.5m4.5 0h1.5m-0.5 0h1.5m2.5 0h1.5m2.5 0h1.5m1.5 0h1.5m1.5 0h1.5m1.5 0h1.5m14.5 0h1.5m14.5 0h1.5m6.5 0h1.5m5.5 0h1.5m-78.5 1h1.5m4.5 0h1.5m3.5 0h1.5m5.5 0h1.5m-0.5 0h1.5m1.5 0h1.5m1.5 0h1.5m9.5 0h1.5m10.5 0h1.5m1.5 0h1.5m-0.5 0h1.5m8.5 0h1.5m5.5 0h1.5m-67.5 1h1.5m-0.5 0h1.5m4.5 0h1.5m4.5 0h1.5m3.5 0h1.5m0.5 0h1.5m4.5 0h1.5m11.5 0h1.5m16.5 0h1.5m-57.5 1h1.5m8.5 0h1.5m1.5 0h1.5m0.5 0h1.5m2.5 0h1.5m-0.5 0h1.5m2.5 0h1.5m17.5 0h1.5m8.5 0h1.5m1.5 0h1.5m9.5 0h1.5m-67.5 1h1.5m5.5 0h1.5m2.5 0h1.5m5.5 0h1.5m0.5 0h1.5m16.5 0h1.5m6.5 0h1.5m0.5 0h1.5m-53.5 1h1.5m11.5 0h1.5m3.5 0h1.5m-0.5 0h1.5m2.5 0h1.5m-0.5 0h1.5m-0.5 0h1.5m3.5 0h1.5m11.5 0h1.5m1.5 0h1.5m2.5 0h1.5m0.5 0h1.5m1.5 0h1.5m8.5 0h1.5m-68.5 1h1.5m0.5 0h1.5m5.5 0h1.5m3.5 0h1.5m0.5 0h1.5m0.5 0h1.5m-0.5 0h1.5m-0.5 0h1.5m-0.5 0h1.5m2.5 0h1.5m-0.5 0h1.5m2.5 0h1.5m1.5 0h1.5m8.5 0h1.5m2.5 0h1.5m0.5 0h1.5m7.5 0h1.5m3.5 0h1.5m-0.5 0h1.5m8.5 0h1.5m1.5 0h1.5m-80.5 1h1.5m5.5 0h1.5m1.5 0h1.5m0.5 0h1.5m1.5 0h1.5m4.5 0h1.5m0.5 0h1.5m-0.5 0h1.5m3.5 0h1.5m1.5 0h1.5m-0.5 0h1.5m7.5 0h1.5m6.5 0h1.5m2.5 0h1.5m-0.5 0h1.5m11.5 0h1.5m-68.5 1h1.5m0.5 0h1.5m-0.5 0h1.5m2.5 0h1.5m3.5 0h1.5m2.5 0h1.5m1.5 0h1.5m-0.5 0h1.5m-0.5 0h1.5m0.5 0h1.5m-0.5 0h1.5m0.5 0h1.5m-0.5 0h1.5m0.5 0h1.5m15.5 0h1.5m3.5 0h1.5m2.5 0h1.5m4.5 0h1.5m5.5 0h1.5m-69.5 1h1.5m5.5 0h1.5m-0.5 0h1.5m2.5 0h1.5m2.5 0h1.5m0.5 0h1.5m-0.5 0h1.5m-0.5 0h1.5m-0.5 0h1.5m0.5 0h1.5m0.5 0h1.5m7.5 0h1.5m0.5 0h1.5m4.5 0h1.5m8.5 0h1.5m8.5 0h1.5m-0.5 0h1.5m-0.5 0h1.5m8.5 0h1.5m-77.5 1h1.5m4.5 0h1.5m7.5 0h1.5m9.5 0h1.5m2.5 0h1.5m5.5 0h1.5m-0.5 0h1.5m4.5 0h1.5m9.5 0h1.5m1.5 0h1.5m0.5 0h1.5m0.5 0h1.5m2.5 0h1.5m0.5 0h1.5m-58.5 1h1.5m-0.5 0h1.5m1.5 0h1.5m-0.5 0h1.5m-0.5 0h1.5m30.5 0h1.5m0.5 0h1.5m1.5 0h1.5m2.5 0h1.5m-0.5 0h1.5m-58.5 1h1.5m6.5 0h1.5m-0.5 0h1.5m-0.5 0h1.5m1.5 0h1.5m-0.5 0h1.5m-0.5 0h1.5m-0.5 0h1.5m5.5 0h1.5m-0.5 0h1.5m-0.5 0h1.5m0.5 0h1.5m1.5 0h1.5m-0.5 0h1.5m16.5 0h1.5m2.5 0h1.5m12.5 0h1.5m0.5 0h1.5m3.5 0h1.5m-73.5 1h1.5m2.5 0h1.5m2.5 0h1.5m-0.5 0h1.5m1.5 0h1.5m0.5 0h1.5m4.5 0h1.5m0.5 0h1.5m4.5 0h1.5m-0.5 0h1.5m7.5 0h1.5m-0.5 0h1.5m3.5 0h1.5m1.5 0h1.5m1.5 0h1.5m-0.5 0h1.5m2.5 0h1.5m6.5 0h1.5m11.5 0h1.5m-80.5 1h1.5m10.5 0h1.5m1.5 0h1.5m0.5 0h1.5m0.5 0h1.5m0.5 0h1.5m0.5 0h1.5m-0.5 0h1.5m12.5 0h1.5m0.5 0h1.5m4.5 0h1.5m1.5 0h1.5m4.5 0h1.5m3.5 0h1.5m-58.5 1h1.5m3.5 0h1.5m2.5 0h1.5m0.5 0h1.5m-0.5 0h1.5m0.5 0h1.5m4.5 0h1.5m3.5 0h1.5m1.5 0h1.5m2.5 0h1.5m-0.5 0h1.5m27.5 0h1.5m-64.5 1h1.5m0.5 0h1.5m15.5 0h1.5m-0.5 0h1.5m0.5 0h1.5m-0.5 0h1.5m0.5 0h1.5m7.5 0h1.5m21.5 0h1.5m1.5 0h1.5m0.5 0h1.5m1.5 0h1.5m-85.5 1h1.5m18.5 0h1.5m7.5 0h1.5m2.5 0h1.5m3.5 0h1.5m-0.5 0h1.5m1.5 0h1.5m0.5 0h1.5m0.5 0h1.5m-0.5 0h1.5m2.5 0h1.5m1.5 0h1.5m8.5 0h1.5m6.5 0h1.5m10.5 0h1.5m5.5 0h1.5m0.5 0h1.5m-79.5 1h1.5m8.5 0h1.5m-0.5 0h1.5m-0.5 0h1.5m0.5 0h1.5m2.5 0h1.5m3.5 0h1.5m5.5 0h1.5m-0.5 0h1.5m-0.5 0h1.5m-0.5 0h1.5m-0.5 0h1.5m15.5 0h1.5m6.5 0h1.5m-0.5 0h1.5m12.5 0h1.5m-75.5 1h1.5m4.5 0h1.5m3.5 0h1.5m4.5 0h1.5m0.5 0h1.5m-0.5 0h1.5m-0.5 0h1.5m0.5 0h1.5m-0.5 0h1.5m-0.5 0h1.5m2.5 0h1.5m-0.5 0h1.5m-0.5 0h1.5m2.5 0h1.5m-0.5 0h1.5m20.5 0h1.5m7.5 0h1.5m5.5 0h1.5m-64.5 1h1.5m0.5 0h1.5m-0.5 0h1.5m-0.5 0h1.5m-0.5 0h1.5m-0.5 0h1.5m1.5 0h1.5m2.5 0h1.5m1.5 0h1.5m-0.5 0h1.5m-0.5 0h1.5m-0.5 0h1.5m2.5 0h1.5m0.5 0h1.5m-0.5 0h1.5m-0.5 0h1.5m12.5 0h1.5m0.5 0h1.5m-0.5 0h1.5m3.5 0h1.5m2.5 0h1.5m15.5 0h1.5m-75.5 1h1.5m-0.5 0h1.5m3.5 0h1.5m0.5 0h1.5m2.5 0h1.5m-0.5 0h1.5m4.5 0h1.5m-0.5 0h1.5m1.5 0h1.5m0.5 0h1.5m0.5 0h1.5m12.5 0h1.5m1.5 0h1.5m4.5 0h1.5m3.5 0h1.5m-69.5 1h1.5m3.5 0h1.5m-0.5 0h1.5m2.5 0h1.5m1.5 0h1.5m6.5 0h1.5m0.5 0h1.5m0.5 0h1.5m-0.5 0h1.5m0.5 0h1.5m-0.5 0h1.5m-0.5 0h1.5m0.5 0h1.5m3.5 0h1.5m1.5 0h1.5m0.5 0h1.5m5.5 0h1.5m0.5 0h1.5m0.5 0h1.5m3.5 0h1.5m3.5 0h1.5m4.5 0h1.5m2.5 0h1.5m0.5 0h1.5m7.5 0h1.5m-75.5 1h1.5m10.5 0h1.5m-0.5 0h1.5m-0.5 0h1.5m-0.5 0h1.5m0.5 0h1.5m2.5 0h1.5m1.5 0h1.5m1.5 0h1.5m-0.5 0h1.5m-0.5 0h1.5m1.5 0h1.5m1.5 0h1.5m2.5 0h1.5m3.5 0h1.5m-0.5 0h1.5m-0.5 0h1.5m1.5 0h1.5m1.5 0h1.5m11.5 0h1.5m0.5 0h1.5m8.5 0h1.5m-77.5 1h1.5m3.5 0h1.5m3.5 0h1.5m0.5 0h1.5m3.5 0h1.5m-0.5 0h1.5m2.5 0h1.5m1.5 0h1.5m0.5 0h1.5m3.5 0h1.5m3.5 0h1.5m0.5 0h1.5m10.5 0h1.5m1.5 0h1.5m6.5 0h1.5m9.5 0h1.5m1.5 0h1.5m-80.5 1h1.5m7.5 0h1.5m-0.5 0h1.5m3.5 0h1.5m3.5 0h1.5m2.5 0h1.5m16.5 0h1.5m2.5 0h1.5m4.5 0h1.5m1.5 0h1.5m-0.5 0h1.5m0.5 0h1.5m-0.5 0h1.5m3.5 0h1.5m-66.5 1h1.5m7.5 0h1.5m-0.5 0h1.5m5.5 0h1.5m2.5 0h1.5m0.5 0h1.5m0.5 0h1.5m0.5 0h1.5m-0.5 0h1.5m2.5 0h1.5m0.5 0h1.5m2.5 0h1.5m-0.5 0h1.5m1.5 0h1.5m13.5 0h1.5m17.5 0h1.5m-71.5 1h1.5m6.5 0h1.5m2.5 0h1.5m-0.5 0h1.5m0.5 0h1.5m0.5 0h1.5m11.5 0h1.5m10.5 0h1.5m0.5 0h1.5m0.5 0h1.5m2.5 0h1.5m1.5 0h1.5m0.5 0h1.5m0.5 0h1.5m9.5 0h1.5m0.5 0h1.5m-74.5 1h1.5m1.5 0h1.5m0.5 0h1.5m-0.5 0h1.5m6.5 0h1.5m2.5 0h1.5m4.5 0h1.5m1.5 0h1.5m0.5 0h1.5m-0.5 0h1.5m-0.5 0h1.5m-0.5 0h1.5m10.5 0h1.5m0.5 0h1.5m0.5 0h1.5m1.5 0h1.5m7.5 0h1.5m-0.5 0h1.5m0.5 0h1.5m-61.5 1h1.5m3.5 0h1.5m7.5 0h1.5m0.5 0h1.5m-0.5 0h1.5m-0.5 0h1.5m-0.5 0h1.5m-0.5 0h1.5m-0.5 0h1.5m0.5 0h1.5m-0.5 0h1.5m2.5 0h1.5m4.5 0h1.5m0.5 0h1.5m0.5 0h1.5m10.5 0h1.5m-0.5 0h1.5m-0.5 0h1.5m6.5 0h1.5m-0.5 0h1.5m-0.5 0h1.5m13.5 0h1.5m-85.5 1h1.5m9.5 0h1.5m2.5 0h1.5m3.5 0h1.5m1.5 0h1.5m1.5 0h1.5m-0.5 0h1.5m-0.5 0h1.5m-0.5 0h1.5m-0.5 0h1.5m-0.5 0h1.5m4.5 0h1.5m15.5 0h1.5m-0.5 0h1.5m3.5 0h1.5m3.5 0h1.5m7.5 0h1.5m-66.5 1h1.5m-0.5 0h1.5m3.5 0h1.5m1.5 0h1.5m1.5 0h1.5m-0.5 0h1.5m-0.5 0h1.5m-0.5 0h1.5m0.5 0h1.5m2.5 0h1.5m0.5 0h1.5m12.5 0h1.5m1.5 0h1.5m7.5 0h1.5m-0.5 0h1.5m1.5 0h1.5m17.5 0h1.5m-64.5 1h1.5m0.5 0h1.5m3.5 0h1.5m-0.5 0h1.5m3.5 0h1.5m1.5 0h1.5m0.5 0h1.5m1.5 0h1.5m-0.5 0h1.5m-0.5 0h1.5m2.5 0h1.5m7.5 0h1.5m-0.5 0h1.5m6.5 0h1.5m2.5 0h1.5m-61.5 1h1.5m1.5 0h1.5m-0.5 0h1.5m1.5 0h1.5m-0.5 0h1.5m3.5 0h1.5m2.5 0h1.5m5.5 0h1.5m1.5 0h1.5m1.5 0h1.5m0.5 0h1.5m0.5 0h1.5m0.5 0h1.5m3.5 0h1.5m-0.5 0h1.5m-0.5 0h1.5m3.5 0h1.5m0.5 0h1.5m2.5 0h1.5m3.5 0h1.5m10.5 0h1.5m-64.5 1h1.5m-0.5 0h1.5m3.5 0h1.5m1.5 0h1.5m0.5 0h1.5m11.5 0h1.5m12.5 0h1.5m8.5 0h1.5m5.5 0h1.5m-0.5 0h1.5m8.5 0h1.5m-76.5 1h1.5m3.5 0h1.5m2.5 0h1.5m3.5 0h1.5m5.5 0h1.5m3.5 0h1.5m0.5 0h1.5m0.5 0h1.5m2.5 0h1.5m0.5 0h1.5m34.5 0h1.5m2.5 0h1.5m-70.5 1h1.5m1.5 0h1.5m1.5 0h1.5m-0.5 0h1.5m2.5 0h1.5m2.5 0h1.5m-0.5 0h1.5m3.5 0h1.5m29.5 0h1.5m-0.5 0h1.5m6.5 0h1.5m-0.5 0h1.5m1.5 0h1.5m-78.5 1h1.5m-0.5 0h1.5m12.5 0h1.5m2.5 0h1.5m0.5 0h1.5m0.5 0h1.5m0.5 0h1.5m2.5 0h1.5m0.5 0h1.5m5.5 0h1.5m1.5 0h1.5m-0.5 0h1.5m18.5 0h1.5m0.5 0h1.5m1.5 0h1.5m-55.5 1h1.5m8.5 0h1.5m0.5 0h1.5m3.5 0h1.5m14.5 0h1.5m-0.5 0h1.5m3.5 0h1.5m8.5 0h1.5m-62.5 1h1.5m-0.5 0h1.5m2.5 0h1.5m2.5 0h1.5m-0.5 0h1.5m0.5 0h1.5m1.5 0h1.5m7.5 0h1.5m-0.5 0h1.5m-0.5 0h1.5m1.5 0h1.5m-0.5 0h1.5m0.5 0h1.5m10.5 0h1.5m13.5 0h1.5m5.5 0h1.5m-59.5 1h1.5m5.5 0h1.5m1.5 0h1.5m6.5 0h1.5m1.5 0h1.5m0.5 0h1.5m1.5 0h1.5m-0.5 0h1.5m18.5 0h1.5m4.5 0h1.5m-0.5 0h1.5m-0.5 0h1.5m2.5 0h1.5m8.5 0h1.5m-74.5 1h1.5m6.5 0h1.5m0.5 0h1.5m6.5 0h1.5m0.5 0h1.5m1.5 0h1.5m-0.5 0h1.5m2.5 0h1.5m18.5 0h1.5m0.5 0h1.5m-49.5 1h1.5m3.5 0h1.5m5.5 0h1.5m2.5 0h1.5m-0.5 0h1.5m3.5 0h1.5m19.5 0h1.5m4.5 0h1.5m-0.5 0h1.5m4.5 0h1.5m15.5 0h1.5m-77.5 1h1.5m-0.5 0h1.5m5.5 0h1.5m0.5 0h1.5m0.5 0h1.5m0.5 0h1.5m0.5 0h1.5m-0.5 0h1.5m-0.5 0h1.5m-0.5 0h1.5m-0.5 0h1.5m3.5 0h1.5m9.5 0h1.5m8.5 0h1.5m0.5 0h1.5m10.5 0h1.5m-55.5 1h1.5m5.5 0h1.5m0.5 0h1.5m1.5 0h1.5m1.5 0h1.5m14.5 0h1.5m6.5 0h1.5m2.5 0h1.5m4.5 0h1.5m0.5 0h1.5m0.5 0h1.5m1.5 0h1.5m2.5 0h1.5m-65.5 1h1.5m3.5 0h1.5m7.5 0h1.5m0.5 0h1.5m0.5 0h1.5m3.5 0h1.5m2.5 0h1.5m-0.5 0h1.5m10.5 0h1.5m0.5 0h1.5m-0.5 0h1.5m16.5 0h1.5m-57.5 1h1.5m4.5 0h1.5m7.5 0h1.5m1.5 0h1.5m-0.5 0h1.5m-0.5 0h1.5m13.5 0h1.5m10.5 0h1.5m-58.5 1h1.5m6.5 0h1.5m5.5 0h1.5m0.5 0h1.5m0.5 0h1.5m3.5 0h1.5m-0.5 0h1.5m12.5 0h1.5m27.5 0h1.5m-60.5 1h1.5m3.5 0h1.5m0.5 0h1.5m3.5 0h1.5m0.5 0h1.5m0.5 0h1.5m0.5 0h1.5m2.5 0h1.5m-0.5 0h1.5m23.5 0h1.5m3.5 0h1.5m-54.5 1h1.5m-0.5 0h1.5m-0.5 0h1.5m1.5 0h1.5m0.5 0h1.5m-0.5 0h1.5m5.5 0h1.5m4.5 0h1.5m17.5 0h1.5m14.5 0h1.5m-69.5 1h1.5m16.5 0h1.5m0.5 0h1.5m1.5 0h1.5m5.5 0h1.5m30.5 0h1.5m-53.5 1h1.5m0.5 0h1.5m-0.5 0h1.5m8.5 0h1.5m1.5 0h1.5m-0.5 0h1.5m-0.5 0h1.5m30.5 0h1.5m2.5 0h1.5m-0.5 0h1.5m6.5 0h1.5m-59.5 1h1.5m5.5 0h1.5m9.5 0h1.5m4.5 0h1.5m3.5 0h1.5m2.5 0h1.5m-35.5 1h1.5m1.5 0h1.5m5.5 0h1.5m0.5 0h1.5m-18.5 1h1.5m6.5 0h1.5m2.5 0h1.5m0.5 0h1.5m3.5 0h1.5m0.5 0h1.5m0.5 0h1.5m29.5 0h1.5m-49.5 1h1.5m4.5 0h1.5m0.5 0h1.5m-0.5 0h1.5m5.5 0h1.5m3.5 0h1.5m5.5 0h1.5m2.5 0h1.5m37.5 0h1.5m-80.5 1h1.5m2.5 0h1.5m11.5 0h1.5m12.5 0h1.5m-28.5 1h1.5m10.5 0h1.5m0.5 0h1.5m-0.5 0h1.5m0.5 0h1.5m5.5 0h1.5m11.5 0h1.5m-40.5 1h1.5m6.5 0h1.5m8.5 0h1.5m0.5 0h1.5m0.5 0h1.5m26.5 0h1.5m-52.5 1h1.5m5.5 0h1.5m8.5 0h1.5m19.5 0h1.5m20.5 0h1.5m-54.5 1h1.5m1.5 0h1.5m-0.5 0h1.5m0.5 0h1.5m-0.5 0h1.5m6.5 0h1.5m0.5 0h1.5m0.5 0h1.5m-19.5 1h1.5m2.5 0h1.5m7.5 0h1.5m3.5 0h1.5m0.5 0h1.5m-25.5 1h1.5m16.5 0h1.5m12.5 0h1.5m-23.5 1h1.5m2.5 0h1.5m0.5 0h1.5m3.5 0h1.5m0.5 0h1.5m-0.5 0h1.5m17.5 0h1.5m-50.5 2h1.5m10.5 0h1.5m2.5 0h1.5m2.5 0h1.5m4.5 0h1.5m-16.5 1h1.5m3.5 0h1.5m3.5 0h1.5m13.5 0h1.5m-0.5 0h1.5m-23.5 1h1.5m1.5 0h1.5m1.5 0h1.5m17.5 0h1.5m-25.5 1h1.5m-0.5 0h1.5m7.5 0h1.5m2.5 0h1.5m-0.5 0h1.5m-11.5 1h1.5m4.5 0h1.5m-40.5 1h1.5m28.5 0h1.5m0.5 0h1.5m20.5 0h1.5m-27.5 1h1.5m-15.5 1h1.5m1.5 0h1.5m-0.5 0h1.5m16.5 0h1.5m2.5 0h1.5m1.5 0h1.5m0.5 0h1.5m-32.5 1h1.5m13.5 0h1.5m0.5 0h1.5m-0.5 0h1.5m-0.5 0h1.5m1.5 0h1.5m0.5 0h1.5m-22.5 1h1.5m14.5 0h1.5m-0.5 0h1.5m1.5 0h1.5m1.5 0h1.5m-24.5 1h1.5m3.5 0h1.5m9.5 0h1.5m2.5 0h1.5m10.5 0h1.5m-14.5 1h1.5m-0.5 0h1.5m-22.5 1h1.5m7.5 0h1.5m17.5 0h1.5m-16.5 1h1.5m0.5 0h1.5m-0.5 0h1.5m-0.5 0h1.5m6.5 0h1.5m-0.5 0h1.5m-11.5 1h1.5m3.5 0h1.5m-15.5 1h1.5m4.5 0h1.5m-0.5 0h1.5m0.5 0h1.5m-15.5 1h1.5m5.5 0h1.5m2.5 0h1.5m0.5 0h1.5m1.5 0h1.5m7.5 0h1.5m-32.5 1h1.5m3.5 0h1.5m12.5 0h1.5m1.5 0h1.5m2.5 0h1.5m-0.5 0h1.5m-29.5 1h1.5m15.5 0h1.5m11.5 0h1.5m-4.5 1h1.5m2.5 0h1.5m-21.5 1h1.5m-0.5 0h1.5m1.5 0h1.5m4.5 0h1.5m3.5 0h1.5m5.5 0h1.5m-26.5 1h1.5m4.5 0h1.5m-0.5 0h1.5m4.5 0h1.5m5.5 0h1.5m6.5 0h1.5m-18.5 1h1.5m2.5 0h1.5m0.5 0h1.5m0.5 0h1.5m0.5 0h1.5m-15.5 1h1.5m16.5 0h1.5m-37.5 1h1.5m12.5 0h1.5m10.5 0h1.5m2.5 0h1.5m0.5 0h1.5m0.5 0h1.5m-26.5 1h1.5m5.5 0h1.5m6.5 0h1.5m0.5 0h1.5m4.5 0h1.5m1.5 0h1.5m5.5 1h1.5m-30.5 1h1.5m3.5 0h1.5m0.5 0h1.5m5.5 0h1.5m-11.5 1h1.5m6.5 0h1.5m0.5 0h1.5m-16.5 1h1.5m25.5 0h1.5m6.5 0h1.5m-44.5 1h1.5m9.5 0h1.5m-0.5 0h1.5m2.5 0h1.5m9.5 0h1.5m-17.5 2h1.5m-3.5 1h1.5m3.5 0h1.5m14.5 0h1.5m-0.5 0h1.5m16.5 0h1.5m-29.5 1h1.5m-9.5 1h1.5m6.5 2h1.5m1.5 0h1.5m-7.5 1h1.5m12.5 0h1.5m-24.5 1h1.5m0.5 0h1.5m-7.5 1h1.5m10.5 0h1.5m8.5 0h1.5m3.5 0h1.5m-18.5 1h1.5m0.5 0h1.5m3.5 0h1.5m-8.5 2h1.5m13.5 2h1.5m-21.5 3h1.5m0.5 4h1.5m7.5 0h1.5m-11.5 6h1.5" stroke="#1a1aff" stroke-width="1.5"/>
<path d="M310 1935h1.5m4.5 6h1.5m-1.5 4h1.5m5.5 2h1.5m-9.5 1h1.5m-5.5 2h1.5m7.5 2h1.5m-3.5 1h1.5m8.5 1h1.5m-20.5 2h1.5m7.5 0h1.5m0.5 0h1.5m3.5 0h1.5m3.5 0h1.5m-10.5 2h1.5m-15.5 1h1.5m7.5 2h1.5m0.5 1h1.5m0.5 0h1.5m3.5 0h1.5m-14.5 1h1.5m-0.5 1h1.5m4.5 0h1.5m28.5 1h1.5m-36.5 1h1.5m3.5 0h1.5m28.5 0h1.5m-30.5 1h1.5m-15.5 1h1.5m7.5 0h1.5m1.5 1h1.5m3.5 0h1.5m-13.5 1h1.5m5.5 0h1.5m3.5 0h1.5m0.5 3h1.5m-10.5 1h1.5m-0.5 0h1.5m2.5 0h1.5m-16.5 1h1.5m3.5 1h1.5m-0.5 1h1.5m5.5 0h1.5m0.5 0h1.5m0.5 2h1.5m-11.5 1h1.5m8.5 4h1.5" stroke="#ffb020" stroke-width="1.5"/>
<path d="M316 1955h1.5m7.5 2h1.5m-2.5 11h1.5m1.5 6h1.5" stroke="#ff2020" stroke-width="1.5"/>
<rect x="237.4" y="1792.4" width="280.5" height="279.6" fill="none" stroke="#444" stroke-width="1.6"/>
<path d="M333.0 1792.4V2072.0M237.4 1920.9H517.9" stroke="#000" stroke-width="2.2"/>
<text x="246.2" y="1810.9" font-size="16.71" textLength="59.1" lengthAdjust="spacingAndGlyphs" style="font-weight:bold">Q1:3.75</text>
<text x="451.9" y="1810.9" font-size="16.71" textLength="59.1" lengthAdjust="spacingAndGlyphs" style="font-weight:bold">Q2:7.57</text>
<text x="246.2" y="2065.2" font-size="16.71" textLength="59.1" lengthAdjust="spacingAndGlyphs" style="font-weight:bold">Q4:54.5</text>
<text x="450.9" y="2065.2" font-size="16.71" textLength="59.1" lengthAdjust="spacingAndGlyphs" style="font-weight:bold">Q3:34.2</text>
<text x="296.0" y="2124.0" font-size="24.00" textLength="168.8" lengthAdjust="spacingAndGlyphs" style="font-weight:bold">CD8(APC/Cy7)</text>
<text x="0" y="0" font-size="23.53" transform="translate(194.1,2002.0) rotate(-90)" textLength="126.1" lengthAdjust="spacingAndGlyphs" style="font-weight:bold">GITR(APC)</text>
<text x="233.9" y="2102.0" font-size="16.43" style="font-weight:bold">-10</text>
<text x="256.3" y="2092.7" font-size="11.43" style="font-weight:bold">3</text>
<text x="337.1" y="2102.0" font-size="16.43" style="font-weight:bold">10</text>
<text x="355.2" y="2092.7" font-size="11.43" style="font-weight:bold">3</text>
<text x="413.1" y="2102.0" font-size="16.43" style="font-weight:bold">10</text>
<text x="431.3" y="2092.7" font-size="11.59" style="font-weight:bold">4</text>
<text x="478.2" y="2102.0" font-size="16.43" style="font-weight:bold">10</text>
<text x="496.2" y="2092.7" font-size="11.59" style="font-weight:bold">5</text>
<text x="294.3" y="2102.0" font-size="16.43" style="font-weight:bold">0</text>
<text x="203.6" y="1825.3" font-size="16.43" style="font-weight:bold">10</text>
<text x="221.1" y="1816.3" font-size="12.61" style="font-weight:bold">5</text>
<text x="203.2" y="1890.1" font-size="16.43" style="font-weight:bold">10</text>
<text x="220.9" y="1881.1" font-size="12.61" style="font-weight:bold">4</text>
<text x="203.7" y="1965.9" font-size="16.43" style="font-weight:bold">10</text>
<text x="221.2" y="1956.9" font-size="12.43" style="font-weight:bold">3</text>
<text x="198.2" y="2064.6" font-size="16.43" style="font-weight:bold">-10</text>
<text x="221.2" y="2055.6" font-size="12.43" style="font-weight:bold">3</text>
<text x="211.8" y="2016.8" font-size="16.43" style="font-weight:bold">0</text>
<path d="M661.1 2071.6v4M604.7 2015.5h-4M671.0 2071.6v4M604.7 2005.7h-4M656.3 2071.6v4M604.7 2020.3h-4M676.1 2071.6v4M604.7 2000.6h-4M651.5 2071.6v4M604.7 2025.1h-4M681.2 2071.6v4M604.7 1995.5h-4M646.7 2071.6v4M604.7 2029.8h-4M686.4 2071.6v4M604.7 1990.4h-4M641.9 2071.6v4M604.7 2034.6h-4M691.5 2071.6v4M604.7 1985.3h-4M637.1 2071.6v4M604.7 2039.4h-4M696.6 2071.6v4M604.7 1980.2h-4M632.3 2071.6v4M604.7 2044.2h-4M701.7 2071.6v4M604.7 1975.2h-4M627.5 2071.6v4M604.7 2048.9h-4M706.8 2071.6v4M604.7 1970.1h-4M622.7 2071.6v4M604.7 2053.7h-4M711.9 2071.6v4M604.7 1965.0h-4M739.9 2071.6v4M604.7 1937.1h-4M753.3 2071.6v4M604.7 1923.8h-4M762.8 2071.6v4M604.7 1914.4h-4M770.2 2071.6v4M604.7 1907.0h-4M776.2 2071.6v4M604.7 1901.0h-4M781.3 2071.6v4M604.7 1896.0h-4M785.7 2071.6v4M604.7 1891.6h-4M789.6 2071.6v4M604.7 1887.7h-4M812.7 2071.6v4M604.7 1864.8h-4M824.2 2071.6v4M604.7 1853.4h-4M832.3 2071.6v4M604.7 1845.3h-4M838.7 2071.6v4M604.7 1839.0h-4M843.8 2071.6v4M604.7 1833.9h-4M848.2 2071.6v4M604.7 1829.5h-4M851.9 2071.6v4M604.7 1825.8h-4M855.3 2071.6v4M604.7 1822.4h-4M877.9 2071.6v4M604.7 1800.0h-4" stroke="#222" stroke-width="1.3" fill="none"/>
<path d="M617.9 2071.6v7M604.7 2058.5h-7M717.0 2071.6v7M604.7 1959.9h-7M793.1 2071.6v7M604.7 1884.3h-7M858.3 2071.6v7M604.7 1819.5h-7" stroke="#111" stroke-width="2" fill="none"/>
<path d="M659.9 2071.6v6M604.7 2016.7h-6M661.4 2071.6v6M604.7 2015.2h-6M662.9 2071.6v7M604.7 2013.7h-7M664.4 2071.6v7M604.7 2012.2h-7M665.9 2071.6v7M604.7 2010.7h-7M667.4 2071.6v7M604.7 2009.2h-7M668.9 2071.6v7M604.7 2007.7h-7M670.4 2071.6v6M604.7 2006.2h-6M671.9 2071.6v6M604.7 2004.7h-6" stroke="#111" stroke-width="1.4" fill="none"/>
<path d="M813 1800h1.5m-13.5 21h1.5m17.5 0h1.5m-24.5 1h1.5m7.5 0h1.5m8.5 0h1.5m-14.5 1h1.5m4.5 0h1.5m9.5 0h1.5m-26.5 1h1.5m4.5 0h1.5m8.5 0h1.5m2.5 0h1.5m0.5 0h1.5m3.5 0h1.5m-33.5 1h1.5m2.5 0h1.5m12.5 0h1.5m1.5 0h1.5m0.5 0h1.5m4.5 0h1.5m6.5 0h1.5m-37.5 1h1.5m3.5 0h1.5m3.5 0h1.5m6.5 0h1.5m-0.5 0h1.5m3.5 0h1.5m3.5 0h1.5m8.5 0h1.5m-39.5 1h1.5m-0.5 0h1.5m6.5 0h1.5m2.5 0h1.5m1.5 0h1.5m3.5 0h1.5m7.5 0h1.5m-38.5 1h1.5m7.5 0h1.5m8.5 0h1.5m-0.5 0h1.5m0.5 0h1.5m1.5 0h1.5m13.5 0h1.5m-0.5 0h1.5m3.5 0h1.5m-48.5 1h1.5m9.5 0h1.5m5.5 0h1.5m1.5 0h1.5m-0.5 0h1.5m9.5 0h1.5m3.5 0h1.5m-36.5 1h1.5m1.5 0h1.5m7.5 0h1.5m2.5 0h1.5m0.5 0h1.5m-0.5 0h1.5m-0.5 0h1.5m2.5 0h1.5m2.5 0h1.5m11.5 0h1.5m-46.5 1h1.5m-0.5 0h1.5m0.5 0h1.5m6.5 0h1.5m7.5 0h1.5m2.5 0h1.5m2.5 0h1.5m0.5 0h1.5m2.5 0h1.5m1.5 0h1.5m-36.5 1h1.5m3.5 0h1.5m1.5 0h1.5m7.5 0h1.5m1.5 0h1.5m0.5 0h1.5m-0.5 0h1.5m2.5 0h1.5m4.5 0h1.5m-0.5 0h1.5m0.5 0h1.5m-0.5 0h1.5m4.5 0h1.5m-25.5 1h1.5m0.5 0h1.5m-0.5 0h1.5m6.5 0h1.5m2.5 0h1.5m2.5 0h1.5m-49.5 1h1.5m2.5 0h1.5m7.5 0h1.5m0.5 0h1.5m0.5 0h1.5m0.5 0h1.5m1.5 0h1.5m1.5 0h1.5m9.5 0h1.5m-26.5 1h1.5m1.5 0h1.5m1.5 0h1.5m-0.5 0h1.5m1.5 0h1.5m0.5 0h1.5m-0.5 0h1.5m-0.5 0h1.5m2.5 0h1.5m0.5 0h1.5m0.5 0h1.5m4.5 0h1.5m13.5 0h1.5m-50.5 1h1.5m1.5 0h1.5m6.5 0h1.5m1.5 0h1.5m-0.5 0h1.5m1.5 0h1.5m3.5 0h1.5m2.5 0h1.5m2.5 0h1.5m7.5 0h1.5m-0.5 0h1.5m0.5 0h1.5m-45.5 1h1.5m5.5 0h1.5m-0.5 0h1.5m2.5 0h1.5m11.5 0h1.5m-0.5 0h1.5m1.5 0h1.5m2.5 0h1.5m2.5 0h1.5m0.5 0h1.5m0.5 0h1.5m21.5 0h1.5m-66.5 1h1.5m8.5 0h1.5m-0.5 0h1.5m3.5 0h1.5m8.5 0h1.5m16.5 0h1.5m-54.5 1h1.5m19.5 0h1.5m1.5 0h1.5m1.5 0h1.5m0.5 0h1.5m15.5 0h1.5m8.5 0h1.5m9.5 0h1.5m-54.5 1h1.5m-0.5 0h1.5m0.5 0h1.5m3.5 0h1.5m-0.5 0h1.5m-0.5 0h1.5m1.5 0h1.5m1.5 0h1.5m-0.5 0h1.5m2.5 0h1.5m0.5 0h1.5m3.5 0h1.5m0.5 0h1.5m1.5 0h1.5m0.5 0h1.5m2.5 0h1.5m31.5 0h1.5m-82.5 1h1.5m4.5 0h1.5m8.5 0h1.5m3.5 0h1.5m4.5 0h1.5m6.5 0h1.5m1.5 0h1.5m19.5 0h1.5m-56.5 1h1.5m4.5 0h1.5m2.5 0h1.5m2.5 0h1.5m0.5 0h1.5m8.5 0h1.5m8.5 0h1.5m-29.5 1h1.5m11.5 0h1.5m1.5 0h1.5m-0.5 0h1.5m3.5 0h1.5m3.5 0h1.5m8.5 0h1.5m14.5 0h1.5m-57.5 1h1.5m0.5 0h1.5m2.5 0h1.5m10.5 0h1.5m2.5 0h1.5m22.5 0h1.5m8.5 0h1.5m20.5 0h1.5m-88.5 1h1.5m3.5 0h1.5m2.5 0h1.5m2.5 0h1.5m0.5 0h1.5m-0.5 0h1.5m37.5 0h1.5m2.5 0h1.5m3.5 0h1.5m0.5 0h1.5m1.5 0h1.5m-0.5 0h1.5m-68.5 1h1.5m57.5 0h1.5m1.5 0h1.5m-52.5 1h1.5m1.5 0h1.5m5.5 0h1.5m5.5 0h1.5m21.5 0h1.5m-0.5 0h1.5m6.5 0h1.5m7.5 0h1.5m-73.5 1h1.5m13.5 0h1.5m5.5 0h1.5m3.5 0h1.5m32.5 0h1.5m-0.5 0h1.5m-0.5 0h1.5m-0.5 0h1.5m-0.5 0h1.5m1.5 0h1.5m1.5 0h1.5m6.5 0h1.5m-57.5 1h1.5m25.5 0h1.5m5.5 0h1.5m4.5 0h1.5m-0.5 0h1.5m0.5 0h1.5m1.5 0h1.5m0.5 0h1.5m5.5 0h1.5m-119.5 1h1.5m34.5 0h1.5m21.5 0h1.5m31.5 0h1.5m2.5 0h1.5m-0.5 0h1.5m0.5 0h1.5m0.5 0h1.5m1.5 0h1.5m-0.5 0h1.5m6.5 0h1.5m-66.5 1h1.5m4.5 0h1.5m37.5 0h1.5m2.5 0h1.5m-0.5 0h1.5m2.5 0h1.5m-0.5 0h1.5m-0.5 0h1.5m4.5 0h1.5m0.5 0h1.5m0.5 0h1.5m0.5 0h1.5m1.5 0h1.5m-24.5 1h1.5m4.5 0h1.5m2.5 0h1.5m-0.5 0h1.5m-51.5 1h1.5m8.5 0h1.5m28.5 0h1.5m-0.5 0h1.5m-0.5 0h1.5m-0.5 0h1.5m-0.5 0h1.5m5.5 0h1.5m2.5 0h1.5m0.5 0h1.5m0.5 0h1.5m-43.5 1h1.5m19.5 0h1.5m2.5 0h1.5m-0.5 0h1.5m-0.5 0h1.5m14.5 0h1.5m-95.5 1h1.5m67.5 0h1.5m3.5 0h1.5m0.5 0h1.5m0.5 0h1.5m-0.5 0h1.5m1.5 0h1.5m-0.5 0h1.5m-0.5 0h1.5m-0.5 0h1.5m-0.5 0h1.5m-0.5 0h1.5m-24.5 1h1.5m7.5 0h1.5m0.5 0h1.5m-0.5 0h1.5m0.5 0h1.5m1.5 0h1.5m2.5 0h1.5m0.5 0h1.5m0.5 0h1.5m-175.5 1h1.5m94.5 0h1.5m3.5 0h1.5m52.5 0h1.5m4.5 0h1.5m-0.5 0h1.5m1.5 0h1.5m-0.5 0h1.5m1.5 0h1.5m0.5 0h1.5m-0.5 0h1.5m-174.5 1h1.5m-0.5 0h1.5m5.5 0h1.5m150.5 0h1.5m1.5 0h1.5m8.5 0h1.5m-0.5 0h1.5m2.5 0h1.5m-178.5 1h1.5m88.5 0h1.5m3.5 0h1.5m1.5 0h1.5m65.5 0h1.5m4.5 0h1.5m-70.5 1h1.5m8.5 0h1.5m41.5 0h1.5m10.5 0h1.5m3.5 0h1.5m-178.5 1h1.5m7.5 0h1.5m92.5 0h1.5m63.5 0h1.5m4.5 0h1.5m-0.5 0h1.5m0.5 0h1.5m-168.5 1h1.5m149.5 0h1.5m1.5 1h1.5m3.5 0h1.5m4.5 0h1.5m1.5 0h1.5m-19.5 1h1.5m14.5 0h1.5m-17.5 1h1.5m9.5 0h1.5m1.5 0h1.5m-72.5 1h1.5m51.5 0h1.5m1.5 0h1.5m6.5 0h1.5m-164.5 1h1.5m2.5 0h1.5m150.5 0h1.5m4.5 0h1.5m-154.5 1h1.5m77.5 0h1.5m52.5 0h1.5m22.5 1h1.5m0.5 0h1.5m-87.5 1h1.5m8.5 0h1.5m-85.5 1h1.5m72.5 0h1.5m81.5 0h1.5m-62.5 1h1.5m-111.5 1h1.5m22.5 0h1.5m58.5 0h1.5m-81.5 1h1.5m1.5 0h1.5m10.5 0h1.5m69.5 0h1.5m-83.5 1h1.5m4.5 0h1.5m74.5 0h1.5m-80.5 2h1.5m67.5 0h1.5m6.5 0h1.5m7.5 0h1.5m-89.5 1h1.5m3.5 0h1.5m67.5 0h1.5m-80.5 1h1.5m5.5 0h1.5m65.5 0h1.5m14.5 0h1.5m1.5 0h1.5m-91.5 1h1.5m0.5 0h1.5m1.5 0h1.5m1.5 0h1.5m73.5 0h1.5m-90.5 1h1.5m1.5 0h1.5m6.5 0h1.5m70.5 0h1.5m-0.5 0h1.5m-66.5 1h1.5m64.5 0h1.5m3.5 0h1.5m-0.5 0h1.5m8.5 0h1.5m-101.5 1h1.5m4.5 0h1.5m-3.5 1h1.5m2.5 1h1.5m69.5 0h1.5m-79.5 1h1.5m71.5 0h1.5m22.5 2h1.5m-101.5 1h1.5m76.5 0h1.5m-71.5 1h1.5m7.5 0h1.5m-18.5 1h1.5m9.5 0h1.5m5.5 0h1.5m-11.5 1h1.5m-9.5 1h1.5m5.5 0h1.5m6.5 1h1.5m-13.5 1h1.5m12.5 0h1.5m56.5 0h1.5m-64.5 1h1.5m0.5 0h1.5m51.5 0h1.5m16.5 0h1.5m1.5 0h1.5m-81.5 1h1.5m60.5 0h1.5m-60.5 1h1.5m75.5 0h1.5m-76.5 1h1.5m52.5 0h1.5m-54.5 1h1.5m-0.5 0h1.5m56.5 0h1.5m-61.5 1h1.5m55.5 0h1.5m-65.5 1h1.5m49.5 0h1.5m20.5 0h1.5m-80.5 1h1.5m5.5 0h1.5m-10.5 1h1.5m82.5 0h1.5m-71.5 1h1.5m51.5 0h1.5m6.5 0h1.5m2.5 0h1.5m-79.5 1h1.5m83.5 0h1.5m-76.5 1h1.5m48.5 0h1.5m-56.5 1h1.5m46.5 0h1.5m-42.5 1h1.5m-0.5 0h1.5m58.5 0h1.5m-76.5 1h1.5m12.5 0h1.5m42.5 0h1.5m10.5 0h1.5m-66.5 1h1.5m10.5 1h1.5m46.5 0h1.5m-8.5 2h1.5m7.5 0h1.5m5.5 0h1.5m-63.5 1h1.5m-8.5 1h1.5m17.5 0h1.5m40.5 0h1.5m-56.5 3h1.5m-2.5 1h1.5m48.5 0h1.5m-45.5 1h1.5m-7.5 2h1.5m-0.5 1h1.5m21.5 0h1.5m-18.5 1h1.5m6.5 0h1.5m-11.5 1h1.5m1.5 0h1.5m-17.5 1h1.5m14.5 0h1.5m-7.5 1h1.5m33.5 0h1.5m-38.5 1h1.5m19.5 0h1.5m25.5 0h1.5m28.5 0h1.5m-81.5 2h1.5m12.5 0h1.5m-16.5 1h1.5m1.5 0h1.5m5.5 0h1.5m-0.5 0h1.5m46.5 0h1.5m24.5 0h1.5m-69.5 1h1.5m6.5 0h1.5m-21.5 1h1.5m11.5 0h1.5m54.5 0h1.5m8.5 0h1.5m12.5 0h1.5m-89.5 1h1.5m0.5 0h1.5m2.5 0h1.5m-3.5 1h1.5m12.5 0h1.5m-31.5 1h1.5m12.5 0h1.5m-0.5 0h1.5m0.5 0h1.5m3.5 0h1.5m4.5 0h1.5m1.5 0h1.5m0.5 0h1.5m30.5 0h1.5m-48.5 1h1.5m0.5 0h1.5m0.5 0h1.5m9.5 0h1.5m-21.5 1h1.5m0.5 0h1.5m-13.5 1h1.5m5.5 0h1.5m-0.5 0h1.5m3.5 0h1.5m-16.5 1h1.5m0.5 0h1.5m2.5 0h1.5m-0.5 0h1.5m3.5 0h1.5m4.5 0h1.5m2.5 0h1.5m-0.5 0h1.5m4.5 0h1.5m-33.5 1h1.5m6.5 0h1.5m-0.5 0h1.5m2.5 0h1.5m-0.5 0h1.5m2.5 0h1.5m-0.5 0h1.5m1.5 0h1.5m7.5 0h1.5m37.5 0h1.5m36.5 0h1.5m-103.5 1h1.5m0.5 0h1.5m14.5 0h1.5m-0.5 0h1.5m1.5 0h1.5m49.5 0h1.5m24.5 0h1.5m-86.5 1h1.5m2.5 0h1.5m2.5 0h1.5m44.5 0h1.5m-80.5 1h1.5m12.5 0h1.5m10.5 0h1.5m5.5 0h1.5m2.5 0h1.5m47.5 0h1.5m-66.5 1h1.5m0.5 0h1.5m1.5 0h1.5m-0.5 0h1.5m-0.5 0h1.5m-0.5 0h1.5m-0.5 0h1.5m-0.5 0h1.5m0.5 0h1.5m-0.5 0h1.5m5.5 0h1.5m-26.5 1h1.5m1.5 0h1.5m1.5 0h1.5m0.5 0h1.5m3.5 0h1.5m-0.5 0h1.5m50.5 0h1.5m10.5 0h1.5m4.5 0h1.5m-91.5 1h1.5m4.5 0h1.5m1.5 0h1.5m-0.5 0h1.5m0.5 0h1.5m0.5 0h1.5m2.5 0h1.5m0.5 0h1.5m4.5 0h1.5m20.5 0h1.5m16.5 0h1.5m-0.5 0h1.5m17.5 0h1.5m-92.5 1h1.5m5.5 0h1.5m2.5 0h1.5m-0.5 0h1.5m1.5 0h1.5m5.5 0h1.5m2.5 0h1.5m1.5 0h1.5m51.5 0h1.5m-100.5 1h1.5m26.5 0h1.5m-0.5 0h1.5m3.5 0h1.5m-0.5 0h1.5m-0.5 0h1.5m0.5 0h1.5m1.5 0h1.5m1.5 0h1.5m6.5 0h1.5m37.5 0h1.5m19.5 0h1.5m0.5 0h1.5m-0.5 0h1.5m-106.5 1h1.5m14.5 0h1.5m2.5 0h1.5m0.5 0h1.5m6.5 0h1.5m0.5 0h1.5m-0.5 0h1.5m2.5 0h1.5m-0.5 0h1.5m4.5 0h1.5m35.5 0h1.5m0.5 0h1.5m17.5 0h1.5m7.5 0h1.5m-108.5 1h1.5m0.5 0h1.5m8.5 0h1.5m4.5 0h1.5m2.5 0h1.5m6.5 0h1.5m8.5 0h1.5m23.5 0h1.5m51.5 0h1.5m-127.5 1h1.5m13.5 0h1.5m9.5 0h1.5m1.5 0h1.5m20.5 0h1.5m19.5 0h1.5m12.5 0h1.5m-68.5 1h1.5m-0.5 0h1.5m1.5 0h1.5m0.5 0h1.5m6.5 0h1.5m-0.5 0h1.5m7.5 0h1.5m2.5 0h1.5m33.5 0h1.5m11.5 0h1.5m13.5 0h1.5m10.5 0h1.5m-108.5 1h1.5m1.5 0h1.5m9.5 0h1.5m-0.5 0h1.5m0.5 0h1.5m0.5 0h1.5m-0.5 0h1.5m11.5 0h1.5m40.5 0h1.5m12.5 0h1.5m-97.5 1h1.5m2.5 0h1.5m2.5 0h1.5m0.5 0h1.5m1.5 0h1.5m1.5 0h1.5m-0.5 0h1.5m0.5 0h1.5m1.5 0h1.5m1.5 0h1.5m5.5 0h1.5m38.5 0h1.5m0.5 0h1.5m-76.5 1h1.5m8.5 0h1.5m-0.5 0h1.5m6.5 0h1.5m2.5 0h1.5m4.5 0h1.5m-0.5 0h1.5m34.5 0h1.5m20.5 0h1.5m16.5 0h1.5m-106.5 1h1.5m5.5 0h1.5m1.5 0h1.5m0.5 0h1.5m0.5 0h1.5m4.5 0h1.5m-0.5 0h1.5m-0.5 0h1.5m0.5 0h1.5m0.5 0h1.5m9.5 0h1.5m51.5 0h1.5m-81.5 1h1.5m-0.5 0h1.5m0.5 0h1.5m-0.5 0h1.5m2.5 0h1.5m-0.5 0h1.5m0.5 0h1.5m11.5 0h1.5m3.5 0h1.5m-0.5 0h1.5m24.5 0h1.5m0.5 0h1.5m17.5 0h1.5m-90.5 1h1.5m3.5 0h1.5m0.5 0h1.5m5.5 0h1.5m-0.5 0h1.5m1.5 0h1.5m-0.5 0h1.5m4.5 0h1.5m-0.5 0h1.5m0.5 0h1.5m-0.5 0h1.5m2.5 0h1.5m-0.5 0h1.5m-0.5 0h1.5m-0.5 0h1.5m-0.5 0h1.5m53.5 0h1.5m-86.5 1h1.5m-0.5 0h1.5m3.5 0h1.5m1.5 0h1.5m0.5 0h1.5m1.5 0h1.5m2.5 0h1.5m2.5 0h1.5m2.5 0h1.5m5.5 0h1.5m0.5 0h1.5m23.5 0h1.5m6.5 0h1.5m1.5 0h1.5m9.5 0h1.5m14.5 0h1.5m-113.5 1h1.5m10.5 0h1.5m-0.5 0h1.5m2.5 0h1.5m0.5 0h1.5m2.5 0h1.5m-0.5 0h1.5m2.5 0h1.5m3.5 0h1.5m0.5 0h1.5m-0.5 0h1.5m14.5 0h1.5m10.5 0h1.5m21.5 0h1.5m3.5 0h1.5m23.5 0h1.5m7.5 0h1.5m1.5 0h1.5m-115.5 1h1.5m1.5 0h1.5m-0.5 0h1.5m-0.5 0h1.5m0.5 0h1.5m0.5 0h1.5m2.5 0h1.5m1.5 0h1.5m-0.5 0h1.5m1.5 0h1.5m5.5 0h1.5m29.5 0h1.5m4.5 0h1.5m26.5 0h1.5m1.5 0h1.5m16.5 0h1.5m-122.5 1h1.5m6.5 0h1.5m3.5 0h1.5m0.5 0h1.5m0.5 0h1.5m0.5 0h1.5m4.5 0h1.5m0.5 0h1.5m2.5 0h1.5m-0.5 0h1.5m1.5 0h1.5m-0.5 0h1.5m2.5 0h1.5m1.5 0h1.5m30.5 0h1.5m1.5 0h1.5m-75.5 1h1.5m-0.5 0h1.5m5.5 0h1.5m3.5 0h1.5m-0.5 0h1.5m4.5 0h1.5m-0.5 0h1.5m-0.5 0h1.5m0.5 0h1.5m5.5 0h1.5m1.5 0h1.5m-0.5 0h1.5m4.5 0h1.5m21.5 0h1.5m11.5 0h1.5m14.5 0h1.5m-96.5 1h1.5m-0.5 0h1.5m1.5 0h1.5m0.5 0h1.5m-0.5 0h1.5m2.5 0h1.5m0.5 0h1.5m-0.5 0h1.5m2.5 0h1.5m0.5 0h1.5m0.5 0h1.5m-0.5 0h1.5m7.5 0h1.5m2.5 0h1.5m1.5 0h1.5m68.5 0h1.5m6.5 0h1.5m-117.5 1h1.5m5.5 0h1.5m4.5 0h1.5m6.5 0h1.5m-0.5 0h1.5m2.5 0h1.5m0.5 0h1.5m5.5 0h1.5m6.5 0h1.5m34.5 0h1.5m12.5 0h1.5m29.5 0h1.5m-125.5 1h1.5m5.5 0h1.5m3.5 0h1.5m-0.5 0h1.5m3.5 0h1.5m-0.5 0h1.5m-0.5 0h1.5m6.5 0h1.5m6.5 0h1.5m34.5 0h1.5m8.5 0h1.5m14.5 0h1.5m-101.5 1h1.5m5.5 0h1.5m3.5 0h1.5m-0.5 0h1.5m1.5 0h1.5m-0.5 0h1.5m0.5 0h1.5m5.5 0h1.5m0.5 0h1.5m5.5 0h1.5m8.5 0h1.5m22.5 0h1.5m23.5 0h1.5m22.5 0h1.5m4.5 0h1.5m-123.5 1h1.5m6.5 0h1.5m-0.5 0h1.5m2.5 0h1.5m-0.5 0h1.5m0.5 0h1.5m-0.5 0h1.5m-0.5 0h1.5m-0.5 0h1.5m0.5 0h1.5m1.5 0h1.5m7.5 0h1.5m3.5 0h1.5m0.5 0h1.5m23.5 0h1.5m9.5 0h1.5m22.5 0h1.5m-82.5 1h1.5m1.5 0h1.5m-0.5 0h1.5m-0.5 0h1.5m-0.5 0h1.5m1.5 0h1.5m-0.5 0h1.5m-0.5 0h1.5m11.5 0h1.5m0.5 0h1.5m13.5 0h1.5m13.5 0h1.5m48.5 0h1.5m-121.5 1h1.5m3.5 0h1.5m0.5 0h1.5m0.5 0h1.5m1.5 0h1.5m1.5 0h1.5m0.5 0h1.5m1.5 0h1.5m0.5 0h1.5m-0.5 0h1.5m0.5 0h1.5m-0.5 0h1.5m2.5 0h1.5m14.5 0h1.5m19.5 0h1.5m19.5 0h1.5m1.5 0h1.5m-94.5 1h1.5m2.5 0h1.5m-0.5 0h1.5m-0.5 0h1.5m-0.5 0h1.5m0.5 0h1.5m-0.5 0h1.5m-0.5 0h1.5m1.5 0h1.5m0.5 0h1.5m-0.5 0h1.5m-0.5 0h1.5m-0.5 0h1.5m3.5 0h1.5m0.5 0h1.5m12.5 0h1.5m27.5 0h1.5m19.5 0h1.5m-0.5 0h1.5m9.5 0h1.5m-101.5 1h1.5m-0.5 0h1.5m8.5 0h1.5m-0.5 0h1.5m-0.5 0h1.5m0.5 0h1.5m-0.5 0h1.5m0.5 0h1.5m7.5 0h1.5m0.5 0h1.5m0.5 0h1.5m23.5 0h1.5m30.5 0h1.5m3.5 0h1.5m6.5 0h1.5m2.5 0h1.5m-115.5 1h1.5m6.5 0h1.5m1.5 0h1.5m-0.5 0h1.5m0.5 0h1.5m0.5 0h1.5m-0.5 0h1.5m1.5 0h1.5m-0.5 0h1.5m-0.5 0h1.5m1.5 0h1.5m0.5 0h1.5m-0.5 0h1.5m0.5 0h1.5m5.5 0h1.5m2.5 0h1.5m6.5 0h1.5m39.5 0h1.5m3.5 0h1.5m1.5 0h1.5m0.5 0h1.5m7.5 0h1.5m-0.5 0h1.5m-113.5 1h1.5m13.5 0h1.5m-0.5 0h1.5m1.5 0h1.5m6.5 0h1.5m1.5 0h1.5m-0.5 0h1.5m1.5 0h1.5m-0.5 0h1.5m0.5 0h1.5m7.5 0h1.5m12.5 0h1.5m15.5 0h1.5m10.5 0h1.5m19.5 0h1.5m6.5 0h1.5m6.5 0h1.5m-113.5 1h1.5m-0.5 0h1.5m7.5 0h1.5m-0.5 0h1.5m-0.5 0h1.5m-0.5 0h1.5m-0.5 0h1.5m0.5 0h1.5m0.5 0h1.5m3.5 0h1.5m0.5 0h1.5m0.5 0h1.5m33.5 0h1.5m8.5 0h1.5m2.5 0h1.5m1.5 0h1.5m6.5 0h1.5m9.5 0h1.5m-111.5 1h1.5m7.5 0h1.5m1.5 0h1.5m0.5 0h1.5m0.5 0h1.5m-0.5 0h1.5m1.5 0h1.5m2.5 0h1.5m-0.5 0h1.5m2.5 0h1.5m-0.5 0h1.5m2.5 0h1.5m-0.5 0h1.5m1.5 0h1.5m7.5 0h1.5m10.5 0h1.5m20.5 0h1.5m4.5 0h1.5m0.5 0h1.5m2.5 0h1.5m10.5 0h1.5m11.5 0h1.5m-115.5 1h1.5m6.5 0h1.5m0.5 0h1.5m1.5 0h1.5m-0.5 0h1.5m0.5 0h1.5m2.5 0h1.5m-0.5 0h1.5m1.5 0h1.5m-0.5 0h1.5m-0.5 0h1.5m2.5 0h1.5m-0.5 0h1.5m0.5 0h1.5m-0.5 0h1.5m25.5 0h1.5m11.5 0h1.5m18.5 0h1.5m0.5 0h1.5m-95.5 1h1.5m11.5 0h1.5m4.5 0h1.5m-0.5 0h1.5m-0.5 0h1.5m0.5 0h1.5m0.5 0h1.5m6.5 0h1.5m1.5 0h1.5m0.5 0h1.5m31.5 0h1.5m25.5 0h1.5m11.5 0h1.5m-128.5 1h1.5m16.5 0h1.5m1.5 0h1.5m0.5 0h1.5m0.5 0h1.5m-0.5 0h1.5m3.5 0h1.5m-0.5 0h1.5m-0.5 0h1.5m0.5 0h1.5m2.5 0h1.5m0.5 0h1.5m-0.5 0h1.5m-0.5 0h1.5m2.5 0h1.5m7.5 0h1.5m32.5 0h1.5m2.5 0h1.5m11.5 0h1.5m21.5 0h1.5m-118.5 1h1.5m5.5 0h1.5m1.5 0h1.5m0.5 0h1.5m-0.5 0h1.5m-0.5 0h1.5m2.5 0h1.5m0.5 0h1.5m1.5 0h1.5m4.5 0h1.5m0.5 0h1.5m-0.5 0h1.5m0.5 0h1.5m1.5 0h1.5m5.5 0h1.5m-0.5 0h1.5m13.5 0h1.5m7.5 0h1.5m5.5 0h1.5m14.5 0h1.5m11.5 0h1.5m-101.5 1h1.5m0.5 0h1.5m9.5 0h1.5m-0.5 0h1.5m-0.5 0h1.5m1.5 0h1.5m4.5 0h1.5m-0.5 0h1.5m-0.5 0h1.5m13.5 0h1.5m28.5 0h1.5m2.5 0h1.5m25.5 0h1.5m14.5 0h1.5m-110.5 1h1.5m-0.5 0h1.5m-0.5 0h1.5m-0.5 0h1.5m4.5 0h1.5m0.5 0h1.5m-0.5 0h1.5m7.5 0h1.5m-0.5 0h1.5m7.5 0h1.5m38.5 0h1.5m6.5 0h1.5m-95.5 1h1.5m5.5 0h1.5m-0.5 0h1.5m1.5 0h1.5m0.5 0h1.5m0.5 0h1.5m-0.5 0h1.5m0.5 0h1.5m0.5 0h1.5m-0.5 0h1.5m-0.5 0h1.5m0.5 0h1.5m-0.5 0h1.5m1.5 0h1.5m-0.5 0h1.5m7.5 0h1.5m0.5 0h1.5m-0.5 0h1.5m17.5 0h1.5m-47.5 1h1.5m0.5 0h1.5m1.5 0h1.5m1.5 0h1.5m-0.5 0h1.5m2.5 0h1.5m0.5 0h1.5m-0.5 0h1.5m2.5 0h1.5m2.5 0h1.5m-0.5 0h1.5m64.5 0h1.5m-105.5 1h1.5m3.5 0h1.5m4.5 0h1.5m0.5 0h1.5m-0.5 0h1.5m-0.5 0h1.5m1.5 0h1.5m0.5 0h1.5m2.5 0h1.5m1.5 0h1.5m-0.5 0h1.5m-0.5 0h1.5m2.5 0h1.5m0.5 0h1.5m45.5 0h1.5m7.5 0h1.5m47.5 0h1.5m-139.5 1h1.5m3.5 0h1.5m2.5 0h1.5m5.5 0h1.5m1.5 0h1.5m0.5 0h1.5m10.5 0h1.5m13.5 0h1.5m33.5 0h1.5m9.5 0h1.5m5.5 0h1.5m-101.5 1h1.5m7.5 0h1.5m8.5 0h1.5m-0.5 0h1.5m11.5 0h1.5m-0.5 0h1.5m22.5 0h1.5m3.5 0h1.5m9.5 0h1.5m17.5 0h1.5m-86.5 1h1.5m-0.5 0h1.5m-0.5 0h1.5m0.5 0h1.5m1.5 0h1.5m2.5 0h1.5m0.5 0h1.5m0.5 0h1.5m-0.5 0h1.5m5.5 0h1.5m-0.5 0h1.5m9.5 0h1.5m42.5 0h1.5m-84.5 1h1.5m3.5 0h1.5m1.5 0h1.5m0.5 0h1.5m1.5 0h1.5m8.5 0h1.5m0.5 0h1.5m-0.5 0h1.5m-32.5 1h1.5m8.5 0h1.5m2.5 0h1.5m5.5 0h1.5m-0.5 0h1.5m-0.5 0h1.5m-0.5 0h1.5m5.5 0h1.5m40.5 0h1.5m20.5 0h1.5m-86.5 1h1.5m-0.5 0h1.5m2.5 0h1.5m-0.5 0h1.5m-0.5 0h1.5m2.5 0h1.5m-0.5 0h1.5m-0.5 0h1.5m0.5 0h1.5m-0.5 0h1.5m-0.5 0h1.5m44.5 0h1.5m12.5 0h1.5m14.5 0h1.5m-107.5 1h1.5m-0.5 0h1.5m4.5 0h1.5m3.5 0h1.5m6.5 0h1.5m0.5 0h1.5m0.5 0h1.5m0.5 0h1.5m0.5 0h1.5m0.5 0h1.5m0.5 0h1.5m-0.5 0h1.5m2.5 0h1.5m1.5 0h1.5m1.5 0h1.5m35.5 0h1.5m17.5 0h1.5m-96.5 1h1.5m5.5 0h1.5m1.5 0h1.5m0.5 0h1.5m1.5 0h1.5m-0.5 0h1.5m1.5 0h1.5m-0.5 0h1.5m1.5 0h1.5m-0.5 0h1.5m4.5 0h1.5m0.5 0h1.5m89.5 0h1.5m-141.5 1h1.5m21.5 0h1.5m2.5 0h1.5m0.5 0h1.5m5.5 0h1.5m-0.5 0h1.5m4.5 0h1.5m38.5 0h1.5m18.5 0h1.5m9.5 0h1.5m-93.5 1h1.5m1.5 0h1.5m7.5 0h1.5m4.5 0h1.5m-0.5 0h1.5m9.5 0h1.5m1.5 0h1.5m30.5 0h1.5m26.5 0h1.5m9.5 0h1.5m-101.5 1h1.5m1.5 0h1.5m0.5 0h1.5m1.5 0h1.5m4.5 0h1.5m-0.5 0h1.5m-0.5 0h1.5m3.5 0h1.5m2.5 0h1.5m3.5 0h1.5m8.5 0h1.5m0.5 0h1.5m0.5 0h1.5m25.5 0h1.5m-79.5 1h1.5m-0.5 0h1.5m7.5 0h1.5m0.5 0h1.5m-0.5 0h1.5m-0.5 0h1.5m1.5 0h1.5m-0.5 0h1.5m1.5 0h1.5m-0.5 0h1.5m0.5 0h1.5m0.5 0h1.5m10.5 0h1.5m27.5 0h1.5m26.5 0h1.5m21.5 0h1.5m-120.5 1h1.5m5.5 0h1.5m1.5 0h1.5m5.5 0h1.5m-0.5 0h1.5m-0.5 0h1.5m-0.5 0h1.5m1.5 0h1.5m5.5 0h1.5m3.5 0h1.5m51.5 0h1.5m2.5 0h1.5m10.5 0h1.5m2.5 0h1.5m-107.5 1h1.5m0.5 0h1.5m2.5 0h1.5m-0.5 0h1.5m-0.5 0h1.5m-0.5 0h1.5m-0.5 0h1.5m3.5 0h1.5m1.5 0h1.5m4.5 0h1.5m2.5 0h1.5m-0.5 0h1.5m49.5 0h1.5m0.5 0h1.5m0.5 0h1.5m6.5 0h1.5m4.5 0h1.5m-106.5 1h1.5m2.5 0h1.5m2.5 0h1.5m8.5 0h1.5m0.5 0h1.5m13.5 0h1.5m26.5 0h1.5m29.5 0h1.5m41.5 0h1.5m-130.5 1h1.5m5.5 0h1.5m1.5 0h1.5m2.5 0h1.5m-0.5 0h1.5m1.5 0h1.5m8.5 0h1.5m53.5 0h1.5m4.5 0h1.5m10.5 0h1.5m-100.5 1h1.5m0.5 0h1.5m-0.5 0h1.5m7.5 0h1.5m1.5 0h1.5m3.5 0h1.5m7.5 0h1.5m58.5 0h1.5m8.5 0h1.5m11.5 0h1.5m-123.5 1h1.5m8.5 0h1.5m4.5 0h1.5m4.5 0h1.5m5.5 0h1.5m1.5 0h1.5m50.5 0h1.5m-0.5 0h1.5m11.5 0h1.5m21.5 0h1.5m-118.5 1h1.5m10.5 0h1.5m12.5 0h1.5m-0.5 0h1.5m65.5 0h1.5m17.5 0h1.5m-107.5 1h1.5m2.5 0h1.5m4.5 0h1.5m0.5 0h1.5m2.5 0h1.5m2.5 0h1.5m4.5 0h1.5m70.5 0h1.5m-121.5 1h1.5m12.5 0h1.5m0.5 0h1.5m3.5 0h1.5m0.5 0h1.5m-0.5 0h1.5m2.5 0h1.5m15.5 0h1.5m58.5 0h1.5m1.5 0h1.5m-86.5 1h1.5m-0.5 0h1.5m6.5 0h1.5m5.5 0h1.5m2.5 0h1.5m1.5 0h1.5m4.5 0h1.5m1.5 0h1.5m25.5 0h1.5m-53.5 1h1.5m0.5 0h1.5m0.5 0h1.5m-0.5 0h1.5m0.5 0h1.5m2.5 0h1.5m1.5 0h1.5m73.5 0h1.5m-102.5 1h1.5m8.5 0h1.5m6.5 0h1.5m1.5 0h1.5m10.5 0h1.5m44.5 0h1.5m-76.5 1h1.5m1.5 0h1.5m3.5 0h1.5m-0.5 0h1.5m12.5 0h1.5m69.5 0h1.5m1.5 0h1.5m-90.5 1h1.5m-0.5 0h1.5m0.5 0h1.5m1.5 0h1.5m46.5 0h1.5m17.5 0h1.5m5.5 0h1.5m-78.5 1h1.5m5.5 0h1.5m-0.5 0h1.5m1.5 0h1.5m-0.5 0h1.5m-26.5 1h1.5m-0.5 0h1.5m2.5 0h1.5m2.5 0h1.5m-0.5 0h1.5m-0.5 0h1.5m-0.5 0h1.5m1.5 0h1.5m70.5 0h1.5m-96.5 1h1.5m6.5 0h1.5m4.5 0h1.5m0.5 0h1.5m4.5 0h1.5m2.5 0h1.5m53.5 0h1.5m14.5 0h1.5m-108.5 1h1.5m12.5 0h1.5m4.5 0h1.5m9.5 0h1.5m3.5 0h1.5m3.5 0h1.5m-44.5 1h1.5m17.5 0h1.5m-0.5 0h1.5m0.5 0h1.5m14.5 0h1.5m0.5 0h1.5m2.5 0h1.5m4.5 0h1.5m-27.5 1h1.5m3.5 0h1.5m1.5 0h1.5m1.5 0h1.5m10.5 0h1.5m-35.5 1h1.5m9.5 0h1.5m-4.5 1h1.5m1.5 0h1.5m-0.5 0h1.5m6.5 0h1.5m59.5 0h1.5m-43.5 1h1.5m-38.5 2h1.5m15.5 0h1.5m70.5 0h1.5m-79.5 1h1.5m8.5 0h1.5m1.5 0h1.5m-11.5 1h1.5m-9.5 1h1.5m0.5 0h1.5m11.5 0h1.5m-0.5 0h1.5m1.5 0h1.5m-15.5 1h1.5m3.5 0h1.5m89.5 0h1.5m-86.5 1h1.5m-0.5 0h1.5m76.5 0h1.5m-78.5 3h1.5m-3.5 1h1.5m-14.5 2h1.5m18.5 3h1.5m-6.5 7h1.5" stroke="#1a1aff" stroke-width="1.5"/>
<path d="M835 1859h1.5m-154.5 94h1.5m6.5 13h1.5m-9.5 1h1.5m0.5 2h1.5m2.5 0h1.5m-11.5 2h1.5m7.5 0h1.5m-10.5 1h1.5m-3.5 1h1.5m8.5 2h1.5m-3.5 3h1.5m-12.5 1h1.5m4.5 0h1.5m-0.5 0h1.5m9.5 0h1.5m-7.5 1h1.5m-0.5 0h1.5m-7.5 1h1.5m7.5 0h1.5m-3.5 1h1.5m-0.5 0h1.5m-0.5 0h1.5m-20.5 1h1.5m6.5 0h1.5m10.5 0h1.5m-12.5 1h1.5m-0.5 0h1.5m4.5 1h1.5m1.5 0h1.5m-1.5 1h1.5m-10.5 4h1.5m0.5 0h1.5m-10.5 1h1.5m3.5 0h1.5m2.5 1h1.5m-11.5 2h1.5m4.5 1h1.5m3.5 3h1.5m-13.5 1h1.5m12.5 1h1.5" stroke="#ffb020" stroke-width="1.5"/>
<path d="M682 1964h1.5m-4.5 2h1.5m2.5 7h1.5m6.5 6h1.5m-10.5 4h1.5m-4.5 5h1.5" stroke="#ff2020" stroke-width="1.5"/>
<rect x="604.7" y="1792.4" width="280.8" height="279.2" fill="none" stroke="#444" stroke-width="1.6"/>
<path d="M713.7 1792.4V2071.6M604.7 1922.7H885.5" stroke="#000" stroke-width="2.2"/>
<text x="613.5" y="1810.9" font-size="16.71" textLength="58.2" lengthAdjust="spacingAndGlyphs" style="font-weight:bold">Q1:5.11</text>
<text x="819.5" y="1810.9" font-size="16.71" textLength="59.1" lengthAdjust="spacingAndGlyphs" style="font-weight:bold">Q2:29.7</text>
<text x="613.5" y="2064.8" font-size="16.71" textLength="59.1" lengthAdjust="spacingAndGlyphs" style="font-weight:bold">Q4:52.5</text>
<text x="818.5" y="2064.8" font-size="16.71" textLength="59.1" lengthAdjust="spacingAndGlyphs" style="font-weight:bold">Q3:12.7</text>
<text x="666.8" y="2124.0" font-size="24.00" textLength="169.9" lengthAdjust="spacingAndGlyphs" style="font-weight:bold">CD8(APC/Cy7)</text>
<text x="0" y="0" font-size="23.21" transform="translate(559.3,2002.0) rotate(-90)" textLength="127.1" lengthAdjust="spacingAndGlyphs" style="font-weight:bold">GITR(APC)</text>
<text x="601.2" y="2101.6" font-size="16.43" style="font-weight:bold">-10</text>
<text x="623.6" y="2092.3" font-size="11.43" style="font-weight:bold">3</text>
<text x="704.5" y="2101.6" font-size="16.43" style="font-weight:bold">10</text>
<text x="722.6" y="2092.3" font-size="11.43" style="font-weight:bold">3</text>
<text x="780.6" y="2101.6" font-size="16.43" style="font-weight:bold">10</text>
<text x="798.8" y="2092.3" font-size="11.59" style="font-weight:bold">4</text>
<text x="845.8" y="2101.6" font-size="16.43" style="font-weight:bold">10</text>
<text x="863.8" y="2092.3" font-size="11.59" style="font-weight:bold">5</text>
<text x="661.7" y="2101.6" font-size="16.43" style="font-weight:bold">0</text>
<text x="570.9" y="1825.2" font-size="16.43" style="font-weight:bold">10</text>
<text x="588.4" y="1816.2" font-size="12.61" style="font-weight:bold">5</text>
<text x="570.5" y="1890.0" font-size="16.43" style="font-weight:bold">10</text>
<text x="588.2" y="1881.0" font-size="12.61" style="font-weight:bold">4</text>
<text x="571.0" y="1965.7" font-size="16.43" style="font-weight:bold">10</text>
<text x="588.5" y="1956.7" font-size="12.43" style="font-weight:bold">3</text>
<text x="565.5" y="2064.2" font-size="16.43" style="font-weight:bold">-10</text>
<text x="588.5" y="2055.2" font-size="12.43" style="font-weight:bold">3</text>
<text x="579.1" y="2016.5" font-size="16.43" style="font-weight:bold">0</text>
<path d="M292.7 2436.2v4M236.4 2379.9h-4M302.6 2436.2v4M236.4 2370.0h-4M287.9 2436.2v4M236.4 2384.7h-4M307.7 2436.2v4M236.4 2364.9h-4M283.1 2436.2v4M236.4 2389.5h-4M312.8 2436.2v4M236.4 2359.8h-4M278.3 2436.2v4M236.4 2394.3h-4M317.9 2436.2v4M236.4 2354.7h-4M273.5 2436.2v4M236.4 2399.1h-4M323.0 2436.2v4M236.4 2349.6h-4M268.7 2436.2v4M236.4 2403.9h-4M328.1 2436.2v4M236.4 2344.6h-4M264.0 2436.2v4M236.4 2408.7h-4M333.2 2436.2v4M236.4 2339.5h-4M259.2 2436.2v4M236.4 2413.5h-4M338.3 2436.2v4M236.4 2334.4h-4M254.4 2436.2v4M236.4 2418.2h-4M343.4 2436.2v4M236.4 2329.3h-4M371.4 2436.2v4M236.4 2301.3h-4M384.8 2436.2v4M236.4 2287.9h-4M394.3 2436.2v4M236.4 2278.5h-4M401.6 2436.2v4M236.4 2271.1h-4M407.6 2436.2v4M236.4 2265.1h-4M412.7 2436.2v4M236.4 2260.0h-4M417.1 2436.2v4M236.4 2255.6h-4M421.0 2436.2v4M236.4 2251.7h-4M444.1 2436.2v4M236.4 2228.7h-4M455.5 2436.2v4M236.4 2217.2h-4M463.6 2436.2v4M236.4 2209.1h-4M469.9 2436.2v4M236.4 2202.8h-4M475.1 2436.2v4M236.4 2197.7h-4M479.4 2436.2v4M236.4 2193.3h-4M483.2 2436.2v4M236.4 2189.6h-4M486.5 2436.2v4M236.4 2186.2h-4M509.1 2436.2v4M236.4 2163.7h-4" stroke="#222" stroke-width="1.3" fill="none"/>
<path d="M249.6 2436.2v7M236.4 2423.0h-7M348.5 2436.2v7M236.4 2324.2h-7M424.5 2436.2v7M236.4 2248.3h-7M489.5 2436.2v7M236.4 2183.3h-7" stroke="#111" stroke-width="2" fill="none"/>
<path d="M291.5 2436.2v6M236.4 2381.1h-6M293.0 2436.2v6M236.4 2379.6h-6M294.5 2436.2v7M236.4 2378.1h-7M296.0 2436.2v7M236.4 2376.6h-7M297.5 2436.2v7M236.4 2375.1h-7M299.0 2436.2v7M236.4 2373.6h-7M300.5 2436.2v7M236.4 2372.1h-7M302.0 2436.2v6M236.4 2370.6h-6M303.5 2436.2v6M236.4 2369.1h-6" stroke="#111" stroke-width="1.4" fill="none"/>
<path d="M436 2184h1.5m-17.5 11h1.5m2.5 1h1.5m3.5 1h1.5m-22.5 1h1.5m16.5 1h1.5m2.5 2h1.5m-35.5 2h1.5m16.5 2h1.5m11.5 0h1.5m0.5 0h1.5m-37.5 1h1.5m12.5 1h1.5m6.5 0h1.5m4.5 0h1.5m-33.5 1h1.5m3.5 0h1.5m8.5 0h1.5m3.5 0h1.5m9.5 0h1.5m-5.5 1h1.5m-23.5 1h1.5m12.5 0h1.5m14.5 0h1.5m-12.5 1h1.5m0.5 0h1.5m2.5 0h1.5m6.5 0h1.5m-37.5 1h1.5m17.5 0h1.5m-0.5 0h1.5m6.5 0h1.5m3.5 0h1.5m-21.5 1h1.5m10.5 0h1.5m-23.5 1h1.5m3.5 0h1.5m1.5 0h1.5m4.5 0h1.5m2.5 1h1.5m3.5 0h1.5m0.5 0h1.5m0.5 0h1.5m-32.5 1h1.5m11.5 0h1.5m0.5 0h1.5m28.5 0h1.5m-47.5 1h1.5m1.5 0h1.5m7.5 0h1.5m10.5 0h1.5m16.5 0h1.5m-56.5 1h1.5m0.5 0h1.5m15.5 0h1.5m-0.5 0h1.5m2.5 0h1.5m-0.5 0h1.5m-17.5 1h1.5m0.5 0h1.5m4.5 0h1.5m0.5 0h1.5m4.5 0h1.5m-0.5 0h1.5m3.5 0h1.5m18.5 0h1.5m-43.5 1h1.5m3.5 0h1.5m2.5 0h1.5m2.5 0h1.5m1.5 0h1.5m4.5 0h1.5m-0.5 0h1.5m1.5 0h1.5m6.5 0h1.5m-21.5 1h1.5m20.5 0h1.5m-39.5 1h1.5m5.5 0h1.5m9.5 0h1.5m-11.5 1h1.5m27.5 0h1.5m-37.5 1h1.5m25.5 0h1.5m0.5 0h1.5m-29.5 1h1.5m20.5 0h1.5m-1.5 1h1.5m1.5 0h1.5m-19.5 1h1.5m14.5 0h1.5m4.5 0h1.5m-33.5 1h1.5m9.5 0h1.5m4.5 0h1.5m-0.5 0h1.5m0.5 0h1.5m10.5 1h1.5m-19.5 1h1.5m-12.5 1h1.5m13.5 0h1.5m-6.5 1h1.5m-6.5 1h1.5m10.5 0h1.5m5.5 0h1.5m-18.5 1h1.5m12.5 0h1.5m-24.5 1h1.5m4.5 1h1.5m5.5 2h1.5m-104.5 2h1.5m9.5 0h1.5m97.5 0h1.5m-84.5 4h1.5m-16.5 3h1.5m69.5 0h1.5m0.5 0h1.5m-20.5 1h1.5m8.5 0h1.5m-4.5 1h1.5m8.5 0h1.5m-53.5 1h1.5m36.5 0h1.5m12.5 0h1.5m-46.5 1h1.5m24.5 0h1.5m3.5 0h1.5m7.5 0h1.5m-59.5 1h1.5m40.5 1h1.5m16.5 0h1.5m-15.5 2h1.5m3.5 0h1.5m2.5 0h1.5m-53.5 1h1.5m-0.5 0h1.5m44.5 0h1.5m-79.5 1h1.5m20.5 0h1.5m2.5 1h1.5m1.5 1h1.5m40.5 0h1.5m10.5 0h1.5m-75.5 1h1.5m65.5 0h1.5m4.5 0h1.5m-72.5 1h1.5m-0.5 0h1.5m54.5 0h1.5m7.5 0h1.5m-0.5 0h1.5m-69.5 1h1.5m15.5 0h1.5m3.5 0h1.5m35.5 0h1.5m-42.5 1h1.5m4.5 0h1.5m38.5 0h1.5m-60.5 1h1.5m1.5 0h1.5m0.5 0h1.5m0.5 0h1.5m0.5 0h1.5m46.5 0h1.5m-36.5 1h1.5m24.5 0h1.5m-46.5 1h1.5m0.5 0h1.5m18.5 0h1.5m0.5 0h1.5m21.5 0h1.5m-55.5 1h1.5m6.5 0h1.5m1.5 0h1.5m1.5 0h1.5m4.5 0h1.5m2.5 0h1.5m-0.5 0h1.5m5.5 0h1.5m13.5 0h1.5m-43.5 1h1.5m2.5 0h1.5m0.5 0h1.5m13.5 0h1.5m-28.5 1h1.5m13.5 0h1.5m-0.5 0h1.5m-0.5 0h1.5m3.5 0h1.5m-0.5 0h1.5m4.5 0h1.5m-26.5 1h1.5m9.5 0h1.5m40.5 0h1.5m6.5 0h1.5m-55.5 1h1.5m3.5 0h1.5m-16.5 1h1.5m2.5 0h1.5m9.5 0h1.5m2.5 0h1.5m-0.5 0h1.5m0.5 0h1.5m-16.5 1h1.5m2.5 0h1.5m-0.5 0h1.5m1.5 0h1.5m3.5 0h1.5m1.5 0h1.5m3.5 0h1.5m-0.5 0h1.5m2.5 0h1.5m-37.5 1h1.5m13.5 0h1.5m2.5 0h1.5m0.5 0h1.5m0.5 0h1.5m1.5 0h1.5m5.5 0h1.5m0.5 0h1.5m0.5 0h1.5m-28.5 1h1.5m10.5 0h1.5m0.5 0h1.5m-0.5 0h1.5m-0.5 0h1.5m6.5 0h1.5m0.5 0h1.5m-35.5 1h1.5m3.5 0h1.5m2.5 0h1.5m11.5 0h1.5m4.5 0h1.5m-16.5 1h1.5m5.5 0h1.5m-0.5 0h1.5m1.5 0h1.5m1.5 0h1.5m3.5 0h1.5m-31.5 1h1.5m0.5 0h1.5m6.5 0h1.5m3.5 0h1.5m-0.5 0h1.5m4.5 0h1.5m27.5 0h1.5m-53.5 1h1.5m3.5 0h1.5m1.5 0h1.5m4.5 0h1.5m-0.5 0h1.5m5.5 0h1.5m2.5 0h1.5m3.5 0h1.5m-34.5 1h1.5m2.5 0h1.5m0.5 0h1.5m0.5 0h1.5m5.5 0h1.5m-0.5 0h1.5m3.5 0h1.5m0.5 0h1.5m0.5 0h1.5m2.5 0h1.5m1.5 0h1.5m2.5 0h1.5m2.5 0h1.5m1.5 0h1.5m7.5 0h1.5m-48.5 1h1.5m-0.5 0h1.5m0.5 0h1.5m13.5 0h1.5m13.5 0h1.5m5.5 0h1.5m13.5 0h1.5m-49.5 1h1.5m0.5 0h1.5m-0.5 0h1.5m5.5 0h1.5m-0.5 0h1.5m2.5 0h1.5m5.5 0h1.5m-22.5 1h1.5m17.5 0h1.5m7.5 0h1.5m5.5 0h1.5m6.5 0h1.5m-54.5 1h1.5m-0.5 0h1.5m1.5 0h1.5m4.5 0h1.5m-0.5 0h1.5m1.5 0h1.5m1.5 0h1.5m2.5 0h1.5m-0.5 0h1.5m29.5 0h1.5m-58.5 1h1.5m3.5 0h1.5m-0.5 0h1.5m-0.5 0h1.5m4.5 0h1.5m3.5 0h1.5m4.5 0h1.5m6.5 0h1.5m11.5 0h1.5m22.5 0h1.5m-40.5 1h1.5m3.5 0h1.5m0.5 0h1.5m1.5 0h1.5m17.5 0h1.5m-64.5 1h1.5m11.5 0h1.5m3.5 0h1.5m3.5 0h1.5m0.5 0h1.5m1.5 0h1.5m-0.5 0h1.5m0.5 0h1.5m-0.5 0h1.5m2.5 0h1.5m13.5 0h1.5m8.5 0h1.5m26.5 0h1.5m-98.5 1h1.5m17.5 0h1.5m8.5 0h1.5m1.5 0h1.5m-0.5 0h1.5m1.5 0h1.5m0.5 0h1.5m0.5 0h1.5m5.5 0h1.5m1.5 0h1.5m1.5 0h1.5m11.5 0h1.5m-49.5 1h1.5m0.5 0h1.5m-0.5 0h1.5m13.5 0h1.5m13.5 0h1.5m5.5 0h1.5m4.5 0h1.5m1.5 0h1.5m-0.5 0h1.5m-53.5 1h1.5m0.5 0h1.5m3.5 0h1.5m2.5 0h1.5m6.5 0h1.5m-0.5 0h1.5m8.5 0h1.5m3.5 0h1.5m-0.5 0h1.5m9.5 0h1.5m-0.5 0h1.5m0.5 0h1.5m-73.5 1h1.5m26.5 0h1.5m0.5 0h1.5m5.5 0h1.5m1.5 0h1.5m-0.5 0h1.5m-0.5 0h1.5m1.5 0h1.5m0.5 0h1.5m-0.5 0h1.5m-0.5 0h1.5m-0.5 0h1.5m-0.5 0h1.5m0.5 0h1.5m6.5 0h1.5m15.5 0h1.5m3.5 0h1.5m-61.5 1h1.5m12.5 0h1.5m3.5 0h1.5m4.5 0h1.5m0.5 0h1.5m3.5 0h1.5m3.5 0h1.5m18.5 0h1.5m-54.5 1h1.5m1.5 0h1.5m12.5 0h1.5m-0.5 0h1.5m-0.5 0h1.5m1.5 0h1.5m0.5 0h1.5m0.5 0h1.5m-0.5 0h1.5m0.5 0h1.5m1.5 0h1.5m3.5 0h1.5m2.5 0h1.5m3.5 0h1.5m9.5 0h1.5m-63.5 1h1.5m3.5 0h1.5m1.5 0h1.5m-0.5 0h1.5m0.5 0h1.5m5.5 0h1.5m-0.5 0h1.5m-0.5 0h1.5m2.5 0h1.5m4.5 0h1.5m1.5 0h1.5m0.5 0h1.5m15.5 0h1.5m0.5 0h1.5m3.5 0h1.5m1.5 0h1.5m0.5 0h1.5m-69.5 1h1.5m12.5 0h1.5m-0.5 0h1.5m-0.5 0h1.5m1.5 0h1.5m0.5 0h1.5m9.5 0h1.5m-0.5 0h1.5m0.5 0h1.5m0.5 0h1.5m-0.5 0h1.5m-36.5 1h1.5m0.5 0h1.5m0.5 0h1.5m4.5 0h1.5m-0.5 0h1.5m3.5 0h1.5m3.5 0h1.5m-0.5 0h1.5m1.5 0h1.5m-0.5 0h1.5m-0.5 0h1.5m9.5 0h1.5m7.5 0h1.5m0.5 0h1.5m-55.5 1h1.5m4.5 0h1.5m6.5 0h1.5m0.5 0h1.5m-0.5 0h1.5m-0.5 0h1.5m-0.5 0h1.5m-0.5 0h1.5m0.5 0h1.5m2.5 0h1.5m-0.5 0h1.5m0.5 0h1.5m-0.5 0h1.5m-0.5 0h1.5m1.5 0h1.5m3.5 0h1.5m30.5 0h1.5m-62.5 1h1.5m5.5 0h1.5m0.5 0h1.5m-0.5 0h1.5m0.5 0h1.5m2.5 0h1.5m0.5 0h1.5m-0.5 0h1.5m0.5 0h1.5m9.5 0h1.5m-0.5 0h1.5m5.5 0h1.5m7.5 0h1.5m2.5 0h1.5m15.5 0h1.5m-78.5 1h1.5m5.5 0h1.5m1.5 0h1.5m-0.5 0h1.5m-0.5 0h1.5m0.5 0h1.5m1.5 0h1.5m2.5 0h1.5m4.5 0h1.5m0.5 0h1.5m7.5 0h1.5m5.5 0h1.5m3.5 0h1.5m2.5 0h1.5m-0.5 0h1.5m11.5 0h1.5m-58.5 1h1.5m3.5 0h1.5m7.5 0h1.5m-0.5 0h1.5m1.5 0h1.5m3.5 0h1.5m9.5 0h1.5m0.5 0h1.5m5.5 0h1.5m5.5 0h1.5m-0.5 0h1.5m0.5 0h1.5m4.5 0h1.5m-66.5 1h1.5m4.5 0h1.5m2.5 0h1.5m1.5 0h1.5m0.5 0h1.5m0.5 0h1.5m0.5 0h1.5m10.5 0h1.5m5.5 0h1.5m7.5 0h1.5m-0.5 0h1.5m1.5 0h1.5m0.5 0h1.5m-53.5 1h1.5m1.5 0h1.5m5.5 0h1.5m12.5 0h1.5m-0.5 0h1.5m1.5 0h1.5m6.5 0h1.5m9.5 0h1.5m0.5 0h1.5m1.5 0h1.5m0.5 0h1.5m2.5 0h1.5m-62.5 1h1.5m3.5 0h1.5m-0.5 0h1.5m-0.5 0h1.5m-0.5 0h1.5m5.5 0h1.5m2.5 0h1.5m1.5 0h1.5m-0.5 0h1.5m-0.5 0h1.5m6.5 0h1.5m7.5 0h1.5m4.5 0h1.5m8.5 0h1.5m-66.5 1h1.5m0.5 0h1.5m13.5 0h1.5m-0.5 0h1.5m0.5 0h1.5m1.5 0h1.5m0.5 0h1.5m1.5 0h1.5m6.5 0h1.5m0.5 0h1.5m-0.5 0h1.5m-0.5 0h1.5m-0.5 0h1.5m0.5 0h1.5m2.5 0h1.5m0.5 0h1.5m4.5 0h1.5m0.5 0h1.5m18.5 0h1.5m-71.5 1h1.5m0.5 0h1.5m3.5 0h1.5m-0.5 0h1.5m-0.5 0h1.5m0.5 0h1.5m1.5 0h1.5m-0.5 0h1.5m0.5 0h1.5m-0.5 0h1.5m0.5 0h1.5m-0.5 0h1.5m1.5 0h1.5m2.5 0h1.5m-0.5 0h1.5m-0.5 0h1.5m5.5 0h1.5m1.5 0h1.5m0.5 0h1.5m0.5 0h1.5m6.5 0h1.5m1.5 0h1.5m2.5 0h1.5m0.5 0h1.5m4.5 0h1.5m-66.5 1h1.5m0.5 0h1.5m0.5 0h1.5m1.5 0h1.5m1.5 0h1.5m2.5 0h1.5m-0.5 0h1.5m0.5 0h1.5m5.5 0h1.5m-0.5 0h1.5m2.5 0h1.5m3.5 0h1.5m9.5 0h1.5m3.5 0h1.5m-70.5 1h1.5m7.5 0h1.5m3.5 0h1.5m10.5 0h1.5m3.5 0h1.5m-0.5 0h1.5m-0.5 0h1.5m-0.5 0h1.5m0.5 0h1.5m-0.5 0h1.5m1.5 0h1.5m-0.5 0h1.5m3.5 0h1.5m0.5 0h1.5m-0.5 0h1.5m0.5 0h1.5m1.5 0h1.5m-0.5 0h1.5m0.5 0h1.5m0.5 0h1.5m-0.5 0h1.5m-0.5 0h1.5m4.5 0h1.5m10.5 0h1.5m-64.5 1h1.5m0.5 0h1.5m4.5 0h1.5m-0.5 0h1.5m-0.5 0h1.5m0.5 0h1.5m2.5 0h1.5m1.5 0h1.5m0.5 0h1.5m-0.5 0h1.5m4.5 0h1.5m1.5 0h1.5m-0.5 0h1.5m1.5 0h1.5m3.5 0h1.5m6.5 0h1.5m3.5 0h1.5m12.5 0h1.5m0.5 0h1.5m-62.5 1h1.5m0.5 0h1.5m-0.5 0h1.5m1.5 0h1.5m3.5 0h1.5m2.5 0h1.5m0.5 0h1.5m1.5 0h1.5m2.5 0h1.5m0.5 0h1.5m10.5 0h1.5m1.5 0h1.5m2.5 0h1.5m7.5 0h1.5m6.5 0h1.5m-76.5 1h1.5m0.5 0h1.5m-0.5 0h1.5m4.5 0h1.5m-0.5 0h1.5m0.5 0h1.5m0.5 0h1.5m2.5 0h1.5m1.5 0h1.5m1.5 0h1.5m-0.5 0h1.5m0.5 0h1.5m-0.5 0h1.5m-0.5 0h1.5m1.5 0h1.5m0.5 0h1.5m0.5 0h1.5m-0.5 0h1.5m4.5 0h1.5m-0.5 0h1.5m-0.5 0h1.5m1.5 0h1.5m-0.5 0h1.5m0.5 0h1.5m5.5 0h1.5m2.5 0h1.5m-59.5 1h1.5m6.5 0h1.5m5.5 0h1.5m-0.5 0h1.5m-0.5 0h1.5m-0.5 0h1.5m2.5 0h1.5m-0.5 0h1.5m1.5 0h1.5m0.5 0h1.5m0.5 0h1.5m0.5 0h1.5m5.5 0h1.5m-0.5 0h1.5m14.5 0h1.5m0.5 0h1.5m0.5 0h1.5m0.5 0h1.5m-51.5 1h1.5m2.5 0h1.5m0.5 0h1.5m1.5 0h1.5m-0.5 0h1.5m-0.5 0h1.5m4.5 0h1.5m5.5 0h1.5m5.5 0h1.5m3.5 0h1.5m1.5 0h1.5m1.5 0h1.5m-60.5 1h1.5m11.5 0h1.5m1.5 0h1.5m3.5 0h1.5m0.5 0h1.5m1.5 0h1.5m-0.5 0h1.5m5.5 0h1.5m0.5 0h1.5m4.5 0h1.5m-0.5 0h1.5m1.5 0h1.5m1.5 0h1.5m0.5 0h1.5m1.5 0h1.5m1.5 0h1.5m-0.5 0h1.5m1.5 0h1.5m5.5 0h1.5m-63.5 1h1.5m1.5 0h1.5m5.5 0h1.5m-0.5 0h1.5m-0.5 0h1.5m6.5 0h1.5m0.5 0h1.5m-0.5 0h1.5m11.5 0h1.5m-0.5 0h1.5m14.5 0h1.5m1.5 0h1.5m5.5 0h1.5m-0.5 0h1.5m1.5 0h1.5m2.5 0h1.5m-77.5 1h1.5m9.5 0h1.5m-0.5 0h1.5m0.5 0h1.5m0.5 0h1.5m-0.5 0h1.5m0.5 0h1.5m0.5 0h1.5m-0.5 0h1.5m0.5 0h1.5m-0.5 0h1.5m3.5 0h1.5m8.5 0h1.5m1.5 0h1.5m-0.5 0h1.5m2.5 0h1.5m5.5 0h1.5m0.5 0h1.5m1.5 0h1.5m-0.5 0h1.5m1.5 0h1.5m-62.5 1h1.5m6.5 0h1.5m5.5 0h1.5m0.5 0h1.5m1.5 0h1.5m0.5 0h1.5m-0.5 0h1.5m-0.5 0h1.5m1.5 0h1.5m2.5 0h1.5m-0.5 0h1.5m14.5 0h1.5m6.5 0h1.5m-0.5 0h1.5m6.5 0h1.5m-65.5 1h1.5m7.5 0h1.5m-0.5 0h1.5m2.5 0h1.5m1.5 0h1.5m-0.5 0h1.5m-0.5 0h1.5m-0.5 0h1.5m2.5 0h1.5m6.5 0h1.5m-0.5 0h1.5m0.5 0h1.5m2.5 0h1.5m7.5 0h1.5m-0.5 0h1.5m1.5 0h1.5m3.5 0h1.5m1.5 0h1.5m-0.5 0h1.5m0.5 0h1.5m3.5 0h1.5m1.5 0h1.5m-70.5 1h1.5m-0.5 0h1.5m0.5 0h1.5m2.5 0h1.5m-0.5 0h1.5m2.5 0h1.5m0.5 0h1.5m0.5 0h1.5m-0.5 0h1.5m-0.5 0h1.5m0.5 0h1.5m1.5 0h1.5m0.5 0h1.5m0.5 0h1.5m0.5 0h1.5m2.5 0h1.5m1.5 0h1.5m6.5 0h1.5m1.5 0h1.5m-0.5 0h1.5m2.5 0h1.5m-0.5 0h1.5m15.5 0h1.5m-79.5 1h1.5m8.5 0h1.5m2.5 0h1.5m-0.5 0h1.5m-0.5 0h1.5m-0.5 0h1.5m0.5 0h1.5m3.5 0h1.5m2.5 0h1.5m6.5 0h1.5m-0.5 0h1.5m-0.5 0h1.5m-0.5 0h1.5m-0.5 0h1.5m1.5 0h1.5m-0.5 0h1.5m3.5 0h1.5m0.5 0h1.5m4.5 0h1.5m-0.5 0h1.5m9.5 0h1.5m3.5 0h1.5m1.5 0h1.5m-77.5 1h1.5m7.5 0h1.5m2.5 0h1.5m2.5 0h1.5m-0.5 0h1.5m0.5 0h1.5m-0.5 0h1.5m9.5 0h1.5m0.5 0h1.5m-0.5 0h1.5m0.5 0h1.5m2.5 0h1.5m0.5 0h1.5m2.5 0h1.5m-0.5 0h1.5m12.5 0h1.5m2.5 0h1.5m6.5 0h1.5m2.5 0h1.5m-78.5 1h1.5m-0.5 0h1.5m7.5 0h1.5m2.5 0h1.5m3.5 0h1.5m1.5 0h1.5m0.5 0h1.5m-0.5 0h1.5m3.5 0h1.5m-0.5 0h1.5m1.5 0h1.5m0.5 0h1.5m4.5 0h1.5m2.5 0h1.5m1.5 0h1.5m-0.5 0h1.5m3.5 0h1.5m-0.5 0h1.5m6.5 0h1.5m2.5 0h1.5m-65.5 1h1.5m-0.5 0h1.5m5.5 0h1.5m3.5 0h1.5m-0.5 0h1.5m0.5 0h1.5m0.5 0h1.5m-0.5 0h1.5m-0.5 0h1.5m5.5 0h1.5m-0.5 0h1.5m0.5 0h1.5m-0.5 0h1.5m-0.5 0h1.5m0.5 0h1.5m0.5 0h1.5m3.5 0h1.5m5.5 0h1.5m2.5 0h1.5m0.5 0h1.5m4.5 0h1.5m-0.5 0h1.5m7.5 0h1.5m-73.5 1h1.5m0.5 0h1.5m6.5 0h1.5m-0.5 0h1.5m0.5 0h1.5m-0.5 0h1.5m0.5 0h1.5m-0.5 0h1.5m-0.5 0h1.5m-0.5 0h1.5m0.5 0h1.5m0.5 0h1.5m-0.5 0h1.5m0.5 0h1.5m-0.5 0h1.5m-0.5 0h1.5m12.5 0h1.5m3.5 0h1.5m0.5 0h1.5m4.5 0h1.5m13.5 0h1.5m8.5 0h1.5m-83.5 1h1.5m3.5 0h1.5m7.5 0h1.5m-0.5 0h1.5m-0.5 0h1.5m0.5 0h1.5m1.5 0h1.5m1.5 0h1.5m3.5 0h1.5m-0.5 0h1.5m-0.5 0h1.5m2.5 0h1.5m0.5 0h1.5m0.5 0h1.5m0.5 0h1.5m2.5 0h1.5m0.5 0h1.5m-0.5 0h1.5m10.5 0h1.5m2.5 0h1.5m0.5 0h1.5m5.5 0h1.5m-0.5 0h1.5m-65.5 1h1.5m-0.5 0h1.5m0.5 0h1.5m2.5 0h1.5m5.5 0h1.5m2.5 0h1.5m3.5 0h1.5m2.5 0h1.5m0.5 0h1.5m-0.5 0h1.5m0.5 0h1.5m2.5 0h1.5m5.5 0h1.5m6.5 0h1.5m0.5 0h1.5m8.5 0h1.5m-67.5 1h1.5m2.5 0h1.5m2.5 0h1.5m0.5 0h1.5m0.5 0h1.5m3.5 0h1.5m-0.5 0h1.5m0.5 0h1.5m0.5 0h1.5m-0.5 0h1.5m3.5 0h1.5m-0.5 0h1.5m-0.5 0h1.5m-0.5 0h1.5m4.5 0h1.5m2.5 0h1.5m8.5 0h1.5m0.5 0h1.5m0.5 0h1.5m4.5 0h1.5m7.5 0h1.5m5.5 0h1.5m-79.5 1h1.5m-0.5 0h1.5m0.5 0h1.5m4.5 0h1.5m-0.5 0h1.5m2.5 0h1.5m0.5 0h1.5m3.5 0h1.5m2.5 0h1.5m1.5 0h1.5m-0.5 0h1.5m-0.5 0h1.5m1.5 0h1.5m4.5 0h1.5m1.5 0h1.5m1.5 0h1.5m2.5 0h1.5m5.5 0h1.5m11.5 0h1.5m3.5 0h1.5m-79.5 1h1.5m4.5 0h1.5m3.5 0h1.5m2.5 0h1.5m-0.5 0h1.5m0.5 0h1.5m-0.5 0h1.5m1.5 0h1.5m-0.5 0h1.5m1.5 0h1.5m0.5 0h1.5m-0.5 0h1.5m-0.5 0h1.5m8.5 0h1.5m1.5 0h1.5m1.5 0h1.5m11.5 0h1.5m-54.5 1h1.5m-0.5 0h1.5m1.5 0h1.5m0.5 0h1.5m-0.5 0h1.5m0.5 0h1.5m2.5 0h1.5m1.5 0h1.5m-0.5 0h1.5m2.5 0h1.5m-0.5 0h1.5m-0.5 0h1.5m-0.5 0h1.5m3.5 0h1.5m1.5 0h1.5m4.5 0h1.5m0.5 0h1.5m-0.5 0h1.5m-0.5 0h1.5m0.5 0h1.5m2.5 0h1.5m-0.5 0h1.5m9.5 0h1.5m-0.5 0h1.5m-0.5 0h1.5m8.5 0h1.5m-0.5 0h1.5m-82.5 1h1.5m13.5 0h1.5m3.5 0h1.5m2.5 0h1.5m-0.5 0h1.5m3.5 0h1.5m-0.5 0h1.5m-0.5 0h1.5m3.5 0h1.5m5.5 0h1.5m4.5 0h1.5m0.5 0h1.5m-0.5 0h1.5m-0.5 0h1.5m0.5 0h1.5m-0.5 0h1.5m-0.5 0h1.5m-44.5 1h1.5m-0.5 0h1.5m-0.5 0h1.5m0.5 0h1.5m2.5 0h1.5m-0.5 0h1.5m-0.5 0h1.5m0.5 0h1.5m-0.5 0h1.5m2.5 0h1.5m0.5 0h1.5m-0.5 0h1.5m-0.5 0h1.5m0.5 0h1.5m2.5 0h1.5m10.5 0h1.5m5.5 0h1.5m-0.5 0h1.5m-0.5 0h1.5m4.5 0h1.5m7.5 0h1.5m-79.5 1h1.5m7.5 0h1.5m-0.5 0h1.5m-0.5 0h1.5m0.5 0h1.5m-0.5 0h1.5m2.5 0h1.5m-0.5 0h1.5m-0.5 0h1.5m-0.5 0h1.5m-0.5 0h1.5m-0.5 0h1.5m0.5 0h1.5m2.5 0h1.5m3.5 0h1.5m2.5 0h1.5m9.5 0h1.5m6.5 0h1.5m0.5 0h1.5m-55.5 1h1.5m6.5 0h1.5m-0.5 0h1.5m-0.5 0h1.5m0.5 0h1.5m7.5 0h1.5m-0.5 0h1.5m4.5 0h1.5m7.5 0h1.5m1.5 0h1.5m2.5 0h1.5m0.5 0h1.5m0.5 0h1.5m7.5 0h1.5m10.5 0h1.5m-65.5 1h1.5m1.5 0h1.5m-0.5 0h1.5m-0.5 0h1.5m-0.5 0h1.5m0.5 0h1.5m-0.5 0h1.5m6.5 0h1.5m-0.5 0h1.5m-0.5 0h1.5m-0.5 0h1.5m1.5 0h1.5m5.5 0h1.5m4.5 0h1.5m1.5 0h1.5m-0.5 0h1.5m13.5 0h1.5m4.5 0h1.5m-0.5 0h1.5m-65.5 1h1.5m-0.5 0h1.5m5.5 0h1.5m2.5 0h1.5m-0.5 0h1.5m-0.5 0h1.5m5.5 0h1.5m1.5 0h1.5m-0.5 0h1.5m-0.5 0h1.5m-0.5 0h1.5m0.5 0h1.5m1.5 0h1.5m-0.5 0h1.5m-0.5 0h1.5m7.5 0h1.5m5.5 0h1.5m17.5 0h1.5m-71.5 1h1.5m2.5 0h1.5m1.5 0h1.5m0.5 0h1.5m0.5 0h1.5m-0.5 0h1.5m6.5 0h1.5m2.5 0h1.5m2.5 0h1.5m1.5 0h1.5m-0.5 0h1.5m0.5 0h1.5m-0.5 0h1.5m4.5 0h1.5m-0.5 0h1.5m3.5 0h1.5m-0.5 0h1.5m-0.5 0h1.5m1.5 0h1.5m0.5 0h1.5m2.5 0h1.5m-56.5 1h1.5m1.5 0h1.5m-0.5 0h1.5m0.5 0h1.5m1.5 0h1.5m-0.5 0h1.5m-0.5 0h1.5m-0.5 0h1.5m4.5 0h1.5m3.5 0h1.5m5.5 0h1.5m0.5 0h1.5m0.5 0h1.5m-0.5 0h1.5m8.5 0h1.5m14.5 0h1.5m-66.5 1h1.5m3.5 0h1.5m0.5 0h1.5m-0.5 0h1.5m-0.5 0h1.5m-0.5 0h1.5m1.5 0h1.5m0.5 0h1.5m1.5 0h1.5m1.5 0h1.5m-0.5 0h1.5m1.5 0h1.5m-0.5 0h1.5m-0.5 0h1.5m0.5 0h1.5m0.5 0h1.5m2.5 0h1.5m1.5 0h1.5m13.5 0h1.5m1.5 0h1.5m3.5 0h1.5m-70.5 1h1.5m7.5 0h1.5m-0.5 0h1.5m-0.5 0h1.5m9.5 0h1.5m0.5 0h1.5m0.5 0h1.5m5.5 0h1.5m-0.5 0h1.5m8.5 0h1.5m6.5 0h1.5m2.5 0h1.5m-0.5 0h1.5m0.5 0h1.5m16.5 0h1.5m-75.5 1h1.5m7.5 0h1.5m0.5 0h1.5m-0.5 0h1.5m-0.5 0h1.5m3.5 0h1.5m0.5 0h1.5m21.5 0h1.5m6.5 0h1.5m-0.5 0h1.5m3.5 0h1.5m3.5 0h1.5m4.5 0h1.5m-64.5 1h1.5m8.5 0h1.5m5.5 0h1.5m3.5 0h1.5m0.5 0h1.5m7.5 0h1.5m2.5 0h1.5m3.5 0h1.5m5.5 0h1.5m0.5 0h1.5m-0.5 0h1.5m12.5 0h1.5m-72.5 1h1.5m7.5 0h1.5m-0.5 0h1.5m2.5 0h1.5m0.5 0h1.5m2.5 0h1.5m7.5 0h1.5m-0.5 0h1.5m-0.5 0h1.5m0.5 0h1.5m10.5 0h1.5m9.5 0h1.5m8.5 0h1.5m7.5 0h1.5m-70.5 1h1.5m3.5 0h1.5m-0.5 0h1.5m-0.5 0h1.5m-0.5 0h1.5m-0.5 0h1.5m0.5 0h1.5m4.5 0h1.5m-0.5 0h1.5m-0.5 0h1.5m-0.5 0h1.5m1.5 0h1.5m-0.5 0h1.5m-0.5 0h1.5m20.5 0h1.5m10.5 0h1.5m-53.5 1h1.5m1.5 0h1.5m2.5 0h1.5m0.5 0h1.5m1.5 0h1.5m0.5 0h1.5m0.5 0h1.5m0.5 0h1.5m0.5 0h1.5m8.5 0h1.5m-0.5 0h1.5m7.5 0h1.5m6.5 0h1.5m-71.5 1h1.5m12.5 0h1.5m0.5 0h1.5m2.5 0h1.5m1.5 0h1.5m5.5 0h1.5m-0.5 0h1.5m4.5 0h1.5m0.5 0h1.5m-0.5 0h1.5m-0.5 0h1.5m0.5 0h1.5m4.5 0h1.5m0.5 0h1.5m4.5 0h1.5m12.5 0h1.5m0.5 0h1.5m38.5 0h1.5m-108.5 1h1.5m8.5 0h1.5m2.5 0h1.5m4.5 0h1.5m0.5 0h1.5m4.5 0h1.5m-0.5 0h1.5m2.5 0h1.5m-0.5 0h1.5m4.5 0h1.5m5.5 0h1.5m0.5 0h1.5m3.5 0h1.5m12.5 0h1.5m6.5 0h1.5m-70.5 1h1.5m13.5 0h1.5m7.5 0h1.5m-0.5 0h1.5m1.5 0h1.5m2.5 0h1.5m19.5 0h1.5m1.5 0h1.5m0.5 0h1.5m-58.5 1h1.5m0.5 0h1.5m1.5 0h1.5m-0.5 0h1.5m5.5 0h1.5m9.5 0h1.5m-0.5 0h1.5m2.5 0h1.5m-0.5 0h1.5m1.5 0h1.5m-0.5 0h1.5m3.5 0h1.5m8.5 0h1.5m15.5 0h1.5m-46.5 1h1.5m0.5 0h1.5m1.5 0h1.5m-0.5 0h1.5m5.5 0h1.5m14.5 0h1.5m-0.5 0h1.5m10.5 0h1.5m5.5 0h1.5m-59.5 1h1.5m-0.5 0h1.5m3.5 0h1.5m-0.5 0h1.5m-0.5 0h1.5m17.5 0h1.5m17.5 0h1.5m-56.5 1h1.5m9.5 0h1.5m0.5 0h1.5m0.5 0h1.5m8.5 0h1.5m3.5 0h1.5m8.5 0h1.5m11.5 0h1.5m-41.5 1h1.5m2.5 0h1.5m0.5 0h1.5m-0.5 0h1.5m5.5 0h1.5m0.5 0h1.5m0.5 0h1.5m6.5 0h1.5m8.5 0h1.5m12.5 0h1.5m-60.5 1h1.5m15.5 0h1.5m-0.5 0h1.5m3.5 0h1.5m2.5 0h1.5m3.5 0h1.5m0.5 0h1.5m17.5 0h1.5m-62.5 1h1.5m10.5 0h1.5m4.5 0h1.5m0.5 0h1.5m10.5 0h1.5m1.5 0h1.5m-0.5 0h1.5m18.5 0h1.5m-52.5 1h1.5m1.5 0h1.5m0.5 0h1.5m0.5 0h1.5m0.5 0h1.5m15.5 0h1.5m20.5 0h1.5m-52.5 1h1.5m4.5 0h1.5m-0.5 0h1.5m9.5 0h1.5m2.5 0h1.5m-0.5 0h1.5m-23.5 1h1.5m-0.5 0h1.5m1.5 0h1.5m1.5 0h1.5m4.5 0h1.5m2.5 0h1.5m-0.5 0h1.5m2.5 0h1.5m4.5 0h1.5m1.5 0h1.5m13.5 0h1.5m-70.5 1h1.5m30.5 0h1.5m5.5 0h1.5m1.5 0h1.5m-0.5 0h1.5m-0.5 0h1.5m1.5 0h1.5m0.5 0h1.5m17.5 0h1.5m-37.5 1h1.5m14.5 0h1.5m-25.5 1h1.5m0.5 0h1.5m10.5 0h1.5m1.5 0h1.5m6.5 0h1.5m1.5 0h1.5m0.5 0h1.5m8.5 0h1.5m-42.5 1h1.5m9.5 0h1.5m0.5 0h1.5m-0.5 0h1.5m2.5 0h1.5m6.5 0h1.5m3.5 0h1.5m11.5 0h1.5m7.5 0h1.5m2.5 0h1.5m-56.5 1h1.5m7.5 0h1.5m1.5 0h1.5m-0.5 0h1.5m2.5 0h1.5m3.5 0h1.5m-0.5 0h1.5m2.5 0h1.5m-0.5 0h1.5m1.5 0h1.5m-0.5 0h1.5m15.5 0h1.5m-47.5 1h1.5m1.5 0h1.5m1.5 0h1.5m3.5 0h1.5m-0.5 0h1.5m1.5 0h1.5m0.5 0h1.5m-0.5 0h1.5m-19.5 1h1.5m3.5 0h1.5m1.5 0h1.5m3.5 0h1.5m3.5 0h1.5m15.5 0h1.5m16.5 0h1.5m-72.5 1h1.5m13.5 0h1.5m40.5 0h1.5m27.5 0h1.5m-71.5 1h1.5m12.5 0h1.5m-0.5 0h1.5m1.5 0h1.5m-0.5 0h1.5m31.5 0h1.5m-44.5 1h1.5m11.5 0h1.5m4.5 0h1.5m12.5 0h1.5m-26.5 1h1.5m-0.5 0h1.5m4.5 0h1.5m3.5 0h1.5m1.5 0h1.5m-52.5 1h1.5m27.5 0h1.5m2.5 0h1.5m2.5 0h1.5m1.5 0h1.5m6.5 0h1.5m-27.5 1h1.5m13.5 0h1.5m2.5 0h1.5m-24.5 1h1.5m3.5 0h1.5m3.5 0h1.5m-0.5 0h1.5m3.5 0h1.5m11.5 0h1.5m-0.5 0h1.5m0.5 0h1.5m-37.5 1h1.5m16.5 0h1.5m23.5 0h1.5m-30.5 1h1.5m4.5 0h1.5m1.5 0h1.5m1.5 0h1.5m12.5 0h1.5m-47.5 1h1.5m7.5 0h1.5m2.5 0h1.5m1.5 0h1.5m6.5 0h1.5m-0.5 0h1.5m7.5 0h1.5m5.5 0h1.5m-20.5 1h1.5m-0.5 0h1.5m2.5 0h1.5m2.5 0h1.5m3.5 0h1.5m-17.5 1h1.5m2.5 0h1.5m0.5 0h1.5m-0.5 0h1.5m1.5 0h1.5m1.5 0h1.5m5.5 0h1.5m0.5 1h1.5m-33.5 1h1.5m11.5 0h1.5m0.5 0h1.5m6.5 0h1.5m25.5 0h1.5m-40.5 1h1.5m3.5 0h1.5m-0.5 0h1.5m5.5 0h1.5m5.5 0h1.5m2.5 0h1.5m-29.5 1h1.5m-0.5 0h1.5m3.5 0h1.5m-0.5 0h1.5m4.5 0h1.5m-6.5 1h1.5m11.5 0h1.5m6.5 0h1.5m-31.5 1h1.5m23.5 0h1.5m-31.5 1h1.5m4.5 0h1.5m12.5 0h1.5m3.5 0h1.5m-21.5 1h1.5m18.5 0h1.5m-20.5 1h1.5m11.5 0h1.5m-0.5 0h1.5m1.5 0h1.5m13.5 0h1.5m-35.5 1h1.5m3.5 0h1.5m0.5 0h1.5m-0.5 0h1.5m-0.5 0h1.5m7.5 0h1.5m7.5 0h1.5m-22.5 1h1.5m7.5 0h1.5m0.5 0h1.5m-0.5 0h1.5m1.5 0h1.5m0.5 0h1.5m11.5 0h1.5m-37.5 1h1.5m1.5 0h1.5m5.5 0h1.5m8.5 0h1.5m-0.5 0h1.5m-0.5 0h1.5m16.5 0h1.5m-35.5 1h1.5m11.5 0h1.5m1.5 0h1.5m6.5 0h1.5m-33.5 1h1.5m12.5 0h1.5m8.5 0h1.5m5.5 0h1.5m6.5 0h1.5m-44.5 1h1.5m10.5 0h1.5m0.5 0h1.5m1.5 0h1.5m1.5 0h1.5m7.5 0h1.5m-31.5 1h1.5m6.5 0h1.5m0.5 0h1.5m5.5 0h1.5m0.5 0h1.5m6.5 0h1.5m-0.5 0h1.5m3.5 0h1.5m6.5 0h1.5m-0.5 0h1.5m-26.5 1h1.5m1.5 0h1.5m-0.5 0h1.5m18.5 0h1.5m-34.5 1h1.5m2.5 0h1.5m6.5 0h1.5m3.5 0h1.5m4.5 0h1.5m-0.5 0h1.5m-14.5 1h1.5m2.5 0h1.5m9.5 0h1.5m-23.5 1h1.5m1.5 0h1.5m9.5 0h1.5m-15.5 1h1.5m0.5 0h1.5m12.5 0h1.5m9.5 0h1.5m-31.5 1h1.5m4.5 0h1.5m9.5 0h1.5m4.5 0h1.5m-25.5 1h1.5m4.5 0h1.5m0.5 0h1.5m0.5 0h1.5m22.5 0h1.5m-43.5 1h1.5m19.5 0h1.5m8.5 0h1.5m-13.5 2h1.5m-14.5 1h1.5m6.5 0h1.5m3.5 0h1.5m27.5 0h1.5m-29.5 2h1.5m13.5 0h1.5m-26.5 1h1.5m5.5 0h1.5m-0.5 0h1.5m7.5 0h1.5m0.5 1h1.5m-13.5 1h1.5m-3.5 1h1.5m-8.5 1h1.5m1.5 0h1.5m-0.5 0h1.5m22.5 0h1.5m-20.5 1h1.5m16.5 0h1.5m-21.5 1h1.5m-0.5 0h1.5m11.5 0h1.5m-20.5 1h1.5m4.5 1h1.5m16.5 5h1.5m-31.5 2h1.5m8.5 0h1.5m1.5 2h1.5m6.5 0h1.5" stroke="#1a1aff" stroke-width="1.5"/>
<path d="M319 2287h1.5m-9.5 13h1.5m0.5 0h1.5m6.5 0h1.5m-11.5 3h1.5m3.5 0h1.5m-15.5 1h1.5m19.5 1h1.5m-10.5 1h1.5m-3.5 1h1.5m4.5 0h1.5m2.5 0h1.5m-8.5 1h1.5m1.5 1h1.5m-9.5 1h1.5m-1.5 1h1.5m7.5 1h1.5m-3.5 1h1.5m-7.5 1h1.5m8.5 0h1.5m-14.5 1h1.5m23.5 0h1.5m-30.5 2h1.5m-0.5 0h1.5m4.5 0h1.5m0.5 0h1.5m5.5 1h1.5m1.5 0h1.5m0.5 0h1.5m0.5 1h1.5m1.5 0h1.5m-24.5 1h1.5m10.5 0h1.5m2.5 0h1.5m6.5 0h1.5m1.5 1h1.5m-31.5 3h1.5m8.5 1h1.5m1.5 0h1.5m-0.5 2h1.5m5.5 0h1.5m-20.5 1h1.5m10.5 1h1.5m2.5 0h1.5m2.5 0h1.5m-19.5 1h1.5m4.5 0h1.5m0.5 2h1.5m0.5 0h1.5m-2.5 1h1.5m4.5 0h1.5m2.5 0h1.5m-0.5 0h1.5m0.5 0h1.5m-0.5 1h1.5m-22.5 2h1.5m-1.5 1h1.5m-5.5 1h1.5m8.5 1h1.5m-9.5 3h1.5" stroke="#ffb020" stroke-width="1.5"/>
<path d="M307 2304h1.5m0.5 2h1.5m2.5 3h1.5m1.5 1h1.5m-5.5 2h1.5m0.5 3h1.5m-7.5 2h1.5m-1.5 2h1.5m-0.5 0h1.5m10.5 2h1.5m-8.5 1h1.5m-0.5 5h1.5m-7.5 2h1.5m-0.5 6h1.5m-3.5 4h1.5m-2.5 1h1.5" stroke="#ff2020" stroke-width="1.5"/>
<rect x="236.4" y="2156.1" width="280.3" height="280.1" fill="none" stroke="#444" stroke-width="1.6"/>
<path d="M331.9 2156.1V2436.2M236.4 2284.3H516.7" stroke="#000" stroke-width="2.2"/>
<text x="245.2" y="2174.6" font-size="16.71" textLength="59.1" lengthAdjust="spacingAndGlyphs" style="font-weight:bold">Q1:4.89</text>
<text x="450.6" y="2174.6" font-size="16.71" textLength="59.1" lengthAdjust="spacingAndGlyphs" style="font-weight:bold">Q2:6.76</text>
<text x="245.2" y="2429.4" font-size="16.71" textLength="59.1" lengthAdjust="spacingAndGlyphs" style="font-weight:bold">Q4:65.9</text>
<text x="449.4" y="2429.4" font-size="16.71" textLength="59.1" lengthAdjust="spacingAndGlyphs" style="font-weight:bold">Q3:22.5</text>
<text x="284.2" y="2491.0" font-size="24.55" style="font-weight:bold">CD8(APC/Cy7)</text>
<text x="0" y="0" font-size="23.85" transform="translate(194.3,2371.4) rotate(-90)" textLength="125.3" lengthAdjust="spacingAndGlyphs" style="font-weight:bold">GITR(APC)</text>
<text x="232.9" y="2466.2" font-size="16.43" style="font-weight:bold">-10</text>
<text x="255.3" y="2456.9" font-size="11.43" style="font-weight:bold">3</text>
<text x="336.0" y="2466.2" font-size="16.43" style="font-weight:bold">10</text>
<text x="354.1" y="2456.9" font-size="11.43" style="font-weight:bold">3</text>
<text x="412.0" y="2466.2" font-size="16.43" style="font-weight:bold">10</text>
<text x="430.2" y="2456.9" font-size="11.59" style="font-weight:bold">4</text>
<text x="477.0" y="2466.2" font-size="16.43" style="font-weight:bold">10</text>
<text x="495.1" y="2456.9" font-size="11.59" style="font-weight:bold">5</text>
<text x="293.2" y="2466.2" font-size="16.43" style="font-weight:bold">0</text>
<text x="202.6" y="2189.0" font-size="16.43" style="font-weight:bold">10</text>
<text x="220.1" y="2180.0" font-size="12.61" style="font-weight:bold">5</text>
<text x="202.2" y="2254.0" font-size="16.43" style="font-weight:bold">10</text>
<text x="219.9" y="2245.0" font-size="12.61" style="font-weight:bold">4</text>
<text x="202.7" y="2329.9" font-size="16.43" style="font-weight:bold">10</text>
<text x="220.2" y="2320.9" font-size="12.43" style="font-weight:bold">3</text>
<text x="197.2" y="2428.8" font-size="16.43" style="font-weight:bold">-10</text>
<text x="220.2" y="2419.8" font-size="12.43" style="font-weight:bold">3</text>
<text x="210.8" y="2380.9" font-size="16.43" style="font-weight:bold">0</text>
<path d="M661.1 2435.7v4M604.7 2379.5h-4M671.0 2435.7v4M604.7 2369.7h-4M656.3 2435.7v4M604.7 2384.3h-4M676.1 2435.7v4M604.7 2364.6h-4M651.5 2435.7v4M604.7 2389.1h-4M681.2 2435.7v4M604.7 2359.5h-4M646.7 2435.7v4M604.7 2393.9h-4M686.4 2435.7v4M604.7 2354.4h-4M641.9 2435.7v4M604.7 2398.7h-4M691.5 2435.7v4M604.7 2349.3h-4M637.1 2435.7v4M604.7 2403.4h-4M696.6 2435.7v4M604.7 2344.2h-4M632.3 2435.7v4M604.7 2408.2h-4M701.7 2435.7v4M604.7 2339.2h-4M627.5 2435.7v4M604.7 2413.0h-4M706.8 2435.7v4M604.7 2334.1h-4M622.7 2435.7v4M604.7 2417.8h-4M711.9 2435.7v4M604.7 2329.0h-4M739.9 2435.7v4M604.7 2301.1h-4M753.3 2435.7v4M604.7 2287.8h-4M762.8 2435.7v4M604.7 2278.3h-4M770.2 2435.7v4M604.7 2271.0h-4M776.2 2435.7v4M604.7 2265.0h-4M781.3 2435.7v4M604.7 2259.9h-4M785.7 2435.7v4M604.7 2255.5h-4M789.6 2435.7v4M604.7 2251.6h-4M812.7 2435.7v4M604.7 2228.6h-4M824.2 2435.7v4M604.7 2217.2h-4M832.3 2435.7v4M604.7 2209.1h-4M838.7 2435.7v4M604.7 2202.8h-4M843.8 2435.7v4M604.7 2197.7h-4M848.2 2435.7v4M604.7 2193.4h-4M851.9 2435.7v4M604.7 2189.6h-4M855.3 2435.7v4M604.7 2186.3h-4M877.9 2435.7v4M604.7 2163.8h-4" stroke="#222" stroke-width="1.3" fill="none"/>
<path d="M617.9 2435.7v7M604.7 2422.6h-7M717.0 2435.7v7M604.7 2323.9h-7M793.1 2435.7v7M604.7 2248.2h-7M858.3 2435.7v7M604.7 2183.3h-7" stroke="#111" stroke-width="2" fill="none"/>
<path d="M659.9 2435.7v6M604.7 2380.8h-6M661.4 2435.7v6M604.7 2379.3h-6M662.9 2435.7v7M604.7 2377.8h-7M664.4 2435.7v7M604.7 2376.3h-7M665.9 2435.7v7M604.7 2374.8h-7M667.4 2435.7v7M604.7 2373.3h-7M668.9 2435.7v7M604.7 2371.8h-7M670.4 2435.7v6M604.7 2370.3h-6M671.9 2435.7v6M604.7 2368.8h-6" stroke="#111" stroke-width="1.4" fill="none"/>
<path d="M831 2185h1.5m-39.5 7h1.5m5.5 1h1.5m6.5 0h1.5m1.5 0h1.5m3.5 1h1.5m-22.5 1h1.5m-1.5 1h1.5m10.5 0h1.5m-14.5 1h1.5m9.5 0h1.5m-15.5 1h1.5m9.5 0h1.5m-14.5 1h1.5m14.5 0h1.5m-1.5 1h1.5m-5.5 1h1.5m-35.5 1h1.5m6.5 0h1.5m36.5 0h1.5m-47.5 1h1.5m40.5 0h1.5m-15.5 1h1.5m-12.5 1h1.5m7.5 0h1.5m8.5 0h1.5m-0.5 0h1.5m-39.5 1h1.5m1.5 0h1.5m12.5 0h1.5m6.5 0h1.5m2.5 0h1.5m13.5 0h1.5m-33.5 1h1.5m12.5 0h1.5m4.5 0h1.5m1.5 0h1.5m-31.5 1h1.5m25.5 0h1.5m4.5 0h1.5m-13.5 1h1.5m2.5 0h1.5m0.5 0h1.5m-5.5 1h1.5m11.5 0h1.5m-25.5 1h1.5m6.5 0h1.5m3.5 0h1.5m-28.5 1h1.5m17.5 0h1.5m4.5 0h1.5m1.5 0h1.5m-17.5 1h1.5m16.5 0h1.5m-24.5 1h1.5m7.5 0h1.5m-0.5 0h1.5m8.5 0h1.5m-39.5 1h1.5m0.5 0h1.5m8.5 0h1.5m8.5 0h1.5m17.5 0h1.5m-11.5 1h1.5m2.5 0h1.5m13.5 0h1.5m-27.5 1h1.5m22.5 0h1.5m6.5 0h1.5m-47.5 1h1.5m5.5 0h1.5m1.5 0h1.5m9.5 0h1.5m9.5 0h1.5m-22.5 1h1.5m7.5 0h1.5m-3.5 1h1.5m2.5 0h1.5m20.5 0h1.5m-25.5 1h1.5m21.5 0h1.5m-53.5 1h1.5m2.5 0h1.5m18.5 0h1.5m0.5 0h1.5m-0.5 0h1.5m4.5 0h1.5m-0.5 0h1.5m2.5 0h1.5m14.5 0h1.5m-60.5 1h1.5m9.5 0h1.5m6.5 0h1.5m0.5 0h1.5m2.5 0h1.5m22.5 0h1.5m-23.5 1h1.5m6.5 0h1.5m-13.5 1h1.5m0.5 0h1.5m0.5 0h1.5m19.5 0h1.5m3.5 0h1.5m-37.5 1h1.5m8.5 0h1.5m1.5 0h1.5m0.5 0h1.5m-20.5 1h1.5m9.5 0h1.5m7.5 0h1.5m2.5 0h1.5m-39.5 1h1.5m4.5 0h1.5m1.5 0h1.5m8.5 0h1.5m0.5 0h1.5m5.5 0h1.5m1.5 0h1.5m6.5 0h1.5m-0.5 0h1.5m-19.5 1h1.5m2.5 0h1.5m3.5 0h1.5m4.5 0h1.5m3.5 0h1.5m-26.5 1h1.5m-0.5 0h1.5m0.5 0h1.5m4.5 0h1.5m12.5 0h1.5m-20.5 1h1.5m5.5 0h1.5m-0.5 0h1.5m13.5 0h1.5m-29.5 1h1.5m-16.5 1h1.5m11.5 0h1.5m3.5 0h1.5m2.5 0h1.5m-0.5 0h1.5m-0.5 0h1.5m0.5 0h1.5m-0.5 0h1.5m-31.5 1h1.5m8.5 0h1.5m16.5 0h1.5m-0.5 0h1.5m7.5 0h1.5m-27.5 1h1.5m1.5 0h1.5m3.5 0h1.5m-0.5 0h1.5m1.5 0h1.5m0.5 0h1.5m18.5 0h1.5m-123.5 1h1.5m0.5 0h1.5m79.5 0h1.5m13.5 0h1.5m-1.5 1h1.5m13.5 0h1.5m-117.5 1h1.5m80.5 0h1.5m23.5 0h1.5m-19.5 1h1.5m0.5 0h1.5m-84.5 1h1.5m99.5 0h1.5m2.5 0h1.5m1.5 0h1.5m-0.5 0h1.5m-117.5 1h1.5m89.5 0h1.5m10.5 0h1.5m17.5 0h1.5m-33.5 1h1.5m5.5 0h1.5m15.5 0h1.5m-23.5 1h1.5m3.5 1h1.5m6.5 0h1.5m-7.5 1h1.5m-0.5 0h1.5m-98.5 1h1.5m3.5 0h1.5m68.5 0h1.5m21.5 0h1.5m9.5 0h1.5m1.5 0h1.5m-103.5 1h1.5m86.5 0h1.5m8.5 0h1.5m-117.5 1h1.5m0.5 0h1.5m14.5 0h1.5m75.5 0h1.5m8.5 0h1.5m-107.5 1h1.5m6.5 0h1.5m101.5 0h1.5m-116.5 1h1.5m20.5 0h1.5m60.5 0h1.5m10.5 0h1.5m5.5 0h1.5m0.5 0h1.5m9.5 0h1.5m5.5 0h1.5m-113.5 1h1.5m2.5 0h1.5m2.5 0h1.5m39.5 0h1.5m25.5 0h1.5m-105.5 1h1.5m22.5 0h1.5m74.5 0h1.5m7.5 0h1.5m19.5 0h1.5m6.5 0h1.5m-124.5 1h1.5m8.5 0h1.5m8.5 0h1.5m81.5 0h1.5m10.5 0h1.5m-98.5 1h1.5m3.5 0h1.5m69.5 0h1.5m31.5 0h1.5m-119.5 1h1.5m1.5 0h1.5m86.5 0h1.5m-79.5 1h1.5m85.5 0h1.5m0.5 0h1.5m-107.5 1h1.5m1.5 0h1.5m3.5 0h1.5m4.5 0h1.5m1.5 0h1.5m-0.5 0h1.5m93.5 0h1.5m-107.5 1h1.5m1.5 0h1.5m-0.5 0h1.5m58.5 0h1.5m-0.5 0h1.5m-73.5 1h1.5m1.5 0h1.5m3.5 0h1.5m4.5 0h1.5m52.5 0h1.5m20.5 0h1.5m-117.5 1h1.5m21.5 0h1.5m-0.5 0h1.5m0.5 0h1.5m3.5 0h1.5m1.5 0h1.5m-0.5 0h1.5m4.5 0h1.5m0.5 0h1.5m4.5 0h1.5m48.5 0h1.5m0.5 0h1.5m7.5 0h1.5m2.5 0h1.5m4.5 0h1.5m-101.5 1h1.5m4.5 0h1.5m15.5 0h1.5m-20.5 1h1.5m2.5 0h1.5m0.5 0h1.5m6.5 0h1.5m2.5 0h1.5m1.5 0h1.5m0.5 0h1.5m62.5 0h1.5m-87.5 1h1.5m-0.5 0h1.5m2.5 0h1.5m4.5 0h1.5m0.5 0h1.5m5.5 0h1.5m17.5 0h1.5m-41.5 1h1.5m8.5 0h1.5m54.5 0h1.5m-60.5 1h1.5m4.5 0h1.5m1.5 0h1.5m5.5 0h1.5m45.5 0h1.5m20.5 0h1.5m-91.5 1h1.5m4.5 0h1.5m0.5 0h1.5m10.5 0h1.5m5.5 0h1.5m73.5 0h1.5m-97.5 1h1.5m1.5 0h1.5m11.5 0h1.5m4.5 0h1.5m33.5 0h1.5m49.5 0h1.5m-115.5 1h1.5m9.5 0h1.5m-0.5 0h1.5m7.5 0h1.5m1.5 0h1.5m0.5 0h1.5m-26.5 1h1.5m0.5 0h1.5m-0.5 0h1.5m0.5 0h1.5m-0.5 0h1.5m2.5 0h1.5m1.5 0h1.5m-0.5 0h1.5m48.5 0h1.5m-0.5 0h1.5m1.5 0h1.5m1.5 0h1.5m-64.5 1h1.5m12.5 0h1.5m5.5 0h1.5m41.5 0h1.5m-72.5 1h1.5m9.5 0h1.5m5.5 0h1.5m19.5 0h1.5m17.5 0h1.5m-76.5 1h1.5m13.5 0h1.5m2.5 0h1.5m0.5 0h1.5m8.5 0h1.5m2.5 0h1.5m40.5 0h1.5m2.5 0h1.5m-68.5 1h1.5m14.5 0h1.5m15.5 0h1.5m28.5 0h1.5m11.5 0h1.5m-84.5 1h1.5m14.5 0h1.5m0.5 0h1.5m0.5 0h1.5m0.5 0h1.5m3.5 0h1.5m22.5 0h1.5m19.5 0h1.5m77.5 0h1.5m-143.5 1h1.5m17.5 0h1.5m5.5 0h1.5m-34.5 1h1.5m0.5 0h1.5m6.5 0h1.5m0.5 0h1.5m1.5 0h1.5m-0.5 0h1.5m10.5 0h1.5m3.5 0h1.5m12.5 0h1.5m-50.5 1h1.5m7.5 0h1.5m-0.5 0h1.5m2.5 0h1.5m7.5 0h1.5m29.5 0h1.5m-55.5 1h1.5m9.5 0h1.5m1.5 0h1.5m13.5 0h1.5m27.5 0h1.5m-57.5 1h1.5m0.5 0h1.5m0.5 0h1.5m5.5 0h1.5m2.5 0h1.5m6.5 0h1.5m24.5 0h1.5m23.5 0h1.5m-70.5 1h1.5m-0.5 0h1.5m22.5 0h1.5m21.5 0h1.5m7.5 0h1.5m-64.5 1h1.5m3.5 0h1.5m4.5 0h1.5m-0.5 0h1.5m1.5 0h1.5m-0.5 0h1.5m1.5 0h1.5m1.5 0h1.5m0.5 0h1.5m36.5 0h1.5m-61.5 1h1.5m-0.5 0h1.5m4.5 0h1.5m6.5 0h1.5m-0.5 0h1.5m-22.5 1h1.5m1.5 0h1.5m6.5 0h1.5m43.5 0h1.5m2.5 0h1.5m0.5 0h1.5m2.5 0h1.5m-54.5 1h1.5m3.5 0h1.5m-0.5 0h1.5m4.5 0h1.5m-0.5 0h1.5m0.5 0h1.5m19.5 0h1.5m-39.5 1h1.5m3.5 0h1.5m-0.5 0h1.5m0.5 0h1.5m6.5 0h1.5m23.5 0h1.5m-38.5 1h1.5m2.5 0h1.5m9.5 0h1.5m12.5 0h1.5m8.5 0h1.5m16.5 0h1.5m-68.5 1h1.5m3.5 0h1.5m3.5 0h1.5m3.5 0h1.5m-0.5 0h1.5m7.5 0h1.5m20.5 0h1.5m-45.5 1h1.5m0.5 0h1.5m10.5 0h1.5m3.5 0h1.5m-4.5 1h1.5m0.5 0h1.5m-0.5 0h1.5m1.5 0h1.5m17.5 0h1.5m6.5 0h1.5m1.5 0h1.5m9.5 0h1.5m0.5 0h1.5m-67.5 1h1.5m0.5 0h1.5m-0.5 0h1.5m2.5 0h1.5m0.5 0h1.5m0.5 0h1.5m0.5 0h1.5m32.5 0h1.5m2.5 0h1.5m-60.5 1h1.5m-0.5 0h1.5m13.5 0h1.5m0.5 0h1.5m5.5 0h1.5m-0.5 0h1.5m-0.5 0h1.5m46.5 0h1.5m-66.5 1h1.5m2.5 0h1.5m-0.5 0h1.5m0.5 0h1.5m1.5 0h1.5m4.5 0h1.5m48.5 0h1.5m-73.5 1h1.5m1.5 0h1.5m0.5 0h1.5m-0.5 0h1.5m0.5 0h1.5m0.5 0h1.5m1.5 0h1.5m0.5 0h1.5m1.5 0h1.5m1.5 0h1.5m0.5 0h1.5m27.5 0h1.5m-0.5 0h1.5m-53.5 1h1.5m5.5 0h1.5m2.5 0h1.5m-0.5 0h1.5m-0.5 0h1.5m3.5 0h1.5m28.5 0h1.5m17.5 0h1.5m0.5 0h1.5m1.5 0h1.5m-66.5 1h1.5m0.5 0h1.5m17.5 0h1.5m11.5 0h1.5m-30.5 1h1.5m-0.5 0h1.5m0.5 0h1.5m0.5 0h1.5m0.5 0h1.5m2.5 0h1.5m7.5 0h1.5m12.5 0h1.5m3.5 0h1.5m2.5 0h1.5m20.5 0h1.5m-86.5 1h1.5m3.5 0h1.5m3.5 0h1.5m-0.5 0h1.5m3.5 0h1.5m1.5 0h1.5m-0.5 0h1.5m-0.5 0h1.5m1.5 0h1.5m1.5 0h1.5m1.5 0h1.5m-0.5 0h1.5m26.5 0h1.5m6.5 0h1.5m3.5 0h1.5m0.5 0h1.5m9.5 0h1.5m-70.5 1h1.5m0.5 0h1.5m19.5 0h1.5m8.5 0h1.5m18.5 0h1.5m7.5 0h1.5m-79.5 1h1.5m5.5 0h1.5m4.5 0h1.5m-0.5 0h1.5m0.5 0h1.5m-0.5 0h1.5m-0.5 0h1.5m0.5 0h1.5m0.5 0h1.5m-0.5 0h1.5m-0.5 0h1.5m-0.5 0h1.5m-0.5 0h1.5m56.5 0h1.5m-70.5 1h1.5m-0.5 0h1.5m-0.5 0h1.5m1.5 0h1.5m0.5 0h1.5m2.5 0h1.5m0.5 0h1.5m26.5 0h1.5m6.5 0h1.5m9.5 0h1.5m-72.5 1h1.5m1.5 0h1.5m5.5 0h1.5m0.5 0h1.5m46.5 0h1.5m11.5 0h1.5m-66.5 1h1.5m-0.5 0h1.5m1.5 0h1.5m0.5 0h1.5m4.5 0h1.5m-0.5 0h1.5m-0.5 0h1.5m17.5 0h1.5m34.5 0h1.5m-78.5 1h1.5m1.5 0h1.5m19.5 0h1.5m-0.5 0h1.5m1.5 0h1.5m17.5 0h1.5m2.5 0h1.5m13.5 0h1.5m1.5 0h1.5m-68.5 1h1.5m0.5 0h1.5m4.5 0h1.5m0.5 0h1.5m3.5 0h1.5m3.5 0h1.5m3.5 0h1.5m8.5 0h1.5m0.5 0h1.5m10.5 0h1.5m5.5 0h1.5m5.5 0h1.5m0.5 0h1.5m4.5 0h1.5m-0.5 0h1.5m0.5 0h1.5m-71.5 1h1.5m0.5 0h1.5m6.5 0h1.5m-0.5 0h1.5m-0.5 0h1.5m-0.5 0h1.5m6.5 0h1.5m0.5 0h1.5m13.5 0h1.5m1.5 0h1.5m5.5 0h1.5m0.5 0h1.5m3.5 0h1.5m8.5 0h1.5m-73.5 1h1.5m9.5 0h1.5m-0.5 0h1.5m-0.5 0h1.5m0.5 0h1.5m-0.5 0h1.5m5.5 0h1.5m0.5 0h1.5m13.5 0h1.5m20.5 0h1.5m-62.5 1h1.5m1.5 0h1.5m2.5 0h1.5m1.5 0h1.5m9.5 0h1.5m4.5 0h1.5m0.5 0h1.5m-0.5 0h1.5m-0.5 0h1.5m2.5 0h1.5m5.5 0h1.5m12.5 0h1.5m7.5 0h1.5m9.5 0h1.5m-74.5 1h1.5m-0.5 0h1.5m-0.5 0h1.5m-0.5 0h1.5m0.5 0h1.5m-0.5 0h1.5m0.5 0h1.5m3.5 0h1.5m0.5 0h1.5m-0.5 0h1.5m0.5 0h1.5m10.5 0h1.5m15.5 0h1.5m-0.5 0h1.5m-0.5 0h1.5m-47.5 1h1.5m0.5 0h1.5m1.5 0h1.5m0.5 0h1.5m-0.5 0h1.5m1.5 0h1.5m2.5 0h1.5m0.5 0h1.5m18.5 0h1.5m4.5 0h1.5m4.5 0h1.5m4.5 0h1.5m-55.5 1h1.5m0.5 0h1.5m2.5 0h1.5m-0.5 0h1.5m1.5 0h1.5m-0.5 0h1.5m3.5 0h1.5m21.5 0h1.5m1.5 0h1.5m8.5 0h1.5m-69.5 1h1.5m12.5 0h1.5m4.5 0h1.5m0.5 0h1.5m0.5 0h1.5m-0.5 0h1.5m-0.5 0h1.5m0.5 0h1.5m0.5 0h1.5m1.5 0h1.5m-0.5 0h1.5m2.5 0h1.5m6.5 0h1.5m0.5 0h1.5m3.5 0h1.5m-0.5 0h1.5m10.5 0h1.5m-57.5 1h1.5m2.5 0h1.5m3.5 0h1.5m0.5 0h1.5m1.5 0h1.5m9.5 0h1.5m14.5 0h1.5m5.5 0h1.5m6.5 0h1.5m3.5 0h1.5m-0.5 0h1.5m0.5 0h1.5m1.5 0h1.5m-59.5 1h1.5m0.5 0h1.5m4.5 0h1.5m-0.5 0h1.5m4.5 0h1.5m1.5 0h1.5m0.5 0h1.5m12.5 0h1.5m3.5 0h1.5m4.5 0h1.5m0.5 0h1.5m9.5 0h1.5m-66.5 1h1.5m3.5 0h1.5m4.5 0h1.5m2.5 0h1.5m0.5 0h1.5m-0.5 0h1.5m1.5 0h1.5m0.5 0h1.5m2.5 0h1.5m4.5 0h1.5m14.5 0h1.5m0.5 0h1.5m10.5 0h1.5m-0.5 0h1.5m6.5 0h1.5m-76.5 1h1.5m1.5 0h1.5m0.5 0h1.5m3.5 0h1.5m2.5 0h1.5m-0.5 0h1.5m-0.5 0h1.5m-0.5 0h1.5m-0.5 0h1.5m6.5 0h1.5m5.5 0h1.5m6.5 0h1.5m4.5 0h1.5m13.5 0h1.5m2.5 0h1.5m-61.5 1h1.5m0.5 0h1.5m-0.5 0h1.5m1.5 0h1.5m-0.5 0h1.5m0.5 0h1.5m0.5 0h1.5m1.5 0h1.5m2.5 0h1.5m7.5 0h1.5m-0.5 0h1.5m-0.5 0h1.5m6.5 0h1.5m1.5 0h1.5m11.5 0h1.5m-0.5 0h1.5m1.5 0h1.5m1.5 0h1.5m0.5 0h1.5m-68.5 1h1.5m-0.5 0h1.5m3.5 0h1.5m-0.5 0h1.5m0.5 0h1.5m-0.5 0h1.5m0.5 0h1.5m4.5 0h1.5m-0.5 0h1.5m0.5 0h1.5m-0.5 0h1.5m-0.5 0h1.5m28.5 0h1.5m-0.5 0h1.5m6.5 0h1.5m7.5 0h1.5m0.5 0h1.5m0.5 0h1.5m-74.5 1h1.5m2.5 0h1.5m-0.5 0h1.5m-0.5 0h1.5m-0.5 0h1.5m0.5 0h1.5m0.5 0h1.5m-0.5 0h1.5m-0.5 0h1.5m1.5 0h1.5m-0.5 0h1.5m4.5 0h1.5m11.5 0h1.5m10.5 0h1.5m2.5 0h1.5m-50.5 1h1.5m-0.5 0h1.5m-0.5 0h1.5m2.5 0h1.5m-0.5 0h1.5m-0.5 0h1.5m3.5 0h1.5m-0.5 0h1.5m-0.5 0h1.5m1.5 0h1.5m0.5 0h1.5m-0.5 0h1.5m1.5 0h1.5m0.5 0h1.5m0.5 0h1.5m9.5 0h1.5m5.5 0h1.5m2.5 0h1.5m2.5 0h1.5m6.5 0h1.5m0.5 0h1.5m-0.5 0h1.5m2.5 0h1.5m-76.5 1h1.5m8.5 0h1.5m-0.5 0h1.5m0.5 0h1.5m-0.5 0h1.5m2.5 0h1.5m-0.5 0h1.5m0.5 0h1.5m4.5 0h1.5m3.5 0h1.5m6.5 0h1.5m-0.5 0h1.5m5.5 0h1.5m7.5 0h1.5m11.5 0h1.5m-76.5 1h1.5m10.5 0h1.5m1.5 0h1.5m-0.5 0h1.5m3.5 0h1.5m4.5 0h1.5m0.5 0h1.5m31.5 0h1.5m19.5 0h1.5m1.5 0h1.5m-82.5 1h1.5m6.5 0h1.5m1.5 0h1.5m-0.5 0h1.5m-0.5 0h1.5m8.5 0h1.5m7.5 0h1.5m6.5 0h1.5m3.5 0h1.5m4.5 0h1.5m10.5 0h1.5m1.5 0h1.5m1.5 0h1.5m7.5 0h1.5m2.5 0h1.5m-77.5 1h1.5m0.5 0h1.5m2.5 0h1.5m1.5 0h1.5m1.5 0h1.5m5.5 0h1.5m11.5 0h1.5m12.5 0h1.5m1.5 0h1.5m-0.5 0h1.5m4.5 0h1.5m3.5 0h1.5m-73.5 1h1.5m-0.5 0h1.5m3.5 0h1.5m0.5 0h1.5m2.5 0h1.5m0.5 0h1.5m1.5 0h1.5m3.5 0h1.5m0.5 0h1.5m8.5 0h1.5m4.5 0h1.5m16.5 0h1.5m0.5 0h1.5m16.5 0h1.5m-74.5 1h1.5m7.5 0h1.5m4.5 0h1.5m1.5 0h1.5m0.5 0h1.5m18.5 0h1.5m18.5 0h1.5m2.5 0h1.5m3.5 0h1.5m0.5 0h1.5m-76.5 1h1.5m12.5 0h1.5m-0.5 0h1.5m1.5 0h1.5m-0.5 0h1.5m-0.5 0h1.5m1.5 0h1.5m0.5 0h1.5m3.5 0h1.5m17.5 0h1.5m4.5 0h1.5m7.5 0h1.5m3.5 0h1.5m5.5 0h1.5m3.5 0h1.5m-77.5 1h1.5m9.5 0h1.5m-0.5 0h1.5m0.5 0h1.5m-0.5 0h1.5m3.5 0h1.5m0.5 0h1.5m-0.5 0h1.5m1.5 0h1.5m-0.5 0h1.5m1.5 0h1.5m10.5 0h1.5m5.5 0h1.5m-0.5 0h1.5m0.5 0h1.5m3.5 0h1.5m-0.5 0h1.5m5.5 0h1.5m2.5 0h1.5m12.5 0h1.5m-87.5 1h1.5m3.5 0h1.5m2.5 0h1.5m-0.5 0h1.5m-0.5 0h1.5m1.5 0h1.5m2.5 0h1.5m1.5 0h1.5m-0.5 0h1.5m-0.5 0h1.5m-0.5 0h1.5m0.5 0h1.5m26.5 0h1.5m12.5 0h1.5m19.5 0h1.5m-87.5 1h1.5m-0.5 0h1.5m-0.5 0h1.5m0.5 0h1.5m0.5 0h1.5m-0.5 0h1.5m0.5 0h1.5m2.5 0h1.5m1.5 0h1.5m0.5 0h1.5m-0.5 0h1.5m-0.5 0h1.5m0.5 0h1.5m11.5 0h1.5m10.5 0h1.5m4.5 0h1.5m0.5 0h1.5m9.5 0h1.5m12.5 0h1.5m-86.5 1h1.5m13.5 0h1.5m-0.5 0h1.5m1.5 0h1.5m1.5 0h1.5m1.5 0h1.5m-0.5 0h1.5m0.5 0h1.5m-0.5 0h1.5m9.5 0h1.5m3.5 0h1.5m1.5 0h1.5m5.5 0h1.5m0.5 0h1.5m-0.5 0h1.5m15.5 0h1.5m-73.5 1h1.5m3.5 0h1.5m0.5 0h1.5m0.5 0h1.5m-0.5 0h1.5m4.5 0h1.5m2.5 0h1.5m2.5 0h1.5m1.5 0h1.5m26.5 0h1.5m4.5 0h1.5m1.5 0h1.5m15.5 0h1.5m-79.5 1h1.5m-0.5 0h1.5m-0.5 0h1.5m5.5 0h1.5m3.5 0h1.5m-0.5 0h1.5m-0.5 0h1.5m1.5 0h1.5m-0.5 0h1.5m0.5 0h1.5m-0.5 0h1.5m0.5 0h1.5m1.5 0h1.5m13.5 0h1.5m2.5 0h1.5m1.5 0h1.5m0.5 0h1.5m8.5 0h1.5m-63.5 1h1.5m3.5 0h1.5m0.5 0h1.5m1.5 0h1.5m0.5 0h1.5m-0.5 0h1.5m1.5 0h1.5m1.5 0h1.5m1.5 0h1.5m7.5 0h1.5m-0.5 0h1.5m11.5 0h1.5m4.5 0h1.5m3.5 0h1.5m0.5 0h1.5m1.5 0h1.5m1.5 0h1.5m7.5 0h1.5m10.5 0h1.5m-83.5 1h1.5m4.5 0h1.5m1.5 0h1.5m6.5 0h1.5m2.5 0h1.5m-0.5 0h1.5m23.5 0h1.5m0.5 0h1.5m1.5 0h1.5m1.5 0h1.5m3.5 0h1.5m2.5 0h1.5m1.5 0h1.5m-71.5 1h1.5m-0.5 0h1.5m2.5 0h1.5m2.5 0h1.5m5.5 0h1.5m-0.5 0h1.5m4.5 0h1.5m-0.5 0h1.5m-0.5 0h1.5m-0.5 0h1.5m10.5 0h1.5m-0.5 0h1.5m2.5 0h1.5m3.5 0h1.5m3.5 0h1.5m1.5 0h1.5m9.5 0h1.5m0.5 0h1.5m-74.5 1h1.5m5.5 0h1.5m0.5 0h1.5m0.5 0h1.5m1.5 0h1.5m-0.5 0h1.5m1.5 0h1.5m-0.5 0h1.5m-0.5 0h1.5m0.5 0h1.5m1.5 0h1.5m4.5 0h1.5m3.5 0h1.5m22.5 0h1.5m1.5 0h1.5m2.5 0h1.5m-64.5 1h1.5m1.5 0h1.5m1.5 0h1.5m1.5 0h1.5m2.5 0h1.5m3.5 0h1.5m-0.5 0h1.5m4.5 0h1.5m1.5 0h1.5m3.5 0h1.5m0.5 0h1.5m7.5 0h1.5m7.5 0h1.5m6.5 0h1.5m1.5 0h1.5m3.5 0h1.5m-61.5 1h1.5m-0.5 0h1.5m0.5 0h1.5m-0.5 0h1.5m-0.5 0h1.5m2.5 0h1.5m2.5 0h1.5m0.5 0h1.5m0.5 0h1.5m24.5 0h1.5m-0.5 0h1.5m-0.5 0h1.5m14.5 0h1.5m0.5 0h1.5m-80.5 1h1.5m8.5 0h1.5m1.5 0h1.5m-0.5 0h1.5m-0.5 0h1.5m0.5 0h1.5m-0.5 0h1.5m2.5 0h1.5m0.5 0h1.5m-0.5 0h1.5m3.5 0h1.5m-0.5 0h1.5m4.5 0h1.5m0.5 0h1.5m12.5 0h1.5m-0.5 0h1.5m8.5 0h1.5m14.5 0h1.5m-76.5 1h1.5m4.5 0h1.5m-0.5 0h1.5m-0.5 0h1.5m-0.5 0h1.5m0.5 0h1.5m-0.5 0h1.5m0.5 0h1.5m2.5 0h1.5m-0.5 0h1.5m0.5 0h1.5m1.5 0h1.5m-0.5 0h1.5m-0.5 0h1.5m2.5 0h1.5m-0.5 0h1.5m2.5 0h1.5m1.5 0h1.5m9.5 0h1.5m-0.5 0h1.5m-0.5 0h1.5m4.5 0h1.5m5.5 0h1.5m-0.5 0h1.5m-71.5 1h1.5m6.5 0h1.5m2.5 0h1.5m-0.5 0h1.5m1.5 0h1.5m1.5 0h1.5m1.5 0h1.5m-0.5 0h1.5m-0.5 0h1.5m7.5 0h1.5m5.5 0h1.5m7.5 0h1.5m2.5 0h1.5m0.5 0h1.5m-0.5 0h1.5m0.5 0h1.5m-0.5 0h1.5m-57.5 1h1.5m0.5 0h1.5m10.5 0h1.5m37.5 0h1.5m12.5 0h1.5m5.5 0h1.5m10.5 0h1.5m-79.5 1h1.5m-0.5 0h1.5m12.5 0h1.5m1.5 0h1.5m11.5 0h1.5m1.5 0h1.5m8.5 0h1.5m-0.5 0h1.5m0.5 0h1.5m6.5 0h1.5m8.5 0h1.5m8.5 0h1.5m-78.5 1h1.5m0.5 0h1.5m-0.5 0h1.5m3.5 0h1.5m-0.5 0h1.5m27.5 0h1.5m0.5 0h1.5m6.5 0h1.5m1.5 0h1.5m17.5 0h1.5m-88.5 1h1.5m11.5 0h1.5m5.5 0h1.5m2.5 0h1.5m3.5 0h1.5m1.5 0h1.5m13.5 0h1.5m16.5 0h1.5m1.5 0h1.5m5.5 0h1.5m-0.5 0h1.5m4.5 0h1.5m-60.5 1h1.5m1.5 0h1.5m-0.5 0h1.5m-0.5 0h1.5m-0.5 0h1.5m7.5 0h1.5m3.5 0h1.5m6.5 0h1.5m11.5 0h1.5m0.5 0h1.5m9.5 0h1.5m0.5 0h1.5m4.5 0h1.5m6.5 0h1.5m-72.5 1h1.5m2.5 0h1.5m0.5 0h1.5m-0.5 0h1.5m0.5 0h1.5m-0.5 0h1.5m0.5 0h1.5m7.5 0h1.5m14.5 0h1.5m26.5 0h1.5m-68.5 1h1.5m5.5 0h1.5m3.5 0h1.5m0.5 0h1.5m-0.5 0h1.5m0.5 0h1.5m0.5 0h1.5m8.5 0h1.5m-0.5 0h1.5m8.5 0h1.5m-0.5 0h1.5m3.5 0h1.5m4.5 0h1.5m-0.5 0h1.5m1.5 0h1.5m3.5 0h1.5m-61.5 1h1.5m0.5 0h1.5m0.5 0h1.5m26.5 0h1.5m30.5 0h1.5m-74.5 1h1.5m-0.5 0h1.5m8.5 0h1.5m0.5 0h1.5m-0.5 0h1.5m-0.5 0h1.5m0.5 0h1.5m0.5 0h1.5m4.5 0h1.5m-0.5 0h1.5m5.5 0h1.5m13.5 0h1.5m0.5 0h1.5m10.5 0h1.5m-0.5 0h1.5m7.5 0h1.5m-68.5 1h1.5m3.5 0h1.5m7.5 0h1.5m-0.5 0h1.5m13.5 0h1.5m32.5 0h1.5m1.5 0h1.5m6.5 0h1.5m-0.5 0h1.5m-0.5 0h1.5m2.5 0h1.5m-88.5 1h1.5m-0.5 0h1.5m3.5 0h1.5m2.5 0h1.5m-0.5 0h1.5m1.5 0h1.5m-0.5 0h1.5m2.5 0h1.5m5.5 0h1.5m17.5 0h1.5m3.5 0h1.5m8.5 0h1.5m0.5 0h1.5m3.5 0h1.5m-0.5 0h1.5m-63.5 1h1.5m2.5 0h1.5m-0.5 0h1.5m1.5 0h1.5m0.5 0h1.5m0.5 0h1.5m1.5 0h1.5m0.5 0h1.5m1.5 0h1.5m11.5 0h1.5m6.5 0h1.5m3.5 0h1.5m10.5 0h1.5m-58.5 1h1.5m3.5 0h1.5m1.5 0h1.5m0.5 0h1.5m0.5 0h1.5m23.5 0h1.5m23.5 0h1.5m0.5 0h1.5m12.5 0h1.5m-76.5 1h1.5m4.5 0h1.5m0.5 0h1.5m12.5 0h1.5m14.5 0h1.5m2.5 0h1.5m-49.5 1h1.5m7.5 0h1.5m5.5 0h1.5m1.5 0h1.5m11.5 0h1.5m3.5 0h1.5m30.5 0h1.5m-72.5 1h1.5m1.5 0h1.5m1.5 0h1.5m0.5 0h1.5m6.5 0h1.5m0.5 0h1.5m3.5 0h1.5m-0.5 0h1.5m1.5 0h1.5m10.5 0h1.5m9.5 0h1.5m10.5 0h1.5m3.5 0h1.5m-0.5 0h1.5m-69.5 1h1.5m11.5 0h1.5m-0.5 0h1.5m6.5 0h1.5m10.5 0h1.5m16.5 0h1.5m28.5 0h1.5m-84.5 1h1.5m9.5 0h1.5m7.5 0h1.5m-0.5 0h1.5m0.5 0h1.5m30.5 0h1.5m16.5 0h1.5m-62.5 1h1.5m47.5 0h1.5m-57.5 1h1.5m-0.5 0h1.5m7.5 0h1.5m7.5 0h1.5m3.5 0h1.5m42.5 0h1.5m-59.5 1h1.5m6.5 0h1.5m-0.5 0h1.5m5.5 0h1.5m13.5 0h1.5m4.5 0h1.5m28.5 0h1.5m-80.5 1h1.5m-0.5 0h1.5m8.5 0h1.5m0.5 0h1.5m2.5 0h1.5m5.5 0h1.5m8.5 0h1.5m19.5 0h1.5m1.5 0h1.5m-0.5 0h1.5m1.5 0h1.5m0.5 0h1.5m17.5 0h1.5m-74.5 1h1.5m10.5 0h1.5m2.5 0h1.5m-0.5 0h1.5m15.5 0h1.5m5.5 0h1.5m2.5 0h1.5m13.5 0h1.5m-65.5 1h1.5m5.5 0h1.5m3.5 0h1.5m30.5 0h1.5m10.5 0h1.5m-59.5 1h1.5m6.5 0h1.5m22.5 0h1.5m33.5 0h1.5m-84.5 1h1.5m12.5 0h1.5m2.5 0h1.5m0.5 0h1.5m-0.5 0h1.5m0.5 0h1.5m4.5 0h1.5m1.5 0h1.5m33.5 0h1.5m-52.5 1h1.5m0.5 0h1.5m-0.5 0h1.5m-0.5 0h1.5m-0.5 0h1.5m-0.5 0h1.5m-0.5 0h1.5m0.5 0h1.5m0.5 0h1.5m3.5 0h1.5m3.5 0h1.5m11.5 0h1.5m6.5 0h1.5m29.5 0h1.5m-73.5 1h1.5m7.5 0h1.5m49.5 0h1.5m-43.5 1h1.5m1.5 0h1.5m9.5 0h1.5m4.5 0h1.5m7.5 0h1.5m7.5 0h1.5m2.5 0h1.5m-46.5 1h1.5m16.5 0h1.5m-0.5 0h1.5m56.5 0h1.5m-93.5 1h1.5m6.5 0h1.5m-0.5 0h1.5m5.5 0h1.5m11.5 0h1.5m2.5 0h1.5m2.5 0h1.5m6.5 0h1.5m2.5 0h1.5m-42.5 1h1.5m8.5 0h1.5m-21.5 1h1.5m3.5 0h1.5m4.5 0h1.5m4.5 0h1.5m3.5 0h1.5m28.5 0h1.5m0.5 0h1.5m-47.5 1h1.5m-0.5 0h1.5m2.5 0h1.5m16.5 0h1.5m17.5 0h1.5m-77.5 1h1.5m33.5 0h1.5m5.5 0h1.5m-15.5 1h1.5m-0.5 0h1.5m2.5 0h1.5m0.5 0h1.5m3.5 0h1.5m-0.5 0h1.5m0.5 0h1.5m18.5 0h1.5m10.5 0h1.5m-33.5 1h1.5m-0.5 0h1.5m5.5 0h1.5m29.5 0h1.5m-42.5 1h1.5m7.5 0h1.5m3.5 0h1.5m-25.5 1h1.5m2.5 0h1.5m2.5 0h1.5m18.5 0h1.5m-0.5 0h1.5m6.5 0h1.5m4.5 0h1.5m4.5 0h1.5m-46.5 1h1.5m-0.5 0h1.5m22.5 0h1.5m15.5 0h1.5m1.5 0h1.5m-51.5 1h1.5m4.5 0h1.5m11.5 0h1.5m10.5 0h1.5m8.5 0h1.5m7.5 0h1.5m11.5 0h1.5m-51.5 1h1.5m10.5 0h1.5m-22.5 1h1.5m7.5 0h1.5m2.5 0h1.5m-0.5 0h1.5m-0.5 0h1.5m14.5 0h1.5m19.5 0h1.5m-50.5 1h1.5m-0.5 0h1.5m4.5 0h1.5m2.5 0h1.5m0.5 0h1.5m-19.5 1h1.5m72.5 0h1.5m-66.5 1h1.5m16.5 0h1.5m15.5 0h1.5m-36.5 1h1.5m2.5 0h1.5m-21.5 1h1.5m0.5 0h1.5m13.5 0h1.5m0.5 0h1.5m4.5 0h1.5m0.5 0h1.5m-34.5 1h1.5m6.5 0h1.5m12.5 0h1.5m4.5 0h1.5m2.5 0h1.5m11.5 0h1.5m18.5 0h1.5m-56.5 1h1.5m8.5 0h1.5m15.5 0h1.5m-32.5 1h1.5m1.5 0h1.5m2.5 0h1.5m4.5 0h1.5m0.5 0h1.5m10.5 0h1.5m12.5 0h1.5m-47.5 1h1.5m0.5 0h1.5m17.5 0h1.5m0.5 0h1.5m-27.5 1h1.5m26.5 0h1.5m2.5 0h1.5m14.5 0h1.5m-25.5 1h1.5m5.5 0h1.5m4.5 0h1.5m0.5 0h1.5m-20.5 1h1.5m13.5 0h1.5m0.5 0h1.5m0.5 0h1.5m7.5 0h1.5m-32.5 1h1.5m15.5 0h1.5m-14.5 1h1.5m1.5 0h1.5m8.5 0h1.5m0.5 0h1.5m2.5 0h1.5m-26.5 1h1.5m7.5 0h1.5m2.5 0h1.5m7.5 0h1.5m-25.5 1h1.5m-0.5 0h1.5m-12.5 1h1.5m22.5 0h1.5m3.5 0h1.5m6.5 0h1.5m1.5 0h1.5m-39.5 1h1.5m16.5 0h1.5m9.5 0h1.5m4.5 0h1.5m-0.5 0h1.5m2.5 0h1.5m-32.5 1h1.5m7.5 0h1.5m9.5 0h1.5m-12.5 1h1.5m4.5 0h1.5m-10.5 1h1.5m-9.5 1h1.5m3.5 0h1.5m1.5 0h1.5m10.5 0h1.5m-19.5 1h1.5m4.5 0h1.5m13.5 0h1.5m-4.5 1h1.5m-13.5 1h1.5m12.5 0h1.5m0.5 0h1.5m-11.5 1h1.5m5.5 0h1.5m-14.5 1h1.5m13.5 0h1.5m-11.5 1h1.5m6.5 0h1.5m9.5 0h1.5m-38.5 1h1.5m8.5 0h1.5m1.5 0h1.5m9.5 0h1.5m0.5 0h1.5m0.5 0h1.5m-0.5 0h1.5m-17.5 3h1.5m10.5 0h1.5m-12.5 1h1.5m8.5 0h1.5m3.5 0h1.5m6.5 2h1.5m-20.5 1h1.5m2.5 0h1.5m12.5 0h1.5m-29.5 2h1.5m20.5 1h1.5m1.5 0h1.5m2.5 1h1.5m-27.5 6h1.5" stroke="#1a1aff" stroke-width="1.5"/>
<path d="M671 2302h1.5m-5.5 9h1.5m1.5 0h1.5m-3.5 2h1.5m3.5 5h1.5m0.5 1h1.5m-2.5 8h1.5m-1.5 1h1.5m-0.5 4h1.5m1.5 1h1.5m-10.5 5h1.5" stroke="#ff2020" stroke-width="1.5"/>
<path d="M667 2298h1.5m9.5 2h1.5m-10.5 1h1.5m3.5 2h1.5m-2.5 1h1.5m-5.5 2h1.5m1.5 3h1.5m-0.5 0h1.5m8.5 1h1.5m-10.5 1h1.5m-5.5 3h1.5m-6.5 1h1.5m-4.5 1h1.5m2.5 0h1.5m1.5 0h1.5m-0.5 0h1.5m2.5 0h1.5m-14.5 1h1.5m12.5 0h1.5m0.5 0h1.5m-12.5 1h1.5m0.5 0h1.5m-7.5 3h1.5m5.5 0h1.5m-7.5 1h1.5m8.5 0h1.5m-0.5 2h1.5m-6.5 1h1.5m7.5 4h1.5m-6.5 1h1.5m1.5 2h1.5m7.5 0h1.5m-18.5 1h1.5m0.5 0h1.5m-6.5 2h1.5m3.5 5h1.5m3.5 2h1.5m-1.5 1h1.5m-7.5 3h1.5m3.5 5h1.5m-5.5 1h1.5m-8.5 2h1.5" stroke="#ffb020" stroke-width="1.5"/>
<rect x="604.7" y="2156.2" width="280.8" height="279.5" fill="none" stroke="#444" stroke-width="1.6"/>
<path d="M699.8 2156.2V2435.7M604.7 2284.7H885.5" stroke="#000" stroke-width="2.2"/>
<text x="613.5" y="2174.7" font-size="16.71" textLength="59.1" lengthAdjust="spacingAndGlyphs" style="font-weight:bold">Q1:5.23</text>
<text x="819.3" y="2174.7" font-size="16.71" textLength="59.1" lengthAdjust="spacingAndGlyphs" style="font-weight:bold">Q2:10.8</text>
<text x="613.5" y="2428.9" font-size="16.71" textLength="59.1" lengthAdjust="spacingAndGlyphs" style="font-weight:bold">Q4:56.3</text>
<text x="818.5" y="2428.9" font-size="16.71" textLength="59.1" lengthAdjust="spacingAndGlyphs" style="font-weight:bold">Q3:27.7</text>
<text x="649.0" y="2491.0" font-size="24.55" style="font-weight:bold">CD8(APC/Cy7)</text>
<text x="0" y="0" font-size="23.53" transform="translate(559.6,2371.0) rotate(-90)" textLength="125.1" lengthAdjust="spacingAndGlyphs" style="font-weight:bold">GITR(APC)</text>
<text x="601.2" y="2465.7" font-size="16.43" style="font-weight:bold">-10</text>
<text x="623.6" y="2456.4" font-size="11.43" style="font-weight:bold">3</text>
<text x="704.5" y="2465.7" font-size="16.43" style="font-weight:bold">10</text>
<text x="722.6" y="2456.4" font-size="11.43" style="font-weight:bold">3</text>
<text x="780.6" y="2465.7" font-size="16.43" style="font-weight:bold">10</text>
<text x="798.8" y="2456.4" font-size="11.59" style="font-weight:bold">4</text>
<text x="845.8" y="2465.7" font-size="16.43" style="font-weight:bold">10</text>
<text x="863.8" y="2456.4" font-size="11.59" style="font-weight:bold">5</text>
<text x="661.7" y="2465.7" font-size="16.43" style="font-weight:bold">0</text>
<text x="570.9" y="2189.1" font-size="16.43" style="font-weight:bold">10</text>
<text x="588.4" y="2180.1" font-size="12.61" style="font-weight:bold">5</text>
<text x="570.5" y="2253.9" font-size="16.43" style="font-weight:bold">10</text>
<text x="588.2" y="2244.9" font-size="12.61" style="font-weight:bold">4</text>
<text x="571.0" y="2329.6" font-size="16.43" style="font-weight:bold">10</text>
<text x="588.5" y="2320.6" font-size="12.43" style="font-weight:bold">3</text>
<text x="565.5" y="2428.3" font-size="16.43" style="font-weight:bold">-10</text>
<text x="588.5" y="2419.3" font-size="12.43" style="font-weight:bold">3</text>
<text x="579.1" y="2380.5" font-size="16.43" style="font-weight:bold">0</text>
<path d="M1036.6 246.0V542.5M1029.2 542.5H1425.4" stroke="#0c0a08" stroke-width="2.8" fill="none"/>
<path d="M1029.1 247.3H1036.6M1029.1 322.0H1036.6M1029.1 395.2H1036.6M1029.1 469.3H1036.6M1085.5 542.5V551.5M1182.7 542.5V551.5M1279.5 542.5V551.5M1377.0 542.5V551.5" stroke="#0c0a08" stroke-width="2.8" fill="none"/>
<text x="999.0" y="252.8" font-size="20.71" textLength="24.4" lengthAdjust="spacingAndGlyphs" style="font-weight:bold">25</text>
<text x="999.3" y="312.6" font-size="20.71" textLength="24.4" lengthAdjust="spacingAndGlyphs" style="font-weight:bold">20</text>
<text x="999.0" y="372.4" font-size="21.01" textLength="24.4" lengthAdjust="spacingAndGlyphs" style="font-weight:bold">15</text>
<text x="999.3" y="432.2" font-size="20.71" textLength="24.4" lengthAdjust="spacingAndGlyphs" style="font-weight:bold">10</text>
<text x="1011.2" y="492.1" font-size="21.01" textLength="12.2" lengthAdjust="spacingAndGlyphs" style="font-weight:bold">5</text>
<text x="1011.5" y="552.0" font-size="20.71" textLength="12.2" lengthAdjust="spacingAndGlyphs" style="font-weight:bold">0</text>
<ellipse cx="1085.5" cy="433.5" rx="6" ry="6.6" fill="#0c0a08"/>
<ellipse cx="1085.5" cy="452.4" rx="6" ry="6.6" fill="#0c0a08"/>
<ellipse cx="1077.5" cy="461.0" rx="6" ry="6.6" fill="#0c0a08"/>
<ellipse cx="1100.9" cy="475.4" rx="6" ry="6.6" fill="#0c0a08"/>
<ellipse cx="1093.2" cy="490.5" rx="6" ry="6.6" fill="#0c0a08"/>
<ellipse cx="1077.5" cy="495.6" rx="6" ry="6.6" fill="#0c0a08"/>
<path d="M1053.1 467.8L1117.9 467.8" stroke="#0c0a08" stroke-width="3.4"/>
<path d="M1085.5 444.2L1085.5 491.5" stroke="#0c0a08" stroke-width="4"/>
<path d="M1068.8 444.2L1101.9 444.2" stroke="#0c0a08" stroke-width="4.2"/>
<path d="M1068.8 491.5L1101.9 491.5" stroke="#0c0a08" stroke-width="4.2"/>
<rect x="1177.4" y="261.7" width="11.2" height="11.6" fill="#0c0a08"/>
<rect x="1177.4" y="348.3" width="11.2" height="11.6" fill="#0c0a08"/>
<rect x="1177.4" y="426.9" width="11.2" height="11.6" fill="#0c0a08"/>
<rect x="1161.4" y="444.7" width="11.2" height="11.6" fill="#0c0a08"/>
<rect x="1193.0" y="446.5" width="11.2" height="11.6" fill="#0c0a08"/>
<rect x="1177.4" y="457.2" width="11.2" height="11.6" fill="#0c0a08"/>
<path d="M1150.5 403.2L1215.2 403.2" stroke="#0c0a08" stroke-width="3.4"/>
<path d="M1182.7 325.9L1182.7 480.9" stroke="#0c0a08" stroke-width="4"/>
<path d="M1166.6 325.9L1198.8 325.9" stroke="#0c0a08" stroke-width="4.2"/>
<path d="M1166.6 480.9L1198.8 480.9" stroke="#0c0a08" stroke-width="4.2"/>
<path d="M1254.6 440.7L1260.6 453.7H1248.6Z" fill="#0c0a08"/>
<path d="M1304.4 440.7L1310.4 453.7H1298.4Z" fill="#0c0a08"/>
<path d="M1292.3 443.9L1298.3 456.9H1286.3Z" fill="#0c0a08"/>
<path d="M1267.3 453.4L1273.3 466.4H1261.3Z" fill="#0c0a08"/>
<path d="M1280.0 455.5L1286.0 468.5H1274.0Z" fill="#0c0a08"/>
<path d="M1280.0 489.3L1286.0 502.3H1274.0Z" fill="#0c0a08"/>
<path d="M1247.9 460.2L1312.4 460.2" stroke="#0c0a08" stroke-width="3.4"/>
<path d="M1280.0 441.7L1280.0 478.7" stroke="#0c0a08" stroke-width="4"/>
<path d="M1263.8 441.7L1296.0 441.7" stroke="#0c0a08" stroke-width="4.2"/>
<path d="M1263.8 478.7L1296.0 478.7" stroke="#0c0a08" stroke-width="4.2"/>
<path d="M1376.8 424.2L1382.8 411.2H1370.8Z" fill="#0c0a08"/>
<path d="M1384.7 452.8L1390.7 439.8H1378.7Z" fill="#0c0a08"/>
<path d="M1361.5 456.4L1367.5 443.4H1355.5Z" fill="#0c0a08"/>
<path d="M1368.9 472.3L1374.9 459.3H1362.9Z" fill="#0c0a08"/>
<path d="M1384.7 480.7L1390.7 467.7H1378.7Z" fill="#0c0a08"/>
<path d="M1376.8 504.5L1382.8 491.5H1370.8Z" fill="#0c0a08"/>
<path d="M1345.1 460.0L1409.0 460.0" stroke="#0c0a08" stroke-width="3.4"/>
<path d="M1377.0 432.2L1377.0 487.1" stroke="#0c0a08" stroke-width="4"/>
<path d="M1361.0 432.2L1392.6 432.2" stroke="#0c0a08" stroke-width="4.2"/>
<path d="M1361.0 487.1L1392.6 487.1" stroke="#0c0a08" stroke-width="4.2"/>
<text x="1161.0" y="95.5" font-size="33.86" textLength="83.5" lengthAdjust="spacingAndGlyphs" style="font-weight:bold">CD45</text>
<text x="1246.6" y="79.3" font-size="27.84" textLength="16.7" lengthAdjust="spacingAndGlyphs" style="font-weight:bold">+</text>
<text x="1280.7" y="95.5" font-size="33.86" textLength="65.5" lengthAdjust="spacingAndGlyphs" style="font-weight:bold">CD3</text>
<text x="1351.1" y="80.9" font-size="31.67" textLength="10.2" lengthAdjust="spacingAndGlyphs" style="font-weight:bold">-</text>
<text x="1214.4" y="151.4" font-size="27.71" fill="#000" style="font-style:italic;font-weight:normal">P</text><text x="1232.9" y="151.4" font-size="27.71" fill="#000" style="font-weight:bold" textLength="103.7" lengthAdjust="spacingAndGlyphs">=0.1427</text>
<text x="1125.3" y="192.6" font-size="28.43" fill="#000" style="font-style:italic;font-weight:normal">P</text><text x="1144.3" y="192.6" font-size="28.43" fill="#000" style="font-weight:bold" textLength="101.7" lengthAdjust="spacingAndGlyphs">=0.5551</text>
<text x="1077.2" y="235.2" font-size="28.43" fill="#000" style="font-style:italic;font-weight:normal">P</text><text x="1096.2" y="235.2" font-size="28.43" fill="#000" style="font-weight:bold">=0.0998</text>
<text x="1270.5" y="235.2" font-size="28.43" fill="#000" style="font-style:italic;font-weight:normal">P</text><text x="1289.5" y="235.2" font-size="28.43" fill="#000" style="font-weight:bold">=0.9437</text>
<path d="M1175.5 162.2L1376.5 162.2" stroke="#0c0a08" stroke-width="3.8"/>
<path d="M1085.5 203.3L1286.5 203.3" stroke="#0c0a08" stroke-width="3.8"/>
<path d="M1085.5 247.2L1186.2 247.2" stroke="#0c0a08" stroke-width="3.8"/>
<path d="M1276.2 247.2L1375.0 247.2" stroke="#0c0a08" stroke-width="3.8"/>
<text x="977.5" y="584.5" font-size="20.71" textLength="51.2" lengthAdjust="spacingAndGlyphs" style="font-weight:bold">CDE</text>
<text x="1081.0" y="581.6" font-size="30.00" textLength="8.4" lengthAdjust="spacingAndGlyphs" style="font-weight:bold">-</text>
<text x="1173.1" y="579.0" font-size="22.75" textLength="14.3" lengthAdjust="spacingAndGlyphs" style="font-weight:bold">+</text>
<text x="1275.5" y="581.6" font-size="30.00" textLength="8.4" lengthAdjust="spacingAndGlyphs" style="font-weight:bold">-</text>
<text x="1370.6" y="579.0" font-size="22.75" textLength="14.3" lengthAdjust="spacingAndGlyphs" style="font-weight:bold">+</text>
<text x="1068.5" y="630.5" font-size="26.21" textLength="101.0" lengthAdjust="spacingAndGlyphs" style="font-weight:bold">Tnfsf18</text>
<text x="1171.2" y="615.8" font-size="18.26" textLength="29.7" lengthAdjust="spacingAndGlyphs" style="font-weight:bold">+/+</text>
<text x="1281.3" y="630.5" font-size="26.21" textLength="99.5" lengthAdjust="spacingAndGlyphs" style="font-weight:bold">Tnfsf18</text>
<text x="1386.0" y="614.2" font-size="17.99" textLength="18.8" lengthAdjust="spacingAndGlyphs" style="font-weight:bold">f/f</text>
<text x="1186.8" y="683.3" font-size="25.14" textLength="67.9" lengthAdjust="spacingAndGlyphs" style="font-weight:bold">Sox9</text>
<text x="1254.4" y="667.2" font-size="18.86" textLength="70.1" lengthAdjust="spacingAndGlyphs" style="font-weight:bold">Cre-ER</text>
<path d="M1057.1 589.2L1219.4 589.2" stroke="#0c0a08" stroke-width="3.8"/>
<path d="M1249.3 589.2L1412.1 589.2" stroke="#0c0a08" stroke-width="3.8"/>
<path d="M1058.0 642.3L1419.5 642.3" stroke="#0c0a08" stroke-width="3.8"/>
<text x="0" y="0" font-size="30.14" transform="translate(982.3,541.0) rotate(-90)" textLength="67.7" lengthAdjust="spacingAndGlyphs" style="font-weight:bold">GITR</text>
<text x="0" y="0" font-size="24.31" transform="translate(970.5,471.7) rotate(-90)" style="font-weight:bold">+</text>
<text x="0" y="0" font-size="29.10" transform="translate(982.3,457.2) rotate(-90)" textLength="220.4" lengthAdjust="spacingAndGlyphs" style="font-weight:bold">positive rate (%)</text>
<path d="M1544.5 246.3V542.5M1538.0 542.5H1934.2" stroke="#0c0a08" stroke-width="2.8" fill="none"/>
<path d="M1537.0 247.6H1544.5M1537.0 321.5H1544.5M1537.0 394.9H1544.5M1537.0 469.1H1544.5M1593.8 542.5V551.5M1691.2 542.5V551.5M1788.3 542.5V551.5M1885.7 542.5V551.5" stroke="#0c0a08" stroke-width="2.8" fill="none"/>
<text x="1496.8" y="254.2" font-size="20.71" textLength="36.6" lengthAdjust="spacingAndGlyphs" style="font-weight:bold">100</text>
<text x="1509.0" y="314.2" font-size="20.71" textLength="24.4" lengthAdjust="spacingAndGlyphs" style="font-weight:bold">80</text>
<text x="1509.0" y="373.2" font-size="20.71" textLength="24.4" lengthAdjust="spacingAndGlyphs" style="font-weight:bold">60</text>
<text x="1509.0" y="432.6" font-size="20.71" textLength="24.4" lengthAdjust="spacingAndGlyphs" style="font-weight:bold">40</text>
<text x="1509.0" y="491.9" font-size="20.71" textLength="24.4" lengthAdjust="spacingAndGlyphs" style="font-weight:bold">20</text>
<text x="1521.2" y="551.5" font-size="20.71" textLength="12.2" lengthAdjust="spacingAndGlyphs" style="font-weight:bold">0</text>
<ellipse cx="1593.8" cy="473.5" rx="6" ry="6.6" fill="#0c0a08"/>
<ellipse cx="1585.9" cy="481.8" rx="6" ry="6.6" fill="#0c0a08"/>
<ellipse cx="1602.0" cy="490.6" rx="6" ry="6.6" fill="#0c0a08"/>
<ellipse cx="1578.2" cy="499.4" rx="6" ry="6.6" fill="#0c0a08"/>
<ellipse cx="1610.0" cy="505.8" rx="6" ry="6.6" fill="#0c0a08"/>
<ellipse cx="1593.8" cy="517.6" rx="6" ry="6.6" fill="#0c0a08"/>
<path d="M1562.4 495.0L1626.0 495.0" stroke="#0c0a08" stroke-width="3.4"/>
<path d="M1593.8 479.4L1593.8 510.8" stroke="#0c0a08" stroke-width="4"/>
<path d="M1578.2 479.4L1610.0 479.4" stroke="#0c0a08" stroke-width="4.2"/>
<path d="M1578.2 510.8L1610.0 510.8" stroke="#0c0a08" stroke-width="4.2"/>
<rect x="1685.6" y="257.4" width="11.2" height="11.6" fill="#0c0a08"/>
<rect x="1685.6" y="284.4" width="11.2" height="11.6" fill="#0c0a08"/>
<rect x="1685.6" y="376.8" width="11.2" height="11.6" fill="#0c0a08"/>
<rect x="1677.7" y="394.4" width="11.2" height="11.6" fill="#0c0a08"/>
<rect x="1693.8" y="406.7" width="11.2" height="11.6" fill="#0c0a08"/>
<rect x="1685.6" y="430.5" width="11.2" height="11.6" fill="#0c0a08"/>
<path d="M1659.0 363.5L1723.5 363.5" stroke="#0c0a08" stroke-width="3.4"/>
<path d="M1691.2 293.7L1691.2 434.0" stroke="#0c0a08" stroke-width="4"/>
<path d="M1676.0 293.7L1707.3 293.7" stroke="#0c0a08" stroke-width="4.2"/>
<path d="M1676.0 434.0L1707.3 434.0" stroke="#0c0a08" stroke-width="4.2"/>
<path d="M1788.3 443.9L1794.3 456.9H1782.3Z" fill="#0c0a08"/>
<path d="M1780.7 463.8L1786.7 476.8H1774.7Z" fill="#0c0a08"/>
<path d="M1796.8 472.0L1802.8 485.0H1790.8Z" fill="#0c0a08"/>
<path d="M1772.8 500.5L1778.8 513.5H1766.8Z" fill="#0c0a08"/>
<path d="M1788.3 512.2L1794.3 525.2H1782.3Z" fill="#0c0a08"/>
<path d="M1804.2 509.3L1810.2 522.3H1798.2Z" fill="#0c0a08"/>
<path d="M1756.0 489.7L1820.6 489.7" stroke="#0c0a08" stroke-width="3.4"/>
<path d="M1788.3 461.8L1788.3 517.6" stroke="#0c0a08" stroke-width="4"/>
<path d="M1772.8 461.8L1804.2 461.8" stroke="#0c0a08" stroke-width="4.2"/>
<path d="M1772.8 517.6L1804.2 517.6" stroke="#0c0a08" stroke-width="4.2"/>
<path d="M1885.7 367.4L1891.7 354.4H1879.7Z" fill="#0c0a08"/>
<path d="M1885.7 395.3L1891.7 382.3H1879.7Z" fill="#0c0a08"/>
<path d="M1885.7 468.6L1891.7 455.6H1879.7Z" fill="#0c0a08"/>
<path d="M1869.6 495.0L1875.6 482.0H1863.6Z" fill="#0c0a08"/>
<path d="M1885.7 503.8L1891.7 490.8H1879.7Z" fill="#0c0a08"/>
<path d="M1901.0 505.3L1907.0 492.3H1895.0Z" fill="#0c0a08"/>
<path d="M1853.5 451.0L1917.4 451.0" stroke="#0c0a08" stroke-width="3.4"/>
<path d="M1885.7 390.8L1885.7 511.1" stroke="#0c0a08" stroke-width="4"/>
<path d="M1869.6 390.8L1901.0 390.8" stroke="#0c0a08" stroke-width="4.2"/>
<path d="M1869.6 511.1L1901.0 511.1" stroke="#0c0a08" stroke-width="4.2"/>
<text x="1611.7" y="97.5" font-size="32.86" style="font-weight:bold">CD45</text>
<text x="1702.2" y="83.1" font-size="27.45" textLength="17.3" lengthAdjust="spacingAndGlyphs" style="font-weight:bold">+</text>
<text x="1731.4" y="97.5" font-size="32.86" style="font-weight:bold">CD3</text>
<text x="1806.3" y="83.1" font-size="27.45" textLength="17.3" lengthAdjust="spacingAndGlyphs" style="font-weight:bold">+</text>
<text x="1710.1" y="151.8" font-size="27.86" fill="#8b2525" style="font-style:italic;font-weight:normal">P</text><text x="1728.6" y="151.8" font-size="27.86" fill="#8b2525" style="font-weight:bold" textLength="104.6" lengthAdjust="spacingAndGlyphs">=0.0432</text>
<text x="1628.2" y="192.2" font-size="27.86" fill="#000" style="font-style:italic;font-weight:normal">P</text><text x="1646.7" y="192.2" font-size="27.86" fill="#000" style="font-weight:bold" textLength="103.4" lengthAdjust="spacingAndGlyphs">=0.6950</text>
<text x="1576.0" y="234.8" font-size="27.57" fill="#8b2525" style="font-style:italic;font-weight:normal">P</text><text x="1594.4" y="234.8" font-size="27.57" fill="#8b2525" style="font-weight:bold" textLength="104.3" lengthAdjust="spacingAndGlyphs">=0.0052</text>
<text x="1764.8" y="234.8" font-size="27.57" fill="#000" style="font-style:italic;font-weight:normal">P</text><text x="1783.2" y="234.8" font-size="27.57" fill="#000" style="font-weight:bold" textLength="104.6" lengthAdjust="spacingAndGlyphs">=0.1816</text>
<path d="M1675.6 162.2L1877.0 162.2" stroke="#0c0a08" stroke-width="3.8"/>
<path d="M1585.8 203.0L1786.6 203.0" stroke="#0c0a08" stroke-width="3.8"/>
<path d="M1585.8 246.6L1686.0 246.6" stroke="#0c0a08" stroke-width="3.8"/>
<path d="M1776.7 246.6L1875.5 246.6" stroke="#0c0a08" stroke-width="3.8"/>
<text x="1483.6" y="589.5" font-size="23.14" textLength="52.3" lengthAdjust="spacingAndGlyphs" style="font-weight:bold">CDE</text>
<text x="1589.6" y="585.0" font-size="30.00" textLength="8.4" lengthAdjust="spacingAndGlyphs" style="font-weight:bold">-</text>
<text x="1679.8" y="583.3" font-size="22.75" textLength="14.3" lengthAdjust="spacingAndGlyphs" style="font-weight:bold">+</text>
<text x="1783.2" y="585.0" font-size="30.00" textLength="8.4" lengthAdjust="spacingAndGlyphs" style="font-weight:bold">-</text>
<text x="1879.1" y="583.3" font-size="22.75" textLength="14.3" lengthAdjust="spacingAndGlyphs" style="font-weight:bold">+</text>
<text x="1575.3" y="635.0" font-size="26.34" textLength="100.1" lengthAdjust="spacingAndGlyphs" style="font-weight:bold">Tnfsf18</text>
<text x="1678.1" y="620.2" font-size="18.26" textLength="29.4" lengthAdjust="spacingAndGlyphs" style="font-weight:bold">+/+</text>
<text x="1786.6" y="635.0" font-size="26.34" textLength="100.0" lengthAdjust="spacingAndGlyphs" style="font-weight:bold">Tnfsf18</text>
<text x="1892.7" y="618.6" font-size="17.99" textLength="19.4" lengthAdjust="spacingAndGlyphs" style="font-weight:bold">f/f</text>
<text x="1693.5" y="687.7" font-size="25.29" textLength="67.9" lengthAdjust="spacingAndGlyphs" style="font-weight:bold">Sox9</text>
<text x="1761.7" y="667.2" font-size="16.71" textLength="69.3" lengthAdjust="spacingAndGlyphs" style="font-weight:bold">Cre-ER</text>
<path d="M1563.8 593.3L1726.4 593.3" stroke="#0c0a08" stroke-width="3.8"/>
<path d="M1756.0 593.3L1918.9 593.3" stroke="#0c0a08" stroke-width="3.8"/>
<path d="M1564.4 646.7L1926.0 646.7" stroke="#0c0a08" stroke-width="3.8"/>
<text x="0" y="0" font-size="29.86" transform="translate(1484.8,541.0) rotate(-90)" textLength="68.1" lengthAdjust="spacingAndGlyphs" style="font-weight:bold">GITR</text>
<text x="0" y="0" font-size="24.12" transform="translate(1472.7,475.7) rotate(-90)" style="font-weight:bold">+</text>
<text x="0" y="0" font-size="28.83" transform="translate(1484.8,457.6) rotate(-90)" style="font-weight:bold">positive rate (%)</text>
<path d="M1034.8 1088.4V1387.5M1028.0 1387.5H1431.5" stroke="#0c0a08" stroke-width="2.8" fill="none"/>
<path d="M1027.3 1089.7H1034.8M1027.3 1149.2H1034.8M1027.3 1208.8H1034.8M1027.3 1268.6H1034.8M1027.3 1328.2H1034.8M1084.7 1387.5V1396.5M1183.0 1387.5V1396.5M1282.4 1387.5V1396.5M1381.0 1387.5V1396.5" stroke="#0c0a08" stroke-width="2.8" fill="none"/>
<text x="985.9" y="1098.2" font-size="20.86" textLength="36.9" lengthAdjust="spacingAndGlyphs" style="font-weight:bold">100</text>
<text x="998.1" y="1157.7" font-size="20.86" textLength="24.6" lengthAdjust="spacingAndGlyphs" style="font-weight:bold">80</text>
<text x="998.1" y="1217.3" font-size="20.86" textLength="24.6" lengthAdjust="spacingAndGlyphs" style="font-weight:bold">60</text>
<text x="998.1" y="1277.1" font-size="20.86" textLength="24.6" lengthAdjust="spacingAndGlyphs" style="font-weight:bold">40</text>
<text x="998.1" y="1336.7" font-size="20.86" textLength="24.6" lengthAdjust="spacingAndGlyphs" style="font-weight:bold">20</text>
<text x="1010.4" y="1396.0" font-size="20.86" textLength="12.3" lengthAdjust="spacingAndGlyphs" style="font-weight:bold">0</text>
<ellipse cx="1057.4" cy="1241.0" rx="6" ry="6.6" fill="#0c0a08"/>
<ellipse cx="1113.1" cy="1232.0" rx="6" ry="6.6" fill="#0c0a08"/>
<ellipse cx="1068.2" cy="1246.0" rx="6" ry="6.6" fill="#0c0a08"/>
<ellipse cx="1080.0" cy="1248.1" rx="6" ry="6.6" fill="#0c0a08"/>
<ellipse cx="1090.2" cy="1248.1" rx="6" ry="6.6" fill="#0c0a08"/>
<ellipse cx="1100.8" cy="1243.1" rx="6" ry="6.6" fill="#0c0a08"/>
<path d="M1052.4 1242.5L1118.4 1242.5" stroke="#0c0a08" stroke-width="3.4"/>
<path d="M1084.7 1236.7L1084.7 1245.5" stroke="#0c0a08" stroke-width="4"/>
<path d="M1069.0 1236.7L1100.0 1236.7" stroke="#0c0a08" stroke-width="4.2"/>
<path d="M1069.0 1245.5L1100.0 1245.5" stroke="#0c0a08" stroke-width="4.2"/>
<rect x="1178.5" y="1208.0" width="11.2" height="11.6" fill="#0c0a08"/>
<rect x="1152.4" y="1314.2" width="11.2" height="11.6" fill="#0c0a08"/>
<rect x="1203.8" y="1318.0" width="11.2" height="11.6" fill="#0c0a08"/>
<rect x="1165.6" y="1329.8" width="11.2" height="11.6" fill="#0c0a08"/>
<rect x="1178.5" y="1330.6" width="11.2" height="11.6" fill="#0c0a08"/>
<rect x="1191.2" y="1329.8" width="11.2" height="11.6" fill="#0c0a08"/>
<path d="M1151.3 1310.6L1216.4 1310.6" stroke="#0c0a08" stroke-width="3.4"/>
<path d="M1183.0 1263.1L1183.0 1359.0" stroke="#0c0a08" stroke-width="4"/>
<path d="M1167.4 1263.1L1199.7 1263.1" stroke="#0c0a08" stroke-width="4.2"/>
<path d="M1167.4 1359.0L1199.7 1359.0" stroke="#0c0a08" stroke-width="4.2"/>
<path d="M1256.9 1239.2L1262.9 1252.2H1250.9Z" fill="#0c0a08"/>
<path d="M1282.7 1234.9L1288.7 1247.9H1276.7Z" fill="#0c0a08"/>
<path d="M1308.3 1239.2L1314.3 1252.2H1302.3Z" fill="#0c0a08"/>
<path d="M1270.1 1251.0L1276.1 1264.0H1264.1Z" fill="#0c0a08"/>
<path d="M1282.7 1255.4L1288.7 1268.4H1276.7Z" fill="#0c0a08"/>
<path d="M1295.0 1251.0L1301.0 1264.0H1289.0Z" fill="#0c0a08"/>
<path d="M1249.6 1249.9L1315.0 1249.9" stroke="#0c0a08" stroke-width="3.4"/>
<path d="M1282.4 1241.7L1282.4 1257.8" stroke="#0c0a08" stroke-width="4"/>
<path d="M1266.6 1241.7L1298.0 1241.7" stroke="#0c0a08" stroke-width="4.2"/>
<path d="M1266.6 1257.8L1298.0 1257.8" stroke="#0c0a08" stroke-width="4.2"/>
<path d="M1372.8 1241.1L1378.8 1228.1H1366.8Z" fill="#0c0a08"/>
<path d="M1389.0 1241.1L1395.0 1228.1H1383.0Z" fill="#0c0a08"/>
<path d="M1397.2 1251.4L1403.2 1238.4H1391.2Z" fill="#0c0a08"/>
<path d="M1364.9 1258.7L1370.9 1245.7H1358.9Z" fill="#0c0a08"/>
<path d="M1381.0 1263.1L1387.0 1250.1H1375.0Z" fill="#0c0a08"/>
<path d="M1381.0 1326.2L1387.0 1313.2H1375.0Z" fill="#0c0a08"/>
<path d="M1347.9 1258.7L1414.5 1258.7" stroke="#0c0a08" stroke-width="3.4"/>
<path d="M1381.0 1227.0L1381.0 1289.5" stroke="#0c0a08" stroke-width="4"/>
<path d="M1364.9 1227.0L1396.3 1227.0" stroke="#0c0a08" stroke-width="4.2"/>
<path d="M1364.9 1289.5L1396.3 1289.5" stroke="#0c0a08" stroke-width="4.2"/>
<text x="1083.9" y="927.9" font-size="34.43" textLength="64.4" lengthAdjust="spacingAndGlyphs" style="font-weight:bold">CD4</text>
<text x="1151.9" y="909.4" font-size="28.63" textLength="16.3" lengthAdjust="spacingAndGlyphs" style="font-weight:bold">+</text>
<text x="1166.6" y="927.9" font-size="34.34" textLength="93.2" lengthAdjust="spacingAndGlyphs" style="font-weight:bold">/CD45</text>
<text x="1263.7" y="909.4" font-size="28.63" style="font-weight:bold">+</text>
<text x="1277.9" y="927.9" font-size="34.43" textLength="65.0" lengthAdjust="spacingAndGlyphs" style="font-weight:bold">CD3</text>
<text x="1344.1" y="909.4" font-size="28.63" textLength="16.3" lengthAdjust="spacingAndGlyphs" style="font-weight:bold">+</text>
<text x="1212.7" y="980.0" font-size="26.00" fill="#000" style="font-style:italic;font-weight:normal">P</text><text x="1230.1" y="980.0" font-size="26.00" fill="#000" style="font-weight:bold" textLength="104.3" lengthAdjust="spacingAndGlyphs">=0.0513</text>
<text x="1129.9" y="1021.0" font-size="27.14" fill="#000" style="font-style:italic;font-weight:normal">P</text><text x="1148.0" y="1021.0" font-size="27.14" fill="#000" style="font-weight:bold" textLength="103.4" lengthAdjust="spacingAndGlyphs">=0.0808</text>
<text x="1077.1" y="1063.7" font-size="27.29" fill="#8b2525" style="font-style:italic;font-weight:normal">P</text><text x="1095.3" y="1063.7" font-size="27.29" fill="#8b2525" style="font-weight:bold" textLength="104.2" lengthAdjust="spacingAndGlyphs">=0.0177</text>
<text x="1266.4" y="1063.7" font-size="27.29" fill="#000" style="font-style:italic;font-weight:normal">P</text><text x="1284.6" y="1063.7" font-size="27.29" fill="#000" style="font-weight:bold" textLength="104.0" lengthAdjust="spacingAndGlyphs">=0.5826</text>
<path d="M1177.0 990.3L1378.0 990.3" stroke="#0c0a08" stroke-width="3.8"/>
<path d="M1087.3 1031.4L1288.3 1031.4" stroke="#0c0a08" stroke-width="3.8"/>
<path d="M1087.3 1076.0L1187.4 1076.0" stroke="#0c0a08" stroke-width="3.8"/>
<path d="M1278.0 1076.0L1376.6 1076.0" stroke="#0c0a08" stroke-width="3.8"/>
<text x="977.1" y="1425.6" font-size="21.71" textLength="51.8" lengthAdjust="spacingAndGlyphs" style="font-weight:bold">CDE</text>
<text x="1080.5" y="1421.7" font-size="30.00" textLength="8.4" lengthAdjust="spacingAndGlyphs" style="font-weight:bold">-</text>
<text x="1172.8" y="1419.9" font-size="22.75" textLength="14.3" lengthAdjust="spacingAndGlyphs" style="font-weight:bold">+</text>
<text x="1276.2" y="1421.7" font-size="30.00" textLength="8.4" lengthAdjust="spacingAndGlyphs" style="font-weight:bold">-</text>
<text x="1372.4" y="1419.9" font-size="22.75" textLength="14.3" lengthAdjust="spacingAndGlyphs" style="font-weight:bold">+</text>
<text x="1068.8" y="1472.0" font-size="26.34" textLength="99.5" lengthAdjust="spacingAndGlyphs" style="font-weight:bold">Tnfsf18</text>
<text x="1171.0" y="1457.4" font-size="18.39" textLength="30.2" lengthAdjust="spacingAndGlyphs" style="font-weight:bold">+/+</text>
<text x="1282.4" y="1472.0" font-size="26.34" textLength="98.5" lengthAdjust="spacingAndGlyphs" style="font-weight:bold">Tnfsf18</text>
<text x="1386.3" y="1455.8" font-size="18.12" textLength="18.8" lengthAdjust="spacingAndGlyphs" style="font-weight:bold">f/f</text>
<text x="1187.1" y="1526.3" font-size="27.29" textLength="67.9" lengthAdjust="spacingAndGlyphs" style="font-weight:bold">Sox9</text>
<text x="1254.6" y="1507.8" font-size="17.57" textLength="70.2" lengthAdjust="spacingAndGlyphs" style="font-weight:bold">Cre-ER</text>
<path d="M1057.4 1430.3L1219.6 1430.3" stroke="#0c0a08" stroke-width="3.8"/>
<path d="M1249.6 1430.3L1412.4 1430.3" stroke="#0c0a08" stroke-width="3.8"/>
<path d="M1058.3 1483.1L1419.8 1483.1" stroke="#0c0a08" stroke-width="3.8"/>
<text x="0" y="0" font-size="29.86" transform="translate(973.7,1370.0) rotate(-90)" textLength="56.2" lengthAdjust="spacingAndGlyphs" style="font-weight:bold">CD4</text>
<text x="0" y="0" font-size="24.51" transform="translate(962.3,1312.8) rotate(-90)" style="font-weight:bold">+</text>
<text x="0" y="0" font-size="28.83" transform="translate(973.7,1297.2) rotate(-90)" style="font-weight:bold">positive rate (%)</text>
<path d="M1033.9 1949.2V2248.4M1027.4 2248.4H1430.0" stroke="#0c0a08" stroke-width="2.8" fill="none"/>
<path d="M1026.4 1950.5H1033.9M1026.4 2010.1H1033.9M1026.4 2070.3H1033.9M1026.4 2130.1H1033.9M1026.4 2189.1H1033.9M1083.8 2248.4V2257.4M1182.1 2248.4V2257.4M1281.3 2248.4V2257.4M1379.6 2248.4V2257.4" stroke="#0c0a08" stroke-width="2.8" fill="none"/>
<text x="985.4" y="1959.0" font-size="20.86" textLength="36.9" lengthAdjust="spacingAndGlyphs" style="font-weight:bold">100</text>
<text x="997.6" y="2018.6" font-size="20.86" textLength="24.6" lengthAdjust="spacingAndGlyphs" style="font-weight:bold">80</text>
<text x="997.6" y="2078.8" font-size="20.86" textLength="24.6" lengthAdjust="spacingAndGlyphs" style="font-weight:bold">60</text>
<text x="997.6" y="2138.6" font-size="20.86" textLength="24.6" lengthAdjust="spacingAndGlyphs" style="font-weight:bold">40</text>
<text x="997.6" y="2197.6" font-size="20.86" textLength="24.6" lengthAdjust="spacingAndGlyphs" style="font-weight:bold">20</text>
<text x="1009.9" y="2256.9" font-size="20.86" textLength="12.3" lengthAdjust="spacingAndGlyphs" style="font-weight:bold">0</text>
<ellipse cx="1068.2" cy="2125.1" rx="6" ry="6.6" fill="#0c0a08"/>
<ellipse cx="1099.9" cy="2125.1" rx="6" ry="6.6" fill="#0c0a08"/>
<ellipse cx="1083.8" cy="2132.5" rx="6" ry="6.6" fill="#0c0a08"/>
<ellipse cx="1067.6" cy="2146.5" rx="6" ry="6.6" fill="#0c0a08"/>
<ellipse cx="1083.8" cy="2160.3" rx="6" ry="6.6" fill="#0c0a08"/>
<ellipse cx="1099.9" cy="2158.9" rx="6" ry="6.6" fill="#0c0a08"/>
<path d="M1051.5 2141.3L1116.6 2141.3" stroke="#0c0a08" stroke-width="3.4"/>
<path d="M1083.8 2124.2L1083.8 2155.9" stroke="#0c0a08" stroke-width="4"/>
<path d="M1067.6 2124.2L1099.9 2124.2" stroke="#0c0a08" stroke-width="4.2"/>
<path d="M1067.6 2155.9L1099.9 2155.9" stroke="#0c0a08" stroke-width="4.2"/>
<rect x="1177.4" y="2011.6" width="11.2" height="11.6" fill="#0c0a08"/>
<rect x="1177.4" y="2049.8" width="11.2" height="11.6" fill="#0c0a08"/>
<rect x="1169.1" y="2089.1" width="11.2" height="11.6" fill="#0c0a08"/>
<rect x="1185.3" y="2097.9" width="11.2" height="11.6" fill="#0c0a08"/>
<rect x="1169.1" y="2116.4" width="11.2" height="11.6" fill="#0c0a08"/>
<rect x="1185.3" y="2116.4" width="11.2" height="11.6" fill="#0c0a08"/>
<path d="M1151.3 2085.5L1215.8 2085.5" stroke="#0c0a08" stroke-width="3.4"/>
<path d="M1182.1 2043.8L1182.1 2128.9" stroke="#0c0a08" stroke-width="4"/>
<path d="M1166.8 2043.8L1199.7 2043.8" stroke="#0c0a08" stroke-width="4.2"/>
<path d="M1166.8 2128.9L1199.7 2128.9" stroke="#0c0a08" stroke-width="4.2"/>
<path d="M1265.7 2100.7L1271.7 2113.7H1259.7Z" fill="#0c0a08"/>
<path d="M1297.4 2109.5L1303.4 2122.5H1291.4Z" fill="#0c0a08"/>
<path d="M1274.5 2115.4L1280.5 2128.4H1268.5Z" fill="#0c0a08"/>
<path d="M1281.8 2113.9L1287.8 2126.9H1275.8Z" fill="#0c0a08"/>
<path d="M1289.8 2133.0L1295.8 2146.0H1283.8Z" fill="#0c0a08"/>
<path d="M1281.8 2156.5L1287.8 2169.5H1275.8Z" fill="#0c0a08"/>
<path d="M1249.6 2128.1L1314.1 2128.1" stroke="#0c0a08" stroke-width="3.4"/>
<path d="M1281.3 2108.1L1281.3 2147.7" stroke="#0c0a08" stroke-width="4"/>
<path d="M1265.7 2108.1L1297.4 2108.1" stroke="#0c0a08" stroke-width="4.2"/>
<path d="M1265.7 2147.7L1297.4 2147.7" stroke="#0c0a08" stroke-width="4.2"/>
<path d="M1356.1 2133.4L1362.1 2120.4H1350.1Z" fill="#0c0a08"/>
<path d="M1372.8 2139.3L1378.8 2126.3H1366.8Z" fill="#0c0a08"/>
<path d="M1396.3 2136.3L1402.3 2123.3H1390.3Z" fill="#0c0a08"/>
<path d="M1389.0 2145.1L1395.0 2132.1H1383.0Z" fill="#0c0a08"/>
<path d="M1380.1 2153.9L1386.1 2140.9H1374.1Z" fill="#0c0a08"/>
<path d="M1372.8 2168.6L1378.8 2155.6H1366.8Z" fill="#0c0a08"/>
<path d="M1347.3 2141.3L1413.0 2141.3" stroke="#0c0a08" stroke-width="3.4"/>
<path d="M1379.6 2128.6L1379.6 2154.5" stroke="#0c0a08" stroke-width="4"/>
<path d="M1364.0 2128.6L1396.3 2128.6" stroke="#0c0a08" stroke-width="4.2"/>
<path d="M1364.0 2154.5L1396.3 2154.5" stroke="#0c0a08" stroke-width="4.2"/>
<text x="1083.9" y="1786.1" font-size="34.43" textLength="65.2" lengthAdjust="spacingAndGlyphs" style="font-weight:bold">CD8</text>
<text x="1151.9" y="1767.6" font-size="28.63" textLength="16.3" lengthAdjust="spacingAndGlyphs" style="font-weight:bold">+</text>
<text x="1166.6" y="1786.1" font-size="34.34" textLength="93.2" lengthAdjust="spacingAndGlyphs" style="font-weight:bold">/CD45</text>
<text x="1263.7" y="1767.6" font-size="28.63" style="font-weight:bold">+</text>
<text x="1277.9" y="1786.1" font-size="34.43" textLength="65.0" lengthAdjust="spacingAndGlyphs" style="font-weight:bold">CD3</text>
<text x="1344.1" y="1767.6" font-size="28.63" textLength="16.3" lengthAdjust="spacingAndGlyphs" style="font-weight:bold">+</text>
<text x="1212.7" y="1838.0" font-size="26.43" fill="#8b2525" style="font-style:italic;font-weight:normal">P</text><text x="1230.3" y="1838.0" font-size="26.43" fill="#8b2525" style="font-weight:bold" textLength="101.2" lengthAdjust="spacingAndGlyphs">=0.0222</text>
<text x="1129.9" y="1879.5" font-size="27.00" fill="#000" style="font-style:italic;font-weight:normal">P</text><text x="1147.9" y="1879.5" font-size="27.00" fill="#000" style="font-weight:bold" textLength="103.8" lengthAdjust="spacingAndGlyphs">=0.2390</text>
<text x="1077.1" y="1921.3" font-size="26.86" fill="#8b2525" style="font-style:italic;font-weight:normal">P</text><text x="1095.0" y="1921.3" font-size="26.86" fill="#8b2525" style="font-weight:bold" textLength="104.5" lengthAdjust="spacingAndGlyphs">=0.0227</text>
<text x="1266.4" y="1921.3" font-size="26.86" fill="#000" style="font-style:italic;font-weight:normal">P</text><text x="1284.3" y="1921.3" font-size="26.86" fill="#000" style="font-weight:bold" textLength="104.0" lengthAdjust="spacingAndGlyphs">=0.2015</text>
<path d="M1177.0 1848.8L1378.0 1848.8" stroke="#0c0a08" stroke-width="3.8"/>
<path d="M1087.3 1889.9L1288.3 1889.9" stroke="#0c0a08" stroke-width="3.8"/>
<path d="M1087.3 1933.3L1187.4 1933.3" stroke="#0c0a08" stroke-width="3.8"/>
<path d="M1278.0 1933.3L1376.6 1933.3" stroke="#0c0a08" stroke-width="3.8"/>
<text x="977.1" y="2283.8" font-size="21.71" textLength="51.8" lengthAdjust="spacingAndGlyphs" style="font-weight:bold">CDE</text>
<text x="1080.5" y="2279.9" font-size="30.00" textLength="8.4" lengthAdjust="spacingAndGlyphs" style="font-weight:bold">-</text>
<text x="1172.8" y="2278.1" font-size="22.75" textLength="14.3" lengthAdjust="spacingAndGlyphs" style="font-weight:bold">+</text>
<text x="1276.2" y="2279.9" font-size="30.00" textLength="8.4" lengthAdjust="spacingAndGlyphs" style="font-weight:bold">-</text>
<text x="1372.4" y="2278.1" font-size="22.75" textLength="14.3" lengthAdjust="spacingAndGlyphs" style="font-weight:bold">+</text>
<text x="1068.8" y="2330.2" font-size="26.34" textLength="99.5" lengthAdjust="spacingAndGlyphs" style="font-weight:bold">Tnfsf18</text>
<text x="1171.0" y="2315.6" font-size="18.39" textLength="30.2" lengthAdjust="spacingAndGlyphs" style="font-weight:bold">+/+</text>
<text x="1282.4" y="2330.2" font-size="26.34" textLength="98.5" lengthAdjust="spacingAndGlyphs" style="font-weight:bold">Tnfsf18</text>
<text x="1386.3" y="2314.0" font-size="18.12" textLength="18.8" lengthAdjust="spacingAndGlyphs" style="font-weight:bold">f/f</text>
<text x="1199.7" y="2384.5" font-size="27.29" textLength="67.9" lengthAdjust="spacingAndGlyphs" style="font-weight:bold">Sox9</text>
<text x="1267.2" y="2366.0" font-size="17.57" textLength="70.2" lengthAdjust="spacingAndGlyphs" style="font-weight:bold">Cre-ER</text>
<path d="M1057.4 2288.5L1219.6 2288.5" stroke="#0c0a08" stroke-width="3.8"/>
<path d="M1249.6 2288.5L1412.4 2288.5" stroke="#0c0a08" stroke-width="3.8"/>
<path d="M1058.3 2341.3L1419.8 2341.3" stroke="#0c0a08" stroke-width="3.8"/>
<text x="0" y="0" font-size="29.86" transform="translate(973.7,2228.5) rotate(-90)" textLength="56.9" lengthAdjust="spacingAndGlyphs" style="font-weight:bold">CD8</text>
<text x="0" y="0" font-size="24.51" transform="translate(962.3,2171.3) rotate(-90)" style="font-weight:bold">+</text>
<text x="0" y="0" font-size="28.83" transform="translate(973.7,2155.7) rotate(-90)" style="font-weight:bold">positive rate (%)</text>
<path d="M1549.8 1087.8V1386.9M1543.3 1386.9H1945.9" stroke="#0c0a08" stroke-width="2.8" fill="none"/>
<path d="M1542.3 1089.1H1549.8M1542.3 1149.2H1549.8M1542.3 1208.8H1549.8M1542.3 1268.6H1549.8M1542.3 1328.2H1549.8M1599.6 1386.9V1395.9M1698.0 1386.9V1395.9M1797.1 1386.9V1395.9M1896.0 1386.9V1395.9" stroke="#0c0a08" stroke-width="2.8" fill="none"/>
<text x="1500.3" y="1097.6" font-size="20.86" textLength="36.9" lengthAdjust="spacingAndGlyphs" style="font-weight:bold">100</text>
<text x="1512.5" y="1157.7" font-size="20.86" textLength="24.6" lengthAdjust="spacingAndGlyphs" style="font-weight:bold">80</text>
<text x="1512.5" y="1217.3" font-size="20.86" textLength="24.6" lengthAdjust="spacingAndGlyphs" style="font-weight:bold">60</text>
<text x="1512.5" y="1277.1" font-size="20.86" textLength="24.6" lengthAdjust="spacingAndGlyphs" style="font-weight:bold">40</text>
<text x="1512.5" y="1336.7" font-size="20.86" textLength="24.6" lengthAdjust="spacingAndGlyphs" style="font-weight:bold">20</text>
<text x="1524.8" y="1395.4" font-size="20.86" textLength="12.3" lengthAdjust="spacingAndGlyphs" style="font-weight:bold">0</text>
<ellipse cx="1599.6" cy="1340.0" rx="6" ry="6.6" fill="#0c0a08"/>
<ellipse cx="1573.8" cy="1359.9" rx="6" ry="6.6" fill="#0c0a08"/>
<ellipse cx="1625.5" cy="1361.4" rx="6" ry="6.6" fill="#0c0a08"/>
<ellipse cx="1586.4" cy="1363.4" rx="6" ry="6.6" fill="#0c0a08"/>
<ellipse cx="1611.4" cy="1366.4" rx="6" ry="6.6" fill="#0c0a08"/>
<ellipse cx="1599.6" cy="1372.2" rx="6" ry="6.6" fill="#0c0a08"/>
<path d="M1566.8 1360.5L1631.9 1360.5" stroke="#0c0a08" stroke-width="3.4"/>
<path d="M1599.6 1349.6L1599.6 1370.8" stroke="#0c0a08" stroke-width="4"/>
<path d="M1583.5 1349.6L1615.8 1349.6" stroke="#0c0a08" stroke-width="4.2"/>
<path d="M1583.5 1370.8L1615.8 1370.8" stroke="#0c0a08" stroke-width="4.2"/>
<rect x="1693.2" y="1186.0" width="11.2" height="11.6" fill="#0c0a08"/>
<rect x="1701.1" y="1274.0" width="11.2" height="11.6" fill="#0c0a08"/>
<rect x="1677.1" y="1291.6" width="11.2" height="11.6" fill="#0c0a08"/>
<rect x="1685.0" y="1298.9" width="11.2" height="11.6" fill="#0c0a08"/>
<rect x="1701.1" y="1314.2" width="11.2" height="11.6" fill="#0c0a08"/>
<rect x="1693.2" y="1338.6" width="11.2" height="11.6" fill="#0c0a08"/>
<path d="M1665.7 1289.5L1731.1 1289.5" stroke="#0c0a08" stroke-width="3.4"/>
<path d="M1698.0 1236.7L1698.0 1341.4" stroke="#0c0a08" stroke-width="4"/>
<path d="M1681.8 1236.7L1715.0 1236.7" stroke="#0c0a08" stroke-width="4.2"/>
<path d="M1681.8 1341.4L1715.0 1341.4" stroke="#0c0a08" stroke-width="4.2"/>
<path d="M1797.1 1339.0L1803.1 1352.0H1791.1Z" fill="#0c0a08"/>
<path d="M1772.2 1347.2L1778.2 1360.2H1766.2Z" fill="#0c0a08"/>
<path d="M1822.6 1349.3L1828.6 1362.3H1816.6Z" fill="#0c0a08"/>
<path d="M1784.5 1359.6L1790.5 1372.6H1778.5Z" fill="#0c0a08"/>
<path d="M1797.1 1366.9L1803.1 1379.9H1791.1Z" fill="#0c0a08"/>
<path d="M1810.3 1364.0L1816.3 1377.0H1804.3Z" fill="#0c0a08"/>
<path d="M1764.6 1360.5L1830.0 1360.5" stroke="#0c0a08" stroke-width="3.4"/>
<path d="M1797.1 1351.1L1797.1 1369.3" stroke="#0c0a08" stroke-width="4"/>
<path d="M1781.0 1351.1L1813.0 1351.1" stroke="#0c0a08" stroke-width="4.2"/>
<path d="M1781.0 1369.3L1813.0 1369.3" stroke="#0c0a08" stroke-width="4.2"/>
<path d="M1896.0 1282.2L1902.0 1269.2H1890.0Z" fill="#0c0a08"/>
<path d="M1896.0 1345.3L1902.0 1332.3H1890.0Z" fill="#0c0a08"/>
<path d="M1871.7 1357.0L1877.7 1344.0H1865.7Z" fill="#0c0a08"/>
<path d="M1920.1 1355.6L1926.1 1342.6H1914.1Z" fill="#0c0a08"/>
<path d="M1904.2 1360.0L1910.2 1347.0H1898.2Z" fill="#0c0a08"/>
<path d="M1888.1 1367.3L1894.1 1354.3H1882.1Z" fill="#0c0a08"/>
<path d="M1862.3 1339.4L1928.9 1339.4" stroke="#0c0a08" stroke-width="3.4"/>
<path d="M1896.0 1307.7L1896.0 1370.8" stroke="#0c0a08" stroke-width="4"/>
<path d="M1879.9 1307.7L1912.1 1307.7" stroke="#0c0a08" stroke-width="4.2"/>
<path d="M1879.9 1370.8L1912.1 1370.8" stroke="#0c0a08" stroke-width="4.2"/>
<text x="1598.8" y="927.5" font-size="31.71" textLength="83.1" lengthAdjust="spacingAndGlyphs" style="font-weight:bold">CD45</text>
<text x="1682.9" y="909.3" font-size="25.29" textLength="16.2" lengthAdjust="spacingAndGlyphs" style="font-weight:bold">+</text>
<text x="1709.6" y="927.5" font-size="31.71" textLength="64.6" lengthAdjust="spacingAndGlyphs" style="font-weight:bold">CD3</text>
<text x="1772.6" y="909.3" font-size="25.29" textLength="15.6" lengthAdjust="spacingAndGlyphs" style="font-weight:bold">+</text>
<text x="1791.9" y="927.5" font-size="31.71" textLength="65.3" lengthAdjust="spacingAndGlyphs" style="font-weight:bold">CD4</text>
<text x="1859.4" y="909.3" font-size="25.29" textLength="16.3" lengthAdjust="spacingAndGlyphs" style="font-weight:bold">+</text>
<text x="1727.1" y="980.7" font-size="27.71" fill="#000" style="font-style:italic;font-weight:normal">P</text><text x="1745.6" y="980.7" font-size="27.71" fill="#000" style="font-weight:bold" textLength="104.2" lengthAdjust="spacingAndGlyphs">=0.0713</text>
<text x="1644.2" y="1021.2" font-size="27.86" fill="#000" style="font-style:italic;font-weight:normal">P</text><text x="1662.7" y="1021.2" font-size="27.86" fill="#000" style="font-weight:bold" textLength="104.1" lengthAdjust="spacingAndGlyphs">=0.9670</text>
<text x="1591.8" y="1064.6" font-size="27.86" fill="#8b2525" style="font-style:italic;font-weight:normal">P</text><text x="1610.3" y="1064.6" font-size="27.86" fill="#8b2525" style="font-weight:bold">=0.0201</text>
<text x="1781.0" y="1064.6" font-size="27.86" fill="#000" style="font-style:italic;font-weight:normal">P</text><text x="1799.5" y="1064.6" font-size="27.86" fill="#000" style="font-weight:bold" textLength="104.0" lengthAdjust="spacingAndGlyphs">=0.1696</text>
<path d="M1691.4 991.2L1892.9 991.2" stroke="#0c0a08" stroke-width="3.8"/>
<path d="M1602.2 1032.2L1802.8 1032.2" stroke="#0c0a08" stroke-width="3.8"/>
<path d="M1602.2 1075.9L1702.5 1075.9" stroke="#0c0a08" stroke-width="3.8"/>
<path d="M1792.6 1075.9L1892.0 1075.9" stroke="#0c0a08" stroke-width="3.8"/>
<text x="1492.4" y="1425.6" font-size="21.71" textLength="51.8" lengthAdjust="spacingAndGlyphs" style="font-weight:bold">CDE</text>
<text x="1595.4" y="1421.7" font-size="30.00" textLength="8.4" lengthAdjust="spacingAndGlyphs" style="font-weight:bold">-</text>
<text x="1687.8" y="1419.9" font-size="22.75" textLength="14.3" lengthAdjust="spacingAndGlyphs" style="font-weight:bold">+</text>
<text x="1792.0" y="1421.7" font-size="30.00" textLength="8.4" lengthAdjust="spacingAndGlyphs" style="font-weight:bold">-</text>
<text x="1887.3" y="1419.9" font-size="22.75" textLength="14.3" lengthAdjust="spacingAndGlyphs" style="font-weight:bold">+</text>
<text x="1583.2" y="1472.0" font-size="26.34" textLength="99.5" lengthAdjust="spacingAndGlyphs" style="font-weight:bold">Tnfsf18</text>
<text x="1686.3" y="1457.4" font-size="18.39" textLength="29.2" lengthAdjust="spacingAndGlyphs" style="font-weight:bold">+/+</text>
<text x="1795.9" y="1472.0" font-size="26.34" textLength="99.5" lengthAdjust="spacingAndGlyphs" style="font-weight:bold">Tnfsf18</text>
<text x="1901.0" y="1455.8" font-size="18.12" textLength="18.5" lengthAdjust="spacingAndGlyphs" style="font-weight:bold">f/f</text>
<text x="1702.0" y="1526.3" font-size="27.29" textLength="68.2" lengthAdjust="spacingAndGlyphs" style="font-weight:bold">Sox9</text>
<text x="1769.6" y="1507.8" font-size="17.57" textLength="69.6" lengthAdjust="spacingAndGlyphs" style="font-weight:bold">Cre-ER</text>
<path d="M1571.8 1430.3L1734.0 1430.3" stroke="#0c0a08" stroke-width="3.8"/>
<path d="M1764.0 1430.3L1926.8 1430.3" stroke="#0c0a08" stroke-width="3.8"/>
<path d="M1572.7 1483.1L1934.2 1483.1" stroke="#0c0a08" stroke-width="3.8"/>
<text x="0" y="0" font-size="29.86" transform="translate(1488.0,1379.6) rotate(-90)" textLength="68.1" lengthAdjust="spacingAndGlyphs" style="font-weight:bold">GITR</text>
<text x="0" y="0" font-size="23.92" transform="translate(1476.9,1308.8) rotate(-90)" textLength="14.5" lengthAdjust="spacingAndGlyphs" style="font-weight:bold">+</text>
<text x="0" y="0" font-size="28.83" transform="translate(1488.0,1295.7) rotate(-90)" style="font-weight:bold">positive rate (%)</text>
<path d="M1550.6 1949.2V2248.4M1544.5 2248.4H1945.9" stroke="#0c0a08" stroke-width="2.8" fill="none"/>
<path d="M1543.1 1950.5H1550.6M1543.1 2010.1H1550.6M1543.1 2070.3H1550.6M1543.1 2130.1H1550.6M1543.1 2189.1H1550.6M1600.5 2248.4V2257.4M1699.4 2248.4V2257.4M1798.6 2248.4V2257.4M1896.9 2248.4V2257.4" stroke="#0c0a08" stroke-width="2.8" fill="none"/>
<text x="1500.6" y="1959.0" font-size="20.86" textLength="36.9" lengthAdjust="spacingAndGlyphs" style="font-weight:bold">100</text>
<text x="1512.8" y="2018.6" font-size="20.86" textLength="24.6" lengthAdjust="spacingAndGlyphs" style="font-weight:bold">80</text>
<text x="1512.8" y="2078.8" font-size="20.86" textLength="24.6" lengthAdjust="spacingAndGlyphs" style="font-weight:bold">60</text>
<text x="1512.8" y="2138.6" font-size="20.86" textLength="24.6" lengthAdjust="spacingAndGlyphs" style="font-weight:bold">40</text>
<text x="1512.8" y="2197.6" font-size="20.86" textLength="24.6" lengthAdjust="spacingAndGlyphs" style="font-weight:bold">20</text>
<text x="1525.1" y="2256.9" font-size="20.86" textLength="12.3" lengthAdjust="spacingAndGlyphs" style="font-weight:bold">0</text>
<ellipse cx="1601.1" cy="2161.8" rx="6" ry="6.6" fill="#0c0a08"/>
<ellipse cx="1609.9" cy="2167.1" rx="6" ry="6.6" fill="#0c0a08"/>
<ellipse cx="1585.0" cy="2182.3" rx="6" ry="6.6" fill="#0c0a08"/>
<ellipse cx="1592.9" cy="2196.4" rx="6" ry="6.6" fill="#0c0a08"/>
<ellipse cx="1609.0" cy="2205.8" rx="6" ry="6.6" fill="#0c0a08"/>
<ellipse cx="1601.1" cy="2227.0" rx="6" ry="6.6" fill="#0c0a08"/>
<path d="M1568.3 2189.7L1633.4 2189.7" stroke="#0c0a08" stroke-width="3.4"/>
<path d="M1600.5 2165.3L1600.5 2214.0" stroke="#0c0a08" stroke-width="4"/>
<path d="M1585.0 2165.3L1616.7 2165.3" stroke="#0c0a08" stroke-width="4.2"/>
<path d="M1585.0 2214.0L1616.7 2214.0" stroke="#0c0a08" stroke-width="4.2"/>
<rect x="1694.4" y="1995.5" width="11.2" height="11.6" fill="#0c0a08"/>
<rect x="1694.4" y="2035.7" width="11.2" height="11.6" fill="#0c0a08"/>
<rect x="1710.0" y="2107.6" width="11.2" height="11.6" fill="#0c0a08"/>
<rect x="1677.7" y="2114.3" width="11.2" height="11.6" fill="#0c0a08"/>
<rect x="1694.4" y="2121.4" width="11.2" height="11.6" fill="#0c0a08"/>
<rect x="1694.4" y="2161.3" width="11.2" height="11.6" fill="#0c0a08"/>
<path d="M1667.1 2094.3L1732.3 2094.3" stroke="#0c0a08" stroke-width="3.4"/>
<path d="M1699.4 2033.6L1699.4 2155.9" stroke="#0c0a08" stroke-width="4"/>
<path d="M1683.3 2033.6L1716.1 2033.6" stroke="#0c0a08" stroke-width="4.2"/>
<path d="M1683.3 2155.9L1716.1 2155.9" stroke="#0c0a08" stroke-width="4.2"/>
<path d="M1798.6 2150.6L1804.6 2163.6H1792.6Z" fill="#0c0a08"/>
<path d="M1798.6 2174.1L1804.6 2187.1H1792.6Z" fill="#0c0a08"/>
<path d="M1789.8 2190.2L1795.8 2203.2H1783.8Z" fill="#0c0a08"/>
<path d="M1814.4 2194.6L1820.4 2207.6H1808.4Z" fill="#0c0a08"/>
<path d="M1806.5 2207.2L1812.5 2220.2H1800.5Z" fill="#0c0a08"/>
<path d="M1790.4 2212.2L1796.4 2225.2H1784.4Z" fill="#0c0a08"/>
<path d="M1765.4 2194.7L1830.9 2194.7" stroke="#0c0a08" stroke-width="3.4"/>
<path d="M1798.6 2172.1L1798.6 2217.0" stroke="#0c0a08" stroke-width="4"/>
<path d="M1783.0 2172.1L1814.7 2172.1" stroke="#0c0a08" stroke-width="4.2"/>
<path d="M1783.0 2217.0L1814.7 2217.0" stroke="#0c0a08" stroke-width="4.2"/>
<path d="M1881.3 2145.7L1887.3 2132.7H1875.3Z" fill="#0c0a08"/>
<path d="M1905.4 2142.2L1911.4 2129.2H1899.4Z" fill="#0c0a08"/>
<path d="M1889.3 2157.5L1895.3 2144.5H1883.3Z" fill="#0c0a08"/>
<path d="M1913.0 2170.1L1919.0 2157.1H1907.0Z" fill="#0c0a08"/>
<path d="M1904.2 2175.9L1910.2 2162.9H1898.2Z" fill="#0c0a08"/>
<path d="M1889.3 2192.1L1895.3 2179.1H1883.3Z" fill="#0c0a08"/>
<path d="M1863.7 2159.5L1929.8 2159.5" stroke="#0c0a08" stroke-width="3.4"/>
<path d="M1896.9 2140.7L1896.9 2178.0" stroke="#0c0a08" stroke-width="4"/>
<path d="M1881.3 2140.7L1913.0 2140.7" stroke="#0c0a08" stroke-width="4.2"/>
<path d="M1881.3 2178.0L1913.0 2178.0" stroke="#0c0a08" stroke-width="4.2"/>
<text x="1598.8" y="1785.7" font-size="31.71" textLength="83.1" lengthAdjust="spacingAndGlyphs" style="font-weight:bold">CD45</text>
<text x="1682.9" y="1767.5" font-size="25.29" textLength="16.2" lengthAdjust="spacingAndGlyphs" style="font-weight:bold">+</text>
<text x="1709.6" y="1785.7" font-size="31.71" textLength="64.6" lengthAdjust="spacingAndGlyphs" style="font-weight:bold">CD3</text>
<text x="1772.6" y="1767.5" font-size="25.29" textLength="15.6" lengthAdjust="spacingAndGlyphs" style="font-weight:bold">+</text>
<text x="1791.9" y="1785.7" font-size="31.71" textLength="66.1" lengthAdjust="spacingAndGlyphs" style="font-weight:bold">CD8</text>
<text x="1859.4" y="1767.5" font-size="25.29" textLength="16.3" lengthAdjust="spacingAndGlyphs" style="font-weight:bold">+</text>
<text x="1727.1" y="1837.8" font-size="26.57" fill="#8b2525" style="font-style:italic;font-weight:normal">P</text><text x="1744.8" y="1837.8" font-size="26.57" fill="#8b2525" style="font-weight:bold" textLength="104.1" lengthAdjust="spacingAndGlyphs">=0.0484</text>
<text x="1644.2" y="1879.0" font-size="27.86" fill="#000" style="font-style:italic;font-weight:normal">P</text><text x="1662.7" y="1879.0" font-size="27.86" fill="#000" style="font-weight:bold" textLength="104.1" lengthAdjust="spacingAndGlyphs">=0.7462</text>
<text x="1591.8" y="1921.0" font-size="27.86" fill="#8b2525" style="font-style:italic;font-weight:normal">P</text><text x="1610.3" y="1921.0" font-size="27.86" fill="#8b2525" style="font-weight:bold">=0.0052</text>
<text x="1781.0" y="1921.0" font-size="27.86" fill="#8b2525" style="font-style:italic;font-weight:normal">P</text><text x="1799.5" y="1921.0" font-size="27.86" fill="#8b2525" style="font-weight:bold" textLength="103.7" lengthAdjust="spacingAndGlyphs">=0.0141</text>
<path d="M1691.4 1848.8L1892.9 1848.8" stroke="#0c0a08" stroke-width="3.8"/>
<path d="M1602.2 1890.1L1802.8 1890.1" stroke="#0c0a08" stroke-width="3.8"/>
<path d="M1602.2 1934.1L1702.5 1934.1" stroke="#0c0a08" stroke-width="3.8"/>
<path d="M1792.6 1934.1L1892.0 1934.1" stroke="#0c0a08" stroke-width="3.8"/>
<text x="1492.4" y="2283.8" font-size="21.71" textLength="51.8" lengthAdjust="spacingAndGlyphs" style="font-weight:bold">CDE</text>
<text x="1595.4" y="2279.9" font-size="30.00" textLength="8.4" lengthAdjust="spacingAndGlyphs" style="font-weight:bold">-</text>
<text x="1687.8" y="2278.1" font-size="22.75" textLength="14.3" lengthAdjust="spacingAndGlyphs" style="font-weight:bold">+</text>
<text x="1792.0" y="2279.9" font-size="30.00" textLength="8.4" lengthAdjust="spacingAndGlyphs" style="font-weight:bold">-</text>
<text x="1887.3" y="2278.1" font-size="22.75" textLength="14.3" lengthAdjust="spacingAndGlyphs" style="font-weight:bold">+</text>
<text x="1583.2" y="2330.2" font-size="26.34" textLength="99.5" lengthAdjust="spacingAndGlyphs" style="font-weight:bold">Tnfsf18</text>
<text x="1686.3" y="2315.6" font-size="18.39" textLength="29.2" lengthAdjust="spacingAndGlyphs" style="font-weight:bold">+/+</text>
<text x="1795.9" y="2330.2" font-size="26.34" textLength="99.5" lengthAdjust="spacingAndGlyphs" style="font-weight:bold">Tnfsf18</text>
<text x="1901.0" y="2314.0" font-size="18.12" textLength="18.5" lengthAdjust="spacingAndGlyphs" style="font-weight:bold">f/f</text>
<text x="1714.7" y="2384.5" font-size="27.29" textLength="68.2" lengthAdjust="spacingAndGlyphs" style="font-weight:bold">Sox9</text>
<text x="1782.3" y="2366.0" font-size="17.57" textLength="69.6" lengthAdjust="spacingAndGlyphs" style="font-weight:bold">Cre-ER</text>
<path d="M1571.8 2288.5L1734.0 2288.5" stroke="#0c0a08" stroke-width="3.8"/>
<path d="M1764.0 2288.5L1926.8 2288.5" stroke="#0c0a08" stroke-width="3.8"/>
<path d="M1572.7 2341.3L1934.2 2341.3" stroke="#0c0a08" stroke-width="3.8"/>
<text x="0" y="0" font-size="29.86" transform="translate(1488.0,2237.1) rotate(-90)" textLength="67.8" lengthAdjust="spacingAndGlyphs" style="font-weight:bold">GITR</text>
<text x="0" y="0" font-size="23.92" transform="translate(1476.9,2170.6) rotate(-90)" style="font-weight:bold">+</text>
<text x="0" y="0" font-size="28.83" transform="translate(1488.0,2153.5) rotate(-90)" style="font-weight:bold">positive rate (%)</text>
</svg>
</body></html>
